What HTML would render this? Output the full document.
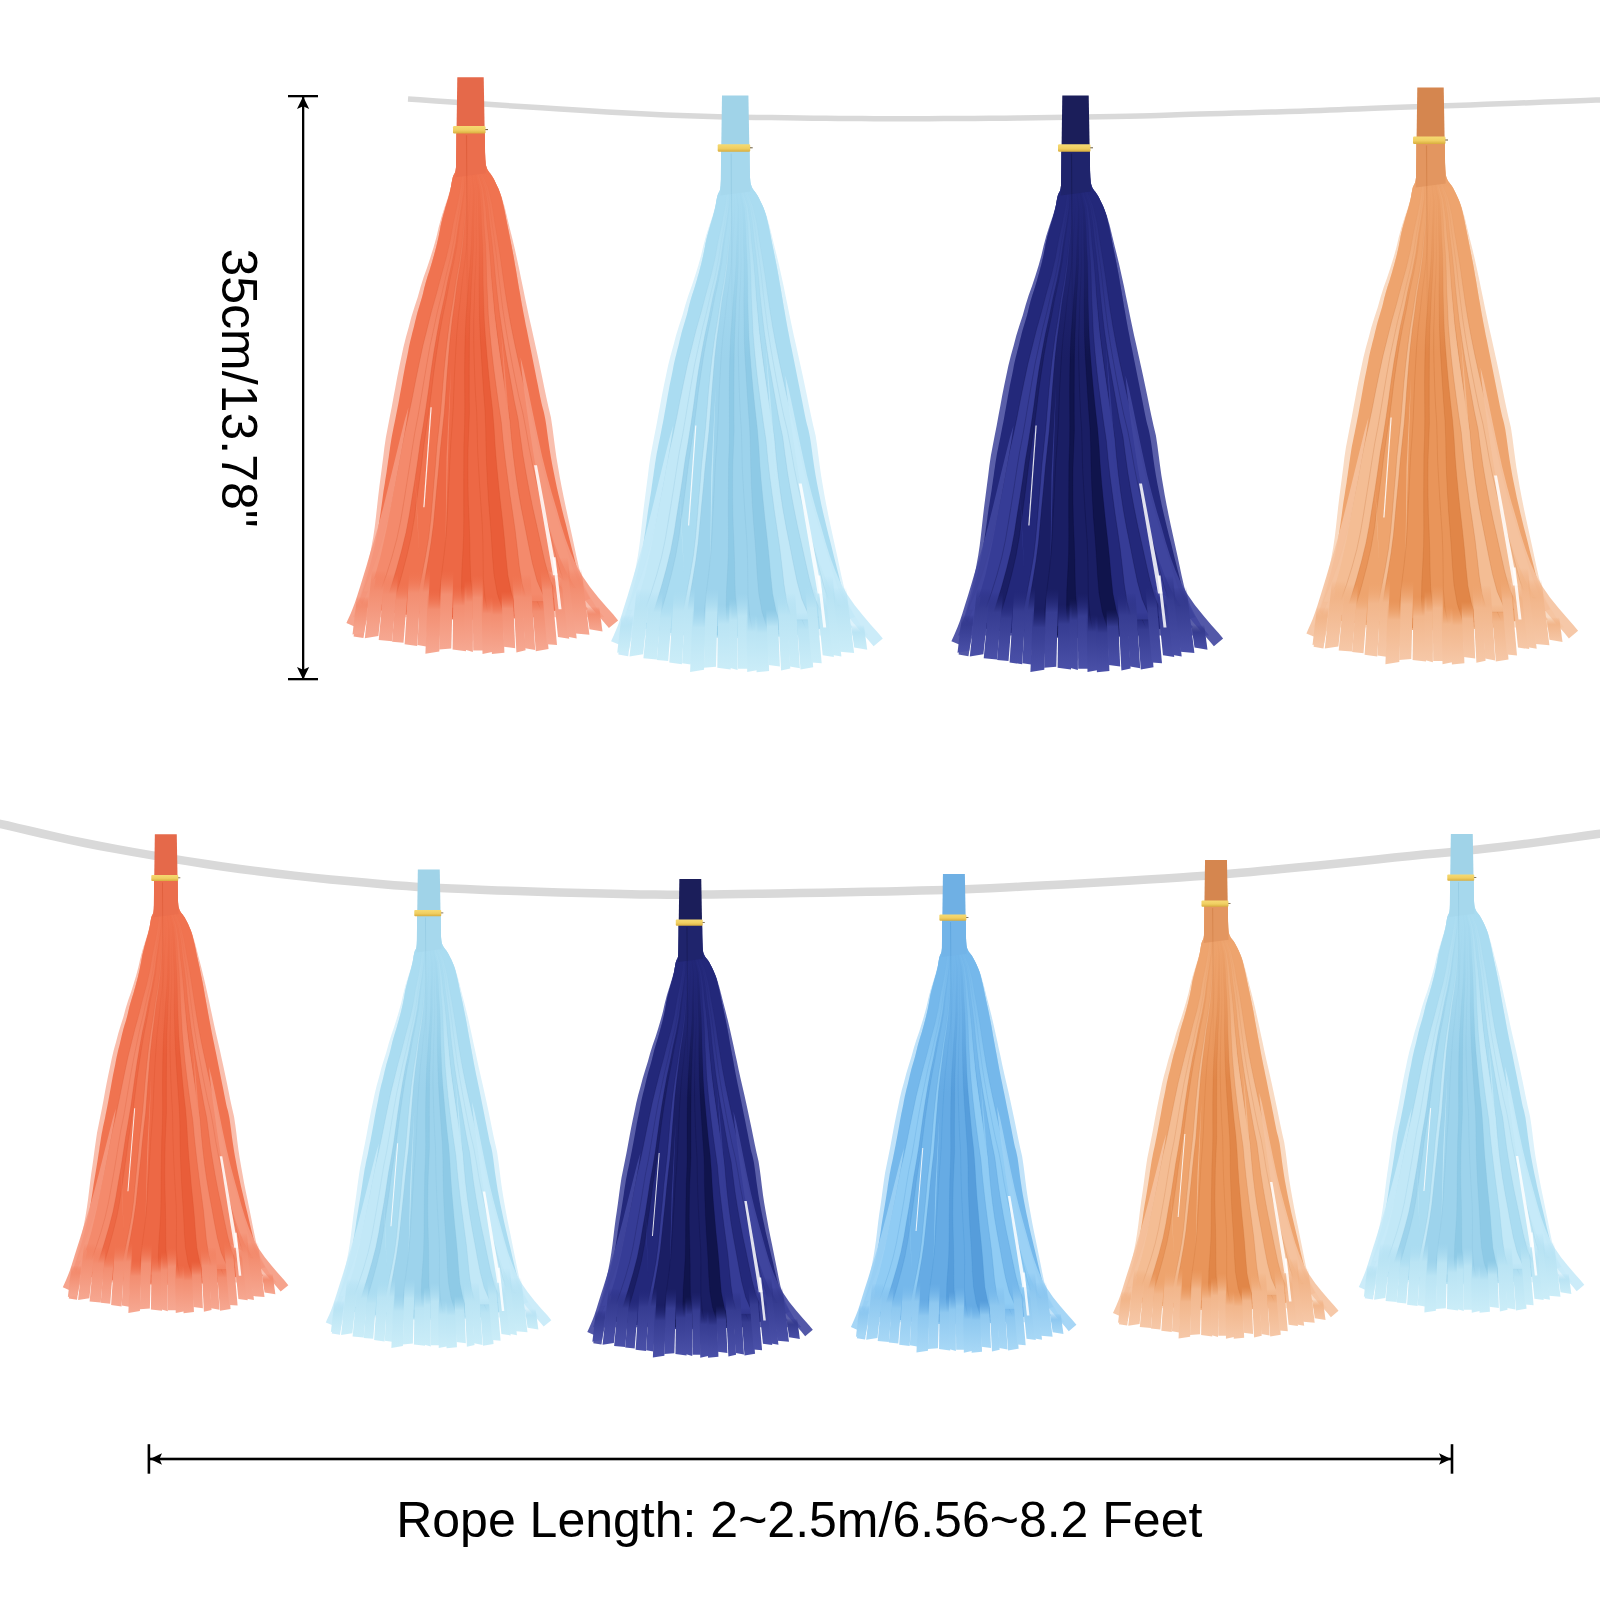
<!DOCTYPE html>
<html><head><meta charset="utf-8"><title>Tassel Garland</title><style>html,body{margin:0;padding:0;background:#fff;width:1600px;height:1600px;overflow:hidden}svg{display:block}text{font-family:"Liberation Sans",sans-serif;fill:#000}</style></head><body>
<svg width="1600" height="1600" viewBox="0 0 1600 1600">
<rect width="1600" height="1600" fill="#fff"/>
<defs>
<linearGradient id="tip0" gradientUnits="userSpaceOnUse" x1="0" y1="480" x2="0" y2="590"><stop offset="0" stop-color="#F6A892" stop-opacity="0"/><stop offset="0.6" stop-color="#F6A892" stop-opacity="0.55"/><stop offset="1" stop-color="#F6A892" stop-opacity="0.7"/></linearGradient>
<linearGradient id="tip1" gradientUnits="userSpaceOnUse" x1="0" y1="480" x2="0" y2="590"><stop offset="0" stop-color="#CBEDF8" stop-opacity="0"/><stop offset="0.6" stop-color="#CBEDF8" stop-opacity="0.55"/><stop offset="1" stop-color="#CBEDF8" stop-opacity="0.7"/></linearGradient>
<linearGradient id="tip2" gradientUnits="userSpaceOnUse" x1="0" y1="480" x2="0" y2="590"><stop offset="0" stop-color="#4A50A8" stop-opacity="0"/><stop offset="0.6" stop-color="#4A50A8" stop-opacity="0.55"/><stop offset="1" stop-color="#4A50A8" stop-opacity="0.7"/></linearGradient>
<linearGradient id="tip3" gradientUnits="userSpaceOnUse" x1="0" y1="480" x2="0" y2="590"><stop offset="0" stop-color="#F6C8A8" stop-opacity="0"/><stop offset="0.6" stop-color="#F6C8A8" stop-opacity="0.55"/><stop offset="1" stop-color="#F6C8A8" stop-opacity="0.7"/></linearGradient>
<linearGradient id="tip4" gradientUnits="userSpaceOnUse" x1="0" y1="480" x2="0" y2="590"><stop offset="0" stop-color="#F6A892" stop-opacity="0"/><stop offset="0.6" stop-color="#F6A892" stop-opacity="0.55"/><stop offset="1" stop-color="#F6A892" stop-opacity="0.7"/></linearGradient>
<linearGradient id="tip5" gradientUnits="userSpaceOnUse" x1="0" y1="480" x2="0" y2="590"><stop offset="0" stop-color="#CBEDF8" stop-opacity="0"/><stop offset="0.6" stop-color="#CBEDF8" stop-opacity="0.55"/><stop offset="1" stop-color="#CBEDF8" stop-opacity="0.7"/></linearGradient>
<linearGradient id="tip6" gradientUnits="userSpaceOnUse" x1="0" y1="480" x2="0" y2="590"><stop offset="0" stop-color="#4A50A8" stop-opacity="0"/><stop offset="0.6" stop-color="#4A50A8" stop-opacity="0.55"/><stop offset="1" stop-color="#4A50A8" stop-opacity="0.7"/></linearGradient>
<linearGradient id="tip7" gradientUnits="userSpaceOnUse" x1="0" y1="480" x2="0" y2="590"><stop offset="0" stop-color="#A8D8F6" stop-opacity="0"/><stop offset="0.6" stop-color="#A8D8F6" stop-opacity="0.55"/><stop offset="1" stop-color="#A8D8F6" stop-opacity="0.7"/></linearGradient>
<linearGradient id="tip8" gradientUnits="userSpaceOnUse" x1="0" y1="480" x2="0" y2="590"><stop offset="0" stop-color="#F6C8A8" stop-opacity="0"/><stop offset="0.6" stop-color="#F6C8A8" stop-opacity="0.55"/><stop offset="1" stop-color="#F6C8A8" stop-opacity="0.7"/></linearGradient>
<linearGradient id="tip9" gradientUnits="userSpaceOnUse" x1="0" y1="480" x2="0" y2="590"><stop offset="0" stop-color="#CBEDF8" stop-opacity="0"/><stop offset="0.6" stop-color="#CBEDF8" stop-opacity="0.55"/><stop offset="1" stop-color="#CBEDF8" stop-opacity="0.7"/></linearGradient>
<linearGradient id="end0" x1="0" y1="0" x2="0" y2="1"><stop offset="0" stop-color="#F07350" stop-opacity="0"/><stop offset="0.3" stop-color="#f38e71" stop-opacity="1"/><stop offset="1" stop-color="#F6A892" stop-opacity="1"/></linearGradient>
<linearGradient id="end1" x1="0" y1="0" x2="0" y2="1"><stop offset="0" stop-color="#AADCF1" stop-opacity="0"/><stop offset="0.3" stop-color="#bae4f4" stop-opacity="1"/><stop offset="1" stop-color="#CBEDF8" stop-opacity="1"/></linearGradient>
<linearGradient id="end2" x1="0" y1="0" x2="0" y2="1"><stop offset="0" stop-color="#23287A" stop-opacity="0"/><stop offset="0.3" stop-color="#363c91" stop-opacity="1"/><stop offset="1" stop-color="#4A50A8" stop-opacity="1"/></linearGradient>
<linearGradient id="end3" x1="0" y1="0" x2="0" y2="1"><stop offset="0" stop-color="#EEA46E" stop-opacity="0"/><stop offset="0.3" stop-color="#f2b68b" stop-opacity="1"/><stop offset="1" stop-color="#F6C8A8" stop-opacity="1"/></linearGradient>
<linearGradient id="end4" x1="0" y1="0" x2="0" y2="1"><stop offset="0" stop-color="#F07350" stop-opacity="0"/><stop offset="0.3" stop-color="#f38e71" stop-opacity="1"/><stop offset="1" stop-color="#F6A892" stop-opacity="1"/></linearGradient>
<linearGradient id="end5" x1="0" y1="0" x2="0" y2="1"><stop offset="0" stop-color="#AADCF1" stop-opacity="0"/><stop offset="0.3" stop-color="#bae4f4" stop-opacity="1"/><stop offset="1" stop-color="#CBEDF8" stop-opacity="1"/></linearGradient>
<linearGradient id="end6" x1="0" y1="0" x2="0" y2="1"><stop offset="0" stop-color="#23287A" stop-opacity="0"/><stop offset="0.3" stop-color="#363c91" stop-opacity="1"/><stop offset="1" stop-color="#4A50A8" stop-opacity="1"/></linearGradient>
<linearGradient id="end7" x1="0" y1="0" x2="0" y2="1"><stop offset="0" stop-color="#75B8EB" stop-opacity="0"/><stop offset="0.3" stop-color="#8ec8f0" stop-opacity="1"/><stop offset="1" stop-color="#A8D8F6" stop-opacity="1"/></linearGradient>
<linearGradient id="end8" x1="0" y1="0" x2="0" y2="1"><stop offset="0" stop-color="#EEA46E" stop-opacity="0"/><stop offset="0.3" stop-color="#f2b68b" stop-opacity="1"/><stop offset="1" stop-color="#F6C8A8" stop-opacity="1"/></linearGradient>
<linearGradient id="end9" x1="0" y1="0" x2="0" y2="1"><stop offset="0" stop-color="#AADCF1" stop-opacity="0"/><stop offset="0.3" stop-color="#bae4f4" stop-opacity="1"/><stop offset="1" stop-color="#CBEDF8" stop-opacity="1"/></linearGradient>
<clipPath id="tc0" clipPathUnits="userSpaceOnUse"><path d="M14.2,56 14.3,59.8 14.3,65.3 14.4,71.5 14.6,77.4 14.8,82 15.1,85.1 15.3,87.2 15.7,88.9 16.2,90.4 16.8,92 17.7,93.6 18.7,95 19.8,96.4 21,98 22.3,100 23.7,102.6 25.1,105.5 26.6,108.7 28.1,111.9 29.3,115 30.3,118 31.2,121 31.9,124 32.6,127 33.3,130 33.9,132.8 34.4,135.3 34.9,137.9 35.5,141 36.3,145 37.3,150 38.5,155.9 39.8,162.3 41.1,168.8 42.3,175 43.4,181 44.4,187 45.5,193 46.5,199 47.5,205 48.5,211 49.6,217 50.6,223 51.7,229 52.8,235 54,241 55.1,247 56.4,253 57.6,259 58.8,265 60,271 61.2,277 62.4,283 63.6,289 64.8,295 66,301.2 67.3,307.6 68.5,313.9 69.7,319.8 70.8,325 71.7,328.9 72.5,331.7 73.2,334.3 73.9,337.5 74.8,342 75.8,348.3 76.8,355.7 77.9,363.9 79.1,372.1 80.4,380 81.7,387.4 83.2,394.8 84.7,402.2 86.2,409.6 87.9,417 89.7,424.6 91.5,432.2 93.4,439.8 95.4,447.4 97.3,455 99.2,462.8 101.2,470.7 103.2,478.5 105,485.8 106.8,492 108.3,497 109.6,500.9 110.9,504.3 112.3,507.5 114,511 115.7,514.4 116.3,515.4 117.2,517 118.3,519 119.9,521.6 110,524.7 97.3,528 88.1,531.7 80,535.6 70.8,538.7 59.2,540.3 46.3,541.1 33.5,541.6 21,542.2 8.5,542.6 -4,542.6 -16.5,542.3 -29,541.6 -41.5,540.6 -54.4,539 -67.2,537 -79,535 -89.6,533.4 -99.1,531.8 -107,529 -111.4,523.7 -109.1,517.2 -107.5,512.6 -107,511 -105.8,507.2 -104.7,503.4 -103.6,499.6 -102.5,495.8 -101.5,492 -100.5,488.2 -99.5,484.4 -98.6,480.5 -97.7,476.7 -96.8,473 -96,469.4 -95.2,465.8 -94.4,462.2 -93.7,458.6 -93,455 -92.3,451.3 -91.7,447.5 -91.1,443.6 -90.6,439.8 -90,436 -89.5,432.2 -88.9,428.4 -88.4,424.5 -87.9,420.7 -87.4,417 -86.9,413.4 -86.3,409.8 -85.7,406.2 -85.2,402.6 -84.6,399 -84,395.3 -83.5,391.5 -82.9,387.6 -82.4,383.8 -81.8,380 -81.3,376.2 -80.7,372.4 -80.2,368.6 -79.6,364.8 -79,361 -78.3,357.2 -77.5,353.4 -76.8,349.6 -76,345.8 -75.2,342 -74.5,338.3 -73.8,334.8 -73.1,331.2 -72.3,327.4 -71.5,323 -70.6,317.8 -69.5,311.8 -68.4,305.7 -67.4,299.9 -66.5,295 -65.8,291.2 -65.2,288.1 -64.6,285.4 -64.1,282.8 -63.5,280 -62.9,277 -62.3,274 -61.8,271 -61.2,268 -60.5,265 -59.8,262 -59,259 -58.3,256 -57.5,253 -56.7,250 -56,247 -55.3,244 -54.5,241 -53.8,238 -53,235 -52.1,232 -51.2,229 -50.3,226 -49.4,223 -48.5,220 -47.7,217 -47,214 -46.3,211 -45.5,208 -44.7,205 -43.8,202 -42.9,199 -41.9,196 -40.9,193 -40,190 -39.1,187 -38.2,184 -37.4,181 -36.5,178 -35.7,175 -34.9,172 -34.1,169 -33.4,166 -32.7,163 -32,160 -31.4,157 -30.8,154 -30.2,151 -29.7,148 -29,145 -28.3,142 -27.5,139 -26.7,136 -25.8,133 -25,130 -24.1,127 -23.2,124 -22.3,121 -21.5,118 -20.7,115 -20,111.9 -19.4,108.8 -18.9,105.6 -18.3,102.7 -17.7,100 -17,98.1 -16.3,96.8 -15.6,95.5 -15,93.5 -14.5,90 -14.2,84.2 -14.1,76.5 -14,68.3 -14,61 -14,56Z"/>
<path d="M-7.1,58 -7.6,75.6 -8,93.1 -10.1,110.7 -13.4,128.3 -17.2,145.8 -20.3,163.4 -24.4,180.9 -29.3,198.5 -33.9,216.1 -38.9,233.6 -43.3,251.2 -47.7,268.8 -51.4,286.3 -55,303.9 -58.4,321.4 -62.1,339 -66.1,356.6 -69.5,374.1 -72.7,391.7 -76.2,409.3 -79.7,426.8 -83.4,444.4 -88,461.9 -93.6,479.5 -100.1,497.1 -107.6,514.6 -90.2,514.6 -84,497.1 -78.5,479.5 -73.7,461.9 -70,444.4 -67,426.8 -64.2,409.3 -61.4,391.7 -58.7,374.1 -55.9,356.6 -52.5,339 -49.5,321.4 -46.6,303.9 -43.6,286.3 -40.5,268.8 -36.7,251.2 -32.9,233.6 -28.5,216.1 -24.5,198.5 -20.1,180.9 -16.6,163.4 -13.9,145.8 -10.6,128.3 -7.9,110.7 -6.5,93.1 -6.3,75.6 -5.9,58Z"/>
<path d="M-6.7,58 -7.1,76.1 -7.5,94.1 -9.5,112.2 -12.9,130.2 -16.5,148.3 -19.6,166.4 -23.8,184.4 -28.7,202.5 -33,220.6 -37.8,238.6 -42,256.7 -45.8,274.7 -49.2,292.8 -52.5,310.9 -55.8,328.9 -59.4,347 -63.3,365 -66.5,383.1 -70,401.2 -73.8,419.2 -77.5,437.3 -81.9,455.3 -87.3,473.4 -93.6,491.5 -100.5,509.5 -108.6,527.6 -85.4,527.6 -79.4,509.5 -73.9,491.5 -68.9,473.4 -64.5,455.3 -61.1,437.3 -58.3,419.2 -55.4,401.2 -52.7,383.1 -50.2,365 -47.1,347 -44.3,328.9 -41.7,310.9 -39.3,292.8 -36.6,274.7 -33.5,256.7 -30.1,238.6 -26.1,220.6 -22.5,202.5 -18.3,184.4 -14.8,166.4 -12.3,148.3 -9.3,130.2 -6.6,112.2 -5.6,94.1 -5.5,76.1 -5.2,58Z"/>
<path d="M-6,58 -6.3,76.1 -6.5,94.1 -8,112.2 -11,130.2 -14.3,148.3 -17,166.3 -20.7,184.4 -25.2,202.4 -28.9,220.5 -33.1,238.5 -36.7,256.6 -40,274.6 -43,292.7 -45.8,310.8 -48.8,328.8 -52.3,346.9 -56.1,364.9 -59.3,383 -62.8,401 -66.5,419.1 -70.1,437.1 -74,455.2 -78.8,473.2 -84.1,491.3 -89.7,509.3 -95.9,527.4 -70.5,527.4 -66.5,509.3 -62.5,491.3 -58.5,473.2 -54.9,455.2 -52,437.1 -49.5,419.1 -46.7,401 -44.1,383 -41.7,364.9 -38.7,346.9 -36.2,328.8 -34,310.8 -32,292.7 -29.8,274.6 -27.4,256.6 -24.7,238.5 -21.3,220.5 -18.4,202.4 -14.7,184.4 -11.8,166.3 -9.7,148.3 -7.1,130.2 -4.8,112.2 -4.4,94.1 -4.5,76.1 -4.3,58Z"/>
<path d="M-4.9,58 -5.1,76.3 -5.1,94.6 -5.8,112.9 -8.4,131.2 -11.2,149.5 -13.5,167.8 -16.9,186 -20.9,204.3 -24.3,222.6 -28.1,240.9 -31.4,259.2 -34.2,277.5 -36.8,295.8 -39,314.1 -41.4,332.4 -44.1,350.7 -46.8,369 -49,387.3 -51.4,405.5 -53.9,423.8 -56.3,442.1 -59.5,460.4 -63.7,478.7 -68.5,497 -73.7,515.3 -79.3,533.6 -55.4,533.6 -52,515.3 -48.4,497 -44.9,478.7 -41.8,460.4 -39.7,442.1 -38.1,423.8 -36.6,405.5 -35,387.3 -33.6,369 -31.6,350.7 -29.7,332.4 -28.2,314.1 -26.7,295.8 -24.9,277.5 -22.8,259.2 -20.4,240.9 -17.4,222.6 -14.7,204.3 -11.4,186 -8.7,167.8 -6.9,149.5 -4.8,131.2 -2.9,112.9 -3.1,94.6 -3.5,76.3 -3.3,58Z"/>
<path d="M-4.2,58 -4.4,76.3 -4.2,94.6 -4.5,112.9 -6.8,131.3 -9.2,149.6 -11.1,167.9 -14,186.2 -17.4,204.5 -20.3,222.8 -23.4,241.1 -26.1,259.5 -28.4,277.8 -30.7,296.1 -32.9,314.4 -35.2,332.7 -38.2,351 -41.2,369.3 -43.7,387.7 -46.3,406 -48.7,424.3 -50.9,442.6 -53.4,460.9 -56.4,479.2 -59.6,497.5 -62.8,515.9 -65.7,534.2 -36.9,534.2 -36.6,515.9 -35.5,497.5 -33.8,479.2 -32.1,460.9 -30.8,442.6 -29.8,424.3 -28.4,406 -26.9,387.7 -25.2,369.3 -23.1,351 -21.2,332.7 -19.8,314.4 -18.6,296.1 -17.2,277.8 -15.8,259.5 -14.1,241.1 -11.9,222.8 -9.9,204.5 -7.3,186.2 -5.3,167.9 -4.1,149.6 -2.4,131.3 -1,112.9 -1.8,94.6 -2.5,76.3 -2.3,58Z"/>
<path d="M-3.1,58 -3.3,76.5 -2.7,95 -2.4,113.5 -4.1,132 -6.1,150.5 -7.7,169 -10.2,187.5 -13.3,206 -15.7,224.5 -18.3,243 -20.4,261.5 -22,280 -23.5,298.5 -24.8,317 -26.2,335.5 -28.2,354 -30.2,372.6 -31.8,391.1 -33.6,409.6 -35.3,428.1 -37,446.6 -39.4,465.1 -42.4,483.6 -45.6,502.1 -48.4,520.6 -50.6,539.1 -23.3,539.1 -23.9,520.6 -23.1,502.1 -21.4,483.6 -19.7,465.1 -18.4,446.6 -17.7,428.1 -17,409.6 -16.2,391.1 -15.4,372.6 -14.3,354 -13.2,335.5 -12.8,317 -12.3,298.5 -11.7,280 -10.9,261.5 -9.7,243 -8,224.5 -6.3,206 -4.1,187.5 -2.3,169 -1.4,150.5 -0.1,132 0.9,113.5 -0.5,95 -1.5,76.5 -1.4,58Z"/>
<path d="M-2.5,58 -2.6,76.5 -1.8,94.9 -1,113.4 -2.4,131.8 -4,150.3 -5.3,168.8 -7.5,187.2 -10.3,205.7 -12.5,224.1 -15,242.6 -16.9,261.1 -18.4,279.5 -19.7,298 -20.8,316.5 -21.7,334.9 -23.2,353.4 -24.4,371.8 -25.2,390.3 -26,408.8 -26.7,427.2 -27.5,445.7 -28.9,464.1 -31.1,482.6 -33.8,501.1 -36.2,519.5 -38,538 -8.5,538 -9.5,519.5 -9.3,501.1 -8.3,482.6 -7.4,464.1 -7.2,445.7 -7.7,427.2 -8,408.8 -8.3,390.3 -8.4,371.8 -8,353.4 -7.5,334.9 -7.6,316.5 -7.5,298 -7.1,279.5 -6.6,261.1 -5.6,242.6 -4.1,224.1 -2.7,205.7 -0.8,187.2 0.6,168.8 1.1,150.3 2,131.8 2.5,113.4 0.5,94.9 -0.6,76.5 -0.7,58Z"/>
<path d="M-1.5,58 -1.5,76.5 -0.5,95.1 0.9,113.6 0,132.1 -1.2,150.7 -2,169.2 -3.6,187.7 -5.7,206.3 -7.3,224.8 -8.9,243.4 -10.1,261.9 -10.9,280.4 -11.6,299 -12.2,317.5 -12.8,336 -14.1,354.6 -15.3,373.1 -16.2,391.6 -17,410.2 -17.5,428.7 -17.9,447.2 -18.7,465.8 -20,484.3 -21.1,502.8 -21.3,521.4 -20.1,539.9 9.7,539.9 5.6,521.4 3.5,502.8 3,484.3 2.9,465.8 2.4,447.2 1.7,428.7 1.1,410.2 0.9,391.6 0.7,373.1 1.1,354.6 1.5,336 1,317.5 0.6,299 0.4,280.4 0.3,261.9 0.5,243.4 1.2,224.8 1.9,206.3 3.1,187.7 3.9,169.2 4,150.7 4.4,132.1 4.5,113.6 1.9,95.1 0.4,76.5 0.3,58Z"/>
<path d="M-0.9,58 -0.8,76.5 0.4,95.1 2.3,113.6 1.7,132.2 0.8,150.7 0.2,169.3 -1.2,187.8 -3,206.4 -4.3,224.9 -5.7,243.4 -6.6,262 -7.1,280.5 -7.4,299.1 -7.5,317.6 -7.4,336.2 -8.1,354.7 -8.7,373.3 -8.8,391.8 -9,410.3 -8.9,428.9 -8.8,447.4 -9.4,466 -10.4,484.5 -11.5,503.1 -11.5,521.6 -10,540.2 22.4,540.2 17.7,521.6 15.3,503.1 14.5,484.5 14.1,466 13.2,447.4 11.9,428.9 10.6,410.3 9.6,391.8 8.8,373.3 8.4,354.7 8,336.2 6.8,317.6 5.9,299.1 5.2,280.5 4.7,262 4.5,243.4 4.9,224.9 5.2,206.4 6.1,187.8 6.6,169.3 6.4,150.7 6.5,132.2 6.1,113.6 3,95.1 1.3,76.5 1.1,58Z"/>
<path d="M-0.1,58 0,76.5 1.4,94.9 3.8,113.4 3.6,131.9 3.1,150.4 3,168.8 2.1,187.3 0.9,205.8 0.1,224.3 -0.7,242.7 -1.1,261.2 -1.2,279.7 -1.3,298.2 -1.3,316.6 -1.1,335.1 -1.8,353.6 -2.5,372 -2.6,390.5 -2.5,409 -2.1,427.5 -1.3,445.9 -0.7,464.4 -0.4,482.9 0.2,501.4 2.2,519.8 6,538.3 35.5,538.3 28.9,519.8 24.7,501.4 22.5,482.9 20.8,464.4 19,445.9 17,427.5 15.5,409 14.4,390.5 13.6,372 13.4,353.6 13.1,335.1 11.9,316.6 11,298.2 10.1,279.7 9.3,261.2 8.7,242.7 8.6,224.3 8.5,205.8 8.8,187.3 8.9,168.8 8.3,150.4 8,131.9 7.3,113.4 3.7,94.9 2,76.5 1.7,58Z"/>
<path d="M0.7,58 1,76.5 2.6,95 5.6,113.5 5.9,131.9 5.7,150.4 5.9,168.9 5.3,187.4 4.3,205.9 3.8,224.4 3.2,242.9 3.2,261.4 3.6,279.8 4.2,298.3 5,316.8 6.2,335.3 6.7,353.8 7.1,372.3 8.1,390.8 9.2,409.3 10.4,427.7 11.7,446.2 12.4,464.7 12.6,483.2 12.8,501.7 14.4,520.2 17.9,538.7 47.5,538.7 41.1,520.2 37.3,501.7 35.5,483.2 33.9,464.7 31.9,446.2 29.5,427.7 27.2,409.3 25.1,390.8 23.2,372.3 21.8,353.8 20.4,335.3 18.2,316.8 16.4,298.3 14.9,279.8 13.6,261.4 12.6,242.9 12.2,224.4 11.9,205.9 12,187.4 11.7,168.9 10.9,150.4 10.3,131.9 9.1,113.5 4.9,95 2.9,76.5 2.6,58Z"/>
<path d="M1.7,58 1.9,76.3 3.6,94.6 7.3,112.9 8.1,131.3 8.3,149.6 8.9,167.9 8.9,186.2 8.6,204.5 8.8,222.8 9,241.1 9.7,259.4 10.8,277.8 11.9,296.1 13.1,314.4 14.5,332.7 15.2,351 15.5,369.3 16.1,387.6 17,405.9 18.1,424.3 19.6,442.6 20.9,460.9 22,479.2 23.5,497.5 26.7,515.8 32.3,534.1 58.8,534.1 50.7,515.8 45.7,497.5 42.8,479.2 40.4,460.9 37.9,442.6 35.4,424.3 33.4,405.9 31.6,387.6 30.1,369.3 29,351 27.4,332.7 25.1,314.4 23,296.1 21,277.8 19.1,259.4 17.5,241.1 16.5,222.8 15.5,204.5 15,186.2 14.3,167.9 13,149.6 12.1,131.3 10.5,112.9 5.8,94.6 3.7,76.3 3.4,58Z"/>
<path d="M2.6,58 2.9,76.3 4.9,94.7 9.2,113 10.5,131.3 11.1,149.7 12.1,168 12.5,186.4 12.6,204.7 13.1,223 13.7,241.4 14.9,259.7 16.4,278 18.1,296.4 20,314.7 22.1,333 23.6,351.4 24.7,369.7 26.2,388 28,406.4 29.9,424.7 32,443.1 33.9,461.4 35.5,479.7 37.4,498.1 41.1,516.4 47.4,534.7 71.5,534.7 63,516.4 57.5,498.1 54.4,479.7 51.7,461.4 48.7,443.1 45.6,424.7 42.8,406.4 40.3,388 38,369.7 36.2,351.4 33.8,333 30.8,314.7 28.2,296.4 25.7,278 23.5,259.7 21.5,241.4 20.1,223 18.8,204.7 18,186.4 16.9,168 15.4,149.7 14.1,131.3 12.1,113 6.9,94.7 4.6,76.3 4.1,58Z"/>
<path d="M3.4,58 3.9,75.9 5.8,93.9 10.7,111.8 12.6,129.8 13.5,147.7 14.9,165.6 15.7,183.6 16.1,201.5 17,219.4 17.8,237.4 19.3,255.3 21.1,273.3 23.2,291.2 25.6,309.1 28.1,327.1 30.8,345 32.5,363 34.5,380.9 36.9,398.8 39.3,416.8 42,434.7 44.6,452.7 46.7,470.6 48.7,488.5 51.5,506.5 56.8,524.4 79.6,524.4 72.4,506.5 68.2,488.5 65,470.6 61.8,452.7 58.3,434.7 54.7,416.8 51.4,398.8 48.2,380.9 45.5,363 43.1,345 39.5,327.1 36.2,309.1 33.1,291.2 30.3,273.3 27.7,255.3 25.5,237.4 23.8,219.4 22.3,201.5 21.1,183.6 19.6,165.6 17.7,147.7 16.1,129.8 13.6,111.8 7.7,93.9 5.5,75.9 5,58Z"/>
<path d="M4.5,58 5,75.8 7,93.7 12.7,111.5 15.1,129.3 16.5,147.2 18.4,165 19.9,182.8 21.1,200.7 22.7,218.5 24.3,236.3 26.5,254.2 28.9,272 31.4,289.8 34,307.7 36.6,325.5 39.4,343.3 41,361.2 42.9,379 45.2,396.8 47.9,414.7 51.1,432.5 54.7,450.3 58.2,468.2 61.9,486 66.7,503.8 74.4,521.7 94.6,521.7 85.2,503.8 79.2,486 74.5,468.2 70.1,450.3 65.7,432.5 61.7,414.7 58.2,396.8 55.2,379 52.7,361.2 50.4,343.3 46.8,325.5 43.5,307.7 40.3,289.8 37.1,272 34,254.2 31.1,236.3 28.8,218.5 26.6,200.7 24.8,182.8 22.7,165 20.3,147.2 18.3,129.3 15.2,111.5 8.7,93.7 6.4,75.8 5.9,58Z"/>
<path d="M5.4,58 6,75.7 8.2,93.5 14.4,111.2 17.3,128.9 19.2,146.7 21.4,164.4 23.3,182.1 24.9,199.9 26.8,217.6 28.9,235.3 31.5,253.1 34.3,270.8 37.4,288.5 40.6,306.3 43.8,324 47.5,341.7 49.8,359.4 52.3,377.2 55.3,394.9 58.6,412.6 62.2,430.4 66.2,448.1 70.1,465.8 74.1,483.6 79,501.3 86.8,519 104.5,519 95.3,501.3 89.4,483.6 84.5,465.8 79.8,448.1 75.1,430.4 70.7,412.6 66.7,394.9 63.2,377.2 60.1,359.4 57.2,341.7 52.8,324 49,306.3 45.2,288.5 41.6,270.8 38.1,253.1 34.9,235.3 32.2,217.6 29.8,199.9 27.6,182.1 25.2,164.4 22.5,146.7 20.2,128.9 16.7,111.2 9.7,93.5 7.3,75.7 6.7,58Z"/>
<path d="M6.2,58 6.8,75.4 8.9,92.8 15.7,110.2 19.2,127.5 21.3,144.9 23.8,162.3 26.1,179.7 28,197.1 30.1,214.5 32.3,231.8 35,249.2 38,266.6 41.2,284 44.6,301.4 48.2,318.8 52.4,336.1 55.7,353.5 58.7,370.9 62.2,388.3 66.3,405.7 70.6,423.1 75.3,440.4 80,457.8 84.5,475.2 89.3,492.6 95.7,510 110.5,510 103.1,492.6 97.5,475.2 92.3,457.8 86.9,440.4 81.6,423.1 76.6,405.7 72.1,388.3 68,370.9 64.5,353.5 60.7,336.1 55.9,318.8 51.9,301.4 48,284 44.2,266.6 40.7,249.2 37.5,231.8 34.7,214.5 32.2,197.1 29.8,179.7 27.1,162.3 24.2,144.9 21.6,127.5 17.6,110.2 10.2,92.8 7.9,75.4 7.3,58Z"/>
<path d="M-4,58 -4.1,76.3 -3.8,94.5 -3.9,112.8 -6,131 -8.3,149.3 -10.2,167.5 -13,185.8 -16.4,204 -19.3,222.3 -22.4,240.6 -25,258.8 -27.2,277.1 -29.1,295.3 -30.8,313.6 -32.6,331.8 -34.9,350.1 -37.2,368.4 -39.1,386.6 -41.1,404.9 -43.2,423.1 -45.2,441.4 -47.8,459.6 -51.2,477.9 -55,496.1 -58.9,514.4 -62.8,532.7 -24.7,532.7 -24.3,514.4 -23,496.1 -21.2,477.9 -19.5,459.6 -18.6,441.4 -18.1,423.1 -17.4,404.9 -16.8,386.6 -16,368.4 -14.9,350.1 -14,331.8 -13.5,313.6 -13,295.3 -12.3,277.1 -11.3,258.8 -10,240.6 -8.1,222.3 -6.4,204 -4.2,185.8 -2.4,167.5 -1.5,149.3 -0.2,131 0.7,112.8 -0.7,94.5 -1.5,76.3 -1.5,58Z"/>
<path d="M-1.7,58 -1.7,76.3 -0.8,94.5 0.6,112.8 -0.3,131.1 -1.6,149.3 -2.4,167.6 -4,185.9 -6.1,204.1 -7.6,222.4 -9.4,240.6 -10.6,258.9 -11.5,277.2 -12.3,295.4 -13,313.7 -13.8,332 -15,350.2 -16.5,368.5 -17.5,386.8 -18.5,405 -19.3,423.3 -19.8,441.6 -20.5,459.8 -21.7,478.1 -23,496.3 -23.6,514.6 -23.1,532.9 19.8,532.9 15.5,514.6 13.1,496.3 12.1,478.1 11.3,459.8 10.2,441.6 9,423.3 8.2,405 7.6,386.8 7.3,368.5 7.5,350.2 7.2,332 6.5,313.7 5.8,295.4 5.2,277.2 4.7,258.9 4.6,240.6 4.9,222.4 5.2,204.1 6,185.9 6.3,167.6 6.1,149.3 6.2,131.1 5.8,112.8 2.7,94.5 1.2,76.3 1.1,58Z"/>
<path d="M-0,58 0.2,76.3 1.5,94.6 4.1,112.9 4.1,131.3 3.6,149.6 3.5,167.9 2.6,186.2 1.2,204.5 0.4,222.8 -0.6,241.1 -1,259.5 -1.1,277.8 -0.9,296.1 -0.5,314.4 0.1,332.7 0.3,351 0.2,369.4 0.7,387.7 1.2,406 1.9,424.3 2.7,442.6 3.1,460.9 2.8,479.2 2.4,497.6 2.9,515.9 4.9,534.2 43.3,534.2 37.8,515.9 34.6,497.6 33,479.2 31.5,460.9 29.4,442.6 27.1,424.3 25,406 23.1,387.7 21.5,369.4 20.3,351 18.8,332.7 16.9,314.4 15.3,296.1 13.9,277.8 12.7,259.5 11.8,241.1 11.6,222.8 11.3,204.5 11.4,186.2 11.2,167.9 10.4,149.6 9.9,131.3 8.8,112.9 4.6,94.6 2.8,76.3 2.5,58Z"/>
<path d="M-5.6,58 -5.9,76 -6,94 -7.3,112.1 -10.1,130.1 -13.2,148.1 -15.8,166.1 -19.3,184.2 -23.6,202.2 -27.2,220.2 -31.3,238.2 -34.7,256.3 -37.8,274.3 -40.7,292.3 -43.3,310.3 -46,328.4 -49.2,346.4 -52.7,364.4 -55.6,382.4 -58.6,400.4 -62,418.5 -65.1,436.5 -68.7,454.5 -73.2,472.5 -78.3,490.6 -83.7,508.6 -89.7,526.6 -62,526.6 -58.4,508.6 -54.7,490.6 -51.1,472.5 -47.9,454.5 -45.5,436.5 -43.4,418.5 -41.1,400.4 -39,382.4 -37,364.4 -34.4,346.4 -32.3,328.4 -30.5,310.3 -28.7,292.3 -26.8,274.3 -24.6,256.3 -22.1,238.2 -18.9,220.2 -16.2,202.2 -12.8,184.2 -10,166.1 -8.2,148.1 -5.8,130.1 -3.8,112.1 -3.7,94 -4,76 -3.8,58Z"/>
<path d="M1.8,58 2.1,76.2 3.8,94.3 7.7,112.5 8.6,130.6 9,148.8 9.8,166.9 10,185.1 9.8,203.2 10.1,221.4 10.4,239.5 11.1,257.7 12.1,275.8 13.2,294 14.3,312.1 15.5,330.3 16.4,348.4 16.5,366.6 17.2,384.7 18.3,402.9 19.6,421 21.5,439.2 23.5,457.3 25.2,475.5 27.3,493.6 30.7,511.8 36.3,529.9 69.2,529.9 60.6,511.8 55,493.6 51.3,475.5 48,457.3 44.6,439.2 41.5,421 38.9,402.9 36.7,384.7 35,366.6 33.7,348.4 31.7,330.3 29.4,312.1 27.2,294 25,275.8 23,257.7 21.1,239.5 19.8,221.4 18.5,203.2 17.7,185.1 16.5,166.9 14.9,148.8 13.7,130.6 11.7,112.5 6.5,94.3 4.4,76.2 4,58Z"/>
<path d="M4.7,58 5.2,75.5 7.1,93.1 12.9,110.6 15.6,128.1 17.1,145.7 19,163.2 20.5,180.7 21.6,198.2 23,215.8 24.5,233.3 26.5,250.8 28.8,268.4 31.4,285.9 34.2,303.4 37.2,321 40.7,338.5 43.1,356 45.5,373.5 48.3,391.1 51.5,408.6 54.9,426.1 58.4,443.7 61.8,461.2 65,478.7 68.4,496.3 73.7,513.8 95.3,513.8 88.4,496.3 83.8,478.7 79.6,461.2 75.2,443.7 70.7,426.1 66.4,408.6 62.5,391.1 58.9,373.5 55.8,356 52.6,338.5 48.3,321 44.6,303.4 41.1,285.9 37.8,268.4 34.7,250.8 31.9,233.3 29.7,215.8 27.6,198.2 25.8,180.7 23.7,163.2 21.2,145.7 19.1,128.1 15.7,110.6 9,93.1 6.8,75.5 6.3,58Z"/>
<path d="M-2.1,58 -2.1,76.2 -1.4,94.4 -0.2,112.6 -1.3,130.8 -2.8,149 -3.8,167.2 -5.7,185.4 -8.2,203.6 -10.1,221.8 -12.2,239.9 -13.8,258.1 -14.9,276.3 -15.9,294.5 -16.6,312.7 -17.3,330.9 -18.4,349.1 -19.8,367.3 -20.7,385.5 -21.5,403.7 -22.5,421.9 -23.2,440.1 -24.4,458.3 -26.3,476.5 -28.6,494.7 -30.5,512.9 -31.7,531.1 -8.1,531.1 -9,512.9 -8.7,494.7 -7.7,476.5 -6.9,458.3 -6.7,440.1 -6.8,421.9 -6.8,403.7 -6.7,385.5 -6.6,367.3 -5.9,349.1 -5.7,330.9 -5.8,312.7 -5.9,294.5 -5.7,276.3 -5.3,258.1 -4.5,239.9 -3.1,221.8 -1.9,203.6 -0.2,185.4 1,167.2 1.5,149 2.3,130.8 2.7,112.6 0.6,94.4 -0.5,76.2 -0.5,58Z"/>
</clipPath>
<clipPath id="tc1" clipPathUnits="userSpaceOnUse"><path d="M14.2,56 14.3,59.8 14.3,65.3 14.4,71.5 14.6,77.4 14.8,82 15.1,85.1 15.4,87.2 15.8,88.9 16.3,90.4 17,92 17.9,93.6 18.9,95 20.1,96.4 21.3,98 22.6,100 24,102.6 25.5,105.5 27.1,108.7 28.5,111.9 29.8,115 30.9,118 31.8,121 32.6,124 33.3,127 34,130 34.7,132.8 35.2,135.3 35.8,137.9 36.4,141 37.2,145 38.3,150 39.6,155.9 41,162.3 42.3,168.8 43.6,175 44.8,181 45.9,187 46.9,193 48,199 49.1,205 50.2,211 51.3,217 52.4,223 53.5,229 54.6,235 55.8,241 57,247 58.3,253 59.5,259 60.8,265 62,271 63.2,277 64.4,283 65.6,289 66.8,295 68,301.2 69.3,307.6 70.5,313.9 71.7,319.8 72.7,325 73.6,328.9 74.4,331.7 75.1,334.3 75.8,337.5 76.7,342 77.6,348.3 78.6,355.7 79.6,363.9 80.8,372.1 82,380 83.2,387.4 84.6,394.8 86,402.2 87.5,409.6 89.1,417 90.7,424.6 92.5,432.2 94.3,439.8 96.1,447.4 98,455 99.8,462.8 101.6,470.7 103.5,478.5 105.3,485.8 106.9,492 108.4,497 109.6,500.9 110.9,504.3 112.3,507.5 114,511 115.7,514.4 116.3,515.4 117.2,517 118.3,519 119.9,521.6 110,524.7 97.3,528 88.1,531.7 80,535.6 70.8,538.7 59.2,540.3 46.3,541.1 33.5,541.6 21,542.2 8.5,542.6 -4,542.6 -16.5,542.3 -29,541.6 -41.5,540.6 -54.4,539 -67.2,537 -79,535 -89.6,533.4 -99.1,531.8 -107,529 -111.4,523.7 -109.1,517.2 -107.5,512.6 -107,511 -105.8,507.2 -104.7,503.4 -103.6,499.6 -102.5,495.8 -101.4,492 -100.3,488.2 -99.3,484.4 -98.3,480.5 -97.3,476.7 -96.4,473 -95.5,469.4 -94.7,465.8 -93.9,462.2 -93.1,458.6 -92.3,455 -91.6,451.3 -91,447.5 -90.3,443.6 -89.7,439.8 -89.1,436 -88.5,432.2 -87.9,428.4 -87.4,424.5 -86.8,420.7 -86.2,417 -85.6,413.4 -85,409.8 -84.4,406.2 -83.8,402.6 -83.2,399 -82.6,395.3 -82,391.5 -81.4,387.6 -80.8,383.8 -80.2,380 -79.7,376.2 -79.1,372.4 -78.5,368.6 -77.9,364.8 -77.3,361 -76.5,357.2 -75.8,353.4 -75,349.6 -74.1,345.8 -73.3,342 -72.6,338.3 -71.9,334.8 -71.2,331.2 -70.4,327.4 -69.6,323 -68.6,317.8 -67.5,311.8 -66.4,305.7 -65.4,299.9 -64.5,295 -63.8,291.2 -63.2,288.1 -62.6,285.4 -62.1,282.8 -61.5,280 -60.9,277 -60.4,274 -59.8,271 -59.2,268 -58.5,265 -57.8,262 -57.1,259 -56.3,256 -55.5,253 -54.8,250 -54.1,247 -53.4,244 -52.7,241 -51.9,238 -51.2,235 -50.3,232 -49.4,229 -48.5,226 -47.6,223 -46.8,220 -46,217 -45.3,214 -44.6,211 -43.9,208 -43.1,205 -42.2,202 -41.3,199 -40.4,196 -39.4,193 -38.5,190 -37.7,187 -36.8,184 -36,181 -35.2,178 -34.4,175 -33.6,172 -32.9,169 -32.2,166 -31.5,163 -30.9,160 -30.3,157 -29.7,154 -29.2,151 -28.7,148 -28.1,145 -27.4,142 -26.6,139 -25.9,136 -25.1,133 -24.3,130 -23.4,127 -22.6,124 -21.7,121 -20.9,118 -20.2,115 -19.5,111.9 -19,108.8 -18.5,105.6 -18,102.7 -17.4,100 -16.8,98.1 -16.1,96.8 -15.4,95.5 -14.8,93.5 -14.4,90 -14.2,84.2 -14.1,76.5 -14,68.3 -14,61 -14,56Z"/>
<path d="M-7.1,58 -7.6,75.6 -7.8,93.1 -9.7,110.7 -12.7,128.3 -16.3,145.8 -19.1,163.4 -23,180.9 -27.8,198.5 -32.2,216.1 -37,233.6 -41.4,251.2 -45.7,268.8 -49.4,286.3 -53,303.9 -56.5,321.4 -60.2,339 -64.4,356.6 -67.9,374.1 -71.3,391.7 -75,409.3 -78.7,426.8 -82.6,444.4 -87.4,461.9 -93.3,479.5 -100,497.1 -107.6,514.6 -90.2,514.6 -84,497.1 -78.2,479.5 -73.2,461.9 -69.2,444.4 -66,426.8 -62.9,409.3 -59.9,391.7 -57.1,374.1 -54.2,356.6 -50.6,339 -47.6,321.4 -44.7,303.9 -41.7,286.3 -38.5,268.8 -34.8,251.2 -31.1,233.6 -26.8,216.1 -22.9,198.5 -18.7,180.9 -15.4,163.4 -13,145.8 -9.9,128.3 -7.4,110.7 -6.3,93.1 -6.3,75.6 -5.9,58Z"/>
<path d="M-6.7,58 -7.1,76.1 -7.3,94.1 -9,112.2 -12.2,130.2 -15.6,148.3 -18.4,166.4 -22.4,184.4 -27.1,202.5 -31.3,220.6 -36,238.6 -40,256.7 -43.8,274.7 -47.2,292.8 -50.5,310.9 -53.8,328.9 -57.6,347 -61.6,365 -65,383.1 -68.7,401.2 -72.7,419.2 -76.6,437.3 -81.2,455.3 -87,473.4 -93.4,491.5 -100.5,509.5 -108.6,527.6 -85.4,527.6 -79.4,509.5 -73.8,491.5 -68.5,473.4 -63.8,455.3 -60.2,437.3 -57.2,419.2 -54,401.2 -51.2,383.1 -48.5,365 -45.3,347 -42.3,328.9 -39.8,310.9 -37.3,292.8 -34.6,274.7 -31.6,256.7 -28.3,238.6 -24.4,220.6 -20.9,202.5 -16.9,184.4 -13.6,166.4 -11.4,148.3 -8.6,130.2 -6.1,112.2 -5.4,94.1 -5.5,76.1 -5.2,58Z"/>
<path d="M-6,58 -6.3,76.1 -6.3,94.1 -7.5,112.2 -10.3,130.2 -13.4,148.3 -15.8,166.3 -19.3,184.4 -23.6,202.4 -27.2,220.5 -31.3,238.5 -34.8,256.6 -38,274.6 -41,292.7 -43.8,310.8 -46.9,328.8 -50.4,346.9 -54.4,364.9 -57.8,383 -61.5,401 -65.4,419.1 -69.2,437.1 -73.4,455.2 -78.4,473.2 -84,491.3 -89.7,509.3 -95.9,527.4 -70.5,527.4 -66.5,509.3 -62.3,491.3 -58.1,473.2 -54.2,455.2 -51.1,437.1 -48.3,419.1 -45.4,401 -42.6,383 -40,364.9 -36.9,346.9 -34.2,328.8 -32,310.8 -30,292.7 -27.9,274.6 -25.5,256.6 -22.8,238.5 -19.6,220.5 -16.8,202.4 -13.3,184.4 -10.6,166.3 -8.7,148.3 -6.4,130.2 -4.4,112.2 -4.2,94.1 -4.5,76.1 -4.3,58Z"/>
<path d="M-4.9,58 -5.1,76.3 -4.9,94.6 -5.4,112.9 -7.7,131.2 -10.2,149.5 -12.3,167.8 -15.5,186 -19.3,204.3 -22.6,222.6 -26.3,240.9 -29.4,259.2 -32.2,277.5 -34.8,295.8 -37.1,314.1 -39.5,332.4 -42.3,350.7 -45.2,369 -47.5,387.3 -50.1,405.5 -52.8,423.8 -55.5,442.1 -58.9,460.4 -63.4,478.7 -68.4,497 -73.7,515.3 -79.3,533.6 -55.4,533.6 -52,515.3 -48.3,497 -44.5,478.7 -41.2,460.4 -38.8,442.1 -37.1,423.8 -35.3,405.5 -33.5,387.3 -31.9,369 -29.8,350.7 -27.8,332.4 -26.2,314.1 -24.7,295.8 -22.9,277.5 -20.9,259.2 -18.5,240.9 -15.6,222.6 -13,204.3 -9.9,186 -7.5,167.8 -5.9,149.5 -4,131.2 -2.4,112.9 -2.9,94.6 -3.5,76.3 -3.3,58Z"/>
<path d="M-4.2,58 -4.4,76.3 -4,94.6 -4,112.9 -6,131.3 -8.2,149.6 -9.9,167.9 -12.6,186.2 -15.8,204.5 -18.5,222.8 -21.5,241.1 -24.1,259.5 -26.4,277.8 -28.7,296.1 -30.9,314.4 -33.3,332.7 -36.4,351 -39.5,369.3 -42.2,387.7 -45,406 -47.6,424.3 -50,442.6 -52.8,460.9 -56.1,479.2 -59.6,497.5 -62.8,515.9 -65.7,534.2 -36.9,534.2 -36.6,515.9 -35.4,497.5 -33.5,479.2 -31.5,460.9 -30,442.6 -28.7,424.3 -27.1,406 -25.4,387.7 -23.6,369.3 -21.3,351 -19.3,332.7 -17.9,314.4 -16.6,296.1 -15.2,277.8 -13.9,259.5 -12.2,241.1 -10.1,222.8 -8.3,204.5 -5.9,186.2 -4.1,167.9 -3.1,149.6 -1.7,131.3 -0.5,112.9 -1.6,94.6 -2.5,76.3 -2.3,58Z"/>
<path d="M-3.1,58 -3.3,76.5 -2.5,95 -1.9,113.5 -3.4,132 -5.1,150.5 -6.5,169 -8.8,187.5 -11.7,206 -14,224.5 -16.4,243 -18.5,261.5 -20,280 -21.5,298.5 -22.9,317 -24.3,335.5 -26.5,354 -28.5,372.6 -30.3,391.1 -32.3,409.6 -34.2,428.1 -36.2,446.6 -38.9,465.1 -42.2,483.6 -45.6,502.1 -48.4,520.6 -50.6,539.1 -23.3,539.1 -23.9,520.6 -23.1,502.1 -21.1,483.6 -19.1,465.1 -17.7,446.6 -16.7,428.1 -15.8,409.6 -14.8,391.1 -13.8,372.6 -12.5,354 -11.3,335.5 -10.8,317 -10.3,298.5 -9.7,280 -9,261.5 -7.8,243 -6.2,224.5 -4.7,206 -2.7,187.5 -1.1,169 -0.4,150.5 0.7,132 1.4,113.5 -0.3,95 -1.5,76.5 -1.4,58Z"/>
<path d="M-2.5,58 -2.6,76.5 -1.6,94.9 -0.5,113.4 -1.6,131.8 -3,150.3 -4.1,168.8 -6.1,187.2 -8.7,205.7 -10.8,224.1 -13.1,242.6 -15,261.1 -16.4,279.5 -17.7,298 -18.8,316.5 -19.8,334.9 -21.4,353.4 -22.8,371.8 -23.8,390.3 -24.8,408.8 -25.7,427.2 -26.7,445.7 -28.4,464.1 -30.9,482.6 -33.8,501.1 -36.2,519.5 -38,538 -8.5,538 -9.5,519.5 -9.3,501.1 -8,482.6 -6.9,464.1 -6.4,445.7 -6.6,427.2 -6.8,408.8 -6.8,390.3 -6.7,371.8 -6.2,353.4 -5.6,334.9 -5.7,316.5 -5.5,298 -5.1,279.5 -4.6,261.1 -3.7,242.6 -2.3,224.1 -1.1,205.7 0.6,187.2 1.8,168.8 2.1,150.3 2.8,131.8 3,113.4 0.8,94.9 -0.6,76.5 -0.7,58Z"/>
<path d="M-1.5,58 -1.5,76.5 -0.3,95.1 1.4,113.6 0.8,132.1 -0.1,150.7 -0.8,169.2 -2.2,187.7 -4.1,206.3 -5.5,224.8 -7,243.4 -8.2,261.9 -8.9,280.4 -9.6,299 -10.3,317.5 -10.9,336 -12.4,354.6 -13.7,373.1 -14.7,391.6 -15.7,410.2 -16.5,428.7 -17.1,447.2 -18.2,465.8 -19.8,484.3 -21.1,502.8 -21.3,521.4 -20.1,539.9 9.7,539.9 5.6,521.4 3.5,502.8 3.3,484.3 3.4,465.8 3.2,447.2 2.7,428.7 2.4,410.2 2.3,391.6 2.4,373.1 2.9,354.6 3.3,336 2.9,317.5 2.6,299 2.4,280.4 2.2,261.9 2.4,243.4 3,224.8 3.5,206.3 4.5,187.7 5.1,169.2 5,150.7 5.2,132.1 5,113.6 2.1,95.1 0.4,76.5 0.3,58Z"/>
<path d="M-0.9,58 -0.8,76.5 0.6,95.1 2.8,113.6 2.5,132.2 1.8,150.7 1.4,169.3 0.2,187.8 -1.4,206.4 -2.6,224.9 -3.8,243.4 -4.7,262 -5.1,280.5 -5.4,299.1 -5.5,317.6 -5.5,336.2 -6.3,354.7 -7,373.3 -7.4,391.8 -7.7,410.3 -7.9,428.9 -8.1,447.4 -8.9,466 -10.2,484.5 -11.5,503.1 -11.5,521.6 -10,540.2 22.4,540.2 17.7,521.6 15.3,503.1 14.8,484.5 14.6,466 14,447.4 12.9,428.9 11.9,410.3 11.1,391.8 10.4,373.3 10.1,354.7 9.9,336.2 8.8,317.6 7.9,299.1 7.2,280.5 6.6,262 6.4,243.4 6.6,224.9 6.9,206.4 7.5,187.8 7.8,169.3 7.4,150.7 7.2,132.2 6.6,113.6 3.2,95.1 1.3,76.5 1.1,58Z"/>
<path d="M-0.1,58 0,76.5 1.6,94.9 4.3,113.4 4.4,131.9 4.1,150.4 4.2,168.8 3.6,187.3 2.5,205.8 1.9,224.3 1.2,242.7 0.9,261.2 0.8,279.7 0.7,298.2 0.7,316.6 0.8,335.1 -0,353.6 -0.8,372 -1.1,390.5 -1.3,409 -1,427.5 -0.5,445.9 -0.2,464.4 -0.1,482.9 0.2,501.4 2.2,519.8 6,538.3 35.5,538.3 28.9,519.8 24.7,501.4 22.8,482.9 21.3,464.4 19.7,445.9 18,427.5 16.7,409 15.8,390.5 15.2,372 15.1,353.6 14.9,335.1 13.9,316.6 13,298.2 12.1,279.7 11.2,261.2 10.6,242.7 10.4,224.3 10.1,205.8 10.3,187.3 10.1,168.8 9.3,150.4 8.8,131.9 7.8,113.4 4,94.9 2,76.5 1.7,58Z"/>
<path d="M0.7,58 1,76.5 2.8,95 6.1,113.5 6.7,131.9 6.7,150.4 7.1,168.9 6.7,187.4 5.9,205.9 5.5,224.4 5.1,242.9 5.1,261.4 5.6,279.8 6.2,298.3 7,316.8 8.1,335.3 8.4,353.8 8.8,372.3 9.5,390.8 10.4,409.3 11.4,427.7 12.5,446.2 12.9,464.7 12.8,483.2 12.8,501.7 14.4,520.2 17.9,538.7 47.5,538.7 41.1,520.2 37.3,501.7 35.7,483.2 34.4,464.7 32.7,446.2 30.5,427.7 28.4,409.3 26.5,390.8 24.8,372.3 23.6,353.8 22.3,335.3 20.1,316.8 18.4,298.3 16.9,279.8 15.5,261.4 14.5,242.9 14,224.4 13.5,205.9 13.4,187.4 13,168.9 11.9,150.4 11,131.9 9.6,113.5 5.2,95 2.9,76.5 2.6,58Z"/>
<path d="M1.7,58 1.9,76.3 3.9,94.6 7.8,112.9 8.8,131.3 9.3,149.6 10.1,167.9 10.4,186.2 10.2,204.5 10.5,222.8 10.9,241.1 11.7,259.4 12.7,277.8 13.9,296.1 15.1,314.4 16.4,332.7 17,351 17.1,369.3 17.6,387.6 18.3,405.9 19.2,424.3 20.4,442.6 21.5,460.9 22.3,479.2 23.6,497.5 26.7,515.8 32.3,534.1 58.8,534.1 50.7,515.8 45.7,497.5 43.1,479.2 41,460.9 38.8,442.6 36.5,424.3 34.7,405.9 33,387.6 31.7,369.3 30.8,351 29.3,332.7 27,314.4 25,296.1 23,277.8 21.1,259.4 19.4,241.1 18.2,222.8 17.1,204.5 16.4,186.2 15.5,167.9 14,149.6 12.8,131.3 11,112.9 6,94.6 3.7,76.3 3.4,58Z"/>
<path d="M2.6,58 2.9,76.3 5.1,94.7 9.7,113 11.2,131.3 12.1,149.7 13.3,168 13.9,186.4 14.2,204.7 14.9,223 15.6,241.4 16.8,259.7 18.4,278 20.1,296.4 21.9,314.7 24,333 25.4,351.4 26.4,369.7 27.7,388 29.3,406.4 30.9,424.7 32.8,443.1 34.5,461.4 35.8,479.7 37.4,498.1 41.1,516.4 47.4,534.7 71.5,534.7 63,516.4 57.6,498.1 54.7,479.7 52.2,461.4 49.5,443.1 46.7,424.7 44.1,406.4 41.7,388 39.7,369.7 38,351.4 35.7,333 32.8,314.7 30.2,296.4 27.7,278 25.4,259.7 23.4,241.4 21.9,223 20.4,204.7 19.5,186.4 18.2,168 16.3,149.7 14.9,131.3 12.6,113 7.1,94.7 4.6,76.3 4.1,58Z"/>
<path d="M3.4,58 3.9,75.9 6,93.9 11.2,111.8 13.3,129.8 14.5,147.7 16.1,165.6 17.1,183.6 17.7,201.5 18.7,219.4 19.7,237.4 21.3,255.3 23.1,273.3 25.2,291.2 27.5,309.1 30,327.1 32.6,345 34.2,363 36.1,380.9 38.2,398.8 40.5,416.8 42.9,434.7 45.3,452.7 47.1,470.6 48.9,488.5 51.5,506.5 56.8,524.4 79.6,524.4 72.4,506.5 68.3,488.5 65.4,470.6 62.5,452.7 59.2,434.7 55.9,416.8 52.8,398.8 49.8,380.9 47.2,363 44.9,345 41.4,327.1 38.2,309.1 35.1,291.2 32.3,273.3 29.7,255.3 27.3,237.4 25.5,219.4 23.9,201.5 22.5,183.6 20.8,165.6 18.7,147.7 16.9,129.8 14.1,111.8 7.9,93.9 5.5,75.9 5,58Z"/>
<path d="M4.5,58 5,75.8 7.2,93.7 13.1,111.5 15.8,129.3 17.5,147.2 19.6,165 21.3,182.8 22.7,200.7 24.4,218.5 26.2,236.3 28.4,254.2 30.9,272 33.4,289.8 36,307.7 38.5,325.5 41.3,343.3 42.8,361.2 44.5,379 46.6,396.8 49.1,414.7 52.1,432.5 55.4,450.3 58.6,468.2 62.1,486 66.7,503.8 74.4,521.7 94.6,521.7 85.2,503.8 79.5,486 75,468.2 70.8,450.3 66.6,432.5 62.9,414.7 59.6,396.8 56.7,379 54.4,361.2 52.2,343.3 48.7,325.5 45.5,307.7 42.3,289.8 39,272 35.9,254.2 33,236.3 30.5,218.5 28.2,200.7 26.2,182.8 23.9,165 21.3,147.2 19,129.3 15.7,111.5 8.9,93.7 6.4,75.8 5.9,58Z"/>
<path d="M5.4,58 6,75.7 8.4,93.5 14.9,111.2 18.1,128.9 20.1,146.7 22.6,164.4 24.7,182.1 26.4,199.9 28.5,217.6 30.7,235.3 33.4,253.1 36.3,270.8 39.4,288.5 42.5,306.3 45.7,324 49.3,341.7 51.6,359.4 53.9,377.2 56.7,394.9 59.8,412.6 63.2,430.4 67,448.1 70.6,465.8 74.4,483.6 79,501.3 86.8,519 104.5,519 95.3,501.3 89.7,483.6 85,465.8 80.6,448.1 76.1,430.4 71.9,412.6 68.1,394.9 64.7,377.2 61.9,359.4 59,341.7 54.8,324 51,306.3 47.2,288.5 43.6,270.8 40,253.1 36.7,235.3 34,217.6 31.3,199.9 29,182.1 26.4,164.4 23.5,146.7 20.9,128.9 17.2,111.2 9.9,93.5 7.3,75.7 6.7,58Z"/>
<path d="M6.2,58 6.8,75.4 9.1,92.8 16.1,110.2 19.9,127.5 22.3,144.9 25,162.3 27.4,179.7 29.5,197.1 31.8,214.5 34.1,231.8 36.9,249.2 40,266.6 43.2,284 46.6,301.4 50.2,318.8 54.3,336.1 57.5,353.5 60.3,370.9 63.7,388.3 67.6,405.7 71.7,423.1 76.2,440.4 80.6,457.8 84.9,475.2 89.4,492.6 95.7,510 110.5,510 103.2,492.6 97.9,475.2 92.9,457.8 87.8,440.4 82.7,423.1 77.9,405.7 73.6,388.3 69.7,370.9 66.3,353.5 62.6,336.1 57.9,318.8 53.9,301.4 50,284 46.2,266.6 42.6,249.2 39.3,231.8 36.4,214.5 33.7,197.1 31.1,179.7 28.3,162.3 25.1,144.9 22.3,127.5 18.1,110.2 10.4,92.8 7.9,75.4 7.3,58Z"/>
<path d="M-4,58 -4.1,76.3 -3.6,94.5 -3.4,112.8 -5.2,131 -7.3,149.3 -9,167.5 -11.6,185.8 -14.8,204 -17.5,222.3 -20.5,240.6 -23,258.8 -25.2,277.1 -27.1,295.3 -28.9,313.6 -30.7,331.8 -33.1,350.1 -35.5,368.4 -37.6,386.6 -39.8,404.9 -42.1,423.1 -44.4,441.4 -47.2,459.6 -50.9,477.9 -55,496.1 -58.9,514.4 -62.8,532.7 -24.7,532.7 -24.3,514.4 -22.9,496.1 -20.8,477.9 -18.9,459.6 -17.8,441.4 -17,423.1 -16.1,404.9 -15.3,386.6 -14.4,368.4 -13.1,350.1 -12.1,331.8 -11.6,313.6 -11,295.3 -10.3,277.1 -9.4,258.8 -8.1,240.6 -6.4,222.3 -4.8,204 -2.7,185.8 -1.2,167.5 -0.5,149.3 0.6,131 1.2,112.8 -0.5,94.5 -1.5,76.3 -1.5,58Z"/>
<path d="M-1.7,58 -1.7,76.3 -0.6,94.5 1.1,112.8 0.5,131.1 -0.6,149.3 -1.2,167.6 -2.6,185.9 -4.5,204.1 -5.9,222.4 -7.5,240.6 -8.7,258.9 -9.6,277.2 -10.4,295.4 -11.1,313.7 -11.8,332 -13.2,350.2 -14.8,368.5 -16,386.8 -17.2,405 -18.2,423.3 -18.9,441.6 -19.9,459.8 -21.4,478.1 -22.9,496.3 -23.6,514.6 -23.1,532.9 19.8,532.9 15.5,514.6 13.2,496.3 12.4,478.1 11.9,459.8 11,441.6 10.1,423.3 9.5,405 9.1,386.8 9,368.5 9.3,350.2 9.1,332 8.4,313.7 7.8,295.4 7.2,277.2 6.7,258.9 6.4,240.6 6.7,222.4 6.8,204.1 7.4,185.9 7.6,167.6 7.1,149.3 7,131.1 6.3,112.8 2.9,94.5 1.2,76.3 1.1,58Z"/>
<path d="M-0,58 0.2,76.3 1.7,94.6 4.6,112.9 4.8,131.3 4.6,149.6 4.7,167.9 4,186.2 2.8,204.5 2.1,222.8 1.3,241.1 0.9,259.5 0.9,277.8 1.1,296.1 1.5,314.4 2,332.7 2.1,351 1.9,369.4 2.2,387.7 2.5,406 3,424.3 3.6,442.6 3.7,460.9 3.1,479.2 2.5,497.6 2.9,515.9 4.9,534.2 43.3,534.2 37.8,515.9 34.7,497.6 33.3,479.2 32,460.9 30.3,442.6 28.2,424.3 26.3,406 24.6,387.7 23.1,369.4 22.1,351 20.7,332.7 18.8,314.4 17.3,296.1 15.9,277.8 14.6,259.5 13.7,241.1 13.3,222.8 12.9,204.5 12.9,186.2 12.4,167.9 11.4,149.6 10.6,131.3 9.3,112.9 4.9,94.6 2.8,76.3 2.5,58Z"/>
<path d="M-5.6,58 -5.9,76 -5.8,94 -6.8,112.1 -9.4,130.1 -12.2,148.1 -14.6,166.1 -17.9,184.2 -22,202.2 -25.5,220.2 -29.4,238.2 -32.8,256.3 -35.9,274.3 -38.7,292.3 -41.3,310.3 -44.1,328.4 -47.4,346.4 -51,364.4 -54,382.4 -57.3,400.4 -60.8,418.5 -64.2,436.5 -68,454.5 -72.8,472.5 -78.1,490.6 -83.7,508.6 -89.7,526.6 -62,526.6 -58.4,508.6 -54.6,490.6 -50.7,472.5 -47.2,454.5 -44.6,436.5 -42.3,418.5 -39.8,400.4 -37.5,382.4 -35.3,364.4 -32.6,346.4 -30.4,328.4 -28.5,310.3 -26.7,292.3 -24.8,274.3 -22.7,256.3 -20.2,238.2 -17.2,220.2 -14.6,202.2 -11.4,184.2 -8.8,166.1 -7.2,148.1 -5.1,130.1 -3.3,112.1 -3.5,94 -4,76 -3.8,58Z"/>
<path d="M1.8,58 2.1,76.2 4,94.3 8.1,112.5 9.4,130.6 10,148.8 11,166.9 11.4,185.1 11.4,203.2 11.9,221.4 12.2,239.5 13.1,257.7 14.1,275.8 15.2,294 16.3,312.1 17.4,330.3 18.2,348.4 18.2,366.6 18.7,384.7 19.6,402.9 20.7,421 22.4,439.2 24.1,457.3 25.6,475.5 27.4,493.6 30.7,511.8 36.3,529.9 69.2,529.9 60.6,511.8 55.1,493.6 51.6,475.5 48.6,457.3 45.5,439.2 42.6,421 40.2,402.9 38.2,384.7 36.6,366.6 35.5,348.4 33.6,330.3 31.3,312.1 29.2,294 27,275.8 24.9,257.7 23,239.5 21.6,221.4 20.1,203.2 19.1,185.1 17.7,166.9 15.9,148.8 14.4,130.6 12.2,112.5 6.7,94.3 4.4,76.2 4,58Z"/>
<path d="M4.7,58 5.2,75.5 7.3,93.1 13.4,110.6 16.3,128.1 18,145.7 20.1,163.2 21.9,180.7 23.2,198.2 24.7,215.8 26.3,233.3 28.4,250.8 30.8,268.4 33.4,285.9 36.2,303.4 39.1,321 42.5,338.5 44.8,356 47.1,373.5 49.8,391.1 52.7,408.6 55.9,426.1 59.3,443.7 62.4,461.2 65.3,478.7 68.4,496.3 73.7,513.8 95.3,513.8 88.5,496.3 84.1,478.7 80.1,461.2 76,443.7 71.7,426.1 67.7,408.6 63.9,391.1 60.5,373.5 57.6,356 54.5,338.5 50.2,321 46.6,303.4 43.1,285.9 39.7,268.4 36.6,250.8 33.7,233.3 31.4,215.8 29.2,198.2 27.2,180.7 24.8,163.2 22.2,145.7 19.8,128.1 16.2,110.6 9.2,93.1 6.8,75.5 6.3,58Z"/>
<path d="M-2.1,58 -2.1,76.2 -1.1,94.4 0.3,112.6 -0.5,130.8 -1.8,149 -2.6,167.2 -4.3,185.4 -6.6,203.6 -8.3,221.8 -10.4,239.9 -11.8,258.1 -13,276.3 -13.9,294.5 -14.7,312.7 -15.4,330.9 -16.6,349.1 -18.1,367.3 -19.1,385.5 -20.2,403.7 -21.4,421.9 -22.4,440.1 -23.8,458.3 -26,476.5 -28.5,494.7 -30.5,512.9 -31.7,531.1 -8.1,531.1 -9,512.9 -8.6,494.7 -7.3,476.5 -6.2,458.3 -5.8,440.1 -5.7,421.9 -5.5,403.7 -5.2,385.5 -4.9,367.3 -4.1,349.1 -3.8,330.9 -3.9,312.7 -3.9,294.5 -3.7,276.3 -3.3,258.1 -2.6,239.9 -1.4,221.8 -0.3,203.6 1.2,185.4 2.2,167.2 2.4,149 3.1,130.8 3.2,112.6 0.8,94.4 -0.5,76.2 -0.5,58Z"/>
</clipPath>
<linearGradient id="top0" gradientUnits="userSpaceOnUse" x1="0" y1="60" x2="0" y2="265"><stop offset="0" stop-color="#eb6e4d" stop-opacity="1"/><stop offset="0.2" stop-color="#F07350" stop-opacity="0.9"/><stop offset="0.55" stop-color="#F07350" stop-opacity="0.55"/><stop offset="1" stop-color="#F07350" stop-opacity="0"/></linearGradient>
<linearGradient id="top1" gradientUnits="userSpaceOnUse" x1="0" y1="60" x2="0" y2="265"><stop offset="0" stop-color="#a6d8ed" stop-opacity="1"/><stop offset="0.2" stop-color="#AADCF1" stop-opacity="0.9"/><stop offset="0.55" stop-color="#AADCF1" stop-opacity="0.55"/><stop offset="1" stop-color="#AADCF1" stop-opacity="0"/></linearGradient>
<linearGradient id="top2" gradientUnits="userSpaceOnUse" x1="0" y1="60" x2="0" y2="265"><stop offset="0" stop-color="#1f246c" stop-opacity="1"/><stop offset="0.2" stop-color="#23287A" stop-opacity="0.9"/><stop offset="0.55" stop-color="#23287A" stop-opacity="0.55"/><stop offset="1" stop-color="#23287A" stop-opacity="0"/></linearGradient>
<linearGradient id="top3" gradientUnits="userSpaceOnUse" x1="0" y1="60" x2="0" y2="265"><stop offset="0" stop-color="#e39660" stop-opacity="1"/><stop offset="0.2" stop-color="#EEA46E" stop-opacity="0.9"/><stop offset="0.55" stop-color="#EEA46E" stop-opacity="0.55"/><stop offset="1" stop-color="#EEA46E" stop-opacity="0"/></linearGradient>
<linearGradient id="top4" gradientUnits="userSpaceOnUse" x1="0" y1="60" x2="0" y2="265"><stop offset="0" stop-color="#eb6e4d" stop-opacity="1"/><stop offset="0.2" stop-color="#F07350" stop-opacity="0.9"/><stop offset="0.55" stop-color="#F07350" stop-opacity="0.55"/><stop offset="1" stop-color="#F07350" stop-opacity="0"/></linearGradient>
<linearGradient id="top5" gradientUnits="userSpaceOnUse" x1="0" y1="60" x2="0" y2="265"><stop offset="0" stop-color="#a6d8ed" stop-opacity="1"/><stop offset="0.2" stop-color="#AADCF1" stop-opacity="0.9"/><stop offset="0.55" stop-color="#AADCF1" stop-opacity="0.55"/><stop offset="1" stop-color="#AADCF1" stop-opacity="0"/></linearGradient>
<linearGradient id="top6" gradientUnits="userSpaceOnUse" x1="0" y1="60" x2="0" y2="265"><stop offset="0" stop-color="#1f246c" stop-opacity="1"/><stop offset="0.2" stop-color="#23287A" stop-opacity="0.9"/><stop offset="0.55" stop-color="#23287A" stop-opacity="0.55"/><stop offset="1" stop-color="#23287A" stop-opacity="0"/></linearGradient>
<linearGradient id="top7" gradientUnits="userSpaceOnUse" x1="0" y1="60" x2="0" y2="265"><stop offset="0" stop-color="#72b4e8" stop-opacity="1"/><stop offset="0.2" stop-color="#75B8EB" stop-opacity="0.9"/><stop offset="0.55" stop-color="#75B8EB" stop-opacity="0.55"/><stop offset="1" stop-color="#75B8EB" stop-opacity="0"/></linearGradient>
<linearGradient id="top8" gradientUnits="userSpaceOnUse" x1="0" y1="60" x2="0" y2="265"><stop offset="0" stop-color="#e39660" stop-opacity="1"/><stop offset="0.2" stop-color="#EEA46E" stop-opacity="0.9"/><stop offset="0.55" stop-color="#EEA46E" stop-opacity="0.55"/><stop offset="1" stop-color="#EEA46E" stop-opacity="0"/></linearGradient>
<linearGradient id="top9" gradientUnits="userSpaceOnUse" x1="0" y1="60" x2="0" y2="265"><stop offset="0" stop-color="#a6d8ed" stop-opacity="1"/><stop offset="0.2" stop-color="#AADCF1" stop-opacity="0.9"/><stop offset="0.55" stop-color="#AADCF1" stop-opacity="0.55"/><stop offset="1" stop-color="#AADCF1" stop-opacity="0"/></linearGradient>
<linearGradient id="fold0" gradientUnits="userSpaceOnUse" x1="0" y1="58" x2="0" y2="250"><stop offset="0" stop-color="#C8401A" stop-opacity="0.32"/><stop offset="1" stop-color="#C8401A" stop-opacity="0"/></linearGradient>
<linearGradient id="fold1" gradientUnits="userSpaceOnUse" x1="0" y1="58" x2="0" y2="250"><stop offset="0" stop-color="#78B5D2" stop-opacity="0.32"/><stop offset="1" stop-color="#78B5D2" stop-opacity="0"/></linearGradient>
<linearGradient id="fold2" gradientUnits="userSpaceOnUse" x1="0" y1="58" x2="0" y2="250"><stop offset="0" stop-color="#05072A" stop-opacity="0.32"/><stop offset="1" stop-color="#05072A" stop-opacity="0"/></linearGradient>
<linearGradient id="fold3" gradientUnits="userSpaceOnUse" x1="0" y1="58" x2="0" y2="250"><stop offset="0" stop-color="#B85E20" stop-opacity="0.32"/><stop offset="1" stop-color="#B85E20" stop-opacity="0"/></linearGradient>
<linearGradient id="fold4" gradientUnits="userSpaceOnUse" x1="0" y1="58" x2="0" y2="250"><stop offset="0" stop-color="#C8401A" stop-opacity="0.32"/><stop offset="1" stop-color="#C8401A" stop-opacity="0"/></linearGradient>
<linearGradient id="fold5" gradientUnits="userSpaceOnUse" x1="0" y1="58" x2="0" y2="250"><stop offset="0" stop-color="#78B5D2" stop-opacity="0.32"/><stop offset="1" stop-color="#78B5D2" stop-opacity="0"/></linearGradient>
<linearGradient id="fold6" gradientUnits="userSpaceOnUse" x1="0" y1="58" x2="0" y2="250"><stop offset="0" stop-color="#05072A" stop-opacity="0.32"/><stop offset="1" stop-color="#05072A" stop-opacity="0"/></linearGradient>
<linearGradient id="fold7" gradientUnits="userSpaceOnUse" x1="0" y1="58" x2="0" y2="250"><stop offset="0" stop-color="#3484C8" stop-opacity="0.32"/><stop offset="1" stop-color="#3484C8" stop-opacity="0"/></linearGradient>
<linearGradient id="fold8" gradientUnits="userSpaceOnUse" x1="0" y1="58" x2="0" y2="250"><stop offset="0" stop-color="#B85E20" stop-opacity="0.32"/><stop offset="1" stop-color="#B85E20" stop-opacity="0"/></linearGradient>
<linearGradient id="fold9" gradientUnits="userSpaceOnUse" x1="0" y1="58" x2="0" y2="250"><stop offset="0" stop-color="#78B5D2" stop-opacity="0.32"/><stop offset="1" stop-color="#78B5D2" stop-opacity="0"/></linearGradient>
<linearGradient id="band" x1="0" y1="0" x2="0" y2="1"><stop offset="0" stop-color="#F6DA72"/><stop offset="0.55" stop-color="#F0CF62"/><stop offset="1" stop-color="#D9AE3E"/></linearGradient>
</defs>
<path d="M408,99 L419.9,99.8 L436.1,100.9 L455.3,102.2 L476.5,103.6 L498.7,105.1 L520.7,106.5 L541.5,107.8 L560,109 L576.5,110 L592.2,111 L607.3,111.9 L622,112.8 L636.4,113.6 L650.8,114.3 L665.2,115 L680,115.6 L695.1,116.1 L710.5,116.5 L725.9,116.9 L741.2,117.2 L756.5,117.4 L771.4,117.6 L786,117.8 L800,118 L813.3,118.2 L825.9,118.3 L838.1,118.4 L850,118.5 L861.9,118.6 L874.1,118.7 L886.7,118.7 L900,118.7 L914,118.7 L928.6,118.7 L943.5,118.6 L958.8,118.5 L974.1,118.4 L989.5,118.3 L1004.9,118.2 L1020,118 L1035.4,117.8 L1051.4,117.6 L1067.6,117.3 L1083.8,117.1 L1099.4,116.8 L1114.2,116.5 L1127.9,116.3 L1140,116 L1150.1,115.8 L1158.3,115.5 L1165.1,115.3 L1171.2,115 L1177.2,114.8 L1183.6,114.6 L1191,114.3 L1200,114 L1210.7,113.7 L1222.7,113.4 L1235.4,113 L1248.8,112.7 L1262.2,112.3 L1275.5,111.9 L1288.2,111.6 L1300,111.2 L1310.7,110.8 L1320.5,110.5 L1329.7,110.1 L1338.8,109.7 L1347.9,109.3 L1357.7,108.9 L1368.2,108.5 L1380,108 L1393.2,107.5 L1407.6,107 L1422.8,106.5 L1438.5,106 L1454.4,105.4 L1470.2,104.9 L1485.5,104.3 L1500,103.8 L1514.5,103.3 L1529.6,102.7 L1544.7,102.1 L1559.5,101.5 L1573.3,101 L1585.7,100.5 L1596.1,100.1 L1604,99.8" fill="none" stroke="#D9D9D9" stroke-width="5.5"/>
<path d="M-4,823 L-4.3,822.9 L-5.5,822.6 L-7,822.3 L-8.2,822 L-8.7,821.9 L-7.8,822.1 L-5.1,822.7 L0,823.8 L7.6,825.5 L17.3,827.8 L28.7,830.5 L41.5,833.5 L55.4,836.7 L69.9,839.9 L84.9,843 L100,846 L115.6,848.9 L132.2,851.9 L149.6,854.9 L167.5,858 L185.7,860.9 L204.1,863.8 L222.2,866.5 L240,869 L257.8,871.3 L275.9,873.5 L294.3,875.6 L312.5,877.6 L330.4,879.4 L347.8,881.1 L364.4,882.6 L380,884 L394,885.2 L406.4,886.1 L417.8,886.9 L428.8,887.5 L439.9,888 L451.7,888.6 L464.9,889.1 L480,889.7 L497.5,890.4 L517.2,891.1 L538.2,891.8 L560,892.4 L581.8,893.1 L602.8,893.6 L622.5,894.1 L640,894.4 L654.9,894.6 L667.7,894.7 L679,894.7 L689.7,894.7 L700.4,894.6 L711.8,894.4 L724.8,894.2 L740,894 L758,893.8 L778.2,893.4 L800,893.1 L822.5,892.7 L845,892.3 L866.8,891.8 L887,891.4 L905,891 L920.2,890.6 L933.2,890.3 L944.6,890 L955.3,889.6 L966,889.2 L977.3,888.8 L990.1,888.2 L1005,887.5 L1022.5,886.6 L1042.2,885.6 L1063.2,884.4 L1085,883.2 L1106.8,882 L1127.8,880.7 L1147.5,879.5 L1165,878.4 L1180.1,877.4 L1193.2,876.5 L1204.9,875.7 L1215.9,874.8 L1226.8,874 L1238.2,873 L1250.8,871.9 L1265,870.6 L1281.3,869.1 L1299.4,867.3 L1318.5,865.4 L1338.1,863.4 L1357.7,861.4 L1376.6,859.4 L1394.2,857.6 L1410,856 L1423.8,854.6 L1436,853.5 L1447.2,852.4 L1457.6,851.5 L1467.6,850.5 L1477.8,849.5 L1488.5,848.3 L1500,847 L1513,845.4 L1527.5,843.6 L1542.5,841.6 L1557.6,839.5 L1572,837.6 L1585,835.8 L1595.9,834.3 L1604,833.2" fill="none" stroke="#D9D9D9" stroke-width="8.5"/>
<g transform="translate(470.5,77.2) scale(1.0)">
<path d="M22.3,100 27.2,110 31.3,120 34.2,130 36.6,140 39,150 41.5,160 43.9,170 46.1,180 48.3,190 50.3,200 52.4,210 54.4,220 56.5,230 58.6,240 60.9,250 63.1,260 65.3,270 67.5,280 69.6,290 71.7,300 73.7,310 75.8,320 78,330 80.4,340 81.9,350 83.2,360 84.5,370 85.9,380 87.6,390 89.3,400 91.2,410 93.2,420 95.3,430 97.5,440 99.7,450 101.9,460 104,470 106.1,480 108.4,490 111.1,500 114.8,510 119.8,520 125.8,530 133.7,540 -117.5,540 -114.1,530 -110.9,520 -108,510 -105.4,500 -103.1,490 -101,480 -99.1,470 -97.3,460 -95.8,450 -94.6,440 -93.5,430 -92.4,420 -91.2,410 -89.9,400 -88.6,390 -87.3,380 -86.1,370 -84.6,360 -82.7,350 -80.8,340 -78.8,330 -77,320 -75.1,310 -73.3,300 -71.3,290 -69.2,280 -67.1,270 -64.6,260 -61.8,250 -59.2,240 -56.1,230 -52.8,220 -50,210 -46.9,200 -43.3,190 -40,180 -36.9,170 -34.1,160 -31.8,150 -29.1,140 -25.9,130 -22.5,120 -19.6,110 -17.7,100Z" fill="#f9bfae"/>
<path d="M14.2,56 14.3,59.8 14.3,65.3 14.4,71.5 14.6,77.4 14.8,82 15.1,85.1 15.3,87.2 15.7,88.9 16.2,90.4 16.8,92 17.7,93.6 18.7,95 19.8,96.4 21,98 22.3,100 23.7,102.6 25.1,105.5 26.6,108.7 28.1,111.9 29.3,115 30.3,118 31.2,121 31.9,124 32.6,127 33.3,130 33.9,132.8 34.4,135.3 34.9,137.9 35.5,141 36.3,145 37.3,150 38.5,155.9 39.8,162.3 41.1,168.8 42.3,175 43.4,181 44.4,187 45.5,193 46.5,199 47.5,205 48.5,211 49.6,217 50.6,223 51.7,229 52.8,235 54,241 55.1,247 56.4,253 57.6,259 58.8,265 60,271 61.2,277 62.4,283 63.6,289 64.8,295 66,301.2 67.3,307.6 68.5,313.9 69.7,319.8 70.8,325 71.7,328.9 72.5,331.7 73.2,334.3 73.9,337.5 74.8,342 75.8,348.3 76.8,355.7 77.9,363.9 79.1,372.1 80.4,380 81.7,387.4 83.2,394.8 84.7,402.2 86.2,409.6 87.9,417 89.7,424.6 91.5,432.2 93.4,439.8 95.4,447.4 97.3,455 99.2,462.8 101.2,470.7 103.2,478.5 105,485.8 106.8,492 108.3,497 109.6,500.9 110.9,504.3 112.3,507.5 114,511 115.7,514.4 116.3,515.4 117.2,517 118.3,519 119.9,521.6 110,524.7 97.3,528 88.1,531.7 80,535.6 70.8,538.7 59.2,540.3 46.3,541.1 33.5,541.6 21,542.2 8.5,542.6 -4,542.6 -16.5,542.3 -29,541.6 -41.5,540.6 -54.4,539 -67.2,537 -79,535 -89.6,533.4 -99.1,531.8 -107,529 -111.4,523.7 -109.1,517.2 -107.5,512.6 -107,511 -105.8,507.2 -104.7,503.4 -103.6,499.6 -102.5,495.8 -101.5,492 -100.5,488.2 -99.5,484.4 -98.6,480.5 -97.7,476.7 -96.8,473 -96,469.4 -95.2,465.8 -94.4,462.2 -93.7,458.6 -93,455 -92.3,451.3 -91.7,447.5 -91.1,443.6 -90.6,439.8 -90,436 -89.5,432.2 -88.9,428.4 -88.4,424.5 -87.9,420.7 -87.4,417 -86.9,413.4 -86.3,409.8 -85.7,406.2 -85.2,402.6 -84.6,399 -84,395.3 -83.5,391.5 -82.9,387.6 -82.4,383.8 -81.8,380 -81.3,376.2 -80.7,372.4 -80.2,368.6 -79.6,364.8 -79,361 -78.3,357.2 -77.5,353.4 -76.8,349.6 -76,345.8 -75.2,342 -74.5,338.3 -73.8,334.8 -73.1,331.2 -72.3,327.4 -71.5,323 -70.6,317.8 -69.5,311.8 -68.4,305.7 -67.4,299.9 -66.5,295 -65.8,291.2 -65.2,288.1 -64.6,285.4 -64.1,282.8 -63.5,280 -62.9,277 -62.3,274 -61.8,271 -61.2,268 -60.5,265 -59.8,262 -59,259 -58.3,256 -57.5,253 -56.7,250 -56,247 -55.3,244 -54.5,241 -53.8,238 -53,235 -52.1,232 -51.2,229 -50.3,226 -49.4,223 -48.5,220 -47.7,217 -47,214 -46.3,211 -45.5,208 -44.7,205 -43.8,202 -42.9,199 -41.9,196 -40.9,193 -40,190 -39.1,187 -38.2,184 -37.4,181 -36.5,178 -35.7,175 -34.9,172 -34.1,169 -33.4,166 -32.7,163 -32,160 -31.4,157 -30.8,154 -30.2,151 -29.7,148 -29,145 -28.3,142 -27.5,139 -26.7,136 -25.8,133 -25,130 -24.1,127 -23.2,124 -22.3,121 -21.5,118 -20.7,115 -20,111.9 -19.4,108.8 -18.9,105.6 -18.3,102.7 -17.7,100 -17,98.1 -16.3,96.8 -15.6,95.5 -15,93.5 -14.5,90 -14.2,84.2 -14.1,76.5 -14,68.3 -14,61 -14,56Z" fill="#F07350"/>
<path d="M-1.7,58 -1.7,76.3 -0.8,94.5 0.6,112.8 -0.3,131.1 -1.6,149.3 -2.4,167.6 -4,185.9 -6.1,204.1 -7.6,222.4 -9.4,240.6 -10.6,258.9 -11.5,277.2 -12.3,295.4 -13,313.7 -13.8,332 -15,350.2 -16.5,368.5 -17.5,386.8 -18.5,405 -19.3,423.3 -19.8,441.6 -20.5,459.8 -21.7,478.1 -23,496.3 -23.6,514.6 -23.1,532.9 19.8,532.9 15.5,514.6 13.1,496.3 12.1,478.1 11.3,459.8 10.2,441.6 9,423.3 8.2,405 7.6,386.8 7.3,368.5 7.5,350.2 7.2,332 6.5,313.7 5.8,295.4 5.2,277.2 4.7,258.9 4.6,240.6 4.9,222.4 5.2,204.1 6,185.9 6.3,167.6 6.1,149.3 6.2,131.1 5.8,112.8 2.7,94.5 1.2,76.3 1.1,58Z" fill="#E95D39" stroke="#C8401A" stroke-width="0.9" stroke-opacity="0.22"/>
<path d="M-4,58 -4.1,76.3 -3.8,94.5 -3.9,112.8 -6,131 -8.3,149.3 -10.2,167.5 -13,185.8 -16.4,204 -19.3,222.3 -22.4,240.6 -25,258.8 -27.2,277.1 -29.1,295.3 -30.8,313.6 -32.6,331.8 -34.9,350.1 -37.2,368.4 -39.1,386.6 -41.1,404.9 -43.2,423.1 -45.2,441.4 -47.8,459.6 -51.2,477.9 -55,496.1 -58.9,514.4 -62.8,532.7 -24.7,532.7 -24.3,514.4 -23,496.1 -21.2,477.9 -19.5,459.6 -18.6,441.4 -18.1,423.1 -17.4,404.9 -16.8,386.6 -16,368.4 -14.9,350.1 -14,331.8 -13.5,313.6 -13,295.3 -12.3,277.1 -11.3,258.8 -10,240.6 -8.1,222.3 -6.4,204 -4.2,185.8 -2.4,167.5 -1.5,149.3 -0.2,131 0.7,112.8 -0.7,94.5 -1.5,76.3 -1.5,58Z" fill="#F07350" stroke="#C8401A" stroke-width="0.9" stroke-opacity="0.22"/>
<path d="M-0,58 0.2,76.3 1.5,94.6 4.1,112.9 4.1,131.3 3.6,149.6 3.5,167.9 2.6,186.2 1.2,204.5 0.4,222.8 -0.6,241.1 -1,259.5 -1.1,277.8 -0.9,296.1 -0.5,314.4 0.1,332.7 0.3,351 0.2,369.4 0.7,387.7 1.2,406 1.9,424.3 2.7,442.6 3.1,460.9 2.8,479.2 2.4,497.6 2.9,515.9 4.9,534.2 43.3,534.2 37.8,515.9 34.6,497.6 33,479.2 31.5,460.9 29.4,442.6 27.1,424.3 25,406 23.1,387.7 21.5,369.4 20.3,351 18.8,332.7 16.9,314.4 15.3,296.1 13.9,277.8 12.7,259.5 11.8,241.1 11.6,222.8 11.3,204.5 11.4,186.2 11.2,167.9 10.4,149.6 9.9,131.3 8.8,112.9 4.6,94.6 2.8,76.3 2.5,58Z" fill="#E95D39" stroke="#C8401A" stroke-width="0.9" stroke-opacity="0.22"/>
<path d="M1.8,58 2.1,76.2 3.8,94.3 7.7,112.5 8.6,130.6 9,148.8 9.8,166.9 10,185.1 9.8,203.2 10.1,221.4 10.4,239.5 11.1,257.7 12.1,275.8 13.2,294 14.3,312.1 15.5,330.3 16.4,348.4 16.5,366.6 17.2,384.7 18.3,402.9 19.6,421 21.5,439.2 23.5,457.3 25.2,475.5 27.3,493.6 30.7,511.8 36.3,529.9 69.2,529.9 60.6,511.8 55,493.6 51.3,475.5 48,457.3 44.6,439.2 41.5,421 38.9,402.9 36.7,384.7 35,366.6 33.7,348.4 31.7,330.3 29.4,312.1 27.2,294 25,275.8 23,257.7 21.1,239.5 19.8,221.4 18.5,203.2 17.7,185.1 16.5,166.9 14.9,148.8 13.7,130.6 11.7,112.5 6.5,94.3 4.4,76.2 4,58Z" fill="#ED6845" stroke="#C8401A" stroke-width="0.9" stroke-opacity="0.22"/>
<path d="M-0.9,58 -0.8,76.5 0.4,95.1 2.3,113.6 1.7,132.2 0.8,150.7 0.2,169.3 -1.2,187.8 -3,206.4 -4.3,224.9 -5.7,243.4 -6.6,262 -7.1,280.5 -7.4,299.1 -7.5,317.6 -7.4,336.2 -8.1,354.7 -8.7,373.3 -8.8,391.8 -9,410.3 -8.9,428.9 -8.8,447.4 -9.4,466 -10.4,484.5 -11.5,503.1 -11.5,521.6 -10,540.2 22.4,540.2 17.7,521.6 15.3,503.1 14.5,484.5 14.1,466 13.2,447.4 11.9,428.9 10.6,410.3 9.6,391.8 8.8,373.3 8.4,354.7 8,336.2 6.8,317.6 5.9,299.1 5.2,280.5 4.7,262 4.5,243.4 4.9,224.9 5.2,206.4 6.1,187.8 6.6,169.3 6.4,150.7 6.5,132.2 6.1,113.6 3,95.1 1.3,76.5 1.1,58Z" fill="#E95D39" stroke="#C8401A" stroke-width="0.9" stroke-opacity="0.22"/>
<path d="M-4.2,58 -4.4,76.3 -4.2,94.6 -4.5,112.9 -6.8,131.3 -9.2,149.6 -11.1,167.9 -14,186.2 -17.4,204.5 -20.3,222.8 -23.4,241.1 -26.1,259.5 -28.4,277.8 -30.7,296.1 -32.9,314.4 -35.2,332.7 -38.2,351 -41.2,369.3 -43.7,387.7 -46.3,406 -48.7,424.3 -50.9,442.6 -53.4,460.9 -56.4,479.2 -59.6,497.5 -62.8,515.9 -65.7,534.2 -36.9,534.2 -36.6,515.9 -35.5,497.5 -33.8,479.2 -32.1,460.9 -30.8,442.6 -29.8,424.3 -28.4,406 -26.9,387.7 -25.2,369.3 -23.1,351 -21.2,332.7 -19.8,314.4 -18.6,296.1 -17.2,277.8 -15.8,259.5 -14.1,241.1 -11.9,222.8 -9.9,204.5 -7.3,186.2 -5.3,167.9 -4.1,149.6 -2.4,131.3 -1,112.9 -1.8,94.6 -2.5,76.3 -2.3,58Z" fill="#F48A6C" stroke="#C8401A" stroke-width="0.9" stroke-opacity="0.22"/>
<path d="M-2.5,58 -2.6,76.5 -1.8,94.9 -1,113.4 -2.4,131.8 -4,150.3 -5.3,168.8 -7.5,187.2 -10.3,205.7 -12.5,224.1 -15,242.6 -16.9,261.1 -18.4,279.5 -19.7,298 -20.8,316.5 -21.7,334.9 -23.2,353.4 -24.4,371.8 -25.2,390.3 -26,408.8 -26.7,427.2 -27.5,445.7 -28.9,464.1 -31.1,482.6 -33.8,501.1 -36.2,519.5 -38,538 -8.5,538 -9.5,519.5 -9.3,501.1 -8.3,482.6 -7.4,464.1 -7.2,445.7 -7.7,427.2 -8,408.8 -8.3,390.3 -8.4,371.8 -8,353.4 -7.5,334.9 -7.6,316.5 -7.5,298 -7.1,279.5 -6.6,261.1 -5.6,242.6 -4.1,224.1 -2.7,205.7 -0.8,187.2 0.6,168.8 1.1,150.3 2,131.8 2.5,113.4 0.5,94.9 -0.6,76.5 -0.7,58Z" fill="#E95D39" stroke="#C8401A" stroke-width="0.9" stroke-opacity="0.22"/>
<path d="M-1.5,58 -1.5,76.5 -0.5,95.1 0.9,113.6 0,132.1 -1.2,150.7 -2,169.2 -3.6,187.7 -5.7,206.3 -7.3,224.8 -8.9,243.4 -10.1,261.9 -10.9,280.4 -11.6,299 -12.2,317.5 -12.8,336 -14.1,354.6 -15.3,373.1 -16.2,391.6 -17,410.2 -17.5,428.7 -17.9,447.2 -18.7,465.8 -20,484.3 -21.1,502.8 -21.3,521.4 -20.1,539.9 9.7,539.9 5.6,521.4 3.5,502.8 3,484.3 2.9,465.8 2.4,447.2 1.7,428.7 1.1,410.2 0.9,391.6 0.7,373.1 1.1,354.6 1.5,336 1,317.5 0.6,299 0.4,280.4 0.3,261.9 0.5,243.4 1.2,224.8 1.9,206.3 3.1,187.7 3.9,169.2 4,150.7 4.4,132.1 4.5,113.6 1.9,95.1 0.4,76.5 0.3,58Z" fill="#E95D39" stroke="#C8401A" stroke-width="0.9" stroke-opacity="0.22"/>
<path d="M-0.1,58 0,76.5 1.4,94.9 3.8,113.4 3.6,131.9 3.1,150.4 3,168.8 2.1,187.3 0.9,205.8 0.1,224.3 -0.7,242.7 -1.1,261.2 -1.2,279.7 -1.3,298.2 -1.3,316.6 -1.1,335.1 -1.8,353.6 -2.5,372 -2.6,390.5 -2.5,409 -2.1,427.5 -1.3,445.9 -0.7,464.4 -0.4,482.9 0.2,501.4 2.2,519.8 6,538.3 35.5,538.3 28.9,519.8 24.7,501.4 22.5,482.9 20.8,464.4 19,445.9 17,427.5 15.5,409 14.4,390.5 13.6,372 13.4,353.6 13.1,335.1 11.9,316.6 11,298.2 10.1,279.7 9.3,261.2 8.7,242.7 8.6,224.3 8.5,205.8 8.8,187.3 8.9,168.8 8.3,150.4 8,131.9 7.3,113.4 3.7,94.9 2,76.5 1.7,58Z" fill="#ED6845" stroke="#C8401A" stroke-width="0.9" stroke-opacity="0.22"/>
<path d="M0.7,58 1,76.5 2.6,95 5.6,113.5 5.9,131.9 5.7,150.4 5.9,168.9 5.3,187.4 4.3,205.9 3.8,224.4 3.2,242.9 3.2,261.4 3.6,279.8 4.2,298.3 5,316.8 6.2,335.3 6.7,353.8 7.1,372.3 8.1,390.8 9.2,409.3 10.4,427.7 11.7,446.2 12.4,464.7 12.6,483.2 12.8,501.7 14.4,520.2 17.9,538.7 47.5,538.7 41.1,520.2 37.3,501.7 35.5,483.2 33.9,464.7 31.9,446.2 29.5,427.7 27.2,409.3 25.1,390.8 23.2,372.3 21.8,353.8 20.4,335.3 18.2,316.8 16.4,298.3 14.9,279.8 13.6,261.4 12.6,242.9 12.2,224.4 11.9,205.9 12,187.4 11.7,168.9 10.9,150.4 10.3,131.9 9.1,113.5 4.9,95 2.9,76.5 2.6,58Z" fill="#ED6845" stroke="#C8401A" stroke-width="0.9" stroke-opacity="0.22"/>
<path d="M-5.6,58 -5.9,76 -6,94 -7.3,112.1 -10.1,130.1 -13.2,148.1 -15.8,166.1 -19.3,184.2 -23.6,202.2 -27.2,220.2 -31.3,238.2 -34.7,256.3 -37.8,274.3 -40.7,292.3 -43.3,310.3 -46,328.4 -49.2,346.4 -52.7,364.4 -55.6,382.4 -58.6,400.4 -62,418.5 -65.1,436.5 -68.7,454.5 -73.2,472.5 -78.3,490.6 -83.7,508.6 -89.7,526.6 -62,526.6 -58.4,508.6 -54.7,490.6 -51.1,472.5 -47.9,454.5 -45.5,436.5 -43.4,418.5 -41.1,400.4 -39,382.4 -37,364.4 -34.4,346.4 -32.3,328.4 -30.5,310.3 -28.7,292.3 -26.8,274.3 -24.6,256.3 -22.1,238.2 -18.9,220.2 -16.2,202.2 -12.8,184.2 -10,166.1 -8.2,148.1 -5.8,130.1 -3.8,112.1 -3.7,94 -4,76 -3.8,58Z" fill="#F07350" stroke="#C8401A" stroke-width="0.9" stroke-opacity="0.22"/>
<path d="M-6,58 -6.3,76.1 -6.5,94.1 -8,112.2 -11,130.2 -14.3,148.3 -17,166.3 -20.7,184.4 -25.2,202.4 -28.9,220.5 -33.1,238.5 -36.7,256.6 -40,274.6 -43,292.7 -45.8,310.8 -48.8,328.8 -52.3,346.9 -56.1,364.9 -59.3,383 -62.8,401 -66.5,419.1 -70.1,437.1 -74,455.2 -78.8,473.2 -84.1,491.3 -89.7,509.3 -95.9,527.4 -70.5,527.4 -66.5,509.3 -62.5,491.3 -58.5,473.2 -54.9,455.2 -52,437.1 -49.5,419.1 -46.7,401 -44.1,383 -41.7,364.9 -38.7,346.9 -36.2,328.8 -34,310.8 -32,292.7 -29.8,274.6 -27.4,256.6 -24.7,238.5 -21.3,220.5 -18.4,202.4 -14.7,184.4 -11.8,166.3 -9.7,148.3 -7.1,130.2 -4.8,112.2 -4.4,94.1 -4.5,76.1 -4.3,58Z" fill="#ED6845" stroke="#C8401A" stroke-width="0.9" stroke-opacity="0.22"/>
<path d="M-3.1,58 -3.3,76.5 -2.7,95 -2.4,113.5 -4.1,132 -6.1,150.5 -7.7,169 -10.2,187.5 -13.3,206 -15.7,224.5 -18.3,243 -20.4,261.5 -22,280 -23.5,298.5 -24.8,317 -26.2,335.5 -28.2,354 -30.2,372.6 -31.8,391.1 -33.6,409.6 -35.3,428.1 -37,446.6 -39.4,465.1 -42.4,483.6 -45.6,502.1 -48.4,520.6 -50.6,539.1 -23.3,539.1 -23.9,520.6 -23.1,502.1 -21.4,483.6 -19.7,465.1 -18.4,446.6 -17.7,428.1 -17,409.6 -16.2,391.1 -15.4,372.6 -14.3,354 -13.2,335.5 -12.8,317 -12.3,298.5 -11.7,280 -10.9,261.5 -9.7,243 -8,224.5 -6.3,206 -4.1,187.5 -2.3,169 -1.4,150.5 -0.1,132 0.9,113.5 -0.5,95 -1.5,76.5 -1.4,58Z" fill="#ED6845" stroke="#C8401A" stroke-width="0.9" stroke-opacity="0.22"/>
<path d="M1.7,58 1.9,76.3 3.6,94.6 7.3,112.9 8.1,131.3 8.3,149.6 8.9,167.9 8.9,186.2 8.6,204.5 8.8,222.8 9,241.1 9.7,259.4 10.8,277.8 11.9,296.1 13.1,314.4 14.5,332.7 15.2,351 15.5,369.3 16.1,387.6 17,405.9 18.1,424.3 19.6,442.6 20.9,460.9 22,479.2 23.5,497.5 26.7,515.8 32.3,534.1 58.8,534.1 50.7,515.8 45.7,497.5 42.8,479.2 40.4,460.9 37.9,442.6 35.4,424.3 33.4,405.9 31.6,387.6 30.1,369.3 29,351 27.4,332.7 25.1,314.4 23,296.1 21,277.8 19.1,259.4 17.5,241.1 16.5,222.8 15.5,204.5 15,186.2 14.3,167.9 13,149.6 12.1,131.3 10.5,112.9 5.8,94.6 3.7,76.3 3.4,58Z" fill="#E95D39" stroke="#C8401A" stroke-width="0.9" stroke-opacity="0.22"/>
<path d="M-6.7,58 -7.1,76.1 -7.5,94.1 -9.5,112.2 -12.9,130.2 -16.5,148.3 -19.6,166.4 -23.8,184.4 -28.7,202.5 -33,220.6 -37.8,238.6 -42,256.7 -45.8,274.7 -49.2,292.8 -52.5,310.9 -55.8,328.9 -59.4,347 -63.3,365 -66.5,383.1 -70,401.2 -73.8,419.2 -77.5,437.3 -81.9,455.3 -87.3,473.4 -93.6,491.5 -100.5,509.5 -108.6,527.6 -85.4,527.6 -79.4,509.5 -73.9,491.5 -68.9,473.4 -64.5,455.3 -61.1,437.3 -58.3,419.2 -55.4,401.2 -52.7,383.1 -50.2,365 -47.1,347 -44.3,328.9 -41.7,310.9 -39.3,292.8 -36.6,274.7 -33.5,256.7 -30.1,238.6 -26.1,220.6 -22.5,202.5 -18.3,184.4 -14.8,166.4 -12.3,148.3 -9.3,130.2 -6.6,112.2 -5.6,94.1 -5.5,76.1 -5.2,58Z" fill="#F48A6C" stroke="#C8401A" stroke-width="0.9" stroke-opacity="0.22"/>
<path d="M-4.9,58 -5.1,76.3 -5.1,94.6 -5.8,112.9 -8.4,131.2 -11.2,149.5 -13.5,167.8 -16.9,186 -20.9,204.3 -24.3,222.6 -28.1,240.9 -31.4,259.2 -34.2,277.5 -36.8,295.8 -39,314.1 -41.4,332.4 -44.1,350.7 -46.8,369 -49,387.3 -51.4,405.5 -53.9,423.8 -56.3,442.1 -59.5,460.4 -63.7,478.7 -68.5,497 -73.7,515.3 -79.3,533.6 -55.4,533.6 -52,515.3 -48.4,497 -44.9,478.7 -41.8,460.4 -39.7,442.1 -38.1,423.8 -36.6,405.5 -35,387.3 -33.6,369 -31.6,350.7 -29.7,332.4 -28.2,314.1 -26.7,295.8 -24.9,277.5 -22.8,259.2 -20.4,240.9 -17.4,222.6 -14.7,204.3 -11.4,186 -8.7,167.8 -6.9,149.5 -4.8,131.2 -2.9,112.9 -3.1,94.6 -3.5,76.3 -3.3,58Z" fill="#F07350" stroke="#C8401A" stroke-width="0.9" stroke-opacity="0.22"/>
<path d="M2.6,58 2.9,76.3 4.9,94.7 9.2,113 10.5,131.3 11.1,149.7 12.1,168 12.5,186.4 12.6,204.7 13.1,223 13.7,241.4 14.9,259.7 16.4,278 18.1,296.4 20,314.7 22.1,333 23.6,351.4 24.7,369.7 26.2,388 28,406.4 29.9,424.7 32,443.1 33.9,461.4 35.5,479.7 37.4,498.1 41.1,516.4 47.4,534.7 71.5,534.7 63,516.4 57.5,498.1 54.4,479.7 51.7,461.4 48.7,443.1 45.6,424.7 42.8,406.4 40.3,388 38,369.7 36.2,351.4 33.8,333 30.8,314.7 28.2,296.4 25.7,278 23.5,259.7 21.5,241.4 20.1,223 18.8,204.7 18,186.4 16.9,168 15.4,149.7 14.1,131.3 12.1,113 6.9,94.7 4.6,76.3 4.1,58Z" fill="#F07350" stroke="#C8401A" stroke-width="0.9" stroke-opacity="0.22"/>
<path d="M3.4,58 3.9,75.9 5.8,93.9 10.7,111.8 12.6,129.8 13.5,147.7 14.9,165.6 15.7,183.6 16.1,201.5 17,219.4 17.8,237.4 19.3,255.3 21.1,273.3 23.2,291.2 25.6,309.1 28.1,327.1 30.8,345 32.5,363 34.5,380.9 36.9,398.8 39.3,416.8 42,434.7 44.6,452.7 46.7,470.6 48.7,488.5 51.5,506.5 56.8,524.4 79.6,524.4 72.4,506.5 68.2,488.5 65,470.6 61.8,452.7 58.3,434.7 54.7,416.8 51.4,398.8 48.2,380.9 45.5,363 43.1,345 39.5,327.1 36.2,309.1 33.1,291.2 30.3,273.3 27.7,255.3 25.5,237.4 23.8,219.4 22.3,201.5 21.1,183.6 19.6,165.6 17.7,147.7 16.1,129.8 13.6,111.8 7.7,93.9 5.5,75.9 5,58Z" fill="#F48A6C" stroke="#C8401A" stroke-width="0.9" stroke-opacity="0.22"/>
<path d="M4.7,58 5.2,75.5 7.1,93.1 12.9,110.6 15.6,128.1 17.1,145.7 19,163.2 20.5,180.7 21.6,198.2 23,215.8 24.5,233.3 26.5,250.8 28.8,268.4 31.4,285.9 34.2,303.4 37.2,321 40.7,338.5 43.1,356 45.5,373.5 48.3,391.1 51.5,408.6 54.9,426.1 58.4,443.7 61.8,461.2 65,478.7 68.4,496.3 73.7,513.8 95.3,513.8 88.4,496.3 83.8,478.7 79.6,461.2 75.2,443.7 70.7,426.1 66.4,408.6 62.5,391.1 58.9,373.5 55.8,356 52.6,338.5 48.3,321 44.6,303.4 41.1,285.9 37.8,268.4 34.7,250.8 31.9,233.3 29.7,215.8 27.6,198.2 25.8,180.7 23.7,163.2 21.2,145.7 19.1,128.1 15.7,110.6 9,93.1 6.8,75.5 6.3,58Z" fill="#F07350" stroke="#C8401A" stroke-width="0.9" stroke-opacity="0.22"/>
<path d="M-2.1,58 -2.1,76.2 -1.4,94.4 -0.2,112.6 -1.3,130.8 -2.8,149 -3.8,167.2 -5.7,185.4 -8.2,203.6 -10.1,221.8 -12.2,239.9 -13.8,258.1 -14.9,276.3 -15.9,294.5 -16.6,312.7 -17.3,330.9 -18.4,349.1 -19.8,367.3 -20.7,385.5 -21.5,403.7 -22.5,421.9 -23.2,440.1 -24.4,458.3 -26.3,476.5 -28.6,494.7 -30.5,512.9 -31.7,531.1 -8.1,531.1 -9,512.9 -8.7,494.7 -7.7,476.5 -6.9,458.3 -6.7,440.1 -6.8,421.9 -6.8,403.7 -6.7,385.5 -6.6,367.3 -5.9,349.1 -5.7,330.9 -5.8,312.7 -5.9,294.5 -5.7,276.3 -5.3,258.1 -4.5,239.9 -3.1,221.8 -1.9,203.6 -0.2,185.4 1,167.2 1.5,149 2.3,130.8 2.7,112.6 0.6,94.4 -0.5,76.2 -0.5,58Z" fill="#ED6845" stroke="#C8401A" stroke-width="0.9" stroke-opacity="0.22"/>
<path d="M4.5,58 5,75.8 7,93.7 12.7,111.5 15.1,129.3 16.5,147.2 18.4,165 19.9,182.8 21.1,200.7 22.7,218.5 24.3,236.3 26.5,254.2 28.9,272 31.4,289.8 34,307.7 36.6,325.5 39.4,343.3 41,361.2 42.9,379 45.2,396.8 47.9,414.7 51.1,432.5 54.7,450.3 58.2,468.2 61.9,486 66.7,503.8 74.4,521.7 94.6,521.7 85.2,503.8 79.2,486 74.5,468.2 70.1,450.3 65.7,432.5 61.7,414.7 58.2,396.8 55.2,379 52.7,361.2 50.4,343.3 46.8,325.5 43.5,307.7 40.3,289.8 37.1,272 34,254.2 31.1,236.3 28.8,218.5 26.6,200.7 24.8,182.8 22.7,165 20.3,147.2 18.3,129.3 15.2,111.5 8.7,93.7 6.4,75.8 5.9,58Z" fill="#F07350" stroke="#C8401A" stroke-width="0.9" stroke-opacity="0.22"/>
<path d="M-7.1,58 -7.6,75.6 -8,93.1 -10.1,110.7 -13.4,128.3 -17.2,145.8 -20.3,163.4 -24.4,180.9 -29.3,198.5 -33.9,216.1 -38.9,233.6 -43.3,251.2 -47.7,268.8 -51.4,286.3 -55,303.9 -58.4,321.4 -62.1,339 -66.1,356.6 -69.5,374.1 -72.7,391.7 -76.2,409.3 -79.7,426.8 -83.4,444.4 -88,461.9 -93.6,479.5 -100.1,497.1 -107.6,514.6 -90.2,514.6 -84,497.1 -78.5,479.5 -73.7,461.9 -70,444.4 -67,426.8 -64.2,409.3 -61.4,391.7 -58.7,374.1 -55.9,356.6 -52.5,339 -49.5,321.4 -46.6,303.9 -43.6,286.3 -40.5,268.8 -36.7,251.2 -32.9,233.6 -28.5,216.1 -24.5,198.5 -20.1,180.9 -16.6,163.4 -13.9,145.8 -10.6,128.3 -7.9,110.7 -6.5,93.1 -6.3,75.6 -5.9,58Z" fill="#F48A6C" stroke="#C8401A" stroke-width="0.9" stroke-opacity="0.22"/>
<path d="M5.4,58 6,75.7 8.2,93.5 14.4,111.2 17.3,128.9 19.2,146.7 21.4,164.4 23.3,182.1 24.9,199.9 26.8,217.6 28.9,235.3 31.5,253.1 34.3,270.8 37.4,288.5 40.6,306.3 43.8,324 47.5,341.7 49.8,359.4 52.3,377.2 55.3,394.9 58.6,412.6 62.2,430.4 66.2,448.1 70.1,465.8 74.1,483.6 79,501.3 86.8,519 104.5,519 95.3,501.3 89.4,483.6 84.5,465.8 79.8,448.1 75.1,430.4 70.7,412.6 66.7,394.9 63.2,377.2 60.1,359.4 57.2,341.7 52.8,324 49,306.3 45.2,288.5 41.6,270.8 38.1,253.1 34.9,235.3 32.2,217.6 29.8,199.9 27.6,182.1 25.2,164.4 22.5,146.7 20.2,128.9 16.7,111.2 9.7,93.5 7.3,75.7 6.7,58Z" fill="#F48A6C" stroke="#C8401A" stroke-width="0.9" stroke-opacity="0.22"/>
<path d="M6.2,58 6.8,75.4 8.9,92.8 15.7,110.2 19.2,127.5 21.3,144.9 23.8,162.3 26.1,179.7 28,197.1 30.1,214.5 32.3,231.8 35,249.2 38,266.6 41.2,284 44.6,301.4 48.2,318.8 52.4,336.1 55.7,353.5 58.7,370.9 62.2,388.3 66.3,405.7 70.6,423.1 75.3,440.4 80,457.8 84.5,475.2 89.3,492.6 95.7,510 110.5,510 103.1,492.6 97.5,475.2 92.3,457.8 86.9,440.4 81.6,423.1 76.6,405.7 72.1,388.3 68,370.9 64.5,353.5 60.7,336.1 55.9,318.8 51.9,301.4 48,284 44.2,266.6 40.7,249.2 37.5,231.8 34.7,214.5 32.2,197.1 29.8,179.7 27.1,162.3 24.2,144.9 21.6,127.5 17.6,110.2 10.2,92.8 7.9,75.4 7.3,58Z" fill="#F48A6C" stroke="#C8401A" stroke-width="0.9" stroke-opacity="0.22"/>
<rect x="-170" y="56" width="340" height="210" fill="url(#top0)" clip-path="url(#tc0)"/>
<path d="M-55.5,395 -53,440 -51,480 -53.5,440Z" fill="#F48A6C" opacity="0.8"/>
<path d="M-19.5,290 -22.5,380 -25,470 -24,380Z" fill="#F48A6C" opacity="0.8"/>
<path d="M30.5,250 36,340 44,425 38.5,340Z" fill="#F48A6C" opacity="0.8"/>
<path d="M50,280 51.2,293.6 53.5,312.6 56.6,334.8 60.1,358.4 63.7,381.2 67.4,401.1 71,418.4 74.6,435.1 79,450.8 83.7,465.6 88.9,479.7 94.8,492.9 101.9,505.5 110.1,517.3 118.7,528 126.8,537.4 133.5,545 138.4,550.8 147.6,543.2 142.8,537.3 135.8,529.5 127.8,520.2 119.5,509.8 111.7,498.6 105.2,487.1 99.9,474.8 95,461.5 90.4,447.1 86.1,431.8 81.3,415.8 76.6,398.9 71.7,379.5 66.8,357.1 61.9,333.9 57.4,311.9 53.4,293.2 50,280Z" fill="#f5997f" opacity="0.9"/>
<path d="M78,494 79.6,496.7 82.2,499.9 85.4,503.5 88.7,507.3 92,511.2 94.9,514.6 97.9,518.1 101,522.2 103.9,526.4 106.7,530.4 109,533.8 110.7,536.3 117.3,531.7 115.6,529.3 113.3,525.9 110.6,521.9 107.5,517.5 104.3,513.3 101.1,509.4 97.4,505.9 93,502.7 88.6,499.7 84.5,497.1 80.9,495.1 78,494Z" fill="#f5997f" opacity="0.9"/>
<path d="M-62,330 -65.9,343.4 -70.7,362.6 -76.2,385.1 -81.9,408.6 -87.4,430.7 -92.2,448.9 -96.5,463.8 -100.7,477.1 -104.2,489.2 -107.5,500 -110.5,509.7 -113.2,518.3 -115.6,525.5 -117.8,531.4 -119.8,536.2 -121.5,540 -123,543.3 -124.1,545.8 -113.9,550.2 -112.8,547.6 -111.5,544.6 -109.7,540.6 -107.7,535.6 -105.3,529.3 -102.8,521.7 -100,513 -97,503.3 -93.7,492.3 -90.2,480.1 -87.1,466.3 -83.8,451.1 -80.1,432.3 -75.8,409.9 -71.3,386.1 -67.2,363.3 -63.9,343.8 -62,330Z" fill="#f5997f" opacity="0.9"/>
<path d="M-95,500 -97.7,504.2 -100.8,510.4 -104.2,517.8 -107.6,525.5 -110.7,532.7 -112.8,538.7 -114.1,543.7 -115.1,548 -115.8,551.7 -116.2,554.8 -116.6,557.2 -116.9,559.2 -107.1,560.8 -106.7,558.9 -106.4,556.3 -105.9,553.3 -105.2,549.8 -104.4,545.8 -103.2,541.3 -101.7,535.4 -100.1,527.9 -98.3,519.7 -96.6,511.8 -95.3,505 -95,500Z" fill="#f5997f" opacity="0.9"/>
<path d="M-113.5,519.5 -101.7,519.5 -106.3,555.3 -118,557.4Z" fill="url(#end0)"/>
<path d="M-98.5,493.3 -85,493.3 -92.1,558.9 -105.7,561Z" fill="url(#end0)"/>
<path d="M-85.6,496.7 -72.2,496.7 -78.4,564 -91.8,562.8Z" fill="url(#end0)"/>
<path d="M-73.7,504.6 -62.2,504.6 -67,565.6 -78.4,564.5Z" fill="url(#end0)"/>
<path d="M-61.1,493 -48.5,493 -53.3,568.8 -65.9,567.1Z" fill="url(#end0)"/>
<path d="M-49,491.8 -40.3,491.8 -44.3,569.2 -53.1,567.8Z" fill="url(#end0)"/>
<path d="M-42.6,513.2 -28.7,513.2 -31.2,574.3 -45.1,576.6Z" fill="url(#end0)"/>
<path d="M-29.2,493.3 -17.1,493.3 -19.2,571.3 -31.3,572.3Z" fill="url(#end0)"/>
<path d="M-17.1,509.1 -3.8,509.1 -4.5,574 -17.9,572.4Z" fill="url(#end0)"/>
<path d="M-5.9,503.4 2.5,503.4 2.4,574.7 -6,572.3Z" fill="url(#end0)"/>
<path d="M2,497.8 12.1,497.8 12.7,573.3 2.7,573.3Z" fill="url(#end0)"/>
<path d="M11,519.2 21.9,519.2 22.9,574.5 12,576.7Z" fill="url(#end0)"/>
<path d="M19.7,520.8 32.2,520.8 33.9,575.6 21.4,576.9Z" fill="url(#end0)"/>
<path d="M30.9,514.1 42.3,514.1 44.7,571 33.2,569.5Z" fill="url(#end0)"/>
<path d="M41.7,495.9 50.9,495.9 55.1,573.1 45.9,575.2Z" fill="url(#end0)"/>
<path d="M49.8,497.6 60,497.6 64.7,572.9 54.6,571Z" fill="url(#end0)"/>
<path d="M61,517 73.8,517 78,571.9 65.3,574Z" fill="url(#end0)"/>
<path d="M69.6,489.4 79.6,489.4 86.5,567.8 76.4,567Z" fill="url(#end0)"/>
<path d="M81.1,497.8 92.4,497.8 98.7,561.5 87.5,559.9Z" fill="url(#end0)"/>
<path d="M88.4,480.5 97.3,480.5 106.2,561.2 97.3,559.6Z" fill="url(#end0)"/>
<path d="M97,491.8 110.9,491.8 118.9,557.6 105,556.3Z" fill="url(#end0)"/>
<path d="M115.8,529.6 128.7,529.6 132,554.3 119,552.1Z" fill="url(#end0)"/>
<path d="M63.5,388 66.5,388 87,498 82.5,498Z" fill="#fff" opacity="0.85"/>
<path d="M82,480 85,480 91,532 88,532Z" fill="#fff" opacity="0.85"/>
<path d="M106,430 108,430 118,500 116,500Z" fill="#fff" opacity="0.85"/>
<path d="M-40,330 -38.8,330 -46,430 -47.2,430Z" fill="#fff" opacity="0.85"/>
<path d="M-13.2,0 L13.2,0 L14.2,56 L-14,56Z" fill="#E5694A"/>
<path d="M-14,55 L14.2,55 L14.8,86 L15.2,96 L-14.8,100 L-14.5,90Z" fill="#eb6e4d"/>
<path d="M-4,58 L-3.6,120 L-3.2,250" stroke="url(#fold0)" stroke-width="1.2" fill="none"/>
<rect x="-17.5" y="48.9" width="32.5" height="7.4" rx="1.2" fill="url(#band)"/>
<path d="M14.8,52.4 L17.5,52.4" stroke="#6b5a3a" stroke-width="1"/>
</g>
<g transform="translate(735.2,95.4) scale(1.0)">
<path d="M22.3,100 27.2,110 31.3,120 34.2,130 36.6,140 39,150 41.5,160 43.9,170 46.1,180 48.3,190 50.3,200 52.4,210 54.4,220 56.5,230 58.6,240 60.9,250 63.1,260 65.3,270 67.5,280 69.6,290 71.7,300 73.7,310 75.8,320 78,330 80.4,340 81.9,350 83.2,360 84.5,370 85.9,380 87.6,390 89.3,400 91.2,410 93.2,420 95.3,430 97.5,440 99.7,450 101.9,460 104,470 106.1,480 108.4,490 111.1,500 114.8,510 119.8,520 125.8,530 133.7,540 -117.5,540 -114.1,530 -110.9,520 -108,510 -105.4,500 -103.1,490 -101,480 -99.1,470 -97.3,460 -95.8,450 -94.6,440 -93.5,430 -92.4,420 -91.2,410 -89.9,400 -88.6,390 -87.3,380 -86.1,370 -84.6,360 -82.7,350 -80.8,340 -78.8,330 -77,320 -75.1,310 -73.3,300 -71.3,290 -69.2,280 -67.1,270 -64.6,260 -61.8,250 -59.2,240 -56.1,230 -52.8,220 -50,210 -46.9,200 -43.3,190 -40,180 -36.9,170 -34.1,160 -31.8,150 -29.1,140 -25.9,130 -22.5,120 -19.6,110 -17.7,100Z" fill="#ddf2fb"/>
<path d="M14.2,56 14.3,59.8 14.3,65.3 14.4,71.5 14.6,77.4 14.8,82 15.1,85.1 15.3,87.2 15.7,88.9 16.2,90.4 16.8,92 17.7,93.6 18.7,95 19.8,96.4 21,98 22.3,100 23.7,102.6 25.1,105.5 26.6,108.7 28.1,111.9 29.3,115 30.3,118 31.2,121 31.9,124 32.6,127 33.3,130 33.9,132.8 34.4,135.3 34.9,137.9 35.5,141 36.3,145 37.3,150 38.5,155.9 39.8,162.3 41.1,168.8 42.3,175 43.4,181 44.4,187 45.5,193 46.5,199 47.5,205 48.5,211 49.6,217 50.6,223 51.7,229 52.8,235 54,241 55.1,247 56.4,253 57.6,259 58.8,265 60,271 61.2,277 62.4,283 63.6,289 64.8,295 66,301.2 67.3,307.6 68.5,313.9 69.7,319.8 70.8,325 71.7,328.9 72.5,331.7 73.2,334.3 73.9,337.5 74.8,342 75.8,348.3 76.8,355.7 77.9,363.9 79.1,372.1 80.4,380 81.7,387.4 83.2,394.8 84.7,402.2 86.2,409.6 87.9,417 89.7,424.6 91.5,432.2 93.4,439.8 95.4,447.4 97.3,455 99.2,462.8 101.2,470.7 103.2,478.5 105,485.8 106.8,492 108.3,497 109.6,500.9 110.9,504.3 112.3,507.5 114,511 115.7,514.4 116.3,515.4 117.2,517 118.3,519 119.9,521.6 110,524.7 97.3,528 88.1,531.7 80,535.6 70.8,538.7 59.2,540.3 46.3,541.1 33.5,541.6 21,542.2 8.5,542.6 -4,542.6 -16.5,542.3 -29,541.6 -41.5,540.6 -54.4,539 -67.2,537 -79,535 -89.6,533.4 -99.1,531.8 -107,529 -111.4,523.7 -109.1,517.2 -107.5,512.6 -107,511 -105.8,507.2 -104.7,503.4 -103.6,499.6 -102.5,495.8 -101.5,492 -100.5,488.2 -99.5,484.4 -98.6,480.5 -97.7,476.7 -96.8,473 -96,469.4 -95.2,465.8 -94.4,462.2 -93.7,458.6 -93,455 -92.3,451.3 -91.7,447.5 -91.1,443.6 -90.6,439.8 -90,436 -89.5,432.2 -88.9,428.4 -88.4,424.5 -87.9,420.7 -87.4,417 -86.9,413.4 -86.3,409.8 -85.7,406.2 -85.2,402.6 -84.6,399 -84,395.3 -83.5,391.5 -82.9,387.6 -82.4,383.8 -81.8,380 -81.3,376.2 -80.7,372.4 -80.2,368.6 -79.6,364.8 -79,361 -78.3,357.2 -77.5,353.4 -76.8,349.6 -76,345.8 -75.2,342 -74.5,338.3 -73.8,334.8 -73.1,331.2 -72.3,327.4 -71.5,323 -70.6,317.8 -69.5,311.8 -68.4,305.7 -67.4,299.9 -66.5,295 -65.8,291.2 -65.2,288.1 -64.6,285.4 -64.1,282.8 -63.5,280 -62.9,277 -62.3,274 -61.8,271 -61.2,268 -60.5,265 -59.8,262 -59,259 -58.3,256 -57.5,253 -56.7,250 -56,247 -55.3,244 -54.5,241 -53.8,238 -53,235 -52.1,232 -51.2,229 -50.3,226 -49.4,223 -48.5,220 -47.7,217 -47,214 -46.3,211 -45.5,208 -44.7,205 -43.8,202 -42.9,199 -41.9,196 -40.9,193 -40,190 -39.1,187 -38.2,184 -37.4,181 -36.5,178 -35.7,175 -34.9,172 -34.1,169 -33.4,166 -32.7,163 -32,160 -31.4,157 -30.8,154 -30.2,151 -29.7,148 -29,145 -28.3,142 -27.5,139 -26.7,136 -25.8,133 -25,130 -24.1,127 -23.2,124 -22.3,121 -21.5,118 -20.7,115 -20,111.9 -19.4,108.8 -18.9,105.6 -18.3,102.7 -17.7,100 -17,98.1 -16.3,96.8 -15.6,95.5 -15,93.5 -14.5,90 -14.2,84.2 -14.1,76.5 -14,68.3 -14,61 -14,56Z" fill="#AADCF1"/>
<path d="M-1.7,58 -1.7,76.3 -0.8,94.5 0.6,112.8 -0.3,131.1 -1.6,149.3 -2.4,167.6 -4,185.9 -6.1,204.1 -7.6,222.4 -9.4,240.6 -10.6,258.9 -11.5,277.2 -12.3,295.4 -13,313.7 -13.8,332 -15,350.2 -16.5,368.5 -17.5,386.8 -18.5,405 -19.3,423.3 -19.8,441.6 -20.5,459.8 -21.7,478.1 -23,496.3 -23.6,514.6 -23.1,532.9 19.8,532.9 15.5,514.6 13.1,496.3 12.1,478.1 11.3,459.8 10.2,441.6 9,423.3 8.2,405 7.6,386.8 7.3,368.5 7.5,350.2 7.2,332 6.5,313.7 5.8,295.4 5.2,277.2 4.7,258.9 4.6,240.6 4.9,222.4 5.2,204.1 6,185.9 6.3,167.6 6.1,149.3 6.2,131.1 5.8,112.8 2.7,94.5 1.2,76.3 1.1,58Z" fill="#8ECAE6" stroke="#78B5D2" stroke-width="0.9" stroke-opacity="0.22"/>
<path d="M-4,58 -4.1,76.3 -3.8,94.5 -3.9,112.8 -6,131 -8.3,149.3 -10.2,167.5 -13,185.8 -16.4,204 -19.3,222.3 -22.4,240.6 -25,258.8 -27.2,277.1 -29.1,295.3 -30.8,313.6 -32.6,331.8 -34.9,350.1 -37.2,368.4 -39.1,386.6 -41.1,404.9 -43.2,423.1 -45.2,441.4 -47.8,459.6 -51.2,477.9 -55,496.1 -58.9,514.4 -62.8,532.7 -24.7,532.7 -24.3,514.4 -23,496.1 -21.2,477.9 -19.5,459.6 -18.6,441.4 -18.1,423.1 -17.4,404.9 -16.8,386.6 -16,368.4 -14.9,350.1 -14,331.8 -13.5,313.6 -13,295.3 -12.3,277.1 -11.3,258.8 -10,240.6 -8.1,222.3 -6.4,204 -4.2,185.8 -2.4,167.5 -1.5,149.3 -0.2,131 0.7,112.8 -0.7,94.5 -1.5,76.3 -1.5,58Z" fill="#AADCF1" stroke="#78B5D2" stroke-width="0.9" stroke-opacity="0.22"/>
<path d="M-0,58 0.2,76.3 1.5,94.6 4.1,112.9 4.1,131.3 3.6,149.6 3.5,167.9 2.6,186.2 1.2,204.5 0.4,222.8 -0.6,241.1 -1,259.5 -1.1,277.8 -0.9,296.1 -0.5,314.4 0.1,332.7 0.3,351 0.2,369.4 0.7,387.7 1.2,406 1.9,424.3 2.7,442.6 3.1,460.9 2.8,479.2 2.4,497.6 2.9,515.9 4.9,534.2 43.3,534.2 37.8,515.9 34.6,497.6 33,479.2 31.5,460.9 29.4,442.6 27.1,424.3 25,406 23.1,387.7 21.5,369.4 20.3,351 18.8,332.7 16.9,314.4 15.3,296.1 13.9,277.8 12.7,259.5 11.8,241.1 11.6,222.8 11.3,204.5 11.4,186.2 11.2,167.9 10.4,149.6 9.9,131.3 8.8,112.9 4.6,94.6 2.8,76.3 2.5,58Z" fill="#8ECAE6" stroke="#78B5D2" stroke-width="0.9" stroke-opacity="0.22"/>
<path d="M1.8,58 2.1,76.2 3.8,94.3 7.7,112.5 8.6,130.6 9,148.8 9.8,166.9 10,185.1 9.8,203.2 10.1,221.4 10.4,239.5 11.1,257.7 12.1,275.8 13.2,294 14.3,312.1 15.5,330.3 16.4,348.4 16.5,366.6 17.2,384.7 18.3,402.9 19.6,421 21.5,439.2 23.5,457.3 25.2,475.5 27.3,493.6 30.7,511.8 36.3,529.9 69.2,529.9 60.6,511.8 55,493.6 51.3,475.5 48,457.3 44.6,439.2 41.5,421 38.9,402.9 36.7,384.7 35,366.6 33.7,348.4 31.7,330.3 29.4,312.1 27.2,294 25,275.8 23,257.7 21.1,239.5 19.8,221.4 18.5,203.2 17.7,185.1 16.5,166.9 14.9,148.8 13.7,130.6 11.7,112.5 6.5,94.3 4.4,76.2 4,58Z" fill="#9DD3EC" stroke="#78B5D2" stroke-width="0.9" stroke-opacity="0.22"/>
<path d="M-0.9,58 -0.8,76.5 0.4,95.1 2.3,113.6 1.7,132.2 0.8,150.7 0.2,169.3 -1.2,187.8 -3,206.4 -4.3,224.9 -5.7,243.4 -6.6,262 -7.1,280.5 -7.4,299.1 -7.5,317.6 -7.4,336.2 -8.1,354.7 -8.7,373.3 -8.8,391.8 -9,410.3 -8.9,428.9 -8.8,447.4 -9.4,466 -10.4,484.5 -11.5,503.1 -11.5,521.6 -10,540.2 22.4,540.2 17.7,521.6 15.3,503.1 14.5,484.5 14.1,466 13.2,447.4 11.9,428.9 10.6,410.3 9.6,391.8 8.8,373.3 8.4,354.7 8,336.2 6.8,317.6 5.9,299.1 5.2,280.5 4.7,262 4.5,243.4 4.9,224.9 5.2,206.4 6.1,187.8 6.6,169.3 6.4,150.7 6.5,132.2 6.1,113.6 3,95.1 1.3,76.5 1.1,58Z" fill="#8ECAE6" stroke="#78B5D2" stroke-width="0.9" stroke-opacity="0.22"/>
<path d="M-4.2,58 -4.4,76.3 -4.2,94.6 -4.5,112.9 -6.8,131.3 -9.2,149.6 -11.1,167.9 -14,186.2 -17.4,204.5 -20.3,222.8 -23.4,241.1 -26.1,259.5 -28.4,277.8 -30.7,296.1 -32.9,314.4 -35.2,332.7 -38.2,351 -41.2,369.3 -43.7,387.7 -46.3,406 -48.7,424.3 -50.9,442.6 -53.4,460.9 -56.4,479.2 -59.6,497.5 -62.8,515.9 -65.7,534.2 -36.9,534.2 -36.6,515.9 -35.5,497.5 -33.8,479.2 -32.1,460.9 -30.8,442.6 -29.8,424.3 -28.4,406 -26.9,387.7 -25.2,369.3 -23.1,351 -21.2,332.7 -19.8,314.4 -18.6,296.1 -17.2,277.8 -15.8,259.5 -14.1,241.1 -11.9,222.8 -9.9,204.5 -7.3,186.2 -5.3,167.9 -4.1,149.6 -2.4,131.3 -1,112.9 -1.8,94.6 -2.5,76.3 -2.3,58Z" fill="#C2E8F7" stroke="#78B5D2" stroke-width="0.9" stroke-opacity="0.22"/>
<path d="M-2.5,58 -2.6,76.5 -1.8,94.9 -1,113.4 -2.4,131.8 -4,150.3 -5.3,168.8 -7.5,187.2 -10.3,205.7 -12.5,224.1 -15,242.6 -16.9,261.1 -18.4,279.5 -19.7,298 -20.8,316.5 -21.7,334.9 -23.2,353.4 -24.4,371.8 -25.2,390.3 -26,408.8 -26.7,427.2 -27.5,445.7 -28.9,464.1 -31.1,482.6 -33.8,501.1 -36.2,519.5 -38,538 -8.5,538 -9.5,519.5 -9.3,501.1 -8.3,482.6 -7.4,464.1 -7.2,445.7 -7.7,427.2 -8,408.8 -8.3,390.3 -8.4,371.8 -8,353.4 -7.5,334.9 -7.6,316.5 -7.5,298 -7.1,279.5 -6.6,261.1 -5.6,242.6 -4.1,224.1 -2.7,205.7 -0.8,187.2 0.6,168.8 1.1,150.3 2,131.8 2.5,113.4 0.5,94.9 -0.6,76.5 -0.7,58Z" fill="#8ECAE6" stroke="#78B5D2" stroke-width="0.9" stroke-opacity="0.22"/>
<path d="M-1.5,58 -1.5,76.5 -0.5,95.1 0.9,113.6 0,132.1 -1.2,150.7 -2,169.2 -3.6,187.7 -5.7,206.3 -7.3,224.8 -8.9,243.4 -10.1,261.9 -10.9,280.4 -11.6,299 -12.2,317.5 -12.8,336 -14.1,354.6 -15.3,373.1 -16.2,391.6 -17,410.2 -17.5,428.7 -17.9,447.2 -18.7,465.8 -20,484.3 -21.1,502.8 -21.3,521.4 -20.1,539.9 9.7,539.9 5.6,521.4 3.5,502.8 3,484.3 2.9,465.8 2.4,447.2 1.7,428.7 1.1,410.2 0.9,391.6 0.7,373.1 1.1,354.6 1.5,336 1,317.5 0.6,299 0.4,280.4 0.3,261.9 0.5,243.4 1.2,224.8 1.9,206.3 3.1,187.7 3.9,169.2 4,150.7 4.4,132.1 4.5,113.6 1.9,95.1 0.4,76.5 0.3,58Z" fill="#8ECAE6" stroke="#78B5D2" stroke-width="0.9" stroke-opacity="0.22"/>
<path d="M-0.1,58 0,76.5 1.4,94.9 3.8,113.4 3.6,131.9 3.1,150.4 3,168.8 2.1,187.3 0.9,205.8 0.1,224.3 -0.7,242.7 -1.1,261.2 -1.2,279.7 -1.3,298.2 -1.3,316.6 -1.1,335.1 -1.8,353.6 -2.5,372 -2.6,390.5 -2.5,409 -2.1,427.5 -1.3,445.9 -0.7,464.4 -0.4,482.9 0.2,501.4 2.2,519.8 6,538.3 35.5,538.3 28.9,519.8 24.7,501.4 22.5,482.9 20.8,464.4 19,445.9 17,427.5 15.5,409 14.4,390.5 13.6,372 13.4,353.6 13.1,335.1 11.9,316.6 11,298.2 10.1,279.7 9.3,261.2 8.7,242.7 8.6,224.3 8.5,205.8 8.8,187.3 8.9,168.8 8.3,150.4 8,131.9 7.3,113.4 3.7,94.9 2,76.5 1.7,58Z" fill="#9DD3EC" stroke="#78B5D2" stroke-width="0.9" stroke-opacity="0.22"/>
<path d="M0.7,58 1,76.5 2.6,95 5.6,113.5 5.9,131.9 5.7,150.4 5.9,168.9 5.3,187.4 4.3,205.9 3.8,224.4 3.2,242.9 3.2,261.4 3.6,279.8 4.2,298.3 5,316.8 6.2,335.3 6.7,353.8 7.1,372.3 8.1,390.8 9.2,409.3 10.4,427.7 11.7,446.2 12.4,464.7 12.6,483.2 12.8,501.7 14.4,520.2 17.9,538.7 47.5,538.7 41.1,520.2 37.3,501.7 35.5,483.2 33.9,464.7 31.9,446.2 29.5,427.7 27.2,409.3 25.1,390.8 23.2,372.3 21.8,353.8 20.4,335.3 18.2,316.8 16.4,298.3 14.9,279.8 13.6,261.4 12.6,242.9 12.2,224.4 11.9,205.9 12,187.4 11.7,168.9 10.9,150.4 10.3,131.9 9.1,113.5 4.9,95 2.9,76.5 2.6,58Z" fill="#9DD3EC" stroke="#78B5D2" stroke-width="0.9" stroke-opacity="0.22"/>
<path d="M-5.6,58 -5.9,76 -6,94 -7.3,112.1 -10.1,130.1 -13.2,148.1 -15.8,166.1 -19.3,184.2 -23.6,202.2 -27.2,220.2 -31.3,238.2 -34.7,256.3 -37.8,274.3 -40.7,292.3 -43.3,310.3 -46,328.4 -49.2,346.4 -52.7,364.4 -55.6,382.4 -58.6,400.4 -62,418.5 -65.1,436.5 -68.7,454.5 -73.2,472.5 -78.3,490.6 -83.7,508.6 -89.7,526.6 -62,526.6 -58.4,508.6 -54.7,490.6 -51.1,472.5 -47.9,454.5 -45.5,436.5 -43.4,418.5 -41.1,400.4 -39,382.4 -37,364.4 -34.4,346.4 -32.3,328.4 -30.5,310.3 -28.7,292.3 -26.8,274.3 -24.6,256.3 -22.1,238.2 -18.9,220.2 -16.2,202.2 -12.8,184.2 -10,166.1 -8.2,148.1 -5.8,130.1 -3.8,112.1 -3.7,94 -4,76 -3.8,58Z" fill="#AADCF1" stroke="#78B5D2" stroke-width="0.9" stroke-opacity="0.22"/>
<path d="M-6,58 -6.3,76.1 -6.5,94.1 -8,112.2 -11,130.2 -14.3,148.3 -17,166.3 -20.7,184.4 -25.2,202.4 -28.9,220.5 -33.1,238.5 -36.7,256.6 -40,274.6 -43,292.7 -45.8,310.8 -48.8,328.8 -52.3,346.9 -56.1,364.9 -59.3,383 -62.8,401 -66.5,419.1 -70.1,437.1 -74,455.2 -78.8,473.2 -84.1,491.3 -89.7,509.3 -95.9,527.4 -70.5,527.4 -66.5,509.3 -62.5,491.3 -58.5,473.2 -54.9,455.2 -52,437.1 -49.5,419.1 -46.7,401 -44.1,383 -41.7,364.9 -38.7,346.9 -36.2,328.8 -34,310.8 -32,292.7 -29.8,274.6 -27.4,256.6 -24.7,238.5 -21.3,220.5 -18.4,202.4 -14.7,184.4 -11.8,166.3 -9.7,148.3 -7.1,130.2 -4.8,112.2 -4.4,94.1 -4.5,76.1 -4.3,58Z" fill="#9DD3EC" stroke="#78B5D2" stroke-width="0.9" stroke-opacity="0.22"/>
<path d="M-3.1,58 -3.3,76.5 -2.7,95 -2.4,113.5 -4.1,132 -6.1,150.5 -7.7,169 -10.2,187.5 -13.3,206 -15.7,224.5 -18.3,243 -20.4,261.5 -22,280 -23.5,298.5 -24.8,317 -26.2,335.5 -28.2,354 -30.2,372.6 -31.8,391.1 -33.6,409.6 -35.3,428.1 -37,446.6 -39.4,465.1 -42.4,483.6 -45.6,502.1 -48.4,520.6 -50.6,539.1 -23.3,539.1 -23.9,520.6 -23.1,502.1 -21.4,483.6 -19.7,465.1 -18.4,446.6 -17.7,428.1 -17,409.6 -16.2,391.1 -15.4,372.6 -14.3,354 -13.2,335.5 -12.8,317 -12.3,298.5 -11.7,280 -10.9,261.5 -9.7,243 -8,224.5 -6.3,206 -4.1,187.5 -2.3,169 -1.4,150.5 -0.1,132 0.9,113.5 -0.5,95 -1.5,76.5 -1.4,58Z" fill="#9DD3EC" stroke="#78B5D2" stroke-width="0.9" stroke-opacity="0.22"/>
<path d="M1.7,58 1.9,76.3 3.6,94.6 7.3,112.9 8.1,131.3 8.3,149.6 8.9,167.9 8.9,186.2 8.6,204.5 8.8,222.8 9,241.1 9.7,259.4 10.8,277.8 11.9,296.1 13.1,314.4 14.5,332.7 15.2,351 15.5,369.3 16.1,387.6 17,405.9 18.1,424.3 19.6,442.6 20.9,460.9 22,479.2 23.5,497.5 26.7,515.8 32.3,534.1 58.8,534.1 50.7,515.8 45.7,497.5 42.8,479.2 40.4,460.9 37.9,442.6 35.4,424.3 33.4,405.9 31.6,387.6 30.1,369.3 29,351 27.4,332.7 25.1,314.4 23,296.1 21,277.8 19.1,259.4 17.5,241.1 16.5,222.8 15.5,204.5 15,186.2 14.3,167.9 13,149.6 12.1,131.3 10.5,112.9 5.8,94.6 3.7,76.3 3.4,58Z" fill="#8ECAE6" stroke="#78B5D2" stroke-width="0.9" stroke-opacity="0.22"/>
<path d="M-6.7,58 -7.1,76.1 -7.5,94.1 -9.5,112.2 -12.9,130.2 -16.5,148.3 -19.6,166.4 -23.8,184.4 -28.7,202.5 -33,220.6 -37.8,238.6 -42,256.7 -45.8,274.7 -49.2,292.8 -52.5,310.9 -55.8,328.9 -59.4,347 -63.3,365 -66.5,383.1 -70,401.2 -73.8,419.2 -77.5,437.3 -81.9,455.3 -87.3,473.4 -93.6,491.5 -100.5,509.5 -108.6,527.6 -85.4,527.6 -79.4,509.5 -73.9,491.5 -68.9,473.4 -64.5,455.3 -61.1,437.3 -58.3,419.2 -55.4,401.2 -52.7,383.1 -50.2,365 -47.1,347 -44.3,328.9 -41.7,310.9 -39.3,292.8 -36.6,274.7 -33.5,256.7 -30.1,238.6 -26.1,220.6 -22.5,202.5 -18.3,184.4 -14.8,166.4 -12.3,148.3 -9.3,130.2 -6.6,112.2 -5.6,94.1 -5.5,76.1 -5.2,58Z" fill="#C2E8F7" stroke="#78B5D2" stroke-width="0.9" stroke-opacity="0.22"/>
<path d="M-4.9,58 -5.1,76.3 -5.1,94.6 -5.8,112.9 -8.4,131.2 -11.2,149.5 -13.5,167.8 -16.9,186 -20.9,204.3 -24.3,222.6 -28.1,240.9 -31.4,259.2 -34.2,277.5 -36.8,295.8 -39,314.1 -41.4,332.4 -44.1,350.7 -46.8,369 -49,387.3 -51.4,405.5 -53.9,423.8 -56.3,442.1 -59.5,460.4 -63.7,478.7 -68.5,497 -73.7,515.3 -79.3,533.6 -55.4,533.6 -52,515.3 -48.4,497 -44.9,478.7 -41.8,460.4 -39.7,442.1 -38.1,423.8 -36.6,405.5 -35,387.3 -33.6,369 -31.6,350.7 -29.7,332.4 -28.2,314.1 -26.7,295.8 -24.9,277.5 -22.8,259.2 -20.4,240.9 -17.4,222.6 -14.7,204.3 -11.4,186 -8.7,167.8 -6.9,149.5 -4.8,131.2 -2.9,112.9 -3.1,94.6 -3.5,76.3 -3.3,58Z" fill="#AADCF1" stroke="#78B5D2" stroke-width="0.9" stroke-opacity="0.22"/>
<path d="M2.6,58 2.9,76.3 4.9,94.7 9.2,113 10.5,131.3 11.1,149.7 12.1,168 12.5,186.4 12.6,204.7 13.1,223 13.7,241.4 14.9,259.7 16.4,278 18.1,296.4 20,314.7 22.1,333 23.6,351.4 24.7,369.7 26.2,388 28,406.4 29.9,424.7 32,443.1 33.9,461.4 35.5,479.7 37.4,498.1 41.1,516.4 47.4,534.7 71.5,534.7 63,516.4 57.5,498.1 54.4,479.7 51.7,461.4 48.7,443.1 45.6,424.7 42.8,406.4 40.3,388 38,369.7 36.2,351.4 33.8,333 30.8,314.7 28.2,296.4 25.7,278 23.5,259.7 21.5,241.4 20.1,223 18.8,204.7 18,186.4 16.9,168 15.4,149.7 14.1,131.3 12.1,113 6.9,94.7 4.6,76.3 4.1,58Z" fill="#AADCF1" stroke="#78B5D2" stroke-width="0.9" stroke-opacity="0.22"/>
<path d="M3.4,58 3.9,75.9 5.8,93.9 10.7,111.8 12.6,129.8 13.5,147.7 14.9,165.6 15.7,183.6 16.1,201.5 17,219.4 17.8,237.4 19.3,255.3 21.1,273.3 23.2,291.2 25.6,309.1 28.1,327.1 30.8,345 32.5,363 34.5,380.9 36.9,398.8 39.3,416.8 42,434.7 44.6,452.7 46.7,470.6 48.7,488.5 51.5,506.5 56.8,524.4 79.6,524.4 72.4,506.5 68.2,488.5 65,470.6 61.8,452.7 58.3,434.7 54.7,416.8 51.4,398.8 48.2,380.9 45.5,363 43.1,345 39.5,327.1 36.2,309.1 33.1,291.2 30.3,273.3 27.7,255.3 25.5,237.4 23.8,219.4 22.3,201.5 21.1,183.6 19.6,165.6 17.7,147.7 16.1,129.8 13.6,111.8 7.7,93.9 5.5,75.9 5,58Z" fill="#C2E8F7" stroke="#78B5D2" stroke-width="0.9" stroke-opacity="0.22"/>
<path d="M4.7,58 5.2,75.5 7.1,93.1 12.9,110.6 15.6,128.1 17.1,145.7 19,163.2 20.5,180.7 21.6,198.2 23,215.8 24.5,233.3 26.5,250.8 28.8,268.4 31.4,285.9 34.2,303.4 37.2,321 40.7,338.5 43.1,356 45.5,373.5 48.3,391.1 51.5,408.6 54.9,426.1 58.4,443.7 61.8,461.2 65,478.7 68.4,496.3 73.7,513.8 95.3,513.8 88.4,496.3 83.8,478.7 79.6,461.2 75.2,443.7 70.7,426.1 66.4,408.6 62.5,391.1 58.9,373.5 55.8,356 52.6,338.5 48.3,321 44.6,303.4 41.1,285.9 37.8,268.4 34.7,250.8 31.9,233.3 29.7,215.8 27.6,198.2 25.8,180.7 23.7,163.2 21.2,145.7 19.1,128.1 15.7,110.6 9,93.1 6.8,75.5 6.3,58Z" fill="#AADCF1" stroke="#78B5D2" stroke-width="0.9" stroke-opacity="0.22"/>
<path d="M-2.1,58 -2.1,76.2 -1.4,94.4 -0.2,112.6 -1.3,130.8 -2.8,149 -3.8,167.2 -5.7,185.4 -8.2,203.6 -10.1,221.8 -12.2,239.9 -13.8,258.1 -14.9,276.3 -15.9,294.5 -16.6,312.7 -17.3,330.9 -18.4,349.1 -19.8,367.3 -20.7,385.5 -21.5,403.7 -22.5,421.9 -23.2,440.1 -24.4,458.3 -26.3,476.5 -28.6,494.7 -30.5,512.9 -31.7,531.1 -8.1,531.1 -9,512.9 -8.7,494.7 -7.7,476.5 -6.9,458.3 -6.7,440.1 -6.8,421.9 -6.8,403.7 -6.7,385.5 -6.6,367.3 -5.9,349.1 -5.7,330.9 -5.8,312.7 -5.9,294.5 -5.7,276.3 -5.3,258.1 -4.5,239.9 -3.1,221.8 -1.9,203.6 -0.2,185.4 1,167.2 1.5,149 2.3,130.8 2.7,112.6 0.6,94.4 -0.5,76.2 -0.5,58Z" fill="#9DD3EC" stroke="#78B5D2" stroke-width="0.9" stroke-opacity="0.22"/>
<path d="M4.5,58 5,75.8 7,93.7 12.7,111.5 15.1,129.3 16.5,147.2 18.4,165 19.9,182.8 21.1,200.7 22.7,218.5 24.3,236.3 26.5,254.2 28.9,272 31.4,289.8 34,307.7 36.6,325.5 39.4,343.3 41,361.2 42.9,379 45.2,396.8 47.9,414.7 51.1,432.5 54.7,450.3 58.2,468.2 61.9,486 66.7,503.8 74.4,521.7 94.6,521.7 85.2,503.8 79.2,486 74.5,468.2 70.1,450.3 65.7,432.5 61.7,414.7 58.2,396.8 55.2,379 52.7,361.2 50.4,343.3 46.8,325.5 43.5,307.7 40.3,289.8 37.1,272 34,254.2 31.1,236.3 28.8,218.5 26.6,200.7 24.8,182.8 22.7,165 20.3,147.2 18.3,129.3 15.2,111.5 8.7,93.7 6.4,75.8 5.9,58Z" fill="#AADCF1" stroke="#78B5D2" stroke-width="0.9" stroke-opacity="0.22"/>
<path d="M-7.1,58 -7.6,75.6 -8,93.1 -10.1,110.7 -13.4,128.3 -17.2,145.8 -20.3,163.4 -24.4,180.9 -29.3,198.5 -33.9,216.1 -38.9,233.6 -43.3,251.2 -47.7,268.8 -51.4,286.3 -55,303.9 -58.4,321.4 -62.1,339 -66.1,356.6 -69.5,374.1 -72.7,391.7 -76.2,409.3 -79.7,426.8 -83.4,444.4 -88,461.9 -93.6,479.5 -100.1,497.1 -107.6,514.6 -90.2,514.6 -84,497.1 -78.5,479.5 -73.7,461.9 -70,444.4 -67,426.8 -64.2,409.3 -61.4,391.7 -58.7,374.1 -55.9,356.6 -52.5,339 -49.5,321.4 -46.6,303.9 -43.6,286.3 -40.5,268.8 -36.7,251.2 -32.9,233.6 -28.5,216.1 -24.5,198.5 -20.1,180.9 -16.6,163.4 -13.9,145.8 -10.6,128.3 -7.9,110.7 -6.5,93.1 -6.3,75.6 -5.9,58Z" fill="#C2E8F7" stroke="#78B5D2" stroke-width="0.9" stroke-opacity="0.22"/>
<path d="M5.4,58 6,75.7 8.2,93.5 14.4,111.2 17.3,128.9 19.2,146.7 21.4,164.4 23.3,182.1 24.9,199.9 26.8,217.6 28.9,235.3 31.5,253.1 34.3,270.8 37.4,288.5 40.6,306.3 43.8,324 47.5,341.7 49.8,359.4 52.3,377.2 55.3,394.9 58.6,412.6 62.2,430.4 66.2,448.1 70.1,465.8 74.1,483.6 79,501.3 86.8,519 104.5,519 95.3,501.3 89.4,483.6 84.5,465.8 79.8,448.1 75.1,430.4 70.7,412.6 66.7,394.9 63.2,377.2 60.1,359.4 57.2,341.7 52.8,324 49,306.3 45.2,288.5 41.6,270.8 38.1,253.1 34.9,235.3 32.2,217.6 29.8,199.9 27.6,182.1 25.2,164.4 22.5,146.7 20.2,128.9 16.7,111.2 9.7,93.5 7.3,75.7 6.7,58Z" fill="#C2E8F7" stroke="#78B5D2" stroke-width="0.9" stroke-opacity="0.22"/>
<path d="M6.2,58 6.8,75.4 8.9,92.8 15.7,110.2 19.2,127.5 21.3,144.9 23.8,162.3 26.1,179.7 28,197.1 30.1,214.5 32.3,231.8 35,249.2 38,266.6 41.2,284 44.6,301.4 48.2,318.8 52.4,336.1 55.7,353.5 58.7,370.9 62.2,388.3 66.3,405.7 70.6,423.1 75.3,440.4 80,457.8 84.5,475.2 89.3,492.6 95.7,510 110.5,510 103.1,492.6 97.5,475.2 92.3,457.8 86.9,440.4 81.6,423.1 76.6,405.7 72.1,388.3 68,370.9 64.5,353.5 60.7,336.1 55.9,318.8 51.9,301.4 48,284 44.2,266.6 40.7,249.2 37.5,231.8 34.7,214.5 32.2,197.1 29.8,179.7 27.1,162.3 24.2,144.9 21.6,127.5 17.6,110.2 10.2,92.8 7.9,75.4 7.3,58Z" fill="#C2E8F7" stroke="#78B5D2" stroke-width="0.9" stroke-opacity="0.22"/>
<rect x="-170" y="56" width="340" height="210" fill="url(#top1)" clip-path="url(#tc0)"/>
<path d="M-55.5,395 -53,440 -51,480 -53.5,440Z" fill="#C2E8F7" opacity="0.8"/>
<path d="M-19.5,290 -22.5,380 -25,470 -24,380Z" fill="#C2E8F7" opacity="0.8"/>
<path d="M30.5,250 36,340 44,425 38.5,340Z" fill="#C2E8F7" opacity="0.8"/>
<path d="M50,280 51.2,293.6 53.5,312.6 56.6,334.8 60.1,358.4 63.7,381.2 67.4,401.1 71,418.4 74.6,435.1 79,450.8 83.7,465.6 88.9,479.7 94.8,492.9 101.9,505.5 110.1,517.3 118.7,528 126.8,537.4 133.5,545 138.4,550.8 147.6,543.2 142.8,537.3 135.8,529.5 127.8,520.2 119.5,509.8 111.7,498.6 105.2,487.1 99.9,474.8 95,461.5 90.4,447.1 86.1,431.8 81.3,415.8 76.6,398.9 71.7,379.5 66.8,357.1 61.9,333.9 57.4,311.9 53.4,293.2 50,280Z" fill="#c6eaf8" opacity="0.9"/>
<path d="M78,494 79.6,496.7 82.2,499.9 85.4,503.5 88.7,507.3 92,511.2 94.9,514.6 97.9,518.1 101,522.2 103.9,526.4 106.7,530.4 109,533.8 110.7,536.3 117.3,531.7 115.6,529.3 113.3,525.9 110.6,521.9 107.5,517.5 104.3,513.3 101.1,509.4 97.4,505.9 93,502.7 88.6,499.7 84.5,497.1 80.9,495.1 78,494Z" fill="#c6eaf8" opacity="0.9"/>
<path d="M-62,330 -65.9,343.4 -70.7,362.6 -76.2,385.1 -81.9,408.6 -87.4,430.7 -92.2,448.9 -96.5,463.8 -100.7,477.1 -104.2,489.2 -107.5,500 -110.5,509.7 -113.2,518.3 -115.6,525.5 -117.8,531.4 -119.8,536.2 -121.5,540 -123,543.3 -124.1,545.8 -113.9,550.2 -112.8,547.6 -111.5,544.6 -109.7,540.6 -107.7,535.6 -105.3,529.3 -102.8,521.7 -100,513 -97,503.3 -93.7,492.3 -90.2,480.1 -87.1,466.3 -83.8,451.1 -80.1,432.3 -75.8,409.9 -71.3,386.1 -67.2,363.3 -63.9,343.8 -62,330Z" fill="#c6eaf8" opacity="0.9"/>
<path d="M-95,500 -97.7,504.2 -100.8,510.4 -104.2,517.8 -107.6,525.5 -110.7,532.7 -112.8,538.7 -114.1,543.7 -115.1,548 -115.8,551.7 -116.2,554.8 -116.6,557.2 -116.9,559.2 -107.1,560.8 -106.7,558.9 -106.4,556.3 -105.9,553.3 -105.2,549.8 -104.4,545.8 -103.2,541.3 -101.7,535.4 -100.1,527.9 -98.3,519.7 -96.6,511.8 -95.3,505 -95,500Z" fill="#c6eaf8" opacity="0.9"/>
<path d="M-113.5,519.5 -101.7,519.5 -106.3,555.3 -118,557.4Z" fill="url(#end1)"/>
<path d="M-98.5,493.3 -85,493.3 -92.1,558.9 -105.7,561Z" fill="url(#end1)"/>
<path d="M-85.6,496.7 -72.2,496.7 -78.4,564 -91.8,562.8Z" fill="url(#end1)"/>
<path d="M-73.7,504.6 -62.2,504.6 -67,565.6 -78.4,564.5Z" fill="url(#end1)"/>
<path d="M-61.1,493 -48.5,493 -53.3,568.8 -65.9,567.1Z" fill="url(#end1)"/>
<path d="M-49,491.8 -40.3,491.8 -44.3,569.2 -53.1,567.8Z" fill="url(#end1)"/>
<path d="M-42.6,513.2 -28.7,513.2 -31.2,574.3 -45.1,576.6Z" fill="url(#end1)"/>
<path d="M-29.2,493.3 -17.1,493.3 -19.2,571.3 -31.3,572.3Z" fill="url(#end1)"/>
<path d="M-17.1,509.1 -3.8,509.1 -4.5,574 -17.9,572.4Z" fill="url(#end1)"/>
<path d="M-5.9,503.4 2.5,503.4 2.4,574.7 -6,572.3Z" fill="url(#end1)"/>
<path d="M2,497.8 12.1,497.8 12.7,573.3 2.7,573.3Z" fill="url(#end1)"/>
<path d="M11,519.2 21.9,519.2 22.9,574.5 12,576.7Z" fill="url(#end1)"/>
<path d="M19.7,520.8 32.2,520.8 33.9,575.6 21.4,576.9Z" fill="url(#end1)"/>
<path d="M30.9,514.1 42.3,514.1 44.7,571 33.2,569.5Z" fill="url(#end1)"/>
<path d="M41.7,495.9 50.9,495.9 55.1,573.1 45.9,575.2Z" fill="url(#end1)"/>
<path d="M49.8,497.6 60,497.6 64.7,572.9 54.6,571Z" fill="url(#end1)"/>
<path d="M61,517 73.8,517 78,571.9 65.3,574Z" fill="url(#end1)"/>
<path d="M69.6,489.4 79.6,489.4 86.5,567.8 76.4,567Z" fill="url(#end1)"/>
<path d="M81.1,497.8 92.4,497.8 98.7,561.5 87.5,559.9Z" fill="url(#end1)"/>
<path d="M88.4,480.5 97.3,480.5 106.2,561.2 97.3,559.6Z" fill="url(#end1)"/>
<path d="M97,491.8 110.9,491.8 118.9,557.6 105,556.3Z" fill="url(#end1)"/>
<path d="M115.8,529.6 128.7,529.6 132,554.3 119,552.1Z" fill="url(#end1)"/>
<path d="M63.5,388 66.5,388 87,498 82.5,498Z" fill="#fff" opacity="0.85"/>
<path d="M82,480 85,480 91,532 88,532Z" fill="#fff" opacity="0.85"/>
<path d="M106,430 108,430 118,500 116,500Z" fill="#fff" opacity="0.85"/>
<path d="M-40,330 -38.8,330 -46,430 -47.2,430Z" fill="#fff" opacity="0.85"/>
<path d="M-13.2,0 L13.2,0 L14.2,56 L-14,56Z" fill="#A0D3E8"/>
<path d="M-14,55 L14.2,55 L14.8,86 L15.2,96 L-14.8,100 L-14.5,90Z" fill="#a6d8ed"/>
<path d="M-4,58 L-3.6,120 L-3.2,250" stroke="url(#fold1)" stroke-width="1.2" fill="none"/>
<rect x="-17.5" y="48.9" width="32.5" height="7.4" rx="1.2" fill="url(#band)"/>
<path d="M14.8,52.4 L17.5,52.4" stroke="#6b5a3a" stroke-width="1"/>
</g>
<g transform="translate(1075.5,95.4) scale(1.0)">
<path d="M22.3,100 27.2,110 31.3,120 34.2,130 36.6,140 39,150 41.5,160 43.9,170 46.1,180 48.3,190 50.3,200 52.4,210 54.4,220 56.5,230 58.6,240 60.9,250 63.1,260 65.3,270 67.5,280 69.6,290 71.7,300 73.7,310 75.8,320 78,330 80.4,340 81.9,350 83.2,360 84.5,370 85.9,380 87.6,390 89.3,400 91.2,410 93.2,420 95.3,430 97.5,440 99.7,450 101.9,460 104,470 106.1,480 108.4,490 111.1,500 114.8,510 119.8,520 125.8,530 133.7,540 -117.5,540 -114.1,530 -110.9,520 -108,510 -105.4,500 -103.1,490 -101,480 -99.1,470 -97.3,460 -95.8,450 -94.6,440 -93.5,430 -92.4,420 -91.2,410 -89.9,400 -88.6,390 -87.3,380 -86.1,370 -84.6,360 -82.7,350 -80.8,340 -78.8,330 -77,320 -75.1,310 -73.3,300 -71.3,290 -69.2,280 -67.1,270 -64.6,260 -61.8,250 -59.2,240 -56.1,230 -52.8,220 -50,210 -46.9,200 -43.3,190 -40,180 -36.9,170 -34.1,160 -31.8,150 -29.1,140 -25.9,130 -22.5,120 -19.6,110 -17.7,100Z" fill="#5a5fa9"/>
<path d="M14.2,56 14.3,59.8 14.3,65.3 14.4,71.5 14.6,77.4 14.8,82 15.1,85.1 15.3,87.2 15.7,88.9 16.2,90.4 16.8,92 17.7,93.6 18.7,95 19.8,96.4 21,98 22.3,100 23.7,102.6 25.1,105.5 26.6,108.7 28.1,111.9 29.3,115 30.3,118 31.2,121 31.9,124 32.6,127 33.3,130 33.9,132.8 34.4,135.3 34.9,137.9 35.5,141 36.3,145 37.3,150 38.5,155.9 39.8,162.3 41.1,168.8 42.3,175 43.4,181 44.4,187 45.5,193 46.5,199 47.5,205 48.5,211 49.6,217 50.6,223 51.7,229 52.8,235 54,241 55.1,247 56.4,253 57.6,259 58.8,265 60,271 61.2,277 62.4,283 63.6,289 64.8,295 66,301.2 67.3,307.6 68.5,313.9 69.7,319.8 70.8,325 71.7,328.9 72.5,331.7 73.2,334.3 73.9,337.5 74.8,342 75.8,348.3 76.8,355.7 77.9,363.9 79.1,372.1 80.4,380 81.7,387.4 83.2,394.8 84.7,402.2 86.2,409.6 87.9,417 89.7,424.6 91.5,432.2 93.4,439.8 95.4,447.4 97.3,455 99.2,462.8 101.2,470.7 103.2,478.5 105,485.8 106.8,492 108.3,497 109.6,500.9 110.9,504.3 112.3,507.5 114,511 115.7,514.4 116.3,515.4 117.2,517 118.3,519 119.9,521.6 110,524.7 97.3,528 88.1,531.7 80,535.6 70.8,538.7 59.2,540.3 46.3,541.1 33.5,541.6 21,542.2 8.5,542.6 -4,542.6 -16.5,542.3 -29,541.6 -41.5,540.6 -54.4,539 -67.2,537 -79,535 -89.6,533.4 -99.1,531.8 -107,529 -111.4,523.7 -109.1,517.2 -107.5,512.6 -107,511 -105.8,507.2 -104.7,503.4 -103.6,499.6 -102.5,495.8 -101.5,492 -100.5,488.2 -99.5,484.4 -98.6,480.5 -97.7,476.7 -96.8,473 -96,469.4 -95.2,465.8 -94.4,462.2 -93.7,458.6 -93,455 -92.3,451.3 -91.7,447.5 -91.1,443.6 -90.6,439.8 -90,436 -89.5,432.2 -88.9,428.4 -88.4,424.5 -87.9,420.7 -87.4,417 -86.9,413.4 -86.3,409.8 -85.7,406.2 -85.2,402.6 -84.6,399 -84,395.3 -83.5,391.5 -82.9,387.6 -82.4,383.8 -81.8,380 -81.3,376.2 -80.7,372.4 -80.2,368.6 -79.6,364.8 -79,361 -78.3,357.2 -77.5,353.4 -76.8,349.6 -76,345.8 -75.2,342 -74.5,338.3 -73.8,334.8 -73.1,331.2 -72.3,327.4 -71.5,323 -70.6,317.8 -69.5,311.8 -68.4,305.7 -67.4,299.9 -66.5,295 -65.8,291.2 -65.2,288.1 -64.6,285.4 -64.1,282.8 -63.5,280 -62.9,277 -62.3,274 -61.8,271 -61.2,268 -60.5,265 -59.8,262 -59,259 -58.3,256 -57.5,253 -56.7,250 -56,247 -55.3,244 -54.5,241 -53.8,238 -53,235 -52.1,232 -51.2,229 -50.3,226 -49.4,223 -48.5,220 -47.7,217 -47,214 -46.3,211 -45.5,208 -44.7,205 -43.8,202 -42.9,199 -41.9,196 -40.9,193 -40,190 -39.1,187 -38.2,184 -37.4,181 -36.5,178 -35.7,175 -34.9,172 -34.1,169 -33.4,166 -32.7,163 -32,160 -31.4,157 -30.8,154 -30.2,151 -29.7,148 -29,145 -28.3,142 -27.5,139 -26.7,136 -25.8,133 -25,130 -24.1,127 -23.2,124 -22.3,121 -21.5,118 -20.7,115 -20,111.9 -19.4,108.8 -18.9,105.6 -18.3,102.7 -17.7,100 -17,98.1 -16.3,96.8 -15.6,95.5 -15,93.5 -14.5,90 -14.2,84.2 -14.1,76.5 -14,68.3 -14,61 -14,56Z" fill="#23287A"/>
<path d="M-1.7,58 -1.7,76.3 -0.8,94.5 0.6,112.8 -0.3,131.1 -1.6,149.3 -2.4,167.6 -4,185.9 -6.1,204.1 -7.6,222.4 -9.4,240.6 -10.6,258.9 -11.5,277.2 -12.3,295.4 -13,313.7 -13.8,332 -15,350.2 -16.5,368.5 -17.5,386.8 -18.5,405 -19.3,423.3 -19.8,441.6 -20.5,459.8 -21.7,478.1 -23,496.3 -23.6,514.6 -23.1,532.9 19.8,532.9 15.5,514.6 13.1,496.3 12.1,478.1 11.3,459.8 10.2,441.6 9,423.3 8.2,405 7.6,386.8 7.3,368.5 7.5,350.2 7.2,332 6.5,313.7 5.8,295.4 5.2,277.2 4.7,258.9 4.6,240.6 4.9,222.4 5.2,204.1 6,185.9 6.3,167.6 6.1,149.3 6.2,131.1 5.8,112.8 2.7,94.5 1.2,76.3 1.1,58Z" fill="#10144C" stroke="#05072A" stroke-width="0.9" stroke-opacity="0.22"/>
<path d="M-4,58 -4.1,76.3 -3.8,94.5 -3.9,112.8 -6,131 -8.3,149.3 -10.2,167.5 -13,185.8 -16.4,204 -19.3,222.3 -22.4,240.6 -25,258.8 -27.2,277.1 -29.1,295.3 -30.8,313.6 -32.6,331.8 -34.9,350.1 -37.2,368.4 -39.1,386.6 -41.1,404.9 -43.2,423.1 -45.2,441.4 -47.8,459.6 -51.2,477.9 -55,496.1 -58.9,514.4 -62.8,532.7 -24.7,532.7 -24.3,514.4 -23,496.1 -21.2,477.9 -19.5,459.6 -18.6,441.4 -18.1,423.1 -17.4,404.9 -16.8,386.6 -16,368.4 -14.9,350.1 -14,331.8 -13.5,313.6 -13,295.3 -12.3,277.1 -11.3,258.8 -10,240.6 -8.1,222.3 -6.4,204 -4.2,185.8 -2.4,167.5 -1.5,149.3 -0.2,131 0.7,112.8 -0.7,94.5 -1.5,76.3 -1.5,58Z" fill="#23287A" stroke="#05072A" stroke-width="0.9" stroke-opacity="0.22"/>
<path d="M-0,58 0.2,76.3 1.5,94.6 4.1,112.9 4.1,131.3 3.6,149.6 3.5,167.9 2.6,186.2 1.2,204.5 0.4,222.8 -0.6,241.1 -1,259.5 -1.1,277.8 -0.9,296.1 -0.5,314.4 0.1,332.7 0.3,351 0.2,369.4 0.7,387.7 1.2,406 1.9,424.3 2.7,442.6 3.1,460.9 2.8,479.2 2.4,497.6 2.9,515.9 4.9,534.2 43.3,534.2 37.8,515.9 34.6,497.6 33,479.2 31.5,460.9 29.4,442.6 27.1,424.3 25,406 23.1,387.7 21.5,369.4 20.3,351 18.8,332.7 16.9,314.4 15.3,296.1 13.9,277.8 12.7,259.5 11.8,241.1 11.6,222.8 11.3,204.5 11.4,186.2 11.2,167.9 10.4,149.6 9.9,131.3 8.8,112.9 4.6,94.6 2.8,76.3 2.5,58Z" fill="#10144C" stroke="#05072A" stroke-width="0.9" stroke-opacity="0.22"/>
<path d="M1.8,58 2.1,76.2 3.8,94.3 7.7,112.5 8.6,130.6 9,148.8 9.8,166.9 10,185.1 9.8,203.2 10.1,221.4 10.4,239.5 11.1,257.7 12.1,275.8 13.2,294 14.3,312.1 15.5,330.3 16.4,348.4 16.5,366.6 17.2,384.7 18.3,402.9 19.6,421 21.5,439.2 23.5,457.3 25.2,475.5 27.3,493.6 30.7,511.8 36.3,529.9 69.2,529.9 60.6,511.8 55,493.6 51.3,475.5 48,457.3 44.6,439.2 41.5,421 38.9,402.9 36.7,384.7 35,366.6 33.7,348.4 31.7,330.3 29.4,312.1 27.2,294 25,275.8 23,257.7 21.1,239.5 19.8,221.4 18.5,203.2 17.7,185.1 16.5,166.9 14.9,148.8 13.7,130.6 11.7,112.5 6.5,94.3 4.4,76.2 4,58Z" fill="#1A1E64" stroke="#05072A" stroke-width="0.9" stroke-opacity="0.22"/>
<path d="M-0.9,58 -0.8,76.5 0.4,95.1 2.3,113.6 1.7,132.2 0.8,150.7 0.2,169.3 -1.2,187.8 -3,206.4 -4.3,224.9 -5.7,243.4 -6.6,262 -7.1,280.5 -7.4,299.1 -7.5,317.6 -7.4,336.2 -8.1,354.7 -8.7,373.3 -8.8,391.8 -9,410.3 -8.9,428.9 -8.8,447.4 -9.4,466 -10.4,484.5 -11.5,503.1 -11.5,521.6 -10,540.2 22.4,540.2 17.7,521.6 15.3,503.1 14.5,484.5 14.1,466 13.2,447.4 11.9,428.9 10.6,410.3 9.6,391.8 8.8,373.3 8.4,354.7 8,336.2 6.8,317.6 5.9,299.1 5.2,280.5 4.7,262 4.5,243.4 4.9,224.9 5.2,206.4 6.1,187.8 6.6,169.3 6.4,150.7 6.5,132.2 6.1,113.6 3,95.1 1.3,76.5 1.1,58Z" fill="#10144C" stroke="#05072A" stroke-width="0.9" stroke-opacity="0.22"/>
<path d="M-4.2,58 -4.4,76.3 -4.2,94.6 -4.5,112.9 -6.8,131.3 -9.2,149.6 -11.1,167.9 -14,186.2 -17.4,204.5 -20.3,222.8 -23.4,241.1 -26.1,259.5 -28.4,277.8 -30.7,296.1 -32.9,314.4 -35.2,332.7 -38.2,351 -41.2,369.3 -43.7,387.7 -46.3,406 -48.7,424.3 -50.9,442.6 -53.4,460.9 -56.4,479.2 -59.6,497.5 -62.8,515.9 -65.7,534.2 -36.9,534.2 -36.6,515.9 -35.5,497.5 -33.8,479.2 -32.1,460.9 -30.8,442.6 -29.8,424.3 -28.4,406 -26.9,387.7 -25.2,369.3 -23.1,351 -21.2,332.7 -19.8,314.4 -18.6,296.1 -17.2,277.8 -15.8,259.5 -14.1,241.1 -11.9,222.8 -9.9,204.5 -7.3,186.2 -5.3,167.9 -4.1,149.6 -2.4,131.3 -1,112.9 -1.8,94.6 -2.5,76.3 -2.3,58Z" fill="#363C96" stroke="#05072A" stroke-width="0.9" stroke-opacity="0.22"/>
<path d="M-2.5,58 -2.6,76.5 -1.8,94.9 -1,113.4 -2.4,131.8 -4,150.3 -5.3,168.8 -7.5,187.2 -10.3,205.7 -12.5,224.1 -15,242.6 -16.9,261.1 -18.4,279.5 -19.7,298 -20.8,316.5 -21.7,334.9 -23.2,353.4 -24.4,371.8 -25.2,390.3 -26,408.8 -26.7,427.2 -27.5,445.7 -28.9,464.1 -31.1,482.6 -33.8,501.1 -36.2,519.5 -38,538 -8.5,538 -9.5,519.5 -9.3,501.1 -8.3,482.6 -7.4,464.1 -7.2,445.7 -7.7,427.2 -8,408.8 -8.3,390.3 -8.4,371.8 -8,353.4 -7.5,334.9 -7.6,316.5 -7.5,298 -7.1,279.5 -6.6,261.1 -5.6,242.6 -4.1,224.1 -2.7,205.7 -0.8,187.2 0.6,168.8 1.1,150.3 2,131.8 2.5,113.4 0.5,94.9 -0.6,76.5 -0.7,58Z" fill="#10144C" stroke="#05072A" stroke-width="0.9" stroke-opacity="0.22"/>
<path d="M-1.5,58 -1.5,76.5 -0.5,95.1 0.9,113.6 0,132.1 -1.2,150.7 -2,169.2 -3.6,187.7 -5.7,206.3 -7.3,224.8 -8.9,243.4 -10.1,261.9 -10.9,280.4 -11.6,299 -12.2,317.5 -12.8,336 -14.1,354.6 -15.3,373.1 -16.2,391.6 -17,410.2 -17.5,428.7 -17.9,447.2 -18.7,465.8 -20,484.3 -21.1,502.8 -21.3,521.4 -20.1,539.9 9.7,539.9 5.6,521.4 3.5,502.8 3,484.3 2.9,465.8 2.4,447.2 1.7,428.7 1.1,410.2 0.9,391.6 0.7,373.1 1.1,354.6 1.5,336 1,317.5 0.6,299 0.4,280.4 0.3,261.9 0.5,243.4 1.2,224.8 1.9,206.3 3.1,187.7 3.9,169.2 4,150.7 4.4,132.1 4.5,113.6 1.9,95.1 0.4,76.5 0.3,58Z" fill="#10144C" stroke="#05072A" stroke-width="0.9" stroke-opacity="0.22"/>
<path d="M-0.1,58 0,76.5 1.4,94.9 3.8,113.4 3.6,131.9 3.1,150.4 3,168.8 2.1,187.3 0.9,205.8 0.1,224.3 -0.7,242.7 -1.1,261.2 -1.2,279.7 -1.3,298.2 -1.3,316.6 -1.1,335.1 -1.8,353.6 -2.5,372 -2.6,390.5 -2.5,409 -2.1,427.5 -1.3,445.9 -0.7,464.4 -0.4,482.9 0.2,501.4 2.2,519.8 6,538.3 35.5,538.3 28.9,519.8 24.7,501.4 22.5,482.9 20.8,464.4 19,445.9 17,427.5 15.5,409 14.4,390.5 13.6,372 13.4,353.6 13.1,335.1 11.9,316.6 11,298.2 10.1,279.7 9.3,261.2 8.7,242.7 8.6,224.3 8.5,205.8 8.8,187.3 8.9,168.8 8.3,150.4 8,131.9 7.3,113.4 3.7,94.9 2,76.5 1.7,58Z" fill="#1A1E64" stroke="#05072A" stroke-width="0.9" stroke-opacity="0.22"/>
<path d="M0.7,58 1,76.5 2.6,95 5.6,113.5 5.9,131.9 5.7,150.4 5.9,168.9 5.3,187.4 4.3,205.9 3.8,224.4 3.2,242.9 3.2,261.4 3.6,279.8 4.2,298.3 5,316.8 6.2,335.3 6.7,353.8 7.1,372.3 8.1,390.8 9.2,409.3 10.4,427.7 11.7,446.2 12.4,464.7 12.6,483.2 12.8,501.7 14.4,520.2 17.9,538.7 47.5,538.7 41.1,520.2 37.3,501.7 35.5,483.2 33.9,464.7 31.9,446.2 29.5,427.7 27.2,409.3 25.1,390.8 23.2,372.3 21.8,353.8 20.4,335.3 18.2,316.8 16.4,298.3 14.9,279.8 13.6,261.4 12.6,242.9 12.2,224.4 11.9,205.9 12,187.4 11.7,168.9 10.9,150.4 10.3,131.9 9.1,113.5 4.9,95 2.9,76.5 2.6,58Z" fill="#1A1E64" stroke="#05072A" stroke-width="0.9" stroke-opacity="0.22"/>
<path d="M-5.6,58 -5.9,76 -6,94 -7.3,112.1 -10.1,130.1 -13.2,148.1 -15.8,166.1 -19.3,184.2 -23.6,202.2 -27.2,220.2 -31.3,238.2 -34.7,256.3 -37.8,274.3 -40.7,292.3 -43.3,310.3 -46,328.4 -49.2,346.4 -52.7,364.4 -55.6,382.4 -58.6,400.4 -62,418.5 -65.1,436.5 -68.7,454.5 -73.2,472.5 -78.3,490.6 -83.7,508.6 -89.7,526.6 -62,526.6 -58.4,508.6 -54.7,490.6 -51.1,472.5 -47.9,454.5 -45.5,436.5 -43.4,418.5 -41.1,400.4 -39,382.4 -37,364.4 -34.4,346.4 -32.3,328.4 -30.5,310.3 -28.7,292.3 -26.8,274.3 -24.6,256.3 -22.1,238.2 -18.9,220.2 -16.2,202.2 -12.8,184.2 -10,166.1 -8.2,148.1 -5.8,130.1 -3.8,112.1 -3.7,94 -4,76 -3.8,58Z" fill="#23287A" stroke="#05072A" stroke-width="0.9" stroke-opacity="0.22"/>
<path d="M-6,58 -6.3,76.1 -6.5,94.1 -8,112.2 -11,130.2 -14.3,148.3 -17,166.3 -20.7,184.4 -25.2,202.4 -28.9,220.5 -33.1,238.5 -36.7,256.6 -40,274.6 -43,292.7 -45.8,310.8 -48.8,328.8 -52.3,346.9 -56.1,364.9 -59.3,383 -62.8,401 -66.5,419.1 -70.1,437.1 -74,455.2 -78.8,473.2 -84.1,491.3 -89.7,509.3 -95.9,527.4 -70.5,527.4 -66.5,509.3 -62.5,491.3 -58.5,473.2 -54.9,455.2 -52,437.1 -49.5,419.1 -46.7,401 -44.1,383 -41.7,364.9 -38.7,346.9 -36.2,328.8 -34,310.8 -32,292.7 -29.8,274.6 -27.4,256.6 -24.7,238.5 -21.3,220.5 -18.4,202.4 -14.7,184.4 -11.8,166.3 -9.7,148.3 -7.1,130.2 -4.8,112.2 -4.4,94.1 -4.5,76.1 -4.3,58Z" fill="#1A1E64" stroke="#05072A" stroke-width="0.9" stroke-opacity="0.22"/>
<path d="M-3.1,58 -3.3,76.5 -2.7,95 -2.4,113.5 -4.1,132 -6.1,150.5 -7.7,169 -10.2,187.5 -13.3,206 -15.7,224.5 -18.3,243 -20.4,261.5 -22,280 -23.5,298.5 -24.8,317 -26.2,335.5 -28.2,354 -30.2,372.6 -31.8,391.1 -33.6,409.6 -35.3,428.1 -37,446.6 -39.4,465.1 -42.4,483.6 -45.6,502.1 -48.4,520.6 -50.6,539.1 -23.3,539.1 -23.9,520.6 -23.1,502.1 -21.4,483.6 -19.7,465.1 -18.4,446.6 -17.7,428.1 -17,409.6 -16.2,391.1 -15.4,372.6 -14.3,354 -13.2,335.5 -12.8,317 -12.3,298.5 -11.7,280 -10.9,261.5 -9.7,243 -8,224.5 -6.3,206 -4.1,187.5 -2.3,169 -1.4,150.5 -0.1,132 0.9,113.5 -0.5,95 -1.5,76.5 -1.4,58Z" fill="#1A1E64" stroke="#05072A" stroke-width="0.9" stroke-opacity="0.22"/>
<path d="M1.7,58 1.9,76.3 3.6,94.6 7.3,112.9 8.1,131.3 8.3,149.6 8.9,167.9 8.9,186.2 8.6,204.5 8.8,222.8 9,241.1 9.7,259.4 10.8,277.8 11.9,296.1 13.1,314.4 14.5,332.7 15.2,351 15.5,369.3 16.1,387.6 17,405.9 18.1,424.3 19.6,442.6 20.9,460.9 22,479.2 23.5,497.5 26.7,515.8 32.3,534.1 58.8,534.1 50.7,515.8 45.7,497.5 42.8,479.2 40.4,460.9 37.9,442.6 35.4,424.3 33.4,405.9 31.6,387.6 30.1,369.3 29,351 27.4,332.7 25.1,314.4 23,296.1 21,277.8 19.1,259.4 17.5,241.1 16.5,222.8 15.5,204.5 15,186.2 14.3,167.9 13,149.6 12.1,131.3 10.5,112.9 5.8,94.6 3.7,76.3 3.4,58Z" fill="#10144C" stroke="#05072A" stroke-width="0.9" stroke-opacity="0.22"/>
<path d="M-6.7,58 -7.1,76.1 -7.5,94.1 -9.5,112.2 -12.9,130.2 -16.5,148.3 -19.6,166.4 -23.8,184.4 -28.7,202.5 -33,220.6 -37.8,238.6 -42,256.7 -45.8,274.7 -49.2,292.8 -52.5,310.9 -55.8,328.9 -59.4,347 -63.3,365 -66.5,383.1 -70,401.2 -73.8,419.2 -77.5,437.3 -81.9,455.3 -87.3,473.4 -93.6,491.5 -100.5,509.5 -108.6,527.6 -85.4,527.6 -79.4,509.5 -73.9,491.5 -68.9,473.4 -64.5,455.3 -61.1,437.3 -58.3,419.2 -55.4,401.2 -52.7,383.1 -50.2,365 -47.1,347 -44.3,328.9 -41.7,310.9 -39.3,292.8 -36.6,274.7 -33.5,256.7 -30.1,238.6 -26.1,220.6 -22.5,202.5 -18.3,184.4 -14.8,166.4 -12.3,148.3 -9.3,130.2 -6.6,112.2 -5.6,94.1 -5.5,76.1 -5.2,58Z" fill="#363C96" stroke="#05072A" stroke-width="0.9" stroke-opacity="0.22"/>
<path d="M-4.9,58 -5.1,76.3 -5.1,94.6 -5.8,112.9 -8.4,131.2 -11.2,149.5 -13.5,167.8 -16.9,186 -20.9,204.3 -24.3,222.6 -28.1,240.9 -31.4,259.2 -34.2,277.5 -36.8,295.8 -39,314.1 -41.4,332.4 -44.1,350.7 -46.8,369 -49,387.3 -51.4,405.5 -53.9,423.8 -56.3,442.1 -59.5,460.4 -63.7,478.7 -68.5,497 -73.7,515.3 -79.3,533.6 -55.4,533.6 -52,515.3 -48.4,497 -44.9,478.7 -41.8,460.4 -39.7,442.1 -38.1,423.8 -36.6,405.5 -35,387.3 -33.6,369 -31.6,350.7 -29.7,332.4 -28.2,314.1 -26.7,295.8 -24.9,277.5 -22.8,259.2 -20.4,240.9 -17.4,222.6 -14.7,204.3 -11.4,186 -8.7,167.8 -6.9,149.5 -4.8,131.2 -2.9,112.9 -3.1,94.6 -3.5,76.3 -3.3,58Z" fill="#23287A" stroke="#05072A" stroke-width="0.9" stroke-opacity="0.22"/>
<path d="M2.6,58 2.9,76.3 4.9,94.7 9.2,113 10.5,131.3 11.1,149.7 12.1,168 12.5,186.4 12.6,204.7 13.1,223 13.7,241.4 14.9,259.7 16.4,278 18.1,296.4 20,314.7 22.1,333 23.6,351.4 24.7,369.7 26.2,388 28,406.4 29.9,424.7 32,443.1 33.9,461.4 35.5,479.7 37.4,498.1 41.1,516.4 47.4,534.7 71.5,534.7 63,516.4 57.5,498.1 54.4,479.7 51.7,461.4 48.7,443.1 45.6,424.7 42.8,406.4 40.3,388 38,369.7 36.2,351.4 33.8,333 30.8,314.7 28.2,296.4 25.7,278 23.5,259.7 21.5,241.4 20.1,223 18.8,204.7 18,186.4 16.9,168 15.4,149.7 14.1,131.3 12.1,113 6.9,94.7 4.6,76.3 4.1,58Z" fill="#23287A" stroke="#05072A" stroke-width="0.9" stroke-opacity="0.22"/>
<path d="M3.4,58 3.9,75.9 5.8,93.9 10.7,111.8 12.6,129.8 13.5,147.7 14.9,165.6 15.7,183.6 16.1,201.5 17,219.4 17.8,237.4 19.3,255.3 21.1,273.3 23.2,291.2 25.6,309.1 28.1,327.1 30.8,345 32.5,363 34.5,380.9 36.9,398.8 39.3,416.8 42,434.7 44.6,452.7 46.7,470.6 48.7,488.5 51.5,506.5 56.8,524.4 79.6,524.4 72.4,506.5 68.2,488.5 65,470.6 61.8,452.7 58.3,434.7 54.7,416.8 51.4,398.8 48.2,380.9 45.5,363 43.1,345 39.5,327.1 36.2,309.1 33.1,291.2 30.3,273.3 27.7,255.3 25.5,237.4 23.8,219.4 22.3,201.5 21.1,183.6 19.6,165.6 17.7,147.7 16.1,129.8 13.6,111.8 7.7,93.9 5.5,75.9 5,58Z" fill="#363C96" stroke="#05072A" stroke-width="0.9" stroke-opacity="0.22"/>
<path d="M4.7,58 5.2,75.5 7.1,93.1 12.9,110.6 15.6,128.1 17.1,145.7 19,163.2 20.5,180.7 21.6,198.2 23,215.8 24.5,233.3 26.5,250.8 28.8,268.4 31.4,285.9 34.2,303.4 37.2,321 40.7,338.5 43.1,356 45.5,373.5 48.3,391.1 51.5,408.6 54.9,426.1 58.4,443.7 61.8,461.2 65,478.7 68.4,496.3 73.7,513.8 95.3,513.8 88.4,496.3 83.8,478.7 79.6,461.2 75.2,443.7 70.7,426.1 66.4,408.6 62.5,391.1 58.9,373.5 55.8,356 52.6,338.5 48.3,321 44.6,303.4 41.1,285.9 37.8,268.4 34.7,250.8 31.9,233.3 29.7,215.8 27.6,198.2 25.8,180.7 23.7,163.2 21.2,145.7 19.1,128.1 15.7,110.6 9,93.1 6.8,75.5 6.3,58Z" fill="#23287A" stroke="#05072A" stroke-width="0.9" stroke-opacity="0.22"/>
<path d="M-2.1,58 -2.1,76.2 -1.4,94.4 -0.2,112.6 -1.3,130.8 -2.8,149 -3.8,167.2 -5.7,185.4 -8.2,203.6 -10.1,221.8 -12.2,239.9 -13.8,258.1 -14.9,276.3 -15.9,294.5 -16.6,312.7 -17.3,330.9 -18.4,349.1 -19.8,367.3 -20.7,385.5 -21.5,403.7 -22.5,421.9 -23.2,440.1 -24.4,458.3 -26.3,476.5 -28.6,494.7 -30.5,512.9 -31.7,531.1 -8.1,531.1 -9,512.9 -8.7,494.7 -7.7,476.5 -6.9,458.3 -6.7,440.1 -6.8,421.9 -6.8,403.7 -6.7,385.5 -6.6,367.3 -5.9,349.1 -5.7,330.9 -5.8,312.7 -5.9,294.5 -5.7,276.3 -5.3,258.1 -4.5,239.9 -3.1,221.8 -1.9,203.6 -0.2,185.4 1,167.2 1.5,149 2.3,130.8 2.7,112.6 0.6,94.4 -0.5,76.2 -0.5,58Z" fill="#1A1E64" stroke="#05072A" stroke-width="0.9" stroke-opacity="0.22"/>
<path d="M4.5,58 5,75.8 7,93.7 12.7,111.5 15.1,129.3 16.5,147.2 18.4,165 19.9,182.8 21.1,200.7 22.7,218.5 24.3,236.3 26.5,254.2 28.9,272 31.4,289.8 34,307.7 36.6,325.5 39.4,343.3 41,361.2 42.9,379 45.2,396.8 47.9,414.7 51.1,432.5 54.7,450.3 58.2,468.2 61.9,486 66.7,503.8 74.4,521.7 94.6,521.7 85.2,503.8 79.2,486 74.5,468.2 70.1,450.3 65.7,432.5 61.7,414.7 58.2,396.8 55.2,379 52.7,361.2 50.4,343.3 46.8,325.5 43.5,307.7 40.3,289.8 37.1,272 34,254.2 31.1,236.3 28.8,218.5 26.6,200.7 24.8,182.8 22.7,165 20.3,147.2 18.3,129.3 15.2,111.5 8.7,93.7 6.4,75.8 5.9,58Z" fill="#23287A" stroke="#05072A" stroke-width="0.9" stroke-opacity="0.22"/>
<path d="M-7.1,58 -7.6,75.6 -8,93.1 -10.1,110.7 -13.4,128.3 -17.2,145.8 -20.3,163.4 -24.4,180.9 -29.3,198.5 -33.9,216.1 -38.9,233.6 -43.3,251.2 -47.7,268.8 -51.4,286.3 -55,303.9 -58.4,321.4 -62.1,339 -66.1,356.6 -69.5,374.1 -72.7,391.7 -76.2,409.3 -79.7,426.8 -83.4,444.4 -88,461.9 -93.6,479.5 -100.1,497.1 -107.6,514.6 -90.2,514.6 -84,497.1 -78.5,479.5 -73.7,461.9 -70,444.4 -67,426.8 -64.2,409.3 -61.4,391.7 -58.7,374.1 -55.9,356.6 -52.5,339 -49.5,321.4 -46.6,303.9 -43.6,286.3 -40.5,268.8 -36.7,251.2 -32.9,233.6 -28.5,216.1 -24.5,198.5 -20.1,180.9 -16.6,163.4 -13.9,145.8 -10.6,128.3 -7.9,110.7 -6.5,93.1 -6.3,75.6 -5.9,58Z" fill="#363C96" stroke="#05072A" stroke-width="0.9" stroke-opacity="0.22"/>
<path d="M5.4,58 6,75.7 8.2,93.5 14.4,111.2 17.3,128.9 19.2,146.7 21.4,164.4 23.3,182.1 24.9,199.9 26.8,217.6 28.9,235.3 31.5,253.1 34.3,270.8 37.4,288.5 40.6,306.3 43.8,324 47.5,341.7 49.8,359.4 52.3,377.2 55.3,394.9 58.6,412.6 62.2,430.4 66.2,448.1 70.1,465.8 74.1,483.6 79,501.3 86.8,519 104.5,519 95.3,501.3 89.4,483.6 84.5,465.8 79.8,448.1 75.1,430.4 70.7,412.6 66.7,394.9 63.2,377.2 60.1,359.4 57.2,341.7 52.8,324 49,306.3 45.2,288.5 41.6,270.8 38.1,253.1 34.9,235.3 32.2,217.6 29.8,199.9 27.6,182.1 25.2,164.4 22.5,146.7 20.2,128.9 16.7,111.2 9.7,93.5 7.3,75.7 6.7,58Z" fill="#363C96" stroke="#05072A" stroke-width="0.9" stroke-opacity="0.22"/>
<path d="M6.2,58 6.8,75.4 8.9,92.8 15.7,110.2 19.2,127.5 21.3,144.9 23.8,162.3 26.1,179.7 28,197.1 30.1,214.5 32.3,231.8 35,249.2 38,266.6 41.2,284 44.6,301.4 48.2,318.8 52.4,336.1 55.7,353.5 58.7,370.9 62.2,388.3 66.3,405.7 70.6,423.1 75.3,440.4 80,457.8 84.5,475.2 89.3,492.6 95.7,510 110.5,510 103.1,492.6 97.5,475.2 92.3,457.8 86.9,440.4 81.6,423.1 76.6,405.7 72.1,388.3 68,370.9 64.5,353.5 60.7,336.1 55.9,318.8 51.9,301.4 48,284 44.2,266.6 40.7,249.2 37.5,231.8 34.7,214.5 32.2,197.1 29.8,179.7 27.1,162.3 24.2,144.9 21.6,127.5 17.6,110.2 10.2,92.8 7.9,75.4 7.3,58Z" fill="#363C96" stroke="#05072A" stroke-width="0.9" stroke-opacity="0.22"/>
<rect x="-170" y="56" width="340" height="210" fill="url(#top2)" clip-path="url(#tc0)"/>
<path d="M-55.5,395 -53,440 -51,480 -53.5,440Z" fill="#363C96" opacity="0.8"/>
<path d="M-19.5,290 -22.5,380 -25,470 -24,380Z" fill="#363C96" opacity="0.8"/>
<path d="M30.5,250 36,340 44,425 38.5,340Z" fill="#363C96" opacity="0.8"/>
<path d="M50,280 51.2,293.6 53.5,312.6 56.6,334.8 60.1,358.4 63.7,381.2 67.4,401.1 71,418.4 74.6,435.1 79,450.8 83.7,465.6 88.9,479.7 94.8,492.9 101.9,505.5 110.1,517.3 118.7,528 126.8,537.4 133.5,545 138.4,550.8 147.6,543.2 142.8,537.3 135.8,529.5 127.8,520.2 119.5,509.8 111.7,498.6 105.2,487.1 99.9,474.8 95,461.5 90.4,447.1 86.1,431.8 81.3,415.8 76.6,398.9 71.7,379.5 66.8,357.1 61.9,333.9 57.4,311.9 53.4,293.2 50,280Z" fill="#40469f" opacity="0.9"/>
<path d="M78,494 79.6,496.7 82.2,499.9 85.4,503.5 88.7,507.3 92,511.2 94.9,514.6 97.9,518.1 101,522.2 103.9,526.4 106.7,530.4 109,533.8 110.7,536.3 117.3,531.7 115.6,529.3 113.3,525.9 110.6,521.9 107.5,517.5 104.3,513.3 101.1,509.4 97.4,505.9 93,502.7 88.6,499.7 84.5,497.1 80.9,495.1 78,494Z" fill="#40469f" opacity="0.9"/>
<path d="M-62,330 -65.9,343.4 -70.7,362.6 -76.2,385.1 -81.9,408.6 -87.4,430.7 -92.2,448.9 -96.5,463.8 -100.7,477.1 -104.2,489.2 -107.5,500 -110.5,509.7 -113.2,518.3 -115.6,525.5 -117.8,531.4 -119.8,536.2 -121.5,540 -123,543.3 -124.1,545.8 -113.9,550.2 -112.8,547.6 -111.5,544.6 -109.7,540.6 -107.7,535.6 -105.3,529.3 -102.8,521.7 -100,513 -97,503.3 -93.7,492.3 -90.2,480.1 -87.1,466.3 -83.8,451.1 -80.1,432.3 -75.8,409.9 -71.3,386.1 -67.2,363.3 -63.9,343.8 -62,330Z" fill="#40469f" opacity="0.9"/>
<path d="M-95,500 -97.7,504.2 -100.8,510.4 -104.2,517.8 -107.6,525.5 -110.7,532.7 -112.8,538.7 -114.1,543.7 -115.1,548 -115.8,551.7 -116.2,554.8 -116.6,557.2 -116.9,559.2 -107.1,560.8 -106.7,558.9 -106.4,556.3 -105.9,553.3 -105.2,549.8 -104.4,545.8 -103.2,541.3 -101.7,535.4 -100.1,527.9 -98.3,519.7 -96.6,511.8 -95.3,505 -95,500Z" fill="#40469f" opacity="0.9"/>
<path d="M-113.5,519.5 -101.7,519.5 -106.3,555.3 -118,557.4Z" fill="url(#end2)"/>
<path d="M-98.5,493.3 -85,493.3 -92.1,558.9 -105.7,561Z" fill="url(#end2)"/>
<path d="M-85.6,496.7 -72.2,496.7 -78.4,564 -91.8,562.8Z" fill="url(#end2)"/>
<path d="M-73.7,504.6 -62.2,504.6 -67,565.6 -78.4,564.5Z" fill="url(#end2)"/>
<path d="M-61.1,493 -48.5,493 -53.3,568.8 -65.9,567.1Z" fill="url(#end2)"/>
<path d="M-49,491.8 -40.3,491.8 -44.3,569.2 -53.1,567.8Z" fill="url(#end2)"/>
<path d="M-42.6,513.2 -28.7,513.2 -31.2,574.3 -45.1,576.6Z" fill="url(#end2)"/>
<path d="M-29.2,493.3 -17.1,493.3 -19.2,571.3 -31.3,572.3Z" fill="url(#end2)"/>
<path d="M-17.1,509.1 -3.8,509.1 -4.5,574 -17.9,572.4Z" fill="url(#end2)"/>
<path d="M-5.9,503.4 2.5,503.4 2.4,574.7 -6,572.3Z" fill="url(#end2)"/>
<path d="M2,497.8 12.1,497.8 12.7,573.3 2.7,573.3Z" fill="url(#end2)"/>
<path d="M11,519.2 21.9,519.2 22.9,574.5 12,576.7Z" fill="url(#end2)"/>
<path d="M19.7,520.8 32.2,520.8 33.9,575.6 21.4,576.9Z" fill="url(#end2)"/>
<path d="M30.9,514.1 42.3,514.1 44.7,571 33.2,569.5Z" fill="url(#end2)"/>
<path d="M41.7,495.9 50.9,495.9 55.1,573.1 45.9,575.2Z" fill="url(#end2)"/>
<path d="M49.8,497.6 60,497.6 64.7,572.9 54.6,571Z" fill="url(#end2)"/>
<path d="M61,517 73.8,517 78,571.9 65.3,574Z" fill="url(#end2)"/>
<path d="M69.6,489.4 79.6,489.4 86.5,567.8 76.4,567Z" fill="url(#end2)"/>
<path d="M81.1,497.8 92.4,497.8 98.7,561.5 87.5,559.9Z" fill="url(#end2)"/>
<path d="M88.4,480.5 97.3,480.5 106.2,561.2 97.3,559.6Z" fill="url(#end2)"/>
<path d="M97,491.8 110.9,491.8 118.9,557.6 105,556.3Z" fill="url(#end2)"/>
<path d="M115.8,529.6 128.7,529.6 132,554.3 119,552.1Z" fill="url(#end2)"/>
<path d="M63.5,388 66.5,388 87,498 82.5,498Z" fill="#fff" opacity="0.85"/>
<path d="M82,480 85,480 91,532 88,532Z" fill="#fff" opacity="0.85"/>
<path d="M106,430 108,430 118,500 116,500Z" fill="#fff" opacity="0.85"/>
<path d="M-40,330 -38.8,330 -46,430 -47.2,430Z" fill="#fff" opacity="0.85"/>
<path d="M-13.2,0 L13.2,0 L14.2,56 L-14,56Z" fill="#1B1E5A"/>
<path d="M-14,55 L14.2,55 L14.8,86 L15.2,96 L-14.8,100 L-14.5,90Z" fill="#1f246c"/>
<path d="M-4,58 L-3.6,120 L-3.2,250" stroke="url(#fold2)" stroke-width="1.2" fill="none"/>
<rect x="-17.5" y="48.9" width="32.5" height="7.4" rx="1.2" fill="url(#band)"/>
<path d="M14.8,52.4 L17.5,52.4" stroke="#6b5a3a" stroke-width="1"/>
</g>
<g transform="translate(1430.5,87.6) scale(1.0)">
<path d="M22.3,100 27.2,110 31.3,120 34.2,130 36.6,140 39,150 41.5,160 43.9,170 46.1,180 48.3,190 50.3,200 52.4,210 54.4,220 56.5,230 58.6,240 60.9,250 63.1,260 65.3,270 67.5,280 69.6,290 71.7,300 73.7,310 75.8,320 78,330 80.4,340 81.9,350 83.2,360 84.5,370 85.9,380 87.6,390 89.3,400 91.2,410 93.2,420 95.3,430 97.5,440 99.7,450 101.9,460 104,470 106.1,480 108.4,490 111.1,500 114.8,510 119.8,520 125.8,530 133.7,540 -117.5,540 -114.1,530 -110.9,520 -108,510 -105.4,500 -103.1,490 -101,480 -99.1,470 -97.3,460 -95.8,450 -94.6,440 -93.5,430 -92.4,420 -91.2,410 -89.9,400 -88.6,390 -87.3,380 -86.1,370 -84.6,360 -82.7,350 -80.8,340 -78.8,330 -77,320 -75.1,310 -73.3,300 -71.3,290 -69.2,280 -67.1,270 -64.6,260 -61.8,250 -59.2,240 -56.1,230 -52.8,220 -50,210 -46.9,200 -43.3,190 -40,180 -36.9,170 -34.1,160 -31.8,150 -29.1,140 -25.9,130 -22.5,120 -19.6,110 -17.7,100Z" fill="#f9dbc4"/>
<path d="M14.2,56 14.3,59.8 14.3,65.3 14.4,71.5 14.6,77.4 14.8,82 15.1,85.1 15.3,87.2 15.7,88.9 16.2,90.4 16.8,92 17.7,93.6 18.7,95 19.8,96.4 21,98 22.3,100 23.7,102.6 25.1,105.5 26.6,108.7 28.1,111.9 29.3,115 30.3,118 31.2,121 31.9,124 32.6,127 33.3,130 33.9,132.8 34.4,135.3 34.9,137.9 35.5,141 36.3,145 37.3,150 38.5,155.9 39.8,162.3 41.1,168.8 42.3,175 43.4,181 44.4,187 45.5,193 46.5,199 47.5,205 48.5,211 49.6,217 50.6,223 51.7,229 52.8,235 54,241 55.1,247 56.4,253 57.6,259 58.8,265 60,271 61.2,277 62.4,283 63.6,289 64.8,295 66,301.2 67.3,307.6 68.5,313.9 69.7,319.8 70.8,325 71.7,328.9 72.5,331.7 73.2,334.3 73.9,337.5 74.8,342 75.8,348.3 76.8,355.7 77.9,363.9 79.1,372.1 80.4,380 81.7,387.4 83.2,394.8 84.7,402.2 86.2,409.6 87.9,417 89.7,424.6 91.5,432.2 93.4,439.8 95.4,447.4 97.3,455 99.2,462.8 101.2,470.7 103.2,478.5 105,485.8 106.8,492 108.3,497 109.6,500.9 110.9,504.3 112.3,507.5 114,511 115.7,514.4 116.3,515.4 117.2,517 118.3,519 119.9,521.6 110,524.7 97.3,528 88.1,531.7 80,535.6 70.8,538.7 59.2,540.3 46.3,541.1 33.5,541.6 21,542.2 8.5,542.6 -4,542.6 -16.5,542.3 -29,541.6 -41.5,540.6 -54.4,539 -67.2,537 -79,535 -89.6,533.4 -99.1,531.8 -107,529 -111.4,523.7 -109.1,517.2 -107.5,512.6 -107,511 -105.8,507.2 -104.7,503.4 -103.6,499.6 -102.5,495.8 -101.5,492 -100.5,488.2 -99.5,484.4 -98.6,480.5 -97.7,476.7 -96.8,473 -96,469.4 -95.2,465.8 -94.4,462.2 -93.7,458.6 -93,455 -92.3,451.3 -91.7,447.5 -91.1,443.6 -90.6,439.8 -90,436 -89.5,432.2 -88.9,428.4 -88.4,424.5 -87.9,420.7 -87.4,417 -86.9,413.4 -86.3,409.8 -85.7,406.2 -85.2,402.6 -84.6,399 -84,395.3 -83.5,391.5 -82.9,387.6 -82.4,383.8 -81.8,380 -81.3,376.2 -80.7,372.4 -80.2,368.6 -79.6,364.8 -79,361 -78.3,357.2 -77.5,353.4 -76.8,349.6 -76,345.8 -75.2,342 -74.5,338.3 -73.8,334.8 -73.1,331.2 -72.3,327.4 -71.5,323 -70.6,317.8 -69.5,311.8 -68.4,305.7 -67.4,299.9 -66.5,295 -65.8,291.2 -65.2,288.1 -64.6,285.4 -64.1,282.8 -63.5,280 -62.9,277 -62.3,274 -61.8,271 -61.2,268 -60.5,265 -59.8,262 -59,259 -58.3,256 -57.5,253 -56.7,250 -56,247 -55.3,244 -54.5,241 -53.8,238 -53,235 -52.1,232 -51.2,229 -50.3,226 -49.4,223 -48.5,220 -47.7,217 -47,214 -46.3,211 -45.5,208 -44.7,205 -43.8,202 -42.9,199 -41.9,196 -40.9,193 -40,190 -39.1,187 -38.2,184 -37.4,181 -36.5,178 -35.7,175 -34.9,172 -34.1,169 -33.4,166 -32.7,163 -32,160 -31.4,157 -30.8,154 -30.2,151 -29.7,148 -29,145 -28.3,142 -27.5,139 -26.7,136 -25.8,133 -25,130 -24.1,127 -23.2,124 -22.3,121 -21.5,118 -20.7,115 -20,111.9 -19.4,108.8 -18.9,105.6 -18.3,102.7 -17.7,100 -17,98.1 -16.3,96.8 -15.6,95.5 -15,93.5 -14.5,90 -14.2,84.2 -14.1,76.5 -14,68.3 -14,61 -14,56Z" fill="#EEA46E"/>
<path d="M-1.7,58 -1.7,76.3 -0.8,94.5 0.6,112.8 -0.3,131.1 -1.6,149.3 -2.4,167.6 -4,185.9 -6.1,204.1 -7.6,222.4 -9.4,240.6 -10.6,258.9 -11.5,277.2 -12.3,295.4 -13,313.7 -13.8,332 -15,350.2 -16.5,368.5 -17.5,386.8 -18.5,405 -19.3,423.3 -19.8,441.6 -20.5,459.8 -21.7,478.1 -23,496.3 -23.6,514.6 -23.1,532.9 19.8,532.9 15.5,514.6 13.1,496.3 12.1,478.1 11.3,459.8 10.2,441.6 9,423.3 8.2,405 7.6,386.8 7.3,368.5 7.5,350.2 7.2,332 6.5,313.7 5.8,295.4 5.2,277.2 4.7,258.9 4.6,240.6 4.9,222.4 5.2,204.1 6,185.9 6.3,167.6 6.1,149.3 6.2,131.1 5.8,112.8 2.7,94.5 1.2,76.3 1.1,58Z" fill="#E18648" stroke="#B85E20" stroke-width="0.9" stroke-opacity="0.22"/>
<path d="M-4,58 -4.1,76.3 -3.8,94.5 -3.9,112.8 -6,131 -8.3,149.3 -10.2,167.5 -13,185.8 -16.4,204 -19.3,222.3 -22.4,240.6 -25,258.8 -27.2,277.1 -29.1,295.3 -30.8,313.6 -32.6,331.8 -34.9,350.1 -37.2,368.4 -39.1,386.6 -41.1,404.9 -43.2,423.1 -45.2,441.4 -47.8,459.6 -51.2,477.9 -55,496.1 -58.9,514.4 -62.8,532.7 -24.7,532.7 -24.3,514.4 -23,496.1 -21.2,477.9 -19.5,459.6 -18.6,441.4 -18.1,423.1 -17.4,404.9 -16.8,386.6 -16,368.4 -14.9,350.1 -14,331.8 -13.5,313.6 -13,295.3 -12.3,277.1 -11.3,258.8 -10,240.6 -8.1,222.3 -6.4,204 -4.2,185.8 -2.4,167.5 -1.5,149.3 -0.2,131 0.7,112.8 -0.7,94.5 -1.5,76.3 -1.5,58Z" fill="#EEA46E" stroke="#B85E20" stroke-width="0.9" stroke-opacity="0.22"/>
<path d="M-0,58 0.2,76.3 1.5,94.6 4.1,112.9 4.1,131.3 3.6,149.6 3.5,167.9 2.6,186.2 1.2,204.5 0.4,222.8 -0.6,241.1 -1,259.5 -1.1,277.8 -0.9,296.1 -0.5,314.4 0.1,332.7 0.3,351 0.2,369.4 0.7,387.7 1.2,406 1.9,424.3 2.7,442.6 3.1,460.9 2.8,479.2 2.4,497.6 2.9,515.9 4.9,534.2 43.3,534.2 37.8,515.9 34.6,497.6 33,479.2 31.5,460.9 29.4,442.6 27.1,424.3 25,406 23.1,387.7 21.5,369.4 20.3,351 18.8,332.7 16.9,314.4 15.3,296.1 13.9,277.8 12.7,259.5 11.8,241.1 11.6,222.8 11.3,204.5 11.4,186.2 11.2,167.9 10.4,149.6 9.9,131.3 8.8,112.9 4.6,94.6 2.8,76.3 2.5,58Z" fill="#E18648" stroke="#B85E20" stroke-width="0.9" stroke-opacity="0.22"/>
<path d="M1.8,58 2.1,76.2 3.8,94.3 7.7,112.5 8.6,130.6 9,148.8 9.8,166.9 10,185.1 9.8,203.2 10.1,221.4 10.4,239.5 11.1,257.7 12.1,275.8 13.2,294 14.3,312.1 15.5,330.3 16.4,348.4 16.5,366.6 17.2,384.7 18.3,402.9 19.6,421 21.5,439.2 23.5,457.3 25.2,475.5 27.3,493.6 30.7,511.8 36.3,529.9 69.2,529.9 60.6,511.8 55,493.6 51.3,475.5 48,457.3 44.6,439.2 41.5,421 38.9,402.9 36.7,384.7 35,366.6 33.7,348.4 31.7,330.3 29.4,312.1 27.2,294 25,275.8 23,257.7 21.1,239.5 19.8,221.4 18.5,203.2 17.7,185.1 16.5,166.9 14.9,148.8 13.7,130.6 11.7,112.5 6.5,94.3 4.4,76.2 4,58Z" fill="#E9955A" stroke="#B85E20" stroke-width="0.9" stroke-opacity="0.22"/>
<path d="M-0.9,58 -0.8,76.5 0.4,95.1 2.3,113.6 1.7,132.2 0.8,150.7 0.2,169.3 -1.2,187.8 -3,206.4 -4.3,224.9 -5.7,243.4 -6.6,262 -7.1,280.5 -7.4,299.1 -7.5,317.6 -7.4,336.2 -8.1,354.7 -8.7,373.3 -8.8,391.8 -9,410.3 -8.9,428.9 -8.8,447.4 -9.4,466 -10.4,484.5 -11.5,503.1 -11.5,521.6 -10,540.2 22.4,540.2 17.7,521.6 15.3,503.1 14.5,484.5 14.1,466 13.2,447.4 11.9,428.9 10.6,410.3 9.6,391.8 8.8,373.3 8.4,354.7 8,336.2 6.8,317.6 5.9,299.1 5.2,280.5 4.7,262 4.5,243.4 4.9,224.9 5.2,206.4 6.1,187.8 6.6,169.3 6.4,150.7 6.5,132.2 6.1,113.6 3,95.1 1.3,76.5 1.1,58Z" fill="#E18648" stroke="#B85E20" stroke-width="0.9" stroke-opacity="0.22"/>
<path d="M-4.2,58 -4.4,76.3 -4.2,94.6 -4.5,112.9 -6.8,131.3 -9.2,149.6 -11.1,167.9 -14,186.2 -17.4,204.5 -20.3,222.8 -23.4,241.1 -26.1,259.5 -28.4,277.8 -30.7,296.1 -32.9,314.4 -35.2,332.7 -38.2,351 -41.2,369.3 -43.7,387.7 -46.3,406 -48.7,424.3 -50.9,442.6 -53.4,460.9 -56.4,479.2 -59.6,497.5 -62.8,515.9 -65.7,534.2 -36.9,534.2 -36.6,515.9 -35.5,497.5 -33.8,479.2 -32.1,460.9 -30.8,442.6 -29.8,424.3 -28.4,406 -26.9,387.7 -25.2,369.3 -23.1,351 -21.2,332.7 -19.8,314.4 -18.6,296.1 -17.2,277.8 -15.8,259.5 -14.1,241.1 -11.9,222.8 -9.9,204.5 -7.3,186.2 -5.3,167.9 -4.1,149.6 -2.4,131.3 -1,112.9 -1.8,94.6 -2.5,76.3 -2.3,58Z" fill="#F4BD94" stroke="#B85E20" stroke-width="0.9" stroke-opacity="0.22"/>
<path d="M-2.5,58 -2.6,76.5 -1.8,94.9 -1,113.4 -2.4,131.8 -4,150.3 -5.3,168.8 -7.5,187.2 -10.3,205.7 -12.5,224.1 -15,242.6 -16.9,261.1 -18.4,279.5 -19.7,298 -20.8,316.5 -21.7,334.9 -23.2,353.4 -24.4,371.8 -25.2,390.3 -26,408.8 -26.7,427.2 -27.5,445.7 -28.9,464.1 -31.1,482.6 -33.8,501.1 -36.2,519.5 -38,538 -8.5,538 -9.5,519.5 -9.3,501.1 -8.3,482.6 -7.4,464.1 -7.2,445.7 -7.7,427.2 -8,408.8 -8.3,390.3 -8.4,371.8 -8,353.4 -7.5,334.9 -7.6,316.5 -7.5,298 -7.1,279.5 -6.6,261.1 -5.6,242.6 -4.1,224.1 -2.7,205.7 -0.8,187.2 0.6,168.8 1.1,150.3 2,131.8 2.5,113.4 0.5,94.9 -0.6,76.5 -0.7,58Z" fill="#E18648" stroke="#B85E20" stroke-width="0.9" stroke-opacity="0.22"/>
<path d="M-1.5,58 -1.5,76.5 -0.5,95.1 0.9,113.6 0,132.1 -1.2,150.7 -2,169.2 -3.6,187.7 -5.7,206.3 -7.3,224.8 -8.9,243.4 -10.1,261.9 -10.9,280.4 -11.6,299 -12.2,317.5 -12.8,336 -14.1,354.6 -15.3,373.1 -16.2,391.6 -17,410.2 -17.5,428.7 -17.9,447.2 -18.7,465.8 -20,484.3 -21.1,502.8 -21.3,521.4 -20.1,539.9 9.7,539.9 5.6,521.4 3.5,502.8 3,484.3 2.9,465.8 2.4,447.2 1.7,428.7 1.1,410.2 0.9,391.6 0.7,373.1 1.1,354.6 1.5,336 1,317.5 0.6,299 0.4,280.4 0.3,261.9 0.5,243.4 1.2,224.8 1.9,206.3 3.1,187.7 3.9,169.2 4,150.7 4.4,132.1 4.5,113.6 1.9,95.1 0.4,76.5 0.3,58Z" fill="#E18648" stroke="#B85E20" stroke-width="0.9" stroke-opacity="0.22"/>
<path d="M-0.1,58 0,76.5 1.4,94.9 3.8,113.4 3.6,131.9 3.1,150.4 3,168.8 2.1,187.3 0.9,205.8 0.1,224.3 -0.7,242.7 -1.1,261.2 -1.2,279.7 -1.3,298.2 -1.3,316.6 -1.1,335.1 -1.8,353.6 -2.5,372 -2.6,390.5 -2.5,409 -2.1,427.5 -1.3,445.9 -0.7,464.4 -0.4,482.9 0.2,501.4 2.2,519.8 6,538.3 35.5,538.3 28.9,519.8 24.7,501.4 22.5,482.9 20.8,464.4 19,445.9 17,427.5 15.5,409 14.4,390.5 13.6,372 13.4,353.6 13.1,335.1 11.9,316.6 11,298.2 10.1,279.7 9.3,261.2 8.7,242.7 8.6,224.3 8.5,205.8 8.8,187.3 8.9,168.8 8.3,150.4 8,131.9 7.3,113.4 3.7,94.9 2,76.5 1.7,58Z" fill="#E9955A" stroke="#B85E20" stroke-width="0.9" stroke-opacity="0.22"/>
<path d="M0.7,58 1,76.5 2.6,95 5.6,113.5 5.9,131.9 5.7,150.4 5.9,168.9 5.3,187.4 4.3,205.9 3.8,224.4 3.2,242.9 3.2,261.4 3.6,279.8 4.2,298.3 5,316.8 6.2,335.3 6.7,353.8 7.1,372.3 8.1,390.8 9.2,409.3 10.4,427.7 11.7,446.2 12.4,464.7 12.6,483.2 12.8,501.7 14.4,520.2 17.9,538.7 47.5,538.7 41.1,520.2 37.3,501.7 35.5,483.2 33.9,464.7 31.9,446.2 29.5,427.7 27.2,409.3 25.1,390.8 23.2,372.3 21.8,353.8 20.4,335.3 18.2,316.8 16.4,298.3 14.9,279.8 13.6,261.4 12.6,242.9 12.2,224.4 11.9,205.9 12,187.4 11.7,168.9 10.9,150.4 10.3,131.9 9.1,113.5 4.9,95 2.9,76.5 2.6,58Z" fill="#E9955A" stroke="#B85E20" stroke-width="0.9" stroke-opacity="0.22"/>
<path d="M-5.6,58 -5.9,76 -6,94 -7.3,112.1 -10.1,130.1 -13.2,148.1 -15.8,166.1 -19.3,184.2 -23.6,202.2 -27.2,220.2 -31.3,238.2 -34.7,256.3 -37.8,274.3 -40.7,292.3 -43.3,310.3 -46,328.4 -49.2,346.4 -52.7,364.4 -55.6,382.4 -58.6,400.4 -62,418.5 -65.1,436.5 -68.7,454.5 -73.2,472.5 -78.3,490.6 -83.7,508.6 -89.7,526.6 -62,526.6 -58.4,508.6 -54.7,490.6 -51.1,472.5 -47.9,454.5 -45.5,436.5 -43.4,418.5 -41.1,400.4 -39,382.4 -37,364.4 -34.4,346.4 -32.3,328.4 -30.5,310.3 -28.7,292.3 -26.8,274.3 -24.6,256.3 -22.1,238.2 -18.9,220.2 -16.2,202.2 -12.8,184.2 -10,166.1 -8.2,148.1 -5.8,130.1 -3.8,112.1 -3.7,94 -4,76 -3.8,58Z" fill="#EEA46E" stroke="#B85E20" stroke-width="0.9" stroke-opacity="0.22"/>
<path d="M-6,58 -6.3,76.1 -6.5,94.1 -8,112.2 -11,130.2 -14.3,148.3 -17,166.3 -20.7,184.4 -25.2,202.4 -28.9,220.5 -33.1,238.5 -36.7,256.6 -40,274.6 -43,292.7 -45.8,310.8 -48.8,328.8 -52.3,346.9 -56.1,364.9 -59.3,383 -62.8,401 -66.5,419.1 -70.1,437.1 -74,455.2 -78.8,473.2 -84.1,491.3 -89.7,509.3 -95.9,527.4 -70.5,527.4 -66.5,509.3 -62.5,491.3 -58.5,473.2 -54.9,455.2 -52,437.1 -49.5,419.1 -46.7,401 -44.1,383 -41.7,364.9 -38.7,346.9 -36.2,328.8 -34,310.8 -32,292.7 -29.8,274.6 -27.4,256.6 -24.7,238.5 -21.3,220.5 -18.4,202.4 -14.7,184.4 -11.8,166.3 -9.7,148.3 -7.1,130.2 -4.8,112.2 -4.4,94.1 -4.5,76.1 -4.3,58Z" fill="#E9955A" stroke="#B85E20" stroke-width="0.9" stroke-opacity="0.22"/>
<path d="M-3.1,58 -3.3,76.5 -2.7,95 -2.4,113.5 -4.1,132 -6.1,150.5 -7.7,169 -10.2,187.5 -13.3,206 -15.7,224.5 -18.3,243 -20.4,261.5 -22,280 -23.5,298.5 -24.8,317 -26.2,335.5 -28.2,354 -30.2,372.6 -31.8,391.1 -33.6,409.6 -35.3,428.1 -37,446.6 -39.4,465.1 -42.4,483.6 -45.6,502.1 -48.4,520.6 -50.6,539.1 -23.3,539.1 -23.9,520.6 -23.1,502.1 -21.4,483.6 -19.7,465.1 -18.4,446.6 -17.7,428.1 -17,409.6 -16.2,391.1 -15.4,372.6 -14.3,354 -13.2,335.5 -12.8,317 -12.3,298.5 -11.7,280 -10.9,261.5 -9.7,243 -8,224.5 -6.3,206 -4.1,187.5 -2.3,169 -1.4,150.5 -0.1,132 0.9,113.5 -0.5,95 -1.5,76.5 -1.4,58Z" fill="#E9955A" stroke="#B85E20" stroke-width="0.9" stroke-opacity="0.22"/>
<path d="M1.7,58 1.9,76.3 3.6,94.6 7.3,112.9 8.1,131.3 8.3,149.6 8.9,167.9 8.9,186.2 8.6,204.5 8.8,222.8 9,241.1 9.7,259.4 10.8,277.8 11.9,296.1 13.1,314.4 14.5,332.7 15.2,351 15.5,369.3 16.1,387.6 17,405.9 18.1,424.3 19.6,442.6 20.9,460.9 22,479.2 23.5,497.5 26.7,515.8 32.3,534.1 58.8,534.1 50.7,515.8 45.7,497.5 42.8,479.2 40.4,460.9 37.9,442.6 35.4,424.3 33.4,405.9 31.6,387.6 30.1,369.3 29,351 27.4,332.7 25.1,314.4 23,296.1 21,277.8 19.1,259.4 17.5,241.1 16.5,222.8 15.5,204.5 15,186.2 14.3,167.9 13,149.6 12.1,131.3 10.5,112.9 5.8,94.6 3.7,76.3 3.4,58Z" fill="#E18648" stroke="#B85E20" stroke-width="0.9" stroke-opacity="0.22"/>
<path d="M-6.7,58 -7.1,76.1 -7.5,94.1 -9.5,112.2 -12.9,130.2 -16.5,148.3 -19.6,166.4 -23.8,184.4 -28.7,202.5 -33,220.6 -37.8,238.6 -42,256.7 -45.8,274.7 -49.2,292.8 -52.5,310.9 -55.8,328.9 -59.4,347 -63.3,365 -66.5,383.1 -70,401.2 -73.8,419.2 -77.5,437.3 -81.9,455.3 -87.3,473.4 -93.6,491.5 -100.5,509.5 -108.6,527.6 -85.4,527.6 -79.4,509.5 -73.9,491.5 -68.9,473.4 -64.5,455.3 -61.1,437.3 -58.3,419.2 -55.4,401.2 -52.7,383.1 -50.2,365 -47.1,347 -44.3,328.9 -41.7,310.9 -39.3,292.8 -36.6,274.7 -33.5,256.7 -30.1,238.6 -26.1,220.6 -22.5,202.5 -18.3,184.4 -14.8,166.4 -12.3,148.3 -9.3,130.2 -6.6,112.2 -5.6,94.1 -5.5,76.1 -5.2,58Z" fill="#F4BD94" stroke="#B85E20" stroke-width="0.9" stroke-opacity="0.22"/>
<path d="M-4.9,58 -5.1,76.3 -5.1,94.6 -5.8,112.9 -8.4,131.2 -11.2,149.5 -13.5,167.8 -16.9,186 -20.9,204.3 -24.3,222.6 -28.1,240.9 -31.4,259.2 -34.2,277.5 -36.8,295.8 -39,314.1 -41.4,332.4 -44.1,350.7 -46.8,369 -49,387.3 -51.4,405.5 -53.9,423.8 -56.3,442.1 -59.5,460.4 -63.7,478.7 -68.5,497 -73.7,515.3 -79.3,533.6 -55.4,533.6 -52,515.3 -48.4,497 -44.9,478.7 -41.8,460.4 -39.7,442.1 -38.1,423.8 -36.6,405.5 -35,387.3 -33.6,369 -31.6,350.7 -29.7,332.4 -28.2,314.1 -26.7,295.8 -24.9,277.5 -22.8,259.2 -20.4,240.9 -17.4,222.6 -14.7,204.3 -11.4,186 -8.7,167.8 -6.9,149.5 -4.8,131.2 -2.9,112.9 -3.1,94.6 -3.5,76.3 -3.3,58Z" fill="#EEA46E" stroke="#B85E20" stroke-width="0.9" stroke-opacity="0.22"/>
<path d="M2.6,58 2.9,76.3 4.9,94.7 9.2,113 10.5,131.3 11.1,149.7 12.1,168 12.5,186.4 12.6,204.7 13.1,223 13.7,241.4 14.9,259.7 16.4,278 18.1,296.4 20,314.7 22.1,333 23.6,351.4 24.7,369.7 26.2,388 28,406.4 29.9,424.7 32,443.1 33.9,461.4 35.5,479.7 37.4,498.1 41.1,516.4 47.4,534.7 71.5,534.7 63,516.4 57.5,498.1 54.4,479.7 51.7,461.4 48.7,443.1 45.6,424.7 42.8,406.4 40.3,388 38,369.7 36.2,351.4 33.8,333 30.8,314.7 28.2,296.4 25.7,278 23.5,259.7 21.5,241.4 20.1,223 18.8,204.7 18,186.4 16.9,168 15.4,149.7 14.1,131.3 12.1,113 6.9,94.7 4.6,76.3 4.1,58Z" fill="#EEA46E" stroke="#B85E20" stroke-width="0.9" stroke-opacity="0.22"/>
<path d="M3.4,58 3.9,75.9 5.8,93.9 10.7,111.8 12.6,129.8 13.5,147.7 14.9,165.6 15.7,183.6 16.1,201.5 17,219.4 17.8,237.4 19.3,255.3 21.1,273.3 23.2,291.2 25.6,309.1 28.1,327.1 30.8,345 32.5,363 34.5,380.9 36.9,398.8 39.3,416.8 42,434.7 44.6,452.7 46.7,470.6 48.7,488.5 51.5,506.5 56.8,524.4 79.6,524.4 72.4,506.5 68.2,488.5 65,470.6 61.8,452.7 58.3,434.7 54.7,416.8 51.4,398.8 48.2,380.9 45.5,363 43.1,345 39.5,327.1 36.2,309.1 33.1,291.2 30.3,273.3 27.7,255.3 25.5,237.4 23.8,219.4 22.3,201.5 21.1,183.6 19.6,165.6 17.7,147.7 16.1,129.8 13.6,111.8 7.7,93.9 5.5,75.9 5,58Z" fill="#F4BD94" stroke="#B85E20" stroke-width="0.9" stroke-opacity="0.22"/>
<path d="M4.7,58 5.2,75.5 7.1,93.1 12.9,110.6 15.6,128.1 17.1,145.7 19,163.2 20.5,180.7 21.6,198.2 23,215.8 24.5,233.3 26.5,250.8 28.8,268.4 31.4,285.9 34.2,303.4 37.2,321 40.7,338.5 43.1,356 45.5,373.5 48.3,391.1 51.5,408.6 54.9,426.1 58.4,443.7 61.8,461.2 65,478.7 68.4,496.3 73.7,513.8 95.3,513.8 88.4,496.3 83.8,478.7 79.6,461.2 75.2,443.7 70.7,426.1 66.4,408.6 62.5,391.1 58.9,373.5 55.8,356 52.6,338.5 48.3,321 44.6,303.4 41.1,285.9 37.8,268.4 34.7,250.8 31.9,233.3 29.7,215.8 27.6,198.2 25.8,180.7 23.7,163.2 21.2,145.7 19.1,128.1 15.7,110.6 9,93.1 6.8,75.5 6.3,58Z" fill="#EEA46E" stroke="#B85E20" stroke-width="0.9" stroke-opacity="0.22"/>
<path d="M-2.1,58 -2.1,76.2 -1.4,94.4 -0.2,112.6 -1.3,130.8 -2.8,149 -3.8,167.2 -5.7,185.4 -8.2,203.6 -10.1,221.8 -12.2,239.9 -13.8,258.1 -14.9,276.3 -15.9,294.5 -16.6,312.7 -17.3,330.9 -18.4,349.1 -19.8,367.3 -20.7,385.5 -21.5,403.7 -22.5,421.9 -23.2,440.1 -24.4,458.3 -26.3,476.5 -28.6,494.7 -30.5,512.9 -31.7,531.1 -8.1,531.1 -9,512.9 -8.7,494.7 -7.7,476.5 -6.9,458.3 -6.7,440.1 -6.8,421.9 -6.8,403.7 -6.7,385.5 -6.6,367.3 -5.9,349.1 -5.7,330.9 -5.8,312.7 -5.9,294.5 -5.7,276.3 -5.3,258.1 -4.5,239.9 -3.1,221.8 -1.9,203.6 -0.2,185.4 1,167.2 1.5,149 2.3,130.8 2.7,112.6 0.6,94.4 -0.5,76.2 -0.5,58Z" fill="#E9955A" stroke="#B85E20" stroke-width="0.9" stroke-opacity="0.22"/>
<path d="M4.5,58 5,75.8 7,93.7 12.7,111.5 15.1,129.3 16.5,147.2 18.4,165 19.9,182.8 21.1,200.7 22.7,218.5 24.3,236.3 26.5,254.2 28.9,272 31.4,289.8 34,307.7 36.6,325.5 39.4,343.3 41,361.2 42.9,379 45.2,396.8 47.9,414.7 51.1,432.5 54.7,450.3 58.2,468.2 61.9,486 66.7,503.8 74.4,521.7 94.6,521.7 85.2,503.8 79.2,486 74.5,468.2 70.1,450.3 65.7,432.5 61.7,414.7 58.2,396.8 55.2,379 52.7,361.2 50.4,343.3 46.8,325.5 43.5,307.7 40.3,289.8 37.1,272 34,254.2 31.1,236.3 28.8,218.5 26.6,200.7 24.8,182.8 22.7,165 20.3,147.2 18.3,129.3 15.2,111.5 8.7,93.7 6.4,75.8 5.9,58Z" fill="#EEA46E" stroke="#B85E20" stroke-width="0.9" stroke-opacity="0.22"/>
<path d="M-7.1,58 -7.6,75.6 -8,93.1 -10.1,110.7 -13.4,128.3 -17.2,145.8 -20.3,163.4 -24.4,180.9 -29.3,198.5 -33.9,216.1 -38.9,233.6 -43.3,251.2 -47.7,268.8 -51.4,286.3 -55,303.9 -58.4,321.4 -62.1,339 -66.1,356.6 -69.5,374.1 -72.7,391.7 -76.2,409.3 -79.7,426.8 -83.4,444.4 -88,461.9 -93.6,479.5 -100.1,497.1 -107.6,514.6 -90.2,514.6 -84,497.1 -78.5,479.5 -73.7,461.9 -70,444.4 -67,426.8 -64.2,409.3 -61.4,391.7 -58.7,374.1 -55.9,356.6 -52.5,339 -49.5,321.4 -46.6,303.9 -43.6,286.3 -40.5,268.8 -36.7,251.2 -32.9,233.6 -28.5,216.1 -24.5,198.5 -20.1,180.9 -16.6,163.4 -13.9,145.8 -10.6,128.3 -7.9,110.7 -6.5,93.1 -6.3,75.6 -5.9,58Z" fill="#F4BD94" stroke="#B85E20" stroke-width="0.9" stroke-opacity="0.22"/>
<path d="M5.4,58 6,75.7 8.2,93.5 14.4,111.2 17.3,128.9 19.2,146.7 21.4,164.4 23.3,182.1 24.9,199.9 26.8,217.6 28.9,235.3 31.5,253.1 34.3,270.8 37.4,288.5 40.6,306.3 43.8,324 47.5,341.7 49.8,359.4 52.3,377.2 55.3,394.9 58.6,412.6 62.2,430.4 66.2,448.1 70.1,465.8 74.1,483.6 79,501.3 86.8,519 104.5,519 95.3,501.3 89.4,483.6 84.5,465.8 79.8,448.1 75.1,430.4 70.7,412.6 66.7,394.9 63.2,377.2 60.1,359.4 57.2,341.7 52.8,324 49,306.3 45.2,288.5 41.6,270.8 38.1,253.1 34.9,235.3 32.2,217.6 29.8,199.9 27.6,182.1 25.2,164.4 22.5,146.7 20.2,128.9 16.7,111.2 9.7,93.5 7.3,75.7 6.7,58Z" fill="#F4BD94" stroke="#B85E20" stroke-width="0.9" stroke-opacity="0.22"/>
<path d="M6.2,58 6.8,75.4 8.9,92.8 15.7,110.2 19.2,127.5 21.3,144.9 23.8,162.3 26.1,179.7 28,197.1 30.1,214.5 32.3,231.8 35,249.2 38,266.6 41.2,284 44.6,301.4 48.2,318.8 52.4,336.1 55.7,353.5 58.7,370.9 62.2,388.3 66.3,405.7 70.6,423.1 75.3,440.4 80,457.8 84.5,475.2 89.3,492.6 95.7,510 110.5,510 103.1,492.6 97.5,475.2 92.3,457.8 86.9,440.4 81.6,423.1 76.6,405.7 72.1,388.3 68,370.9 64.5,353.5 60.7,336.1 55.9,318.8 51.9,301.4 48,284 44.2,266.6 40.7,249.2 37.5,231.8 34.7,214.5 32.2,197.1 29.8,179.7 27.1,162.3 24.2,144.9 21.6,127.5 17.6,110.2 10.2,92.8 7.9,75.4 7.3,58Z" fill="#F4BD94" stroke="#B85E20" stroke-width="0.9" stroke-opacity="0.22"/>
<rect x="-170" y="56" width="340" height="210" fill="url(#top3)" clip-path="url(#tc0)"/>
<path d="M-55.5,395 -53,440 -51,480 -53.5,440Z" fill="#F4BD94" opacity="0.8"/>
<path d="M-19.5,290 -22.5,380 -25,470 -24,380Z" fill="#F4BD94" opacity="0.8"/>
<path d="M30.5,250 36,340 44,425 38.5,340Z" fill="#F4BD94" opacity="0.8"/>
<path d="M50,280 51.2,293.6 53.5,312.6 56.6,334.8 60.1,358.4 63.7,381.2 67.4,401.1 71,418.4 74.6,435.1 79,450.8 83.7,465.6 88.9,479.7 94.8,492.9 101.9,505.5 110.1,517.3 118.7,528 126.8,537.4 133.5,545 138.4,550.8 147.6,543.2 142.8,537.3 135.8,529.5 127.8,520.2 119.5,509.8 111.7,498.6 105.2,487.1 99.9,474.8 95,461.5 90.4,447.1 86.1,431.8 81.3,415.8 76.6,398.9 71.7,379.5 66.8,357.1 61.9,333.9 57.4,311.9 53.4,293.2 50,280Z" fill="#f5c29e" opacity="0.9"/>
<path d="M78,494 79.6,496.7 82.2,499.9 85.4,503.5 88.7,507.3 92,511.2 94.9,514.6 97.9,518.1 101,522.2 103.9,526.4 106.7,530.4 109,533.8 110.7,536.3 117.3,531.7 115.6,529.3 113.3,525.9 110.6,521.9 107.5,517.5 104.3,513.3 101.1,509.4 97.4,505.9 93,502.7 88.6,499.7 84.5,497.1 80.9,495.1 78,494Z" fill="#f5c29e" opacity="0.9"/>
<path d="M-62,330 -65.9,343.4 -70.7,362.6 -76.2,385.1 -81.9,408.6 -87.4,430.7 -92.2,448.9 -96.5,463.8 -100.7,477.1 -104.2,489.2 -107.5,500 -110.5,509.7 -113.2,518.3 -115.6,525.5 -117.8,531.4 -119.8,536.2 -121.5,540 -123,543.3 -124.1,545.8 -113.9,550.2 -112.8,547.6 -111.5,544.6 -109.7,540.6 -107.7,535.6 -105.3,529.3 -102.8,521.7 -100,513 -97,503.3 -93.7,492.3 -90.2,480.1 -87.1,466.3 -83.8,451.1 -80.1,432.3 -75.8,409.9 -71.3,386.1 -67.2,363.3 -63.9,343.8 -62,330Z" fill="#f5c29e" opacity="0.9"/>
<path d="M-95,500 -97.7,504.2 -100.8,510.4 -104.2,517.8 -107.6,525.5 -110.7,532.7 -112.8,538.7 -114.1,543.7 -115.1,548 -115.8,551.7 -116.2,554.8 -116.6,557.2 -116.9,559.2 -107.1,560.8 -106.7,558.9 -106.4,556.3 -105.9,553.3 -105.2,549.8 -104.4,545.8 -103.2,541.3 -101.7,535.4 -100.1,527.9 -98.3,519.7 -96.6,511.8 -95.3,505 -95,500Z" fill="#f5c29e" opacity="0.9"/>
<path d="M-113.5,519.5 -101.7,519.5 -106.3,555.3 -118,557.4Z" fill="url(#end3)"/>
<path d="M-98.5,493.3 -85,493.3 -92.1,558.9 -105.7,561Z" fill="url(#end3)"/>
<path d="M-85.6,496.7 -72.2,496.7 -78.4,564 -91.8,562.8Z" fill="url(#end3)"/>
<path d="M-73.7,504.6 -62.2,504.6 -67,565.6 -78.4,564.5Z" fill="url(#end3)"/>
<path d="M-61.1,493 -48.5,493 -53.3,568.8 -65.9,567.1Z" fill="url(#end3)"/>
<path d="M-49,491.8 -40.3,491.8 -44.3,569.2 -53.1,567.8Z" fill="url(#end3)"/>
<path d="M-42.6,513.2 -28.7,513.2 -31.2,574.3 -45.1,576.6Z" fill="url(#end3)"/>
<path d="M-29.2,493.3 -17.1,493.3 -19.2,571.3 -31.3,572.3Z" fill="url(#end3)"/>
<path d="M-17.1,509.1 -3.8,509.1 -4.5,574 -17.9,572.4Z" fill="url(#end3)"/>
<path d="M-5.9,503.4 2.5,503.4 2.4,574.7 -6,572.3Z" fill="url(#end3)"/>
<path d="M2,497.8 12.1,497.8 12.7,573.3 2.7,573.3Z" fill="url(#end3)"/>
<path d="M11,519.2 21.9,519.2 22.9,574.5 12,576.7Z" fill="url(#end3)"/>
<path d="M19.7,520.8 32.2,520.8 33.9,575.6 21.4,576.9Z" fill="url(#end3)"/>
<path d="M30.9,514.1 42.3,514.1 44.7,571 33.2,569.5Z" fill="url(#end3)"/>
<path d="M41.7,495.9 50.9,495.9 55.1,573.1 45.9,575.2Z" fill="url(#end3)"/>
<path d="M49.8,497.6 60,497.6 64.7,572.9 54.6,571Z" fill="url(#end3)"/>
<path d="M61,517 73.8,517 78,571.9 65.3,574Z" fill="url(#end3)"/>
<path d="M69.6,489.4 79.6,489.4 86.5,567.8 76.4,567Z" fill="url(#end3)"/>
<path d="M81.1,497.8 92.4,497.8 98.7,561.5 87.5,559.9Z" fill="url(#end3)"/>
<path d="M88.4,480.5 97.3,480.5 106.2,561.2 97.3,559.6Z" fill="url(#end3)"/>
<path d="M97,491.8 110.9,491.8 118.9,557.6 105,556.3Z" fill="url(#end3)"/>
<path d="M115.8,529.6 128.7,529.6 132,554.3 119,552.1Z" fill="url(#end3)"/>
<path d="M63.5,388 66.5,388 87,498 82.5,498Z" fill="#fff" opacity="0.85"/>
<path d="M82,480 85,480 91,532 88,532Z" fill="#fff" opacity="0.85"/>
<path d="M106,430 108,430 118,500 116,500Z" fill="#fff" opacity="0.85"/>
<path d="M-40,330 -38.8,330 -46,430 -47.2,430Z" fill="#fff" opacity="0.85"/>
<path d="M-13.2,0 L13.2,0 L14.2,56 L-14,56Z" fill="#D5864F"/>
<path d="M-14,55 L14.2,55 L14.8,86 L15.2,96 L-14.8,100 L-14.5,90Z" fill="#e39660"/>
<path d="M-4,58 L-3.6,120 L-3.2,250" stroke="url(#fold3)" stroke-width="1.2" fill="none"/>
<rect x="-17.5" y="48.9" width="32.5" height="7.4" rx="1.2" fill="url(#band)"/>
<path d="M14.8,52.4 L17.5,52.4" stroke="#6b5a3a" stroke-width="1"/>
</g>
<g transform="translate(165.8,834.3) scale(0.83)">
<path d="M22.6,100 27.7,110 31.9,120 34.9,130 37.5,140 40,150 42.6,160 45.1,170 47.5,180 49.7,190 51.9,200 54,210 56.2,220 58.3,230 60.5,240 62.8,250 65.1,260 67.3,270 69.5,280 71.6,290 73.7,300 75.7,310 77.7,320 79.9,330 82.2,340 83.7,350 85,360 86.2,370 87.5,380 89,390 90.7,400 92.5,410 94.3,420 96.3,430 98.4,440 100.4,450 102.4,460 104.4,470 106.4,480 108.5,490 111.1,500 114.8,510 119.8,520 125.8,530 133.7,540 -117.5,540 -114.1,530 -110.9,520 -108,510 -105.4,500 -103,490 -100.7,480 -98.6,470 -96.7,460 -95.1,450 -93.7,440 -92.5,430 -91.3,420 -90,410 -88.5,400 -87.1,390 -85.8,380 -84.4,370 -82.9,360 -80.9,350 -78.9,340 -76.9,330 -75,320 -73.2,310 -71.3,300 -69.3,290 -67.2,280 -65.1,270 -62.7,260 -59.9,250 -57.3,240 -54.3,230 -51.1,220 -48.4,210 -45.3,200 -41.8,190 -38.7,180 -35.7,170 -33,160 -30.8,150 -28.2,140 -25.1,130 -21.9,120 -19.2,110 -17.4,100Z" fill="#f9bfae"/>
<path d="M14.2,56 14.3,59.8 14.3,65.3 14.4,71.5 14.6,77.4 14.8,82 15.1,85.1 15.4,87.2 15.8,88.9 16.3,90.4 17,92 17.9,93.6 18.9,95 20.1,96.4 21.3,98 22.6,100 24,102.6 25.5,105.5 27.1,108.7 28.5,111.9 29.8,115 30.9,118 31.8,121 32.6,124 33.3,127 34,130 34.7,132.8 35.2,135.3 35.8,137.9 36.4,141 37.2,145 38.3,150 39.6,155.9 41,162.3 42.3,168.8 43.6,175 44.8,181 45.9,187 46.9,193 48,199 49.1,205 50.2,211 51.3,217 52.4,223 53.5,229 54.6,235 55.8,241 57,247 58.3,253 59.5,259 60.8,265 62,271 63.2,277 64.4,283 65.6,289 66.8,295 68,301.2 69.3,307.6 70.5,313.9 71.7,319.8 72.7,325 73.6,328.9 74.4,331.7 75.1,334.3 75.8,337.5 76.7,342 77.6,348.3 78.6,355.7 79.6,363.9 80.8,372.1 82,380 83.2,387.4 84.6,394.8 86,402.2 87.5,409.6 89.1,417 90.7,424.6 92.5,432.2 94.3,439.8 96.1,447.4 98,455 99.8,462.8 101.6,470.7 103.5,478.5 105.3,485.8 106.9,492 108.4,497 109.6,500.9 110.9,504.3 112.3,507.5 114,511 115.7,514.4 116.3,515.4 117.2,517 118.3,519 119.9,521.6 110,524.7 97.3,528 88.1,531.7 80,535.6 70.8,538.7 59.2,540.3 46.3,541.1 33.5,541.6 21,542.2 8.5,542.6 -4,542.6 -16.5,542.3 -29,541.6 -41.5,540.6 -54.4,539 -67.2,537 -79,535 -89.6,533.4 -99.1,531.8 -107,529 -111.4,523.7 -109.1,517.2 -107.5,512.6 -107,511 -105.8,507.2 -104.7,503.4 -103.6,499.6 -102.5,495.8 -101.4,492 -100.3,488.2 -99.3,484.4 -98.3,480.5 -97.3,476.7 -96.4,473 -95.5,469.4 -94.7,465.8 -93.9,462.2 -93.1,458.6 -92.3,455 -91.6,451.3 -91,447.5 -90.3,443.6 -89.7,439.8 -89.1,436 -88.5,432.2 -87.9,428.4 -87.4,424.5 -86.8,420.7 -86.2,417 -85.6,413.4 -85,409.8 -84.4,406.2 -83.8,402.6 -83.2,399 -82.6,395.3 -82,391.5 -81.4,387.6 -80.8,383.8 -80.2,380 -79.7,376.2 -79.1,372.4 -78.5,368.6 -77.9,364.8 -77.3,361 -76.5,357.2 -75.8,353.4 -75,349.6 -74.1,345.8 -73.3,342 -72.6,338.3 -71.9,334.8 -71.2,331.2 -70.4,327.4 -69.6,323 -68.6,317.8 -67.5,311.8 -66.4,305.7 -65.4,299.9 -64.5,295 -63.8,291.2 -63.2,288.1 -62.6,285.4 -62.1,282.8 -61.5,280 -60.9,277 -60.4,274 -59.8,271 -59.2,268 -58.5,265 -57.8,262 -57.1,259 -56.3,256 -55.5,253 -54.8,250 -54.1,247 -53.4,244 -52.7,241 -51.9,238 -51.2,235 -50.3,232 -49.4,229 -48.5,226 -47.6,223 -46.8,220 -46,217 -45.3,214 -44.6,211 -43.9,208 -43.1,205 -42.2,202 -41.3,199 -40.4,196 -39.4,193 -38.5,190 -37.7,187 -36.8,184 -36,181 -35.2,178 -34.4,175 -33.6,172 -32.9,169 -32.2,166 -31.5,163 -30.9,160 -30.3,157 -29.7,154 -29.2,151 -28.7,148 -28.1,145 -27.4,142 -26.6,139 -25.9,136 -25.1,133 -24.3,130 -23.4,127 -22.6,124 -21.7,121 -20.9,118 -20.2,115 -19.5,111.9 -19,108.8 -18.5,105.6 -18,102.7 -17.4,100 -16.8,98.1 -16.1,96.8 -15.4,95.5 -14.8,93.5 -14.4,90 -14.2,84.2 -14.1,76.5 -14,68.3 -14,61 -14,56Z" fill="#F07350"/>
<path d="M-1.7,58 -1.7,76.3 -0.6,94.5 1.1,112.8 0.5,131.1 -0.6,149.3 -1.2,167.6 -2.6,185.9 -4.5,204.1 -5.9,222.4 -7.5,240.6 -8.7,258.9 -9.6,277.2 -10.4,295.4 -11.1,313.7 -11.8,332 -13.2,350.2 -14.8,368.5 -16,386.8 -17.2,405 -18.2,423.3 -18.9,441.6 -19.9,459.8 -21.4,478.1 -22.9,496.3 -23.6,514.6 -23.1,532.9 19.8,532.9 15.5,514.6 13.2,496.3 12.4,478.1 11.9,459.8 11,441.6 10.1,423.3 9.5,405 9.1,386.8 9,368.5 9.3,350.2 9.1,332 8.4,313.7 7.8,295.4 7.2,277.2 6.7,258.9 6.4,240.6 6.7,222.4 6.8,204.1 7.4,185.9 7.6,167.6 7.1,149.3 7,131.1 6.3,112.8 2.9,94.5 1.2,76.3 1.1,58Z" fill="#E95D39" stroke="#C8401A" stroke-width="0.9" stroke-opacity="0.22"/>
<path d="M-4,58 -4.1,76.3 -3.6,94.5 -3.4,112.8 -5.2,131 -7.3,149.3 -9,167.5 -11.6,185.8 -14.8,204 -17.5,222.3 -20.5,240.6 -23,258.8 -25.2,277.1 -27.1,295.3 -28.9,313.6 -30.7,331.8 -33.1,350.1 -35.5,368.4 -37.6,386.6 -39.8,404.9 -42.1,423.1 -44.4,441.4 -47.2,459.6 -50.9,477.9 -55,496.1 -58.9,514.4 -62.8,532.7 -24.7,532.7 -24.3,514.4 -22.9,496.1 -20.8,477.9 -18.9,459.6 -17.8,441.4 -17,423.1 -16.1,404.9 -15.3,386.6 -14.4,368.4 -13.1,350.1 -12.1,331.8 -11.6,313.6 -11,295.3 -10.3,277.1 -9.4,258.8 -8.1,240.6 -6.4,222.3 -4.8,204 -2.7,185.8 -1.2,167.5 -0.5,149.3 0.6,131 1.2,112.8 -0.5,94.5 -1.5,76.3 -1.5,58Z" fill="#F07350" stroke="#C8401A" stroke-width="0.9" stroke-opacity="0.22"/>
<path d="M-0,58 0.2,76.3 1.7,94.6 4.6,112.9 4.8,131.3 4.6,149.6 4.7,167.9 4,186.2 2.8,204.5 2.1,222.8 1.3,241.1 0.9,259.5 0.9,277.8 1.1,296.1 1.5,314.4 2,332.7 2.1,351 1.9,369.4 2.2,387.7 2.5,406 3,424.3 3.6,442.6 3.7,460.9 3.1,479.2 2.5,497.6 2.9,515.9 4.9,534.2 43.3,534.2 37.8,515.9 34.7,497.6 33.3,479.2 32,460.9 30.3,442.6 28.2,424.3 26.3,406 24.6,387.7 23.1,369.4 22.1,351 20.7,332.7 18.8,314.4 17.3,296.1 15.9,277.8 14.6,259.5 13.7,241.1 13.3,222.8 12.9,204.5 12.9,186.2 12.4,167.9 11.4,149.6 10.6,131.3 9.3,112.9 4.9,94.6 2.8,76.3 2.5,58Z" fill="#E95D39" stroke="#C8401A" stroke-width="0.9" stroke-opacity="0.22"/>
<path d="M1.8,58 2.1,76.2 4,94.3 8.1,112.5 9.4,130.6 10,148.8 11,166.9 11.4,185.1 11.4,203.2 11.9,221.4 12.2,239.5 13.1,257.7 14.1,275.8 15.2,294 16.3,312.1 17.4,330.3 18.2,348.4 18.2,366.6 18.7,384.7 19.6,402.9 20.7,421 22.4,439.2 24.1,457.3 25.6,475.5 27.4,493.6 30.7,511.8 36.3,529.9 69.2,529.9 60.6,511.8 55.1,493.6 51.6,475.5 48.6,457.3 45.5,439.2 42.6,421 40.2,402.9 38.2,384.7 36.6,366.6 35.5,348.4 33.6,330.3 31.3,312.1 29.2,294 27,275.8 24.9,257.7 23,239.5 21.6,221.4 20.1,203.2 19.1,185.1 17.7,166.9 15.9,148.8 14.4,130.6 12.2,112.5 6.7,94.3 4.4,76.2 4,58Z" fill="#ED6845" stroke="#C8401A" stroke-width="0.9" stroke-opacity="0.22"/>
<path d="M-0.9,58 -0.8,76.5 0.6,95.1 2.8,113.6 2.5,132.2 1.8,150.7 1.4,169.3 0.2,187.8 -1.4,206.4 -2.6,224.9 -3.8,243.4 -4.7,262 -5.1,280.5 -5.4,299.1 -5.5,317.6 -5.5,336.2 -6.3,354.7 -7,373.3 -7.4,391.8 -7.7,410.3 -7.9,428.9 -8.1,447.4 -8.9,466 -10.2,484.5 -11.5,503.1 -11.5,521.6 -10,540.2 22.4,540.2 17.7,521.6 15.3,503.1 14.8,484.5 14.6,466 14,447.4 12.9,428.9 11.9,410.3 11.1,391.8 10.4,373.3 10.1,354.7 9.9,336.2 8.8,317.6 7.9,299.1 7.2,280.5 6.6,262 6.4,243.4 6.6,224.9 6.9,206.4 7.5,187.8 7.8,169.3 7.4,150.7 7.2,132.2 6.6,113.6 3.2,95.1 1.3,76.5 1.1,58Z" fill="#E95D39" stroke="#C8401A" stroke-width="0.9" stroke-opacity="0.22"/>
<path d="M-4.2,58 -4.4,76.3 -4,94.6 -4,112.9 -6,131.3 -8.2,149.6 -9.9,167.9 -12.6,186.2 -15.8,204.5 -18.5,222.8 -21.5,241.1 -24.1,259.5 -26.4,277.8 -28.7,296.1 -30.9,314.4 -33.3,332.7 -36.4,351 -39.5,369.3 -42.2,387.7 -45,406 -47.6,424.3 -50,442.6 -52.8,460.9 -56.1,479.2 -59.6,497.5 -62.8,515.9 -65.7,534.2 -36.9,534.2 -36.6,515.9 -35.4,497.5 -33.5,479.2 -31.5,460.9 -30,442.6 -28.7,424.3 -27.1,406 -25.4,387.7 -23.6,369.3 -21.3,351 -19.3,332.7 -17.9,314.4 -16.6,296.1 -15.2,277.8 -13.9,259.5 -12.2,241.1 -10.1,222.8 -8.3,204.5 -5.9,186.2 -4.1,167.9 -3.1,149.6 -1.7,131.3 -0.5,112.9 -1.6,94.6 -2.5,76.3 -2.3,58Z" fill="#F48A6C" stroke="#C8401A" stroke-width="0.9" stroke-opacity="0.22"/>
<path d="M-2.5,58 -2.6,76.5 -1.6,94.9 -0.5,113.4 -1.6,131.8 -3,150.3 -4.1,168.8 -6.1,187.2 -8.7,205.7 -10.8,224.1 -13.1,242.6 -15,261.1 -16.4,279.5 -17.7,298 -18.8,316.5 -19.8,334.9 -21.4,353.4 -22.8,371.8 -23.8,390.3 -24.8,408.8 -25.7,427.2 -26.7,445.7 -28.4,464.1 -30.9,482.6 -33.8,501.1 -36.2,519.5 -38,538 -8.5,538 -9.5,519.5 -9.3,501.1 -8,482.6 -6.9,464.1 -6.4,445.7 -6.6,427.2 -6.8,408.8 -6.8,390.3 -6.7,371.8 -6.2,353.4 -5.6,334.9 -5.7,316.5 -5.5,298 -5.1,279.5 -4.6,261.1 -3.7,242.6 -2.3,224.1 -1.1,205.7 0.6,187.2 1.8,168.8 2.1,150.3 2.8,131.8 3,113.4 0.8,94.9 -0.6,76.5 -0.7,58Z" fill="#E95D39" stroke="#C8401A" stroke-width="0.9" stroke-opacity="0.22"/>
<path d="M-1.5,58 -1.5,76.5 -0.3,95.1 1.4,113.6 0.8,132.1 -0.1,150.7 -0.8,169.2 -2.2,187.7 -4.1,206.3 -5.5,224.8 -7,243.4 -8.2,261.9 -8.9,280.4 -9.6,299 -10.3,317.5 -10.9,336 -12.4,354.6 -13.7,373.1 -14.7,391.6 -15.7,410.2 -16.5,428.7 -17.1,447.2 -18.2,465.8 -19.8,484.3 -21.1,502.8 -21.3,521.4 -20.1,539.9 9.7,539.9 5.6,521.4 3.5,502.8 3.3,484.3 3.4,465.8 3.2,447.2 2.7,428.7 2.4,410.2 2.3,391.6 2.4,373.1 2.9,354.6 3.3,336 2.9,317.5 2.6,299 2.4,280.4 2.2,261.9 2.4,243.4 3,224.8 3.5,206.3 4.5,187.7 5.1,169.2 5,150.7 5.2,132.1 5,113.6 2.1,95.1 0.4,76.5 0.3,58Z" fill="#E95D39" stroke="#C8401A" stroke-width="0.9" stroke-opacity="0.22"/>
<path d="M-0.1,58 0,76.5 1.6,94.9 4.3,113.4 4.4,131.9 4.1,150.4 4.2,168.8 3.6,187.3 2.5,205.8 1.9,224.3 1.2,242.7 0.9,261.2 0.8,279.7 0.7,298.2 0.7,316.6 0.8,335.1 -0,353.6 -0.8,372 -1.1,390.5 -1.3,409 -1,427.5 -0.5,445.9 -0.2,464.4 -0.1,482.9 0.2,501.4 2.2,519.8 6,538.3 35.5,538.3 28.9,519.8 24.7,501.4 22.8,482.9 21.3,464.4 19.7,445.9 18,427.5 16.7,409 15.8,390.5 15.2,372 15.1,353.6 14.9,335.1 13.9,316.6 13,298.2 12.1,279.7 11.2,261.2 10.6,242.7 10.4,224.3 10.1,205.8 10.3,187.3 10.1,168.8 9.3,150.4 8.8,131.9 7.8,113.4 4,94.9 2,76.5 1.7,58Z" fill="#ED6845" stroke="#C8401A" stroke-width="0.9" stroke-opacity="0.22"/>
<path d="M0.7,58 1,76.5 2.8,95 6.1,113.5 6.7,131.9 6.7,150.4 7.1,168.9 6.7,187.4 5.9,205.9 5.5,224.4 5.1,242.9 5.1,261.4 5.6,279.8 6.2,298.3 7,316.8 8.1,335.3 8.4,353.8 8.8,372.3 9.5,390.8 10.4,409.3 11.4,427.7 12.5,446.2 12.9,464.7 12.8,483.2 12.8,501.7 14.4,520.2 17.9,538.7 47.5,538.7 41.1,520.2 37.3,501.7 35.7,483.2 34.4,464.7 32.7,446.2 30.5,427.7 28.4,409.3 26.5,390.8 24.8,372.3 23.6,353.8 22.3,335.3 20.1,316.8 18.4,298.3 16.9,279.8 15.5,261.4 14.5,242.9 14,224.4 13.5,205.9 13.4,187.4 13,168.9 11.9,150.4 11,131.9 9.6,113.5 5.2,95 2.9,76.5 2.6,58Z" fill="#ED6845" stroke="#C8401A" stroke-width="0.9" stroke-opacity="0.22"/>
<path d="M-5.6,58 -5.9,76 -5.8,94 -6.8,112.1 -9.4,130.1 -12.2,148.1 -14.6,166.1 -17.9,184.2 -22,202.2 -25.5,220.2 -29.4,238.2 -32.8,256.3 -35.9,274.3 -38.7,292.3 -41.3,310.3 -44.1,328.4 -47.4,346.4 -51,364.4 -54,382.4 -57.3,400.4 -60.8,418.5 -64.2,436.5 -68,454.5 -72.8,472.5 -78.1,490.6 -83.7,508.6 -89.7,526.6 -62,526.6 -58.4,508.6 -54.6,490.6 -50.7,472.5 -47.2,454.5 -44.6,436.5 -42.3,418.5 -39.8,400.4 -37.5,382.4 -35.3,364.4 -32.6,346.4 -30.4,328.4 -28.5,310.3 -26.7,292.3 -24.8,274.3 -22.7,256.3 -20.2,238.2 -17.2,220.2 -14.6,202.2 -11.4,184.2 -8.8,166.1 -7.2,148.1 -5.1,130.1 -3.3,112.1 -3.5,94 -4,76 -3.8,58Z" fill="#F07350" stroke="#C8401A" stroke-width="0.9" stroke-opacity="0.22"/>
<path d="M-6,58 -6.3,76.1 -6.3,94.1 -7.5,112.2 -10.3,130.2 -13.4,148.3 -15.8,166.3 -19.3,184.4 -23.6,202.4 -27.2,220.5 -31.3,238.5 -34.8,256.6 -38,274.6 -41,292.7 -43.8,310.8 -46.9,328.8 -50.4,346.9 -54.4,364.9 -57.8,383 -61.5,401 -65.4,419.1 -69.2,437.1 -73.4,455.2 -78.4,473.2 -84,491.3 -89.7,509.3 -95.9,527.4 -70.5,527.4 -66.5,509.3 -62.3,491.3 -58.1,473.2 -54.2,455.2 -51.1,437.1 -48.3,419.1 -45.4,401 -42.6,383 -40,364.9 -36.9,346.9 -34.2,328.8 -32,310.8 -30,292.7 -27.9,274.6 -25.5,256.6 -22.8,238.5 -19.6,220.5 -16.8,202.4 -13.3,184.4 -10.6,166.3 -8.7,148.3 -6.4,130.2 -4.4,112.2 -4.2,94.1 -4.5,76.1 -4.3,58Z" fill="#ED6845" stroke="#C8401A" stroke-width="0.9" stroke-opacity="0.22"/>
<path d="M-3.1,58 -3.3,76.5 -2.5,95 -1.9,113.5 -3.4,132 -5.1,150.5 -6.5,169 -8.8,187.5 -11.7,206 -14,224.5 -16.4,243 -18.5,261.5 -20,280 -21.5,298.5 -22.9,317 -24.3,335.5 -26.5,354 -28.5,372.6 -30.3,391.1 -32.3,409.6 -34.2,428.1 -36.2,446.6 -38.9,465.1 -42.2,483.6 -45.6,502.1 -48.4,520.6 -50.6,539.1 -23.3,539.1 -23.9,520.6 -23.1,502.1 -21.1,483.6 -19.1,465.1 -17.7,446.6 -16.7,428.1 -15.8,409.6 -14.8,391.1 -13.8,372.6 -12.5,354 -11.3,335.5 -10.8,317 -10.3,298.5 -9.7,280 -9,261.5 -7.8,243 -6.2,224.5 -4.7,206 -2.7,187.5 -1.1,169 -0.4,150.5 0.7,132 1.4,113.5 -0.3,95 -1.5,76.5 -1.4,58Z" fill="#ED6845" stroke="#C8401A" stroke-width="0.9" stroke-opacity="0.22"/>
<path d="M1.7,58 1.9,76.3 3.9,94.6 7.8,112.9 8.8,131.3 9.3,149.6 10.1,167.9 10.4,186.2 10.2,204.5 10.5,222.8 10.9,241.1 11.7,259.4 12.7,277.8 13.9,296.1 15.1,314.4 16.4,332.7 17,351 17.1,369.3 17.6,387.6 18.3,405.9 19.2,424.3 20.4,442.6 21.5,460.9 22.3,479.2 23.6,497.5 26.7,515.8 32.3,534.1 58.8,534.1 50.7,515.8 45.7,497.5 43.1,479.2 41,460.9 38.8,442.6 36.5,424.3 34.7,405.9 33,387.6 31.7,369.3 30.8,351 29.3,332.7 27,314.4 25,296.1 23,277.8 21.1,259.4 19.4,241.1 18.2,222.8 17.1,204.5 16.4,186.2 15.5,167.9 14,149.6 12.8,131.3 11,112.9 6,94.6 3.7,76.3 3.4,58Z" fill="#E95D39" stroke="#C8401A" stroke-width="0.9" stroke-opacity="0.22"/>
<path d="M-6.7,58 -7.1,76.1 -7.3,94.1 -9,112.2 -12.2,130.2 -15.6,148.3 -18.4,166.4 -22.4,184.4 -27.1,202.5 -31.3,220.6 -36,238.6 -40,256.7 -43.8,274.7 -47.2,292.8 -50.5,310.9 -53.8,328.9 -57.6,347 -61.6,365 -65,383.1 -68.7,401.2 -72.7,419.2 -76.6,437.3 -81.2,455.3 -87,473.4 -93.4,491.5 -100.5,509.5 -108.6,527.6 -85.4,527.6 -79.4,509.5 -73.8,491.5 -68.5,473.4 -63.8,455.3 -60.2,437.3 -57.2,419.2 -54,401.2 -51.2,383.1 -48.5,365 -45.3,347 -42.3,328.9 -39.8,310.9 -37.3,292.8 -34.6,274.7 -31.6,256.7 -28.3,238.6 -24.4,220.6 -20.9,202.5 -16.9,184.4 -13.6,166.4 -11.4,148.3 -8.6,130.2 -6.1,112.2 -5.4,94.1 -5.5,76.1 -5.2,58Z" fill="#F48A6C" stroke="#C8401A" stroke-width="0.9" stroke-opacity="0.22"/>
<path d="M-4.9,58 -5.1,76.3 -4.9,94.6 -5.4,112.9 -7.7,131.2 -10.2,149.5 -12.3,167.8 -15.5,186 -19.3,204.3 -22.6,222.6 -26.3,240.9 -29.4,259.2 -32.2,277.5 -34.8,295.8 -37.1,314.1 -39.5,332.4 -42.3,350.7 -45.2,369 -47.5,387.3 -50.1,405.5 -52.8,423.8 -55.5,442.1 -58.9,460.4 -63.4,478.7 -68.4,497 -73.7,515.3 -79.3,533.6 -55.4,533.6 -52,515.3 -48.3,497 -44.5,478.7 -41.2,460.4 -38.8,442.1 -37.1,423.8 -35.3,405.5 -33.5,387.3 -31.9,369 -29.8,350.7 -27.8,332.4 -26.2,314.1 -24.7,295.8 -22.9,277.5 -20.9,259.2 -18.5,240.9 -15.6,222.6 -13,204.3 -9.9,186 -7.5,167.8 -5.9,149.5 -4,131.2 -2.4,112.9 -2.9,94.6 -3.5,76.3 -3.3,58Z" fill="#F07350" stroke="#C8401A" stroke-width="0.9" stroke-opacity="0.22"/>
<path d="M2.6,58 2.9,76.3 5.1,94.7 9.7,113 11.2,131.3 12.1,149.7 13.3,168 13.9,186.4 14.2,204.7 14.9,223 15.6,241.4 16.8,259.7 18.4,278 20.1,296.4 21.9,314.7 24,333 25.4,351.4 26.4,369.7 27.7,388 29.3,406.4 30.9,424.7 32.8,443.1 34.5,461.4 35.8,479.7 37.4,498.1 41.1,516.4 47.4,534.7 71.5,534.7 63,516.4 57.6,498.1 54.7,479.7 52.2,461.4 49.5,443.1 46.7,424.7 44.1,406.4 41.7,388 39.7,369.7 38,351.4 35.7,333 32.8,314.7 30.2,296.4 27.7,278 25.4,259.7 23.4,241.4 21.9,223 20.4,204.7 19.5,186.4 18.2,168 16.3,149.7 14.9,131.3 12.6,113 7.1,94.7 4.6,76.3 4.1,58Z" fill="#F07350" stroke="#C8401A" stroke-width="0.9" stroke-opacity="0.22"/>
<path d="M3.4,58 3.9,75.9 6,93.9 11.2,111.8 13.3,129.8 14.5,147.7 16.1,165.6 17.1,183.6 17.7,201.5 18.7,219.4 19.7,237.4 21.3,255.3 23.1,273.3 25.2,291.2 27.5,309.1 30,327.1 32.6,345 34.2,363 36.1,380.9 38.2,398.8 40.5,416.8 42.9,434.7 45.3,452.7 47.1,470.6 48.9,488.5 51.5,506.5 56.8,524.4 79.6,524.4 72.4,506.5 68.3,488.5 65.4,470.6 62.5,452.7 59.2,434.7 55.9,416.8 52.8,398.8 49.8,380.9 47.2,363 44.9,345 41.4,327.1 38.2,309.1 35.1,291.2 32.3,273.3 29.7,255.3 27.3,237.4 25.5,219.4 23.9,201.5 22.5,183.6 20.8,165.6 18.7,147.7 16.9,129.8 14.1,111.8 7.9,93.9 5.5,75.9 5,58Z" fill="#F48A6C" stroke="#C8401A" stroke-width="0.9" stroke-opacity="0.22"/>
<path d="M4.7,58 5.2,75.5 7.3,93.1 13.4,110.6 16.3,128.1 18,145.7 20.1,163.2 21.9,180.7 23.2,198.2 24.7,215.8 26.3,233.3 28.4,250.8 30.8,268.4 33.4,285.9 36.2,303.4 39.1,321 42.5,338.5 44.8,356 47.1,373.5 49.8,391.1 52.7,408.6 55.9,426.1 59.3,443.7 62.4,461.2 65.3,478.7 68.4,496.3 73.7,513.8 95.3,513.8 88.5,496.3 84.1,478.7 80.1,461.2 76,443.7 71.7,426.1 67.7,408.6 63.9,391.1 60.5,373.5 57.6,356 54.5,338.5 50.2,321 46.6,303.4 43.1,285.9 39.7,268.4 36.6,250.8 33.7,233.3 31.4,215.8 29.2,198.2 27.2,180.7 24.8,163.2 22.2,145.7 19.8,128.1 16.2,110.6 9.2,93.1 6.8,75.5 6.3,58Z" fill="#F07350" stroke="#C8401A" stroke-width="0.9" stroke-opacity="0.22"/>
<path d="M-2.1,58 -2.1,76.2 -1.1,94.4 0.3,112.6 -0.5,130.8 -1.8,149 -2.6,167.2 -4.3,185.4 -6.6,203.6 -8.3,221.8 -10.4,239.9 -11.8,258.1 -13,276.3 -13.9,294.5 -14.7,312.7 -15.4,330.9 -16.6,349.1 -18.1,367.3 -19.1,385.5 -20.2,403.7 -21.4,421.9 -22.4,440.1 -23.8,458.3 -26,476.5 -28.5,494.7 -30.5,512.9 -31.7,531.1 -8.1,531.1 -9,512.9 -8.6,494.7 -7.3,476.5 -6.2,458.3 -5.8,440.1 -5.7,421.9 -5.5,403.7 -5.2,385.5 -4.9,367.3 -4.1,349.1 -3.8,330.9 -3.9,312.7 -3.9,294.5 -3.7,276.3 -3.3,258.1 -2.6,239.9 -1.4,221.8 -0.3,203.6 1.2,185.4 2.2,167.2 2.4,149 3.1,130.8 3.2,112.6 0.8,94.4 -0.5,76.2 -0.5,58Z" fill="#ED6845" stroke="#C8401A" stroke-width="0.9" stroke-opacity="0.22"/>
<path d="M4.5,58 5,75.8 7.2,93.7 13.1,111.5 15.8,129.3 17.5,147.2 19.6,165 21.3,182.8 22.7,200.7 24.4,218.5 26.2,236.3 28.4,254.2 30.9,272 33.4,289.8 36,307.7 38.5,325.5 41.3,343.3 42.8,361.2 44.5,379 46.6,396.8 49.1,414.7 52.1,432.5 55.4,450.3 58.6,468.2 62.1,486 66.7,503.8 74.4,521.7 94.6,521.7 85.2,503.8 79.5,486 75,468.2 70.8,450.3 66.6,432.5 62.9,414.7 59.6,396.8 56.7,379 54.4,361.2 52.2,343.3 48.7,325.5 45.5,307.7 42.3,289.8 39,272 35.9,254.2 33,236.3 30.5,218.5 28.2,200.7 26.2,182.8 23.9,165 21.3,147.2 19,129.3 15.7,111.5 8.9,93.7 6.4,75.8 5.9,58Z" fill="#F07350" stroke="#C8401A" stroke-width="0.9" stroke-opacity="0.22"/>
<path d="M-7.1,58 -7.6,75.6 -7.8,93.1 -9.7,110.7 -12.7,128.3 -16.3,145.8 -19.1,163.4 -23,180.9 -27.8,198.5 -32.2,216.1 -37,233.6 -41.4,251.2 -45.7,268.8 -49.4,286.3 -53,303.9 -56.5,321.4 -60.2,339 -64.4,356.6 -67.9,374.1 -71.3,391.7 -75,409.3 -78.7,426.8 -82.6,444.4 -87.4,461.9 -93.3,479.5 -100,497.1 -107.6,514.6 -90.2,514.6 -84,497.1 -78.2,479.5 -73.2,461.9 -69.2,444.4 -66,426.8 -62.9,409.3 -59.9,391.7 -57.1,374.1 -54.2,356.6 -50.6,339 -47.6,321.4 -44.7,303.9 -41.7,286.3 -38.5,268.8 -34.8,251.2 -31.1,233.6 -26.8,216.1 -22.9,198.5 -18.7,180.9 -15.4,163.4 -13,145.8 -9.9,128.3 -7.4,110.7 -6.3,93.1 -6.3,75.6 -5.9,58Z" fill="#F48A6C" stroke="#C8401A" stroke-width="0.9" stroke-opacity="0.22"/>
<path d="M5.4,58 6,75.7 8.4,93.5 14.9,111.2 18.1,128.9 20.1,146.7 22.6,164.4 24.7,182.1 26.4,199.9 28.5,217.6 30.7,235.3 33.4,253.1 36.3,270.8 39.4,288.5 42.5,306.3 45.7,324 49.3,341.7 51.6,359.4 53.9,377.2 56.7,394.9 59.8,412.6 63.2,430.4 67,448.1 70.6,465.8 74.4,483.6 79,501.3 86.8,519 104.5,519 95.3,501.3 89.7,483.6 85,465.8 80.6,448.1 76.1,430.4 71.9,412.6 68.1,394.9 64.7,377.2 61.9,359.4 59,341.7 54.8,324 51,306.3 47.2,288.5 43.6,270.8 40,253.1 36.7,235.3 34,217.6 31.3,199.9 29,182.1 26.4,164.4 23.5,146.7 20.9,128.9 17.2,111.2 9.9,93.5 7.3,75.7 6.7,58Z" fill="#F48A6C" stroke="#C8401A" stroke-width="0.9" stroke-opacity="0.22"/>
<path d="M6.2,58 6.8,75.4 9.1,92.8 16.1,110.2 19.9,127.5 22.3,144.9 25,162.3 27.4,179.7 29.5,197.1 31.8,214.5 34.1,231.8 36.9,249.2 40,266.6 43.2,284 46.6,301.4 50.2,318.8 54.3,336.1 57.5,353.5 60.3,370.9 63.7,388.3 67.6,405.7 71.7,423.1 76.2,440.4 80.6,457.8 84.9,475.2 89.4,492.6 95.7,510 110.5,510 103.2,492.6 97.9,475.2 92.9,457.8 87.8,440.4 82.7,423.1 77.9,405.7 73.6,388.3 69.7,370.9 66.3,353.5 62.6,336.1 57.9,318.8 53.9,301.4 50,284 46.2,266.6 42.6,249.2 39.3,231.8 36.4,214.5 33.7,197.1 31.1,179.7 28.3,162.3 25.1,144.9 22.3,127.5 18.1,110.2 10.4,92.8 7.9,75.4 7.3,58Z" fill="#F48A6C" stroke="#C8401A" stroke-width="0.9" stroke-opacity="0.22"/>
<rect x="-170" y="56" width="340" height="210" fill="url(#top4)" clip-path="url(#tc1)"/>
<path d="M-54.1,395 -52.1,440 -50.7,480 -52.6,440Z" fill="#F48A6C" opacity="0.8"/>
<path d="M-17.5,290 -20.9,380 -24.6,470 -22.4,380Z" fill="#F48A6C" opacity="0.8"/>
<path d="M32.4,250 37.9,340 45.1,425 40.4,340Z" fill="#F48A6C" opacity="0.8"/>
<path d="M52,280 53.2,293.6 55.5,312.6 58.5,334.8 61.8,358.4 65.3,381.2 68.8,401.1 72.1,418.4 75.5,435.1 79.7,450.8 84.2,465.6 89.2,479.7 94.9,492.9 101.9,505.5 110.1,517.3 118.7,528 126.8,537.4 133.5,545 138.4,550.8 147.6,543.2 142.8,537.3 135.8,529.5 127.8,520.2 119.5,509.8 111.7,498.6 105.4,487.1 100.3,474.8 95.5,461.5 91.2,447.1 87,431.8 82.5,415.8 78,398.9 73.3,379.5 68.5,357.1 63.8,333.9 59.4,311.9 55.4,293.2 52,280Z" fill="#f5997f" opacity="0.9"/>
<path d="M78.1,494 79.6,496.7 82.2,499.9 85.4,503.5 88.7,507.3 92,511.2 94.9,514.6 97.9,518.1 101,522.2 103.9,526.4 106.7,530.4 109,533.8 110.7,536.3 117.3,531.7 115.6,529.3 113.3,525.9 110.6,521.9 107.5,517.5 104.3,513.3 101.1,509.4 97.4,505.9 93,502.7 88.7,499.7 84.5,497.1 81,495.1 78.1,494Z" fill="#f5997f" opacity="0.9"/>
<path d="M-60.1,330 -64.1,343.4 -69,362.6 -74.7,385.1 -80.6,408.6 -86.4,430.7 -91.5,448.9 -96,463.8 -100.3,477.1 -104,489.2 -107.5,500 -110.5,509.7 -113.2,518.3 -115.6,525.5 -117.8,531.4 -119.8,536.2 -121.5,540 -123,543.3 -124.1,545.8 -113.9,550.2 -112.8,547.6 -111.5,544.6 -109.7,540.6 -107.7,535.6 -105.3,529.3 -102.8,521.7 -100,513 -97,503.3 -93.6,492.3 -89.9,480.1 -86.6,466.3 -83.1,451.1 -79.1,432.3 -74.5,409.9 -69.8,386.1 -65.5,363.3 -62,343.8 -60.1,330Z" fill="#f5997f" opacity="0.9"/>
<path d="M-95,500 -97.7,504.2 -100.8,510.4 -104.2,517.8 -107.6,525.5 -110.7,532.7 -112.8,538.7 -114.1,543.7 -115.1,548 -115.8,551.7 -116.2,554.8 -116.6,557.2 -116.9,559.2 -107.1,560.8 -106.7,558.9 -106.4,556.3 -105.9,553.3 -105.2,549.8 -104.4,545.8 -103.2,541.3 -101.7,535.4 -100.1,527.9 -98.3,519.7 -96.6,511.8 -95.3,505 -95,500Z" fill="#f5997f" opacity="0.9"/>
<path d="M-113.5,519.5 -101.7,519.5 -106.3,555.3 -118,557.4Z" fill="url(#end4)"/>
<path d="M-98.4,493.3 -84.9,493.3 -92.1,558.9 -105.7,561Z" fill="url(#end4)"/>
<path d="M-85.6,496.7 -72.2,496.7 -78.4,564 -91.8,562.8Z" fill="url(#end4)"/>
<path d="M-73.7,504.6 -62.2,504.6 -67,565.6 -78.4,564.5Z" fill="url(#end4)"/>
<path d="M-61,493 -48.4,493 -53.3,568.8 -65.9,567.1Z" fill="url(#end4)"/>
<path d="M-48.9,491.8 -40.2,491.8 -44.3,569.2 -53.1,567.8Z" fill="url(#end4)"/>
<path d="M-42.6,513.2 -28.7,513.2 -31.2,574.3 -45.1,576.6Z" fill="url(#end4)"/>
<path d="M-29.1,493.3 -17,493.3 -19.2,571.3 -31.3,572.3Z" fill="url(#end4)"/>
<path d="M-17.1,509.1 -3.8,509.1 -4.5,574 -17.9,572.4Z" fill="url(#end4)"/>
<path d="M-5.9,503.4 2.5,503.4 2.4,574.7 -6,572.3Z" fill="url(#end4)"/>
<path d="M2.1,497.8 12.1,497.8 12.7,573.3 2.7,573.3Z" fill="url(#end4)"/>
<path d="M11,519.2 21.9,519.2 22.9,574.5 12,576.7Z" fill="url(#end4)"/>
<path d="M19.7,520.8 32.2,520.8 33.9,575.6 21.4,576.9Z" fill="url(#end4)"/>
<path d="M30.9,514.1 42.3,514.1 44.7,571 33.2,569.5Z" fill="url(#end4)"/>
<path d="M41.8,495.9 51,495.9 55.1,573.1 45.9,575.2Z" fill="url(#end4)"/>
<path d="M49.9,497.6 60,497.6 64.7,572.9 54.6,571Z" fill="url(#end4)"/>
<path d="M61,517 73.8,517 78,571.9 65.3,574Z" fill="url(#end4)"/>
<path d="M69.7,489.4 79.8,489.4 86.5,567.8 76.4,567Z" fill="url(#end4)"/>
<path d="M81.1,497.8 92.4,497.8 98.7,561.5 87.5,559.9Z" fill="url(#end4)"/>
<path d="M88.7,480.5 97.6,480.5 106.2,561.2 97.3,559.6Z" fill="url(#end4)"/>
<path d="M97.1,491.8 111,491.8 118.9,557.6 105,556.3Z" fill="url(#end4)"/>
<path d="M115.8,529.6 128.7,529.6 132,554.3 119,552.1Z" fill="url(#end4)"/>
<path d="M65,388 68,388 87,498 82.5,498Z" fill="#fff" opacity="0.85"/>
<path d="M82.3,480 85.3,480 91,532 88,532Z" fill="#fff" opacity="0.85"/>
<path d="M107,430 109,430 118,500 116,500Z" fill="#fff" opacity="0.85"/>
<path d="M-38.1,330 -36.9,330 -45,430 -46.2,430Z" fill="#fff" opacity="0.85"/>
<path d="M-13.2,0 L13.2,0 L14.2,56 L-14,56Z" fill="#E5694A"/>
<path d="M-14,55 L14.2,55 L14.8,86 L15.2,96 L-14.8,100 L-14.5,90Z" fill="#eb6e4d"/>
<path d="M-4,58 L-3.6,120 L-3.2,250" stroke="url(#fold4)" stroke-width="1.2" fill="none"/>
<rect x="-17.5" y="48.9" width="32.5" height="7.4" rx="1.2" fill="url(#band)"/>
<path d="M14.8,52.4 L17.5,52.4" stroke="#6b5a3a" stroke-width="1"/>
</g>
<g transform="translate(428.8,869.4) scale(0.83)">
<path d="M22.6,100 27.7,110 31.9,120 34.9,130 37.5,140 40,150 42.6,160 45.1,170 47.5,180 49.7,190 51.9,200 54,210 56.2,220 58.3,230 60.5,240 62.8,250 65.1,260 67.3,270 69.5,280 71.6,290 73.7,300 75.7,310 77.7,320 79.9,330 82.2,340 83.7,350 85,360 86.2,370 87.5,380 89,390 90.7,400 92.5,410 94.3,420 96.3,430 98.4,440 100.4,450 102.4,460 104.4,470 106.4,480 108.5,490 111.1,500 114.8,510 119.8,520 125.8,530 133.7,540 -117.5,540 -114.1,530 -110.9,520 -108,510 -105.4,500 -103,490 -100.7,480 -98.6,470 -96.7,460 -95.1,450 -93.7,440 -92.5,430 -91.3,420 -90,410 -88.5,400 -87.1,390 -85.8,380 -84.4,370 -82.9,360 -80.9,350 -78.9,340 -76.9,330 -75,320 -73.2,310 -71.3,300 -69.3,290 -67.2,280 -65.1,270 -62.7,260 -59.9,250 -57.3,240 -54.3,230 -51.1,220 -48.4,210 -45.3,200 -41.8,190 -38.7,180 -35.7,170 -33,160 -30.8,150 -28.2,140 -25.1,130 -21.9,120 -19.2,110 -17.4,100Z" fill="#ddf2fb"/>
<path d="M14.2,56 14.3,59.8 14.3,65.3 14.4,71.5 14.6,77.4 14.8,82 15.1,85.1 15.4,87.2 15.8,88.9 16.3,90.4 17,92 17.9,93.6 18.9,95 20.1,96.4 21.3,98 22.6,100 24,102.6 25.5,105.5 27.1,108.7 28.5,111.9 29.8,115 30.9,118 31.8,121 32.6,124 33.3,127 34,130 34.7,132.8 35.2,135.3 35.8,137.9 36.4,141 37.2,145 38.3,150 39.6,155.9 41,162.3 42.3,168.8 43.6,175 44.8,181 45.9,187 46.9,193 48,199 49.1,205 50.2,211 51.3,217 52.4,223 53.5,229 54.6,235 55.8,241 57,247 58.3,253 59.5,259 60.8,265 62,271 63.2,277 64.4,283 65.6,289 66.8,295 68,301.2 69.3,307.6 70.5,313.9 71.7,319.8 72.7,325 73.6,328.9 74.4,331.7 75.1,334.3 75.8,337.5 76.7,342 77.6,348.3 78.6,355.7 79.6,363.9 80.8,372.1 82,380 83.2,387.4 84.6,394.8 86,402.2 87.5,409.6 89.1,417 90.7,424.6 92.5,432.2 94.3,439.8 96.1,447.4 98,455 99.8,462.8 101.6,470.7 103.5,478.5 105.3,485.8 106.9,492 108.4,497 109.6,500.9 110.9,504.3 112.3,507.5 114,511 115.7,514.4 116.3,515.4 117.2,517 118.3,519 119.9,521.6 110,524.7 97.3,528 88.1,531.7 80,535.6 70.8,538.7 59.2,540.3 46.3,541.1 33.5,541.6 21,542.2 8.5,542.6 -4,542.6 -16.5,542.3 -29,541.6 -41.5,540.6 -54.4,539 -67.2,537 -79,535 -89.6,533.4 -99.1,531.8 -107,529 -111.4,523.7 -109.1,517.2 -107.5,512.6 -107,511 -105.8,507.2 -104.7,503.4 -103.6,499.6 -102.5,495.8 -101.4,492 -100.3,488.2 -99.3,484.4 -98.3,480.5 -97.3,476.7 -96.4,473 -95.5,469.4 -94.7,465.8 -93.9,462.2 -93.1,458.6 -92.3,455 -91.6,451.3 -91,447.5 -90.3,443.6 -89.7,439.8 -89.1,436 -88.5,432.2 -87.9,428.4 -87.4,424.5 -86.8,420.7 -86.2,417 -85.6,413.4 -85,409.8 -84.4,406.2 -83.8,402.6 -83.2,399 -82.6,395.3 -82,391.5 -81.4,387.6 -80.8,383.8 -80.2,380 -79.7,376.2 -79.1,372.4 -78.5,368.6 -77.9,364.8 -77.3,361 -76.5,357.2 -75.8,353.4 -75,349.6 -74.1,345.8 -73.3,342 -72.6,338.3 -71.9,334.8 -71.2,331.2 -70.4,327.4 -69.6,323 -68.6,317.8 -67.5,311.8 -66.4,305.7 -65.4,299.9 -64.5,295 -63.8,291.2 -63.2,288.1 -62.6,285.4 -62.1,282.8 -61.5,280 -60.9,277 -60.4,274 -59.8,271 -59.2,268 -58.5,265 -57.8,262 -57.1,259 -56.3,256 -55.5,253 -54.8,250 -54.1,247 -53.4,244 -52.7,241 -51.9,238 -51.2,235 -50.3,232 -49.4,229 -48.5,226 -47.6,223 -46.8,220 -46,217 -45.3,214 -44.6,211 -43.9,208 -43.1,205 -42.2,202 -41.3,199 -40.4,196 -39.4,193 -38.5,190 -37.7,187 -36.8,184 -36,181 -35.2,178 -34.4,175 -33.6,172 -32.9,169 -32.2,166 -31.5,163 -30.9,160 -30.3,157 -29.7,154 -29.2,151 -28.7,148 -28.1,145 -27.4,142 -26.6,139 -25.9,136 -25.1,133 -24.3,130 -23.4,127 -22.6,124 -21.7,121 -20.9,118 -20.2,115 -19.5,111.9 -19,108.8 -18.5,105.6 -18,102.7 -17.4,100 -16.8,98.1 -16.1,96.8 -15.4,95.5 -14.8,93.5 -14.4,90 -14.2,84.2 -14.1,76.5 -14,68.3 -14,61 -14,56Z" fill="#AADCF1"/>
<path d="M-1.7,58 -1.7,76.3 -0.6,94.5 1.1,112.8 0.5,131.1 -0.6,149.3 -1.2,167.6 -2.6,185.9 -4.5,204.1 -5.9,222.4 -7.5,240.6 -8.7,258.9 -9.6,277.2 -10.4,295.4 -11.1,313.7 -11.8,332 -13.2,350.2 -14.8,368.5 -16,386.8 -17.2,405 -18.2,423.3 -18.9,441.6 -19.9,459.8 -21.4,478.1 -22.9,496.3 -23.6,514.6 -23.1,532.9 19.8,532.9 15.5,514.6 13.2,496.3 12.4,478.1 11.9,459.8 11,441.6 10.1,423.3 9.5,405 9.1,386.8 9,368.5 9.3,350.2 9.1,332 8.4,313.7 7.8,295.4 7.2,277.2 6.7,258.9 6.4,240.6 6.7,222.4 6.8,204.1 7.4,185.9 7.6,167.6 7.1,149.3 7,131.1 6.3,112.8 2.9,94.5 1.2,76.3 1.1,58Z" fill="#8ECAE6" stroke="#78B5D2" stroke-width="0.9" stroke-opacity="0.22"/>
<path d="M-4,58 -4.1,76.3 -3.6,94.5 -3.4,112.8 -5.2,131 -7.3,149.3 -9,167.5 -11.6,185.8 -14.8,204 -17.5,222.3 -20.5,240.6 -23,258.8 -25.2,277.1 -27.1,295.3 -28.9,313.6 -30.7,331.8 -33.1,350.1 -35.5,368.4 -37.6,386.6 -39.8,404.9 -42.1,423.1 -44.4,441.4 -47.2,459.6 -50.9,477.9 -55,496.1 -58.9,514.4 -62.8,532.7 -24.7,532.7 -24.3,514.4 -22.9,496.1 -20.8,477.9 -18.9,459.6 -17.8,441.4 -17,423.1 -16.1,404.9 -15.3,386.6 -14.4,368.4 -13.1,350.1 -12.1,331.8 -11.6,313.6 -11,295.3 -10.3,277.1 -9.4,258.8 -8.1,240.6 -6.4,222.3 -4.8,204 -2.7,185.8 -1.2,167.5 -0.5,149.3 0.6,131 1.2,112.8 -0.5,94.5 -1.5,76.3 -1.5,58Z" fill="#AADCF1" stroke="#78B5D2" stroke-width="0.9" stroke-opacity="0.22"/>
<path d="M-0,58 0.2,76.3 1.7,94.6 4.6,112.9 4.8,131.3 4.6,149.6 4.7,167.9 4,186.2 2.8,204.5 2.1,222.8 1.3,241.1 0.9,259.5 0.9,277.8 1.1,296.1 1.5,314.4 2,332.7 2.1,351 1.9,369.4 2.2,387.7 2.5,406 3,424.3 3.6,442.6 3.7,460.9 3.1,479.2 2.5,497.6 2.9,515.9 4.9,534.2 43.3,534.2 37.8,515.9 34.7,497.6 33.3,479.2 32,460.9 30.3,442.6 28.2,424.3 26.3,406 24.6,387.7 23.1,369.4 22.1,351 20.7,332.7 18.8,314.4 17.3,296.1 15.9,277.8 14.6,259.5 13.7,241.1 13.3,222.8 12.9,204.5 12.9,186.2 12.4,167.9 11.4,149.6 10.6,131.3 9.3,112.9 4.9,94.6 2.8,76.3 2.5,58Z" fill="#8ECAE6" stroke="#78B5D2" stroke-width="0.9" stroke-opacity="0.22"/>
<path d="M1.8,58 2.1,76.2 4,94.3 8.1,112.5 9.4,130.6 10,148.8 11,166.9 11.4,185.1 11.4,203.2 11.9,221.4 12.2,239.5 13.1,257.7 14.1,275.8 15.2,294 16.3,312.1 17.4,330.3 18.2,348.4 18.2,366.6 18.7,384.7 19.6,402.9 20.7,421 22.4,439.2 24.1,457.3 25.6,475.5 27.4,493.6 30.7,511.8 36.3,529.9 69.2,529.9 60.6,511.8 55.1,493.6 51.6,475.5 48.6,457.3 45.5,439.2 42.6,421 40.2,402.9 38.2,384.7 36.6,366.6 35.5,348.4 33.6,330.3 31.3,312.1 29.2,294 27,275.8 24.9,257.7 23,239.5 21.6,221.4 20.1,203.2 19.1,185.1 17.7,166.9 15.9,148.8 14.4,130.6 12.2,112.5 6.7,94.3 4.4,76.2 4,58Z" fill="#9DD3EC" stroke="#78B5D2" stroke-width="0.9" stroke-opacity="0.22"/>
<path d="M-0.9,58 -0.8,76.5 0.6,95.1 2.8,113.6 2.5,132.2 1.8,150.7 1.4,169.3 0.2,187.8 -1.4,206.4 -2.6,224.9 -3.8,243.4 -4.7,262 -5.1,280.5 -5.4,299.1 -5.5,317.6 -5.5,336.2 -6.3,354.7 -7,373.3 -7.4,391.8 -7.7,410.3 -7.9,428.9 -8.1,447.4 -8.9,466 -10.2,484.5 -11.5,503.1 -11.5,521.6 -10,540.2 22.4,540.2 17.7,521.6 15.3,503.1 14.8,484.5 14.6,466 14,447.4 12.9,428.9 11.9,410.3 11.1,391.8 10.4,373.3 10.1,354.7 9.9,336.2 8.8,317.6 7.9,299.1 7.2,280.5 6.6,262 6.4,243.4 6.6,224.9 6.9,206.4 7.5,187.8 7.8,169.3 7.4,150.7 7.2,132.2 6.6,113.6 3.2,95.1 1.3,76.5 1.1,58Z" fill="#8ECAE6" stroke="#78B5D2" stroke-width="0.9" stroke-opacity="0.22"/>
<path d="M-4.2,58 -4.4,76.3 -4,94.6 -4,112.9 -6,131.3 -8.2,149.6 -9.9,167.9 -12.6,186.2 -15.8,204.5 -18.5,222.8 -21.5,241.1 -24.1,259.5 -26.4,277.8 -28.7,296.1 -30.9,314.4 -33.3,332.7 -36.4,351 -39.5,369.3 -42.2,387.7 -45,406 -47.6,424.3 -50,442.6 -52.8,460.9 -56.1,479.2 -59.6,497.5 -62.8,515.9 -65.7,534.2 -36.9,534.2 -36.6,515.9 -35.4,497.5 -33.5,479.2 -31.5,460.9 -30,442.6 -28.7,424.3 -27.1,406 -25.4,387.7 -23.6,369.3 -21.3,351 -19.3,332.7 -17.9,314.4 -16.6,296.1 -15.2,277.8 -13.9,259.5 -12.2,241.1 -10.1,222.8 -8.3,204.5 -5.9,186.2 -4.1,167.9 -3.1,149.6 -1.7,131.3 -0.5,112.9 -1.6,94.6 -2.5,76.3 -2.3,58Z" fill="#C2E8F7" stroke="#78B5D2" stroke-width="0.9" stroke-opacity="0.22"/>
<path d="M-2.5,58 -2.6,76.5 -1.6,94.9 -0.5,113.4 -1.6,131.8 -3,150.3 -4.1,168.8 -6.1,187.2 -8.7,205.7 -10.8,224.1 -13.1,242.6 -15,261.1 -16.4,279.5 -17.7,298 -18.8,316.5 -19.8,334.9 -21.4,353.4 -22.8,371.8 -23.8,390.3 -24.8,408.8 -25.7,427.2 -26.7,445.7 -28.4,464.1 -30.9,482.6 -33.8,501.1 -36.2,519.5 -38,538 -8.5,538 -9.5,519.5 -9.3,501.1 -8,482.6 -6.9,464.1 -6.4,445.7 -6.6,427.2 -6.8,408.8 -6.8,390.3 -6.7,371.8 -6.2,353.4 -5.6,334.9 -5.7,316.5 -5.5,298 -5.1,279.5 -4.6,261.1 -3.7,242.6 -2.3,224.1 -1.1,205.7 0.6,187.2 1.8,168.8 2.1,150.3 2.8,131.8 3,113.4 0.8,94.9 -0.6,76.5 -0.7,58Z" fill="#8ECAE6" stroke="#78B5D2" stroke-width="0.9" stroke-opacity="0.22"/>
<path d="M-1.5,58 -1.5,76.5 -0.3,95.1 1.4,113.6 0.8,132.1 -0.1,150.7 -0.8,169.2 -2.2,187.7 -4.1,206.3 -5.5,224.8 -7,243.4 -8.2,261.9 -8.9,280.4 -9.6,299 -10.3,317.5 -10.9,336 -12.4,354.6 -13.7,373.1 -14.7,391.6 -15.7,410.2 -16.5,428.7 -17.1,447.2 -18.2,465.8 -19.8,484.3 -21.1,502.8 -21.3,521.4 -20.1,539.9 9.7,539.9 5.6,521.4 3.5,502.8 3.3,484.3 3.4,465.8 3.2,447.2 2.7,428.7 2.4,410.2 2.3,391.6 2.4,373.1 2.9,354.6 3.3,336 2.9,317.5 2.6,299 2.4,280.4 2.2,261.9 2.4,243.4 3,224.8 3.5,206.3 4.5,187.7 5.1,169.2 5,150.7 5.2,132.1 5,113.6 2.1,95.1 0.4,76.5 0.3,58Z" fill="#8ECAE6" stroke="#78B5D2" stroke-width="0.9" stroke-opacity="0.22"/>
<path d="M-0.1,58 0,76.5 1.6,94.9 4.3,113.4 4.4,131.9 4.1,150.4 4.2,168.8 3.6,187.3 2.5,205.8 1.9,224.3 1.2,242.7 0.9,261.2 0.8,279.7 0.7,298.2 0.7,316.6 0.8,335.1 -0,353.6 -0.8,372 -1.1,390.5 -1.3,409 -1,427.5 -0.5,445.9 -0.2,464.4 -0.1,482.9 0.2,501.4 2.2,519.8 6,538.3 35.5,538.3 28.9,519.8 24.7,501.4 22.8,482.9 21.3,464.4 19.7,445.9 18,427.5 16.7,409 15.8,390.5 15.2,372 15.1,353.6 14.9,335.1 13.9,316.6 13,298.2 12.1,279.7 11.2,261.2 10.6,242.7 10.4,224.3 10.1,205.8 10.3,187.3 10.1,168.8 9.3,150.4 8.8,131.9 7.8,113.4 4,94.9 2,76.5 1.7,58Z" fill="#9DD3EC" stroke="#78B5D2" stroke-width="0.9" stroke-opacity="0.22"/>
<path d="M0.7,58 1,76.5 2.8,95 6.1,113.5 6.7,131.9 6.7,150.4 7.1,168.9 6.7,187.4 5.9,205.9 5.5,224.4 5.1,242.9 5.1,261.4 5.6,279.8 6.2,298.3 7,316.8 8.1,335.3 8.4,353.8 8.8,372.3 9.5,390.8 10.4,409.3 11.4,427.7 12.5,446.2 12.9,464.7 12.8,483.2 12.8,501.7 14.4,520.2 17.9,538.7 47.5,538.7 41.1,520.2 37.3,501.7 35.7,483.2 34.4,464.7 32.7,446.2 30.5,427.7 28.4,409.3 26.5,390.8 24.8,372.3 23.6,353.8 22.3,335.3 20.1,316.8 18.4,298.3 16.9,279.8 15.5,261.4 14.5,242.9 14,224.4 13.5,205.9 13.4,187.4 13,168.9 11.9,150.4 11,131.9 9.6,113.5 5.2,95 2.9,76.5 2.6,58Z" fill="#9DD3EC" stroke="#78B5D2" stroke-width="0.9" stroke-opacity="0.22"/>
<path d="M-5.6,58 -5.9,76 -5.8,94 -6.8,112.1 -9.4,130.1 -12.2,148.1 -14.6,166.1 -17.9,184.2 -22,202.2 -25.5,220.2 -29.4,238.2 -32.8,256.3 -35.9,274.3 -38.7,292.3 -41.3,310.3 -44.1,328.4 -47.4,346.4 -51,364.4 -54,382.4 -57.3,400.4 -60.8,418.5 -64.2,436.5 -68,454.5 -72.8,472.5 -78.1,490.6 -83.7,508.6 -89.7,526.6 -62,526.6 -58.4,508.6 -54.6,490.6 -50.7,472.5 -47.2,454.5 -44.6,436.5 -42.3,418.5 -39.8,400.4 -37.5,382.4 -35.3,364.4 -32.6,346.4 -30.4,328.4 -28.5,310.3 -26.7,292.3 -24.8,274.3 -22.7,256.3 -20.2,238.2 -17.2,220.2 -14.6,202.2 -11.4,184.2 -8.8,166.1 -7.2,148.1 -5.1,130.1 -3.3,112.1 -3.5,94 -4,76 -3.8,58Z" fill="#AADCF1" stroke="#78B5D2" stroke-width="0.9" stroke-opacity="0.22"/>
<path d="M-6,58 -6.3,76.1 -6.3,94.1 -7.5,112.2 -10.3,130.2 -13.4,148.3 -15.8,166.3 -19.3,184.4 -23.6,202.4 -27.2,220.5 -31.3,238.5 -34.8,256.6 -38,274.6 -41,292.7 -43.8,310.8 -46.9,328.8 -50.4,346.9 -54.4,364.9 -57.8,383 -61.5,401 -65.4,419.1 -69.2,437.1 -73.4,455.2 -78.4,473.2 -84,491.3 -89.7,509.3 -95.9,527.4 -70.5,527.4 -66.5,509.3 -62.3,491.3 -58.1,473.2 -54.2,455.2 -51.1,437.1 -48.3,419.1 -45.4,401 -42.6,383 -40,364.9 -36.9,346.9 -34.2,328.8 -32,310.8 -30,292.7 -27.9,274.6 -25.5,256.6 -22.8,238.5 -19.6,220.5 -16.8,202.4 -13.3,184.4 -10.6,166.3 -8.7,148.3 -6.4,130.2 -4.4,112.2 -4.2,94.1 -4.5,76.1 -4.3,58Z" fill="#9DD3EC" stroke="#78B5D2" stroke-width="0.9" stroke-opacity="0.22"/>
<path d="M-3.1,58 -3.3,76.5 -2.5,95 -1.9,113.5 -3.4,132 -5.1,150.5 -6.5,169 -8.8,187.5 -11.7,206 -14,224.5 -16.4,243 -18.5,261.5 -20,280 -21.5,298.5 -22.9,317 -24.3,335.5 -26.5,354 -28.5,372.6 -30.3,391.1 -32.3,409.6 -34.2,428.1 -36.2,446.6 -38.9,465.1 -42.2,483.6 -45.6,502.1 -48.4,520.6 -50.6,539.1 -23.3,539.1 -23.9,520.6 -23.1,502.1 -21.1,483.6 -19.1,465.1 -17.7,446.6 -16.7,428.1 -15.8,409.6 -14.8,391.1 -13.8,372.6 -12.5,354 -11.3,335.5 -10.8,317 -10.3,298.5 -9.7,280 -9,261.5 -7.8,243 -6.2,224.5 -4.7,206 -2.7,187.5 -1.1,169 -0.4,150.5 0.7,132 1.4,113.5 -0.3,95 -1.5,76.5 -1.4,58Z" fill="#9DD3EC" stroke="#78B5D2" stroke-width="0.9" stroke-opacity="0.22"/>
<path d="M1.7,58 1.9,76.3 3.9,94.6 7.8,112.9 8.8,131.3 9.3,149.6 10.1,167.9 10.4,186.2 10.2,204.5 10.5,222.8 10.9,241.1 11.7,259.4 12.7,277.8 13.9,296.1 15.1,314.4 16.4,332.7 17,351 17.1,369.3 17.6,387.6 18.3,405.9 19.2,424.3 20.4,442.6 21.5,460.9 22.3,479.2 23.6,497.5 26.7,515.8 32.3,534.1 58.8,534.1 50.7,515.8 45.7,497.5 43.1,479.2 41,460.9 38.8,442.6 36.5,424.3 34.7,405.9 33,387.6 31.7,369.3 30.8,351 29.3,332.7 27,314.4 25,296.1 23,277.8 21.1,259.4 19.4,241.1 18.2,222.8 17.1,204.5 16.4,186.2 15.5,167.9 14,149.6 12.8,131.3 11,112.9 6,94.6 3.7,76.3 3.4,58Z" fill="#8ECAE6" stroke="#78B5D2" stroke-width="0.9" stroke-opacity="0.22"/>
<path d="M-6.7,58 -7.1,76.1 -7.3,94.1 -9,112.2 -12.2,130.2 -15.6,148.3 -18.4,166.4 -22.4,184.4 -27.1,202.5 -31.3,220.6 -36,238.6 -40,256.7 -43.8,274.7 -47.2,292.8 -50.5,310.9 -53.8,328.9 -57.6,347 -61.6,365 -65,383.1 -68.7,401.2 -72.7,419.2 -76.6,437.3 -81.2,455.3 -87,473.4 -93.4,491.5 -100.5,509.5 -108.6,527.6 -85.4,527.6 -79.4,509.5 -73.8,491.5 -68.5,473.4 -63.8,455.3 -60.2,437.3 -57.2,419.2 -54,401.2 -51.2,383.1 -48.5,365 -45.3,347 -42.3,328.9 -39.8,310.9 -37.3,292.8 -34.6,274.7 -31.6,256.7 -28.3,238.6 -24.4,220.6 -20.9,202.5 -16.9,184.4 -13.6,166.4 -11.4,148.3 -8.6,130.2 -6.1,112.2 -5.4,94.1 -5.5,76.1 -5.2,58Z" fill="#C2E8F7" stroke="#78B5D2" stroke-width="0.9" stroke-opacity="0.22"/>
<path d="M-4.9,58 -5.1,76.3 -4.9,94.6 -5.4,112.9 -7.7,131.2 -10.2,149.5 -12.3,167.8 -15.5,186 -19.3,204.3 -22.6,222.6 -26.3,240.9 -29.4,259.2 -32.2,277.5 -34.8,295.8 -37.1,314.1 -39.5,332.4 -42.3,350.7 -45.2,369 -47.5,387.3 -50.1,405.5 -52.8,423.8 -55.5,442.1 -58.9,460.4 -63.4,478.7 -68.4,497 -73.7,515.3 -79.3,533.6 -55.4,533.6 -52,515.3 -48.3,497 -44.5,478.7 -41.2,460.4 -38.8,442.1 -37.1,423.8 -35.3,405.5 -33.5,387.3 -31.9,369 -29.8,350.7 -27.8,332.4 -26.2,314.1 -24.7,295.8 -22.9,277.5 -20.9,259.2 -18.5,240.9 -15.6,222.6 -13,204.3 -9.9,186 -7.5,167.8 -5.9,149.5 -4,131.2 -2.4,112.9 -2.9,94.6 -3.5,76.3 -3.3,58Z" fill="#AADCF1" stroke="#78B5D2" stroke-width="0.9" stroke-opacity="0.22"/>
<path d="M2.6,58 2.9,76.3 5.1,94.7 9.7,113 11.2,131.3 12.1,149.7 13.3,168 13.9,186.4 14.2,204.7 14.9,223 15.6,241.4 16.8,259.7 18.4,278 20.1,296.4 21.9,314.7 24,333 25.4,351.4 26.4,369.7 27.7,388 29.3,406.4 30.9,424.7 32.8,443.1 34.5,461.4 35.8,479.7 37.4,498.1 41.1,516.4 47.4,534.7 71.5,534.7 63,516.4 57.6,498.1 54.7,479.7 52.2,461.4 49.5,443.1 46.7,424.7 44.1,406.4 41.7,388 39.7,369.7 38,351.4 35.7,333 32.8,314.7 30.2,296.4 27.7,278 25.4,259.7 23.4,241.4 21.9,223 20.4,204.7 19.5,186.4 18.2,168 16.3,149.7 14.9,131.3 12.6,113 7.1,94.7 4.6,76.3 4.1,58Z" fill="#AADCF1" stroke="#78B5D2" stroke-width="0.9" stroke-opacity="0.22"/>
<path d="M3.4,58 3.9,75.9 6,93.9 11.2,111.8 13.3,129.8 14.5,147.7 16.1,165.6 17.1,183.6 17.7,201.5 18.7,219.4 19.7,237.4 21.3,255.3 23.1,273.3 25.2,291.2 27.5,309.1 30,327.1 32.6,345 34.2,363 36.1,380.9 38.2,398.8 40.5,416.8 42.9,434.7 45.3,452.7 47.1,470.6 48.9,488.5 51.5,506.5 56.8,524.4 79.6,524.4 72.4,506.5 68.3,488.5 65.4,470.6 62.5,452.7 59.2,434.7 55.9,416.8 52.8,398.8 49.8,380.9 47.2,363 44.9,345 41.4,327.1 38.2,309.1 35.1,291.2 32.3,273.3 29.7,255.3 27.3,237.4 25.5,219.4 23.9,201.5 22.5,183.6 20.8,165.6 18.7,147.7 16.9,129.8 14.1,111.8 7.9,93.9 5.5,75.9 5,58Z" fill="#C2E8F7" stroke="#78B5D2" stroke-width="0.9" stroke-opacity="0.22"/>
<path d="M4.7,58 5.2,75.5 7.3,93.1 13.4,110.6 16.3,128.1 18,145.7 20.1,163.2 21.9,180.7 23.2,198.2 24.7,215.8 26.3,233.3 28.4,250.8 30.8,268.4 33.4,285.9 36.2,303.4 39.1,321 42.5,338.5 44.8,356 47.1,373.5 49.8,391.1 52.7,408.6 55.9,426.1 59.3,443.7 62.4,461.2 65.3,478.7 68.4,496.3 73.7,513.8 95.3,513.8 88.5,496.3 84.1,478.7 80.1,461.2 76,443.7 71.7,426.1 67.7,408.6 63.9,391.1 60.5,373.5 57.6,356 54.5,338.5 50.2,321 46.6,303.4 43.1,285.9 39.7,268.4 36.6,250.8 33.7,233.3 31.4,215.8 29.2,198.2 27.2,180.7 24.8,163.2 22.2,145.7 19.8,128.1 16.2,110.6 9.2,93.1 6.8,75.5 6.3,58Z" fill="#AADCF1" stroke="#78B5D2" stroke-width="0.9" stroke-opacity="0.22"/>
<path d="M-2.1,58 -2.1,76.2 -1.1,94.4 0.3,112.6 -0.5,130.8 -1.8,149 -2.6,167.2 -4.3,185.4 -6.6,203.6 -8.3,221.8 -10.4,239.9 -11.8,258.1 -13,276.3 -13.9,294.5 -14.7,312.7 -15.4,330.9 -16.6,349.1 -18.1,367.3 -19.1,385.5 -20.2,403.7 -21.4,421.9 -22.4,440.1 -23.8,458.3 -26,476.5 -28.5,494.7 -30.5,512.9 -31.7,531.1 -8.1,531.1 -9,512.9 -8.6,494.7 -7.3,476.5 -6.2,458.3 -5.8,440.1 -5.7,421.9 -5.5,403.7 -5.2,385.5 -4.9,367.3 -4.1,349.1 -3.8,330.9 -3.9,312.7 -3.9,294.5 -3.7,276.3 -3.3,258.1 -2.6,239.9 -1.4,221.8 -0.3,203.6 1.2,185.4 2.2,167.2 2.4,149 3.1,130.8 3.2,112.6 0.8,94.4 -0.5,76.2 -0.5,58Z" fill="#9DD3EC" stroke="#78B5D2" stroke-width="0.9" stroke-opacity="0.22"/>
<path d="M4.5,58 5,75.8 7.2,93.7 13.1,111.5 15.8,129.3 17.5,147.2 19.6,165 21.3,182.8 22.7,200.7 24.4,218.5 26.2,236.3 28.4,254.2 30.9,272 33.4,289.8 36,307.7 38.5,325.5 41.3,343.3 42.8,361.2 44.5,379 46.6,396.8 49.1,414.7 52.1,432.5 55.4,450.3 58.6,468.2 62.1,486 66.7,503.8 74.4,521.7 94.6,521.7 85.2,503.8 79.5,486 75,468.2 70.8,450.3 66.6,432.5 62.9,414.7 59.6,396.8 56.7,379 54.4,361.2 52.2,343.3 48.7,325.5 45.5,307.7 42.3,289.8 39,272 35.9,254.2 33,236.3 30.5,218.5 28.2,200.7 26.2,182.8 23.9,165 21.3,147.2 19,129.3 15.7,111.5 8.9,93.7 6.4,75.8 5.9,58Z" fill="#AADCF1" stroke="#78B5D2" stroke-width="0.9" stroke-opacity="0.22"/>
<path d="M-7.1,58 -7.6,75.6 -7.8,93.1 -9.7,110.7 -12.7,128.3 -16.3,145.8 -19.1,163.4 -23,180.9 -27.8,198.5 -32.2,216.1 -37,233.6 -41.4,251.2 -45.7,268.8 -49.4,286.3 -53,303.9 -56.5,321.4 -60.2,339 -64.4,356.6 -67.9,374.1 -71.3,391.7 -75,409.3 -78.7,426.8 -82.6,444.4 -87.4,461.9 -93.3,479.5 -100,497.1 -107.6,514.6 -90.2,514.6 -84,497.1 -78.2,479.5 -73.2,461.9 -69.2,444.4 -66,426.8 -62.9,409.3 -59.9,391.7 -57.1,374.1 -54.2,356.6 -50.6,339 -47.6,321.4 -44.7,303.9 -41.7,286.3 -38.5,268.8 -34.8,251.2 -31.1,233.6 -26.8,216.1 -22.9,198.5 -18.7,180.9 -15.4,163.4 -13,145.8 -9.9,128.3 -7.4,110.7 -6.3,93.1 -6.3,75.6 -5.9,58Z" fill="#C2E8F7" stroke="#78B5D2" stroke-width="0.9" stroke-opacity="0.22"/>
<path d="M5.4,58 6,75.7 8.4,93.5 14.9,111.2 18.1,128.9 20.1,146.7 22.6,164.4 24.7,182.1 26.4,199.9 28.5,217.6 30.7,235.3 33.4,253.1 36.3,270.8 39.4,288.5 42.5,306.3 45.7,324 49.3,341.7 51.6,359.4 53.9,377.2 56.7,394.9 59.8,412.6 63.2,430.4 67,448.1 70.6,465.8 74.4,483.6 79,501.3 86.8,519 104.5,519 95.3,501.3 89.7,483.6 85,465.8 80.6,448.1 76.1,430.4 71.9,412.6 68.1,394.9 64.7,377.2 61.9,359.4 59,341.7 54.8,324 51,306.3 47.2,288.5 43.6,270.8 40,253.1 36.7,235.3 34,217.6 31.3,199.9 29,182.1 26.4,164.4 23.5,146.7 20.9,128.9 17.2,111.2 9.9,93.5 7.3,75.7 6.7,58Z" fill="#C2E8F7" stroke="#78B5D2" stroke-width="0.9" stroke-opacity="0.22"/>
<path d="M6.2,58 6.8,75.4 9.1,92.8 16.1,110.2 19.9,127.5 22.3,144.9 25,162.3 27.4,179.7 29.5,197.1 31.8,214.5 34.1,231.8 36.9,249.2 40,266.6 43.2,284 46.6,301.4 50.2,318.8 54.3,336.1 57.5,353.5 60.3,370.9 63.7,388.3 67.6,405.7 71.7,423.1 76.2,440.4 80.6,457.8 84.9,475.2 89.4,492.6 95.7,510 110.5,510 103.2,492.6 97.9,475.2 92.9,457.8 87.8,440.4 82.7,423.1 77.9,405.7 73.6,388.3 69.7,370.9 66.3,353.5 62.6,336.1 57.9,318.8 53.9,301.4 50,284 46.2,266.6 42.6,249.2 39.3,231.8 36.4,214.5 33.7,197.1 31.1,179.7 28.3,162.3 25.1,144.9 22.3,127.5 18.1,110.2 10.4,92.8 7.9,75.4 7.3,58Z" fill="#C2E8F7" stroke="#78B5D2" stroke-width="0.9" stroke-opacity="0.22"/>
<rect x="-170" y="56" width="340" height="210" fill="url(#top5)" clip-path="url(#tc1)"/>
<path d="M-54.1,395 -52.1,440 -50.7,480 -52.6,440Z" fill="#C2E8F7" opacity="0.8"/>
<path d="M-17.5,290 -20.9,380 -24.6,470 -22.4,380Z" fill="#C2E8F7" opacity="0.8"/>
<path d="M32.4,250 37.9,340 45.1,425 40.4,340Z" fill="#C2E8F7" opacity="0.8"/>
<path d="M52,280 53.2,293.6 55.5,312.6 58.5,334.8 61.8,358.4 65.3,381.2 68.8,401.1 72.1,418.4 75.5,435.1 79.7,450.8 84.2,465.6 89.2,479.7 94.9,492.9 101.9,505.5 110.1,517.3 118.7,528 126.8,537.4 133.5,545 138.4,550.8 147.6,543.2 142.8,537.3 135.8,529.5 127.8,520.2 119.5,509.8 111.7,498.6 105.4,487.1 100.3,474.8 95.5,461.5 91.2,447.1 87,431.8 82.5,415.8 78,398.9 73.3,379.5 68.5,357.1 63.8,333.9 59.4,311.9 55.4,293.2 52,280Z" fill="#c6eaf8" opacity="0.9"/>
<path d="M78.1,494 79.6,496.7 82.2,499.9 85.4,503.5 88.7,507.3 92,511.2 94.9,514.6 97.9,518.1 101,522.2 103.9,526.4 106.7,530.4 109,533.8 110.7,536.3 117.3,531.7 115.6,529.3 113.3,525.9 110.6,521.9 107.5,517.5 104.3,513.3 101.1,509.4 97.4,505.9 93,502.7 88.7,499.7 84.5,497.1 81,495.1 78.1,494Z" fill="#c6eaf8" opacity="0.9"/>
<path d="M-60.1,330 -64.1,343.4 -69,362.6 -74.7,385.1 -80.6,408.6 -86.4,430.7 -91.5,448.9 -96,463.8 -100.3,477.1 -104,489.2 -107.5,500 -110.5,509.7 -113.2,518.3 -115.6,525.5 -117.8,531.4 -119.8,536.2 -121.5,540 -123,543.3 -124.1,545.8 -113.9,550.2 -112.8,547.6 -111.5,544.6 -109.7,540.6 -107.7,535.6 -105.3,529.3 -102.8,521.7 -100,513 -97,503.3 -93.6,492.3 -89.9,480.1 -86.6,466.3 -83.1,451.1 -79.1,432.3 -74.5,409.9 -69.8,386.1 -65.5,363.3 -62,343.8 -60.1,330Z" fill="#c6eaf8" opacity="0.9"/>
<path d="M-95,500 -97.7,504.2 -100.8,510.4 -104.2,517.8 -107.6,525.5 -110.7,532.7 -112.8,538.7 -114.1,543.7 -115.1,548 -115.8,551.7 -116.2,554.8 -116.6,557.2 -116.9,559.2 -107.1,560.8 -106.7,558.9 -106.4,556.3 -105.9,553.3 -105.2,549.8 -104.4,545.8 -103.2,541.3 -101.7,535.4 -100.1,527.9 -98.3,519.7 -96.6,511.8 -95.3,505 -95,500Z" fill="#c6eaf8" opacity="0.9"/>
<path d="M-113.5,519.5 -101.7,519.5 -106.3,555.3 -118,557.4Z" fill="url(#end5)"/>
<path d="M-98.4,493.3 -84.9,493.3 -92.1,558.9 -105.7,561Z" fill="url(#end5)"/>
<path d="M-85.6,496.7 -72.2,496.7 -78.4,564 -91.8,562.8Z" fill="url(#end5)"/>
<path d="M-73.7,504.6 -62.2,504.6 -67,565.6 -78.4,564.5Z" fill="url(#end5)"/>
<path d="M-61,493 -48.4,493 -53.3,568.8 -65.9,567.1Z" fill="url(#end5)"/>
<path d="M-48.9,491.8 -40.2,491.8 -44.3,569.2 -53.1,567.8Z" fill="url(#end5)"/>
<path d="M-42.6,513.2 -28.7,513.2 -31.2,574.3 -45.1,576.6Z" fill="url(#end5)"/>
<path d="M-29.1,493.3 -17,493.3 -19.2,571.3 -31.3,572.3Z" fill="url(#end5)"/>
<path d="M-17.1,509.1 -3.8,509.1 -4.5,574 -17.9,572.4Z" fill="url(#end5)"/>
<path d="M-5.9,503.4 2.5,503.4 2.4,574.7 -6,572.3Z" fill="url(#end5)"/>
<path d="M2.1,497.8 12.1,497.8 12.7,573.3 2.7,573.3Z" fill="url(#end5)"/>
<path d="M11,519.2 21.9,519.2 22.9,574.5 12,576.7Z" fill="url(#end5)"/>
<path d="M19.7,520.8 32.2,520.8 33.9,575.6 21.4,576.9Z" fill="url(#end5)"/>
<path d="M30.9,514.1 42.3,514.1 44.7,571 33.2,569.5Z" fill="url(#end5)"/>
<path d="M41.8,495.9 51,495.9 55.1,573.1 45.9,575.2Z" fill="url(#end5)"/>
<path d="M49.9,497.6 60,497.6 64.7,572.9 54.6,571Z" fill="url(#end5)"/>
<path d="M61,517 73.8,517 78,571.9 65.3,574Z" fill="url(#end5)"/>
<path d="M69.7,489.4 79.8,489.4 86.5,567.8 76.4,567Z" fill="url(#end5)"/>
<path d="M81.1,497.8 92.4,497.8 98.7,561.5 87.5,559.9Z" fill="url(#end5)"/>
<path d="M88.7,480.5 97.6,480.5 106.2,561.2 97.3,559.6Z" fill="url(#end5)"/>
<path d="M97.1,491.8 111,491.8 118.9,557.6 105,556.3Z" fill="url(#end5)"/>
<path d="M115.8,529.6 128.7,529.6 132,554.3 119,552.1Z" fill="url(#end5)"/>
<path d="M65,388 68,388 87,498 82.5,498Z" fill="#fff" opacity="0.85"/>
<path d="M82.3,480 85.3,480 91,532 88,532Z" fill="#fff" opacity="0.85"/>
<path d="M107,430 109,430 118,500 116,500Z" fill="#fff" opacity="0.85"/>
<path d="M-38.1,330 -36.9,330 -45,430 -46.2,430Z" fill="#fff" opacity="0.85"/>
<path d="M-13.2,0 L13.2,0 L14.2,56 L-14,56Z" fill="#A0D3E8"/>
<path d="M-14,55 L14.2,55 L14.8,86 L15.2,96 L-14.8,100 L-14.5,90Z" fill="#a6d8ed"/>
<path d="M-4,58 L-3.6,120 L-3.2,250" stroke="url(#fold5)" stroke-width="1.2" fill="none"/>
<rect x="-17.5" y="48.9" width="32.5" height="7.4" rx="1.2" fill="url(#band)"/>
<path d="M14.8,52.4 L17.5,52.4" stroke="#6b5a3a" stroke-width="1"/>
</g>
<g transform="translate(690.3,879) scale(0.83)">
<path d="M22.6,100 27.7,110 31.9,120 34.9,130 37.5,140 40,150 42.6,160 45.1,170 47.5,180 49.7,190 51.9,200 54,210 56.2,220 58.3,230 60.5,240 62.8,250 65.1,260 67.3,270 69.5,280 71.6,290 73.7,300 75.7,310 77.7,320 79.9,330 82.2,340 83.7,350 85,360 86.2,370 87.5,380 89,390 90.7,400 92.5,410 94.3,420 96.3,430 98.4,440 100.4,450 102.4,460 104.4,470 106.4,480 108.5,490 111.1,500 114.8,510 119.8,520 125.8,530 133.7,540 -117.5,540 -114.1,530 -110.9,520 -108,510 -105.4,500 -103,490 -100.7,480 -98.6,470 -96.7,460 -95.1,450 -93.7,440 -92.5,430 -91.3,420 -90,410 -88.5,400 -87.1,390 -85.8,380 -84.4,370 -82.9,360 -80.9,350 -78.9,340 -76.9,330 -75,320 -73.2,310 -71.3,300 -69.3,290 -67.2,280 -65.1,270 -62.7,260 -59.9,250 -57.3,240 -54.3,230 -51.1,220 -48.4,210 -45.3,200 -41.8,190 -38.7,180 -35.7,170 -33,160 -30.8,150 -28.2,140 -25.1,130 -21.9,120 -19.2,110 -17.4,100Z" fill="#5a5fa9"/>
<path d="M14.2,56 14.3,59.8 14.3,65.3 14.4,71.5 14.6,77.4 14.8,82 15.1,85.1 15.4,87.2 15.8,88.9 16.3,90.4 17,92 17.9,93.6 18.9,95 20.1,96.4 21.3,98 22.6,100 24,102.6 25.5,105.5 27.1,108.7 28.5,111.9 29.8,115 30.9,118 31.8,121 32.6,124 33.3,127 34,130 34.7,132.8 35.2,135.3 35.8,137.9 36.4,141 37.2,145 38.3,150 39.6,155.9 41,162.3 42.3,168.8 43.6,175 44.8,181 45.9,187 46.9,193 48,199 49.1,205 50.2,211 51.3,217 52.4,223 53.5,229 54.6,235 55.8,241 57,247 58.3,253 59.5,259 60.8,265 62,271 63.2,277 64.4,283 65.6,289 66.8,295 68,301.2 69.3,307.6 70.5,313.9 71.7,319.8 72.7,325 73.6,328.9 74.4,331.7 75.1,334.3 75.8,337.5 76.7,342 77.6,348.3 78.6,355.7 79.6,363.9 80.8,372.1 82,380 83.2,387.4 84.6,394.8 86,402.2 87.5,409.6 89.1,417 90.7,424.6 92.5,432.2 94.3,439.8 96.1,447.4 98,455 99.8,462.8 101.6,470.7 103.5,478.5 105.3,485.8 106.9,492 108.4,497 109.6,500.9 110.9,504.3 112.3,507.5 114,511 115.7,514.4 116.3,515.4 117.2,517 118.3,519 119.9,521.6 110,524.7 97.3,528 88.1,531.7 80,535.6 70.8,538.7 59.2,540.3 46.3,541.1 33.5,541.6 21,542.2 8.5,542.6 -4,542.6 -16.5,542.3 -29,541.6 -41.5,540.6 -54.4,539 -67.2,537 -79,535 -89.6,533.4 -99.1,531.8 -107,529 -111.4,523.7 -109.1,517.2 -107.5,512.6 -107,511 -105.8,507.2 -104.7,503.4 -103.6,499.6 -102.5,495.8 -101.4,492 -100.3,488.2 -99.3,484.4 -98.3,480.5 -97.3,476.7 -96.4,473 -95.5,469.4 -94.7,465.8 -93.9,462.2 -93.1,458.6 -92.3,455 -91.6,451.3 -91,447.5 -90.3,443.6 -89.7,439.8 -89.1,436 -88.5,432.2 -87.9,428.4 -87.4,424.5 -86.8,420.7 -86.2,417 -85.6,413.4 -85,409.8 -84.4,406.2 -83.8,402.6 -83.2,399 -82.6,395.3 -82,391.5 -81.4,387.6 -80.8,383.8 -80.2,380 -79.7,376.2 -79.1,372.4 -78.5,368.6 -77.9,364.8 -77.3,361 -76.5,357.2 -75.8,353.4 -75,349.6 -74.1,345.8 -73.3,342 -72.6,338.3 -71.9,334.8 -71.2,331.2 -70.4,327.4 -69.6,323 -68.6,317.8 -67.5,311.8 -66.4,305.7 -65.4,299.9 -64.5,295 -63.8,291.2 -63.2,288.1 -62.6,285.4 -62.1,282.8 -61.5,280 -60.9,277 -60.4,274 -59.8,271 -59.2,268 -58.5,265 -57.8,262 -57.1,259 -56.3,256 -55.5,253 -54.8,250 -54.1,247 -53.4,244 -52.7,241 -51.9,238 -51.2,235 -50.3,232 -49.4,229 -48.5,226 -47.6,223 -46.8,220 -46,217 -45.3,214 -44.6,211 -43.9,208 -43.1,205 -42.2,202 -41.3,199 -40.4,196 -39.4,193 -38.5,190 -37.7,187 -36.8,184 -36,181 -35.2,178 -34.4,175 -33.6,172 -32.9,169 -32.2,166 -31.5,163 -30.9,160 -30.3,157 -29.7,154 -29.2,151 -28.7,148 -28.1,145 -27.4,142 -26.6,139 -25.9,136 -25.1,133 -24.3,130 -23.4,127 -22.6,124 -21.7,121 -20.9,118 -20.2,115 -19.5,111.9 -19,108.8 -18.5,105.6 -18,102.7 -17.4,100 -16.8,98.1 -16.1,96.8 -15.4,95.5 -14.8,93.5 -14.4,90 -14.2,84.2 -14.1,76.5 -14,68.3 -14,61 -14,56Z" fill="#23287A"/>
<path d="M-1.7,58 -1.7,76.3 -0.6,94.5 1.1,112.8 0.5,131.1 -0.6,149.3 -1.2,167.6 -2.6,185.9 -4.5,204.1 -5.9,222.4 -7.5,240.6 -8.7,258.9 -9.6,277.2 -10.4,295.4 -11.1,313.7 -11.8,332 -13.2,350.2 -14.8,368.5 -16,386.8 -17.2,405 -18.2,423.3 -18.9,441.6 -19.9,459.8 -21.4,478.1 -22.9,496.3 -23.6,514.6 -23.1,532.9 19.8,532.9 15.5,514.6 13.2,496.3 12.4,478.1 11.9,459.8 11,441.6 10.1,423.3 9.5,405 9.1,386.8 9,368.5 9.3,350.2 9.1,332 8.4,313.7 7.8,295.4 7.2,277.2 6.7,258.9 6.4,240.6 6.7,222.4 6.8,204.1 7.4,185.9 7.6,167.6 7.1,149.3 7,131.1 6.3,112.8 2.9,94.5 1.2,76.3 1.1,58Z" fill="#10144C" stroke="#05072A" stroke-width="0.9" stroke-opacity="0.22"/>
<path d="M-4,58 -4.1,76.3 -3.6,94.5 -3.4,112.8 -5.2,131 -7.3,149.3 -9,167.5 -11.6,185.8 -14.8,204 -17.5,222.3 -20.5,240.6 -23,258.8 -25.2,277.1 -27.1,295.3 -28.9,313.6 -30.7,331.8 -33.1,350.1 -35.5,368.4 -37.6,386.6 -39.8,404.9 -42.1,423.1 -44.4,441.4 -47.2,459.6 -50.9,477.9 -55,496.1 -58.9,514.4 -62.8,532.7 -24.7,532.7 -24.3,514.4 -22.9,496.1 -20.8,477.9 -18.9,459.6 -17.8,441.4 -17,423.1 -16.1,404.9 -15.3,386.6 -14.4,368.4 -13.1,350.1 -12.1,331.8 -11.6,313.6 -11,295.3 -10.3,277.1 -9.4,258.8 -8.1,240.6 -6.4,222.3 -4.8,204 -2.7,185.8 -1.2,167.5 -0.5,149.3 0.6,131 1.2,112.8 -0.5,94.5 -1.5,76.3 -1.5,58Z" fill="#23287A" stroke="#05072A" stroke-width="0.9" stroke-opacity="0.22"/>
<path d="M-0,58 0.2,76.3 1.7,94.6 4.6,112.9 4.8,131.3 4.6,149.6 4.7,167.9 4,186.2 2.8,204.5 2.1,222.8 1.3,241.1 0.9,259.5 0.9,277.8 1.1,296.1 1.5,314.4 2,332.7 2.1,351 1.9,369.4 2.2,387.7 2.5,406 3,424.3 3.6,442.6 3.7,460.9 3.1,479.2 2.5,497.6 2.9,515.9 4.9,534.2 43.3,534.2 37.8,515.9 34.7,497.6 33.3,479.2 32,460.9 30.3,442.6 28.2,424.3 26.3,406 24.6,387.7 23.1,369.4 22.1,351 20.7,332.7 18.8,314.4 17.3,296.1 15.9,277.8 14.6,259.5 13.7,241.1 13.3,222.8 12.9,204.5 12.9,186.2 12.4,167.9 11.4,149.6 10.6,131.3 9.3,112.9 4.9,94.6 2.8,76.3 2.5,58Z" fill="#10144C" stroke="#05072A" stroke-width="0.9" stroke-opacity="0.22"/>
<path d="M1.8,58 2.1,76.2 4,94.3 8.1,112.5 9.4,130.6 10,148.8 11,166.9 11.4,185.1 11.4,203.2 11.9,221.4 12.2,239.5 13.1,257.7 14.1,275.8 15.2,294 16.3,312.1 17.4,330.3 18.2,348.4 18.2,366.6 18.7,384.7 19.6,402.9 20.7,421 22.4,439.2 24.1,457.3 25.6,475.5 27.4,493.6 30.7,511.8 36.3,529.9 69.2,529.9 60.6,511.8 55.1,493.6 51.6,475.5 48.6,457.3 45.5,439.2 42.6,421 40.2,402.9 38.2,384.7 36.6,366.6 35.5,348.4 33.6,330.3 31.3,312.1 29.2,294 27,275.8 24.9,257.7 23,239.5 21.6,221.4 20.1,203.2 19.1,185.1 17.7,166.9 15.9,148.8 14.4,130.6 12.2,112.5 6.7,94.3 4.4,76.2 4,58Z" fill="#1A1E64" stroke="#05072A" stroke-width="0.9" stroke-opacity="0.22"/>
<path d="M-0.9,58 -0.8,76.5 0.6,95.1 2.8,113.6 2.5,132.2 1.8,150.7 1.4,169.3 0.2,187.8 -1.4,206.4 -2.6,224.9 -3.8,243.4 -4.7,262 -5.1,280.5 -5.4,299.1 -5.5,317.6 -5.5,336.2 -6.3,354.7 -7,373.3 -7.4,391.8 -7.7,410.3 -7.9,428.9 -8.1,447.4 -8.9,466 -10.2,484.5 -11.5,503.1 -11.5,521.6 -10,540.2 22.4,540.2 17.7,521.6 15.3,503.1 14.8,484.5 14.6,466 14,447.4 12.9,428.9 11.9,410.3 11.1,391.8 10.4,373.3 10.1,354.7 9.9,336.2 8.8,317.6 7.9,299.1 7.2,280.5 6.6,262 6.4,243.4 6.6,224.9 6.9,206.4 7.5,187.8 7.8,169.3 7.4,150.7 7.2,132.2 6.6,113.6 3.2,95.1 1.3,76.5 1.1,58Z" fill="#10144C" stroke="#05072A" stroke-width="0.9" stroke-opacity="0.22"/>
<path d="M-4.2,58 -4.4,76.3 -4,94.6 -4,112.9 -6,131.3 -8.2,149.6 -9.9,167.9 -12.6,186.2 -15.8,204.5 -18.5,222.8 -21.5,241.1 -24.1,259.5 -26.4,277.8 -28.7,296.1 -30.9,314.4 -33.3,332.7 -36.4,351 -39.5,369.3 -42.2,387.7 -45,406 -47.6,424.3 -50,442.6 -52.8,460.9 -56.1,479.2 -59.6,497.5 -62.8,515.9 -65.7,534.2 -36.9,534.2 -36.6,515.9 -35.4,497.5 -33.5,479.2 -31.5,460.9 -30,442.6 -28.7,424.3 -27.1,406 -25.4,387.7 -23.6,369.3 -21.3,351 -19.3,332.7 -17.9,314.4 -16.6,296.1 -15.2,277.8 -13.9,259.5 -12.2,241.1 -10.1,222.8 -8.3,204.5 -5.9,186.2 -4.1,167.9 -3.1,149.6 -1.7,131.3 -0.5,112.9 -1.6,94.6 -2.5,76.3 -2.3,58Z" fill="#363C96" stroke="#05072A" stroke-width="0.9" stroke-opacity="0.22"/>
<path d="M-2.5,58 -2.6,76.5 -1.6,94.9 -0.5,113.4 -1.6,131.8 -3,150.3 -4.1,168.8 -6.1,187.2 -8.7,205.7 -10.8,224.1 -13.1,242.6 -15,261.1 -16.4,279.5 -17.7,298 -18.8,316.5 -19.8,334.9 -21.4,353.4 -22.8,371.8 -23.8,390.3 -24.8,408.8 -25.7,427.2 -26.7,445.7 -28.4,464.1 -30.9,482.6 -33.8,501.1 -36.2,519.5 -38,538 -8.5,538 -9.5,519.5 -9.3,501.1 -8,482.6 -6.9,464.1 -6.4,445.7 -6.6,427.2 -6.8,408.8 -6.8,390.3 -6.7,371.8 -6.2,353.4 -5.6,334.9 -5.7,316.5 -5.5,298 -5.1,279.5 -4.6,261.1 -3.7,242.6 -2.3,224.1 -1.1,205.7 0.6,187.2 1.8,168.8 2.1,150.3 2.8,131.8 3,113.4 0.8,94.9 -0.6,76.5 -0.7,58Z" fill="#10144C" stroke="#05072A" stroke-width="0.9" stroke-opacity="0.22"/>
<path d="M-1.5,58 -1.5,76.5 -0.3,95.1 1.4,113.6 0.8,132.1 -0.1,150.7 -0.8,169.2 -2.2,187.7 -4.1,206.3 -5.5,224.8 -7,243.4 -8.2,261.9 -8.9,280.4 -9.6,299 -10.3,317.5 -10.9,336 -12.4,354.6 -13.7,373.1 -14.7,391.6 -15.7,410.2 -16.5,428.7 -17.1,447.2 -18.2,465.8 -19.8,484.3 -21.1,502.8 -21.3,521.4 -20.1,539.9 9.7,539.9 5.6,521.4 3.5,502.8 3.3,484.3 3.4,465.8 3.2,447.2 2.7,428.7 2.4,410.2 2.3,391.6 2.4,373.1 2.9,354.6 3.3,336 2.9,317.5 2.6,299 2.4,280.4 2.2,261.9 2.4,243.4 3,224.8 3.5,206.3 4.5,187.7 5.1,169.2 5,150.7 5.2,132.1 5,113.6 2.1,95.1 0.4,76.5 0.3,58Z" fill="#10144C" stroke="#05072A" stroke-width="0.9" stroke-opacity="0.22"/>
<path d="M-0.1,58 0,76.5 1.6,94.9 4.3,113.4 4.4,131.9 4.1,150.4 4.2,168.8 3.6,187.3 2.5,205.8 1.9,224.3 1.2,242.7 0.9,261.2 0.8,279.7 0.7,298.2 0.7,316.6 0.8,335.1 -0,353.6 -0.8,372 -1.1,390.5 -1.3,409 -1,427.5 -0.5,445.9 -0.2,464.4 -0.1,482.9 0.2,501.4 2.2,519.8 6,538.3 35.5,538.3 28.9,519.8 24.7,501.4 22.8,482.9 21.3,464.4 19.7,445.9 18,427.5 16.7,409 15.8,390.5 15.2,372 15.1,353.6 14.9,335.1 13.9,316.6 13,298.2 12.1,279.7 11.2,261.2 10.6,242.7 10.4,224.3 10.1,205.8 10.3,187.3 10.1,168.8 9.3,150.4 8.8,131.9 7.8,113.4 4,94.9 2,76.5 1.7,58Z" fill="#1A1E64" stroke="#05072A" stroke-width="0.9" stroke-opacity="0.22"/>
<path d="M0.7,58 1,76.5 2.8,95 6.1,113.5 6.7,131.9 6.7,150.4 7.1,168.9 6.7,187.4 5.9,205.9 5.5,224.4 5.1,242.9 5.1,261.4 5.6,279.8 6.2,298.3 7,316.8 8.1,335.3 8.4,353.8 8.8,372.3 9.5,390.8 10.4,409.3 11.4,427.7 12.5,446.2 12.9,464.7 12.8,483.2 12.8,501.7 14.4,520.2 17.9,538.7 47.5,538.7 41.1,520.2 37.3,501.7 35.7,483.2 34.4,464.7 32.7,446.2 30.5,427.7 28.4,409.3 26.5,390.8 24.8,372.3 23.6,353.8 22.3,335.3 20.1,316.8 18.4,298.3 16.9,279.8 15.5,261.4 14.5,242.9 14,224.4 13.5,205.9 13.4,187.4 13,168.9 11.9,150.4 11,131.9 9.6,113.5 5.2,95 2.9,76.5 2.6,58Z" fill="#1A1E64" stroke="#05072A" stroke-width="0.9" stroke-opacity="0.22"/>
<path d="M-5.6,58 -5.9,76 -5.8,94 -6.8,112.1 -9.4,130.1 -12.2,148.1 -14.6,166.1 -17.9,184.2 -22,202.2 -25.5,220.2 -29.4,238.2 -32.8,256.3 -35.9,274.3 -38.7,292.3 -41.3,310.3 -44.1,328.4 -47.4,346.4 -51,364.4 -54,382.4 -57.3,400.4 -60.8,418.5 -64.2,436.5 -68,454.5 -72.8,472.5 -78.1,490.6 -83.7,508.6 -89.7,526.6 -62,526.6 -58.4,508.6 -54.6,490.6 -50.7,472.5 -47.2,454.5 -44.6,436.5 -42.3,418.5 -39.8,400.4 -37.5,382.4 -35.3,364.4 -32.6,346.4 -30.4,328.4 -28.5,310.3 -26.7,292.3 -24.8,274.3 -22.7,256.3 -20.2,238.2 -17.2,220.2 -14.6,202.2 -11.4,184.2 -8.8,166.1 -7.2,148.1 -5.1,130.1 -3.3,112.1 -3.5,94 -4,76 -3.8,58Z" fill="#23287A" stroke="#05072A" stroke-width="0.9" stroke-opacity="0.22"/>
<path d="M-6,58 -6.3,76.1 -6.3,94.1 -7.5,112.2 -10.3,130.2 -13.4,148.3 -15.8,166.3 -19.3,184.4 -23.6,202.4 -27.2,220.5 -31.3,238.5 -34.8,256.6 -38,274.6 -41,292.7 -43.8,310.8 -46.9,328.8 -50.4,346.9 -54.4,364.9 -57.8,383 -61.5,401 -65.4,419.1 -69.2,437.1 -73.4,455.2 -78.4,473.2 -84,491.3 -89.7,509.3 -95.9,527.4 -70.5,527.4 -66.5,509.3 -62.3,491.3 -58.1,473.2 -54.2,455.2 -51.1,437.1 -48.3,419.1 -45.4,401 -42.6,383 -40,364.9 -36.9,346.9 -34.2,328.8 -32,310.8 -30,292.7 -27.9,274.6 -25.5,256.6 -22.8,238.5 -19.6,220.5 -16.8,202.4 -13.3,184.4 -10.6,166.3 -8.7,148.3 -6.4,130.2 -4.4,112.2 -4.2,94.1 -4.5,76.1 -4.3,58Z" fill="#1A1E64" stroke="#05072A" stroke-width="0.9" stroke-opacity="0.22"/>
<path d="M-3.1,58 -3.3,76.5 -2.5,95 -1.9,113.5 -3.4,132 -5.1,150.5 -6.5,169 -8.8,187.5 -11.7,206 -14,224.5 -16.4,243 -18.5,261.5 -20,280 -21.5,298.5 -22.9,317 -24.3,335.5 -26.5,354 -28.5,372.6 -30.3,391.1 -32.3,409.6 -34.2,428.1 -36.2,446.6 -38.9,465.1 -42.2,483.6 -45.6,502.1 -48.4,520.6 -50.6,539.1 -23.3,539.1 -23.9,520.6 -23.1,502.1 -21.1,483.6 -19.1,465.1 -17.7,446.6 -16.7,428.1 -15.8,409.6 -14.8,391.1 -13.8,372.6 -12.5,354 -11.3,335.5 -10.8,317 -10.3,298.5 -9.7,280 -9,261.5 -7.8,243 -6.2,224.5 -4.7,206 -2.7,187.5 -1.1,169 -0.4,150.5 0.7,132 1.4,113.5 -0.3,95 -1.5,76.5 -1.4,58Z" fill="#1A1E64" stroke="#05072A" stroke-width="0.9" stroke-opacity="0.22"/>
<path d="M1.7,58 1.9,76.3 3.9,94.6 7.8,112.9 8.8,131.3 9.3,149.6 10.1,167.9 10.4,186.2 10.2,204.5 10.5,222.8 10.9,241.1 11.7,259.4 12.7,277.8 13.9,296.1 15.1,314.4 16.4,332.7 17,351 17.1,369.3 17.6,387.6 18.3,405.9 19.2,424.3 20.4,442.6 21.5,460.9 22.3,479.2 23.6,497.5 26.7,515.8 32.3,534.1 58.8,534.1 50.7,515.8 45.7,497.5 43.1,479.2 41,460.9 38.8,442.6 36.5,424.3 34.7,405.9 33,387.6 31.7,369.3 30.8,351 29.3,332.7 27,314.4 25,296.1 23,277.8 21.1,259.4 19.4,241.1 18.2,222.8 17.1,204.5 16.4,186.2 15.5,167.9 14,149.6 12.8,131.3 11,112.9 6,94.6 3.7,76.3 3.4,58Z" fill="#10144C" stroke="#05072A" stroke-width="0.9" stroke-opacity="0.22"/>
<path d="M-6.7,58 -7.1,76.1 -7.3,94.1 -9,112.2 -12.2,130.2 -15.6,148.3 -18.4,166.4 -22.4,184.4 -27.1,202.5 -31.3,220.6 -36,238.6 -40,256.7 -43.8,274.7 -47.2,292.8 -50.5,310.9 -53.8,328.9 -57.6,347 -61.6,365 -65,383.1 -68.7,401.2 -72.7,419.2 -76.6,437.3 -81.2,455.3 -87,473.4 -93.4,491.5 -100.5,509.5 -108.6,527.6 -85.4,527.6 -79.4,509.5 -73.8,491.5 -68.5,473.4 -63.8,455.3 -60.2,437.3 -57.2,419.2 -54,401.2 -51.2,383.1 -48.5,365 -45.3,347 -42.3,328.9 -39.8,310.9 -37.3,292.8 -34.6,274.7 -31.6,256.7 -28.3,238.6 -24.4,220.6 -20.9,202.5 -16.9,184.4 -13.6,166.4 -11.4,148.3 -8.6,130.2 -6.1,112.2 -5.4,94.1 -5.5,76.1 -5.2,58Z" fill="#363C96" stroke="#05072A" stroke-width="0.9" stroke-opacity="0.22"/>
<path d="M-4.9,58 -5.1,76.3 -4.9,94.6 -5.4,112.9 -7.7,131.2 -10.2,149.5 -12.3,167.8 -15.5,186 -19.3,204.3 -22.6,222.6 -26.3,240.9 -29.4,259.2 -32.2,277.5 -34.8,295.8 -37.1,314.1 -39.5,332.4 -42.3,350.7 -45.2,369 -47.5,387.3 -50.1,405.5 -52.8,423.8 -55.5,442.1 -58.9,460.4 -63.4,478.7 -68.4,497 -73.7,515.3 -79.3,533.6 -55.4,533.6 -52,515.3 -48.3,497 -44.5,478.7 -41.2,460.4 -38.8,442.1 -37.1,423.8 -35.3,405.5 -33.5,387.3 -31.9,369 -29.8,350.7 -27.8,332.4 -26.2,314.1 -24.7,295.8 -22.9,277.5 -20.9,259.2 -18.5,240.9 -15.6,222.6 -13,204.3 -9.9,186 -7.5,167.8 -5.9,149.5 -4,131.2 -2.4,112.9 -2.9,94.6 -3.5,76.3 -3.3,58Z" fill="#23287A" stroke="#05072A" stroke-width="0.9" stroke-opacity="0.22"/>
<path d="M2.6,58 2.9,76.3 5.1,94.7 9.7,113 11.2,131.3 12.1,149.7 13.3,168 13.9,186.4 14.2,204.7 14.9,223 15.6,241.4 16.8,259.7 18.4,278 20.1,296.4 21.9,314.7 24,333 25.4,351.4 26.4,369.7 27.7,388 29.3,406.4 30.9,424.7 32.8,443.1 34.5,461.4 35.8,479.7 37.4,498.1 41.1,516.4 47.4,534.7 71.5,534.7 63,516.4 57.6,498.1 54.7,479.7 52.2,461.4 49.5,443.1 46.7,424.7 44.1,406.4 41.7,388 39.7,369.7 38,351.4 35.7,333 32.8,314.7 30.2,296.4 27.7,278 25.4,259.7 23.4,241.4 21.9,223 20.4,204.7 19.5,186.4 18.2,168 16.3,149.7 14.9,131.3 12.6,113 7.1,94.7 4.6,76.3 4.1,58Z" fill="#23287A" stroke="#05072A" stroke-width="0.9" stroke-opacity="0.22"/>
<path d="M3.4,58 3.9,75.9 6,93.9 11.2,111.8 13.3,129.8 14.5,147.7 16.1,165.6 17.1,183.6 17.7,201.5 18.7,219.4 19.7,237.4 21.3,255.3 23.1,273.3 25.2,291.2 27.5,309.1 30,327.1 32.6,345 34.2,363 36.1,380.9 38.2,398.8 40.5,416.8 42.9,434.7 45.3,452.7 47.1,470.6 48.9,488.5 51.5,506.5 56.8,524.4 79.6,524.4 72.4,506.5 68.3,488.5 65.4,470.6 62.5,452.7 59.2,434.7 55.9,416.8 52.8,398.8 49.8,380.9 47.2,363 44.9,345 41.4,327.1 38.2,309.1 35.1,291.2 32.3,273.3 29.7,255.3 27.3,237.4 25.5,219.4 23.9,201.5 22.5,183.6 20.8,165.6 18.7,147.7 16.9,129.8 14.1,111.8 7.9,93.9 5.5,75.9 5,58Z" fill="#363C96" stroke="#05072A" stroke-width="0.9" stroke-opacity="0.22"/>
<path d="M4.7,58 5.2,75.5 7.3,93.1 13.4,110.6 16.3,128.1 18,145.7 20.1,163.2 21.9,180.7 23.2,198.2 24.7,215.8 26.3,233.3 28.4,250.8 30.8,268.4 33.4,285.9 36.2,303.4 39.1,321 42.5,338.5 44.8,356 47.1,373.5 49.8,391.1 52.7,408.6 55.9,426.1 59.3,443.7 62.4,461.2 65.3,478.7 68.4,496.3 73.7,513.8 95.3,513.8 88.5,496.3 84.1,478.7 80.1,461.2 76,443.7 71.7,426.1 67.7,408.6 63.9,391.1 60.5,373.5 57.6,356 54.5,338.5 50.2,321 46.6,303.4 43.1,285.9 39.7,268.4 36.6,250.8 33.7,233.3 31.4,215.8 29.2,198.2 27.2,180.7 24.8,163.2 22.2,145.7 19.8,128.1 16.2,110.6 9.2,93.1 6.8,75.5 6.3,58Z" fill="#23287A" stroke="#05072A" stroke-width="0.9" stroke-opacity="0.22"/>
<path d="M-2.1,58 -2.1,76.2 -1.1,94.4 0.3,112.6 -0.5,130.8 -1.8,149 -2.6,167.2 -4.3,185.4 -6.6,203.6 -8.3,221.8 -10.4,239.9 -11.8,258.1 -13,276.3 -13.9,294.5 -14.7,312.7 -15.4,330.9 -16.6,349.1 -18.1,367.3 -19.1,385.5 -20.2,403.7 -21.4,421.9 -22.4,440.1 -23.8,458.3 -26,476.5 -28.5,494.7 -30.5,512.9 -31.7,531.1 -8.1,531.1 -9,512.9 -8.6,494.7 -7.3,476.5 -6.2,458.3 -5.8,440.1 -5.7,421.9 -5.5,403.7 -5.2,385.5 -4.9,367.3 -4.1,349.1 -3.8,330.9 -3.9,312.7 -3.9,294.5 -3.7,276.3 -3.3,258.1 -2.6,239.9 -1.4,221.8 -0.3,203.6 1.2,185.4 2.2,167.2 2.4,149 3.1,130.8 3.2,112.6 0.8,94.4 -0.5,76.2 -0.5,58Z" fill="#1A1E64" stroke="#05072A" stroke-width="0.9" stroke-opacity="0.22"/>
<path d="M4.5,58 5,75.8 7.2,93.7 13.1,111.5 15.8,129.3 17.5,147.2 19.6,165 21.3,182.8 22.7,200.7 24.4,218.5 26.2,236.3 28.4,254.2 30.9,272 33.4,289.8 36,307.7 38.5,325.5 41.3,343.3 42.8,361.2 44.5,379 46.6,396.8 49.1,414.7 52.1,432.5 55.4,450.3 58.6,468.2 62.1,486 66.7,503.8 74.4,521.7 94.6,521.7 85.2,503.8 79.5,486 75,468.2 70.8,450.3 66.6,432.5 62.9,414.7 59.6,396.8 56.7,379 54.4,361.2 52.2,343.3 48.7,325.5 45.5,307.7 42.3,289.8 39,272 35.9,254.2 33,236.3 30.5,218.5 28.2,200.7 26.2,182.8 23.9,165 21.3,147.2 19,129.3 15.7,111.5 8.9,93.7 6.4,75.8 5.9,58Z" fill="#23287A" stroke="#05072A" stroke-width="0.9" stroke-opacity="0.22"/>
<path d="M-7.1,58 -7.6,75.6 -7.8,93.1 -9.7,110.7 -12.7,128.3 -16.3,145.8 -19.1,163.4 -23,180.9 -27.8,198.5 -32.2,216.1 -37,233.6 -41.4,251.2 -45.7,268.8 -49.4,286.3 -53,303.9 -56.5,321.4 -60.2,339 -64.4,356.6 -67.9,374.1 -71.3,391.7 -75,409.3 -78.7,426.8 -82.6,444.4 -87.4,461.9 -93.3,479.5 -100,497.1 -107.6,514.6 -90.2,514.6 -84,497.1 -78.2,479.5 -73.2,461.9 -69.2,444.4 -66,426.8 -62.9,409.3 -59.9,391.7 -57.1,374.1 -54.2,356.6 -50.6,339 -47.6,321.4 -44.7,303.9 -41.7,286.3 -38.5,268.8 -34.8,251.2 -31.1,233.6 -26.8,216.1 -22.9,198.5 -18.7,180.9 -15.4,163.4 -13,145.8 -9.9,128.3 -7.4,110.7 -6.3,93.1 -6.3,75.6 -5.9,58Z" fill="#363C96" stroke="#05072A" stroke-width="0.9" stroke-opacity="0.22"/>
<path d="M5.4,58 6,75.7 8.4,93.5 14.9,111.2 18.1,128.9 20.1,146.7 22.6,164.4 24.7,182.1 26.4,199.9 28.5,217.6 30.7,235.3 33.4,253.1 36.3,270.8 39.4,288.5 42.5,306.3 45.7,324 49.3,341.7 51.6,359.4 53.9,377.2 56.7,394.9 59.8,412.6 63.2,430.4 67,448.1 70.6,465.8 74.4,483.6 79,501.3 86.8,519 104.5,519 95.3,501.3 89.7,483.6 85,465.8 80.6,448.1 76.1,430.4 71.9,412.6 68.1,394.9 64.7,377.2 61.9,359.4 59,341.7 54.8,324 51,306.3 47.2,288.5 43.6,270.8 40,253.1 36.7,235.3 34,217.6 31.3,199.9 29,182.1 26.4,164.4 23.5,146.7 20.9,128.9 17.2,111.2 9.9,93.5 7.3,75.7 6.7,58Z" fill="#363C96" stroke="#05072A" stroke-width="0.9" stroke-opacity="0.22"/>
<path d="M6.2,58 6.8,75.4 9.1,92.8 16.1,110.2 19.9,127.5 22.3,144.9 25,162.3 27.4,179.7 29.5,197.1 31.8,214.5 34.1,231.8 36.9,249.2 40,266.6 43.2,284 46.6,301.4 50.2,318.8 54.3,336.1 57.5,353.5 60.3,370.9 63.7,388.3 67.6,405.7 71.7,423.1 76.2,440.4 80.6,457.8 84.9,475.2 89.4,492.6 95.7,510 110.5,510 103.2,492.6 97.9,475.2 92.9,457.8 87.8,440.4 82.7,423.1 77.9,405.7 73.6,388.3 69.7,370.9 66.3,353.5 62.6,336.1 57.9,318.8 53.9,301.4 50,284 46.2,266.6 42.6,249.2 39.3,231.8 36.4,214.5 33.7,197.1 31.1,179.7 28.3,162.3 25.1,144.9 22.3,127.5 18.1,110.2 10.4,92.8 7.9,75.4 7.3,58Z" fill="#363C96" stroke="#05072A" stroke-width="0.9" stroke-opacity="0.22"/>
<rect x="-170" y="56" width="340" height="210" fill="url(#top6)" clip-path="url(#tc1)"/>
<path d="M-54.1,395 -52.1,440 -50.7,480 -52.6,440Z" fill="#363C96" opacity="0.8"/>
<path d="M-17.5,290 -20.9,380 -24.6,470 -22.4,380Z" fill="#363C96" opacity="0.8"/>
<path d="M32.4,250 37.9,340 45.1,425 40.4,340Z" fill="#363C96" opacity="0.8"/>
<path d="M52,280 53.2,293.6 55.5,312.6 58.5,334.8 61.8,358.4 65.3,381.2 68.8,401.1 72.1,418.4 75.5,435.1 79.7,450.8 84.2,465.6 89.2,479.7 94.9,492.9 101.9,505.5 110.1,517.3 118.7,528 126.8,537.4 133.5,545 138.4,550.8 147.6,543.2 142.8,537.3 135.8,529.5 127.8,520.2 119.5,509.8 111.7,498.6 105.4,487.1 100.3,474.8 95.5,461.5 91.2,447.1 87,431.8 82.5,415.8 78,398.9 73.3,379.5 68.5,357.1 63.8,333.9 59.4,311.9 55.4,293.2 52,280Z" fill="#40469f" opacity="0.9"/>
<path d="M78.1,494 79.6,496.7 82.2,499.9 85.4,503.5 88.7,507.3 92,511.2 94.9,514.6 97.9,518.1 101,522.2 103.9,526.4 106.7,530.4 109,533.8 110.7,536.3 117.3,531.7 115.6,529.3 113.3,525.9 110.6,521.9 107.5,517.5 104.3,513.3 101.1,509.4 97.4,505.9 93,502.7 88.7,499.7 84.5,497.1 81,495.1 78.1,494Z" fill="#40469f" opacity="0.9"/>
<path d="M-60.1,330 -64.1,343.4 -69,362.6 -74.7,385.1 -80.6,408.6 -86.4,430.7 -91.5,448.9 -96,463.8 -100.3,477.1 -104,489.2 -107.5,500 -110.5,509.7 -113.2,518.3 -115.6,525.5 -117.8,531.4 -119.8,536.2 -121.5,540 -123,543.3 -124.1,545.8 -113.9,550.2 -112.8,547.6 -111.5,544.6 -109.7,540.6 -107.7,535.6 -105.3,529.3 -102.8,521.7 -100,513 -97,503.3 -93.6,492.3 -89.9,480.1 -86.6,466.3 -83.1,451.1 -79.1,432.3 -74.5,409.9 -69.8,386.1 -65.5,363.3 -62,343.8 -60.1,330Z" fill="#40469f" opacity="0.9"/>
<path d="M-95,500 -97.7,504.2 -100.8,510.4 -104.2,517.8 -107.6,525.5 -110.7,532.7 -112.8,538.7 -114.1,543.7 -115.1,548 -115.8,551.7 -116.2,554.8 -116.6,557.2 -116.9,559.2 -107.1,560.8 -106.7,558.9 -106.4,556.3 -105.9,553.3 -105.2,549.8 -104.4,545.8 -103.2,541.3 -101.7,535.4 -100.1,527.9 -98.3,519.7 -96.6,511.8 -95.3,505 -95,500Z" fill="#40469f" opacity="0.9"/>
<path d="M-113.5,519.5 -101.7,519.5 -106.3,555.3 -118,557.4Z" fill="url(#end6)"/>
<path d="M-98.4,493.3 -84.9,493.3 -92.1,558.9 -105.7,561Z" fill="url(#end6)"/>
<path d="M-85.6,496.7 -72.2,496.7 -78.4,564 -91.8,562.8Z" fill="url(#end6)"/>
<path d="M-73.7,504.6 -62.2,504.6 -67,565.6 -78.4,564.5Z" fill="url(#end6)"/>
<path d="M-61,493 -48.4,493 -53.3,568.8 -65.9,567.1Z" fill="url(#end6)"/>
<path d="M-48.9,491.8 -40.2,491.8 -44.3,569.2 -53.1,567.8Z" fill="url(#end6)"/>
<path d="M-42.6,513.2 -28.7,513.2 -31.2,574.3 -45.1,576.6Z" fill="url(#end6)"/>
<path d="M-29.1,493.3 -17,493.3 -19.2,571.3 -31.3,572.3Z" fill="url(#end6)"/>
<path d="M-17.1,509.1 -3.8,509.1 -4.5,574 -17.9,572.4Z" fill="url(#end6)"/>
<path d="M-5.9,503.4 2.5,503.4 2.4,574.7 -6,572.3Z" fill="url(#end6)"/>
<path d="M2.1,497.8 12.1,497.8 12.7,573.3 2.7,573.3Z" fill="url(#end6)"/>
<path d="M11,519.2 21.9,519.2 22.9,574.5 12,576.7Z" fill="url(#end6)"/>
<path d="M19.7,520.8 32.2,520.8 33.9,575.6 21.4,576.9Z" fill="url(#end6)"/>
<path d="M30.9,514.1 42.3,514.1 44.7,571 33.2,569.5Z" fill="url(#end6)"/>
<path d="M41.8,495.9 51,495.9 55.1,573.1 45.9,575.2Z" fill="url(#end6)"/>
<path d="M49.9,497.6 60,497.6 64.7,572.9 54.6,571Z" fill="url(#end6)"/>
<path d="M61,517 73.8,517 78,571.9 65.3,574Z" fill="url(#end6)"/>
<path d="M69.7,489.4 79.8,489.4 86.5,567.8 76.4,567Z" fill="url(#end6)"/>
<path d="M81.1,497.8 92.4,497.8 98.7,561.5 87.5,559.9Z" fill="url(#end6)"/>
<path d="M88.7,480.5 97.6,480.5 106.2,561.2 97.3,559.6Z" fill="url(#end6)"/>
<path d="M97.1,491.8 111,491.8 118.9,557.6 105,556.3Z" fill="url(#end6)"/>
<path d="M115.8,529.6 128.7,529.6 132,554.3 119,552.1Z" fill="url(#end6)"/>
<path d="M65,388 68,388 87,498 82.5,498Z" fill="#fff" opacity="0.85"/>
<path d="M82.3,480 85.3,480 91,532 88,532Z" fill="#fff" opacity="0.85"/>
<path d="M107,430 109,430 118,500 116,500Z" fill="#fff" opacity="0.85"/>
<path d="M-38.1,330 -36.9,330 -45,430 -46.2,430Z" fill="#fff" opacity="0.85"/>
<path d="M-13.2,0 L13.2,0 L14.2,56 L-14,56Z" fill="#1B1E5A"/>
<path d="M-14,55 L14.2,55 L14.8,86 L15.2,96 L-14.8,100 L-14.5,90Z" fill="#1f246c"/>
<path d="M-4,58 L-3.6,120 L-3.2,250" stroke="url(#fold6)" stroke-width="1.2" fill="none"/>
<rect x="-17.5" y="48.9" width="32.5" height="7.4" rx="1.2" fill="url(#band)"/>
<path d="M14.8,52.4 L17.5,52.4" stroke="#6b5a3a" stroke-width="1"/>
</g>
<g transform="translate(953.9,874) scale(0.83)">
<path d="M22.6,100 27.7,110 31.9,120 34.9,130 37.5,140 40,150 42.6,160 45.1,170 47.5,180 49.7,190 51.9,200 54,210 56.2,220 58.3,230 60.5,240 62.8,250 65.1,260 67.3,270 69.5,280 71.6,290 73.7,300 75.7,310 77.7,320 79.9,330 82.2,340 83.7,350 85,360 86.2,370 87.5,380 89,390 90.7,400 92.5,410 94.3,420 96.3,430 98.4,440 100.4,450 102.4,460 104.4,470 106.4,480 108.5,490 111.1,500 114.8,510 119.8,520 125.8,530 133.7,540 -117.5,540 -114.1,530 -110.9,520 -108,510 -105.4,500 -103,490 -100.7,480 -98.6,470 -96.7,460 -95.1,450 -93.7,440 -92.5,430 -91.3,420 -90,410 -88.5,400 -87.1,390 -85.8,380 -84.4,370 -82.9,360 -80.9,350 -78.9,340 -76.9,330 -75,320 -73.2,310 -71.3,300 -69.3,290 -67.2,280 -65.1,270 -62.7,260 -59.9,250 -57.3,240 -54.3,230 -51.1,220 -48.4,210 -45.3,200 -41.8,190 -38.7,180 -35.7,170 -33,160 -30.8,150 -28.2,140 -25.1,130 -21.9,120 -19.2,110 -17.4,100Z" fill="#c2e3f9"/>
<path d="M14.2,56 14.3,59.8 14.3,65.3 14.4,71.5 14.6,77.4 14.8,82 15.1,85.1 15.4,87.2 15.8,88.9 16.3,90.4 17,92 17.9,93.6 18.9,95 20.1,96.4 21.3,98 22.6,100 24,102.6 25.5,105.5 27.1,108.7 28.5,111.9 29.8,115 30.9,118 31.8,121 32.6,124 33.3,127 34,130 34.7,132.8 35.2,135.3 35.8,137.9 36.4,141 37.2,145 38.3,150 39.6,155.9 41,162.3 42.3,168.8 43.6,175 44.8,181 45.9,187 46.9,193 48,199 49.1,205 50.2,211 51.3,217 52.4,223 53.5,229 54.6,235 55.8,241 57,247 58.3,253 59.5,259 60.8,265 62,271 63.2,277 64.4,283 65.6,289 66.8,295 68,301.2 69.3,307.6 70.5,313.9 71.7,319.8 72.7,325 73.6,328.9 74.4,331.7 75.1,334.3 75.8,337.5 76.7,342 77.6,348.3 78.6,355.7 79.6,363.9 80.8,372.1 82,380 83.2,387.4 84.6,394.8 86,402.2 87.5,409.6 89.1,417 90.7,424.6 92.5,432.2 94.3,439.8 96.1,447.4 98,455 99.8,462.8 101.6,470.7 103.5,478.5 105.3,485.8 106.9,492 108.4,497 109.6,500.9 110.9,504.3 112.3,507.5 114,511 115.7,514.4 116.3,515.4 117.2,517 118.3,519 119.9,521.6 110,524.7 97.3,528 88.1,531.7 80,535.6 70.8,538.7 59.2,540.3 46.3,541.1 33.5,541.6 21,542.2 8.5,542.6 -4,542.6 -16.5,542.3 -29,541.6 -41.5,540.6 -54.4,539 -67.2,537 -79,535 -89.6,533.4 -99.1,531.8 -107,529 -111.4,523.7 -109.1,517.2 -107.5,512.6 -107,511 -105.8,507.2 -104.7,503.4 -103.6,499.6 -102.5,495.8 -101.4,492 -100.3,488.2 -99.3,484.4 -98.3,480.5 -97.3,476.7 -96.4,473 -95.5,469.4 -94.7,465.8 -93.9,462.2 -93.1,458.6 -92.3,455 -91.6,451.3 -91,447.5 -90.3,443.6 -89.7,439.8 -89.1,436 -88.5,432.2 -87.9,428.4 -87.4,424.5 -86.8,420.7 -86.2,417 -85.6,413.4 -85,409.8 -84.4,406.2 -83.8,402.6 -83.2,399 -82.6,395.3 -82,391.5 -81.4,387.6 -80.8,383.8 -80.2,380 -79.7,376.2 -79.1,372.4 -78.5,368.6 -77.9,364.8 -77.3,361 -76.5,357.2 -75.8,353.4 -75,349.6 -74.1,345.8 -73.3,342 -72.6,338.3 -71.9,334.8 -71.2,331.2 -70.4,327.4 -69.6,323 -68.6,317.8 -67.5,311.8 -66.4,305.7 -65.4,299.9 -64.5,295 -63.8,291.2 -63.2,288.1 -62.6,285.4 -62.1,282.8 -61.5,280 -60.9,277 -60.4,274 -59.8,271 -59.2,268 -58.5,265 -57.8,262 -57.1,259 -56.3,256 -55.5,253 -54.8,250 -54.1,247 -53.4,244 -52.7,241 -51.9,238 -51.2,235 -50.3,232 -49.4,229 -48.5,226 -47.6,223 -46.8,220 -46,217 -45.3,214 -44.6,211 -43.9,208 -43.1,205 -42.2,202 -41.3,199 -40.4,196 -39.4,193 -38.5,190 -37.7,187 -36.8,184 -36,181 -35.2,178 -34.4,175 -33.6,172 -32.9,169 -32.2,166 -31.5,163 -30.9,160 -30.3,157 -29.7,154 -29.2,151 -28.7,148 -28.1,145 -27.4,142 -26.6,139 -25.9,136 -25.1,133 -24.3,130 -23.4,127 -22.6,124 -21.7,121 -20.9,118 -20.2,115 -19.5,111.9 -19,108.8 -18.5,105.6 -18,102.7 -17.4,100 -16.8,98.1 -16.1,96.8 -15.4,95.5 -14.8,93.5 -14.4,90 -14.2,84.2 -14.1,76.5 -14,68.3 -14,61 -14,56Z" fill="#75B8EB"/>
<path d="M-1.7,58 -1.7,76.3 -0.6,94.5 1.1,112.8 0.5,131.1 -0.6,149.3 -1.2,167.6 -2.6,185.9 -4.5,204.1 -5.9,222.4 -7.5,240.6 -8.7,258.9 -9.6,277.2 -10.4,295.4 -11.1,313.7 -11.8,332 -13.2,350.2 -14.8,368.5 -16,386.8 -17.2,405 -18.2,423.3 -18.9,441.6 -19.9,459.8 -21.4,478.1 -22.9,496.3 -23.6,514.6 -23.1,532.9 19.8,532.9 15.5,514.6 13.2,496.3 12.4,478.1 11.9,459.8 11,441.6 10.1,423.3 9.5,405 9.1,386.8 9,368.5 9.3,350.2 9.1,332 8.4,313.7 7.8,295.4 7.2,277.2 6.7,258.9 6.4,240.6 6.7,222.4 6.8,204.1 7.4,185.9 7.6,167.6 7.1,149.3 7,131.1 6.3,112.8 2.9,94.5 1.2,76.3 1.1,58Z" fill="#569DDB" stroke="#3484C8" stroke-width="0.9" stroke-opacity="0.22"/>
<path d="M-4,58 -4.1,76.3 -3.6,94.5 -3.4,112.8 -5.2,131 -7.3,149.3 -9,167.5 -11.6,185.8 -14.8,204 -17.5,222.3 -20.5,240.6 -23,258.8 -25.2,277.1 -27.1,295.3 -28.9,313.6 -30.7,331.8 -33.1,350.1 -35.5,368.4 -37.6,386.6 -39.8,404.9 -42.1,423.1 -44.4,441.4 -47.2,459.6 -50.9,477.9 -55,496.1 -58.9,514.4 -62.8,532.7 -24.7,532.7 -24.3,514.4 -22.9,496.1 -20.8,477.9 -18.9,459.6 -17.8,441.4 -17,423.1 -16.1,404.9 -15.3,386.6 -14.4,368.4 -13.1,350.1 -12.1,331.8 -11.6,313.6 -11,295.3 -10.3,277.1 -9.4,258.8 -8.1,240.6 -6.4,222.3 -4.8,204 -2.7,185.8 -1.2,167.5 -0.5,149.3 0.6,131 1.2,112.8 -0.5,94.5 -1.5,76.3 -1.5,58Z" fill="#75B8EB" stroke="#3484C8" stroke-width="0.9" stroke-opacity="0.22"/>
<path d="M-0,58 0.2,76.3 1.7,94.6 4.6,112.9 4.8,131.3 4.6,149.6 4.7,167.9 4,186.2 2.8,204.5 2.1,222.8 1.3,241.1 0.9,259.5 0.9,277.8 1.1,296.1 1.5,314.4 2,332.7 2.1,351 1.9,369.4 2.2,387.7 2.5,406 3,424.3 3.6,442.6 3.7,460.9 3.1,479.2 2.5,497.6 2.9,515.9 4.9,534.2 43.3,534.2 37.8,515.9 34.7,497.6 33.3,479.2 32,460.9 30.3,442.6 28.2,424.3 26.3,406 24.6,387.7 23.1,369.4 22.1,351 20.7,332.7 18.8,314.4 17.3,296.1 15.9,277.8 14.6,259.5 13.7,241.1 13.3,222.8 12.9,204.5 12.9,186.2 12.4,167.9 11.4,149.6 10.6,131.3 9.3,112.9 4.9,94.6 2.8,76.3 2.5,58Z" fill="#569DDB" stroke="#3484C8" stroke-width="0.9" stroke-opacity="0.22"/>
<path d="M1.8,58 2.1,76.2 4,94.3 8.1,112.5 9.4,130.6 10,148.8 11,166.9 11.4,185.1 11.4,203.2 11.9,221.4 12.2,239.5 13.1,257.7 14.1,275.8 15.2,294 16.3,312.1 17.4,330.3 18.2,348.4 18.2,366.6 18.7,384.7 19.6,402.9 20.7,421 22.4,439.2 24.1,457.3 25.6,475.5 27.4,493.6 30.7,511.8 36.3,529.9 69.2,529.9 60.6,511.8 55.1,493.6 51.6,475.5 48.6,457.3 45.5,439.2 42.6,421 40.2,402.9 38.2,384.7 36.6,366.6 35.5,348.4 33.6,330.3 31.3,312.1 29.2,294 27,275.8 24.9,257.7 23,239.5 21.6,221.4 20.1,203.2 19.1,185.1 17.7,166.9 15.9,148.8 14.4,130.6 12.2,112.5 6.7,94.3 4.4,76.2 4,58Z" fill="#66ABE4" stroke="#3484C8" stroke-width="0.9" stroke-opacity="0.22"/>
<path d="M-0.9,58 -0.8,76.5 0.6,95.1 2.8,113.6 2.5,132.2 1.8,150.7 1.4,169.3 0.2,187.8 -1.4,206.4 -2.6,224.9 -3.8,243.4 -4.7,262 -5.1,280.5 -5.4,299.1 -5.5,317.6 -5.5,336.2 -6.3,354.7 -7,373.3 -7.4,391.8 -7.7,410.3 -7.9,428.9 -8.1,447.4 -8.9,466 -10.2,484.5 -11.5,503.1 -11.5,521.6 -10,540.2 22.4,540.2 17.7,521.6 15.3,503.1 14.8,484.5 14.6,466 14,447.4 12.9,428.9 11.9,410.3 11.1,391.8 10.4,373.3 10.1,354.7 9.9,336.2 8.8,317.6 7.9,299.1 7.2,280.5 6.6,262 6.4,243.4 6.6,224.9 6.9,206.4 7.5,187.8 7.8,169.3 7.4,150.7 7.2,132.2 6.6,113.6 3.2,95.1 1.3,76.5 1.1,58Z" fill="#569DDB" stroke="#3484C8" stroke-width="0.9" stroke-opacity="0.22"/>
<path d="M-4.2,58 -4.4,76.3 -4,94.6 -4,112.9 -6,131.3 -8.2,149.6 -9.9,167.9 -12.6,186.2 -15.8,204.5 -18.5,222.8 -21.5,241.1 -24.1,259.5 -26.4,277.8 -28.7,296.1 -30.9,314.4 -33.3,332.7 -36.4,351 -39.5,369.3 -42.2,387.7 -45,406 -47.6,424.3 -50,442.6 -52.8,460.9 -56.1,479.2 -59.6,497.5 -62.8,515.9 -65.7,534.2 -36.9,534.2 -36.6,515.9 -35.4,497.5 -33.5,479.2 -31.5,460.9 -30,442.6 -28.7,424.3 -27.1,406 -25.4,387.7 -23.6,369.3 -21.3,351 -19.3,332.7 -17.9,314.4 -16.6,296.1 -15.2,277.8 -13.9,259.5 -12.2,241.1 -10.1,222.8 -8.3,204.5 -5.9,186.2 -4.1,167.9 -3.1,149.6 -1.7,131.3 -0.5,112.9 -1.6,94.6 -2.5,76.3 -2.3,58Z" fill="#90CCF4" stroke="#3484C8" stroke-width="0.9" stroke-opacity="0.22"/>
<path d="M-2.5,58 -2.6,76.5 -1.6,94.9 -0.5,113.4 -1.6,131.8 -3,150.3 -4.1,168.8 -6.1,187.2 -8.7,205.7 -10.8,224.1 -13.1,242.6 -15,261.1 -16.4,279.5 -17.7,298 -18.8,316.5 -19.8,334.9 -21.4,353.4 -22.8,371.8 -23.8,390.3 -24.8,408.8 -25.7,427.2 -26.7,445.7 -28.4,464.1 -30.9,482.6 -33.8,501.1 -36.2,519.5 -38,538 -8.5,538 -9.5,519.5 -9.3,501.1 -8,482.6 -6.9,464.1 -6.4,445.7 -6.6,427.2 -6.8,408.8 -6.8,390.3 -6.7,371.8 -6.2,353.4 -5.6,334.9 -5.7,316.5 -5.5,298 -5.1,279.5 -4.6,261.1 -3.7,242.6 -2.3,224.1 -1.1,205.7 0.6,187.2 1.8,168.8 2.1,150.3 2.8,131.8 3,113.4 0.8,94.9 -0.6,76.5 -0.7,58Z" fill="#569DDB" stroke="#3484C8" stroke-width="0.9" stroke-opacity="0.22"/>
<path d="M-1.5,58 -1.5,76.5 -0.3,95.1 1.4,113.6 0.8,132.1 -0.1,150.7 -0.8,169.2 -2.2,187.7 -4.1,206.3 -5.5,224.8 -7,243.4 -8.2,261.9 -8.9,280.4 -9.6,299 -10.3,317.5 -10.9,336 -12.4,354.6 -13.7,373.1 -14.7,391.6 -15.7,410.2 -16.5,428.7 -17.1,447.2 -18.2,465.8 -19.8,484.3 -21.1,502.8 -21.3,521.4 -20.1,539.9 9.7,539.9 5.6,521.4 3.5,502.8 3.3,484.3 3.4,465.8 3.2,447.2 2.7,428.7 2.4,410.2 2.3,391.6 2.4,373.1 2.9,354.6 3.3,336 2.9,317.5 2.6,299 2.4,280.4 2.2,261.9 2.4,243.4 3,224.8 3.5,206.3 4.5,187.7 5.1,169.2 5,150.7 5.2,132.1 5,113.6 2.1,95.1 0.4,76.5 0.3,58Z" fill="#569DDB" stroke="#3484C8" stroke-width="0.9" stroke-opacity="0.22"/>
<path d="M-0.1,58 0,76.5 1.6,94.9 4.3,113.4 4.4,131.9 4.1,150.4 4.2,168.8 3.6,187.3 2.5,205.8 1.9,224.3 1.2,242.7 0.9,261.2 0.8,279.7 0.7,298.2 0.7,316.6 0.8,335.1 -0,353.6 -0.8,372 -1.1,390.5 -1.3,409 -1,427.5 -0.5,445.9 -0.2,464.4 -0.1,482.9 0.2,501.4 2.2,519.8 6,538.3 35.5,538.3 28.9,519.8 24.7,501.4 22.8,482.9 21.3,464.4 19.7,445.9 18,427.5 16.7,409 15.8,390.5 15.2,372 15.1,353.6 14.9,335.1 13.9,316.6 13,298.2 12.1,279.7 11.2,261.2 10.6,242.7 10.4,224.3 10.1,205.8 10.3,187.3 10.1,168.8 9.3,150.4 8.8,131.9 7.8,113.4 4,94.9 2,76.5 1.7,58Z" fill="#66ABE4" stroke="#3484C8" stroke-width="0.9" stroke-opacity="0.22"/>
<path d="M0.7,58 1,76.5 2.8,95 6.1,113.5 6.7,131.9 6.7,150.4 7.1,168.9 6.7,187.4 5.9,205.9 5.5,224.4 5.1,242.9 5.1,261.4 5.6,279.8 6.2,298.3 7,316.8 8.1,335.3 8.4,353.8 8.8,372.3 9.5,390.8 10.4,409.3 11.4,427.7 12.5,446.2 12.9,464.7 12.8,483.2 12.8,501.7 14.4,520.2 17.9,538.7 47.5,538.7 41.1,520.2 37.3,501.7 35.7,483.2 34.4,464.7 32.7,446.2 30.5,427.7 28.4,409.3 26.5,390.8 24.8,372.3 23.6,353.8 22.3,335.3 20.1,316.8 18.4,298.3 16.9,279.8 15.5,261.4 14.5,242.9 14,224.4 13.5,205.9 13.4,187.4 13,168.9 11.9,150.4 11,131.9 9.6,113.5 5.2,95 2.9,76.5 2.6,58Z" fill="#66ABE4" stroke="#3484C8" stroke-width="0.9" stroke-opacity="0.22"/>
<path d="M-5.6,58 -5.9,76 -5.8,94 -6.8,112.1 -9.4,130.1 -12.2,148.1 -14.6,166.1 -17.9,184.2 -22,202.2 -25.5,220.2 -29.4,238.2 -32.8,256.3 -35.9,274.3 -38.7,292.3 -41.3,310.3 -44.1,328.4 -47.4,346.4 -51,364.4 -54,382.4 -57.3,400.4 -60.8,418.5 -64.2,436.5 -68,454.5 -72.8,472.5 -78.1,490.6 -83.7,508.6 -89.7,526.6 -62,526.6 -58.4,508.6 -54.6,490.6 -50.7,472.5 -47.2,454.5 -44.6,436.5 -42.3,418.5 -39.8,400.4 -37.5,382.4 -35.3,364.4 -32.6,346.4 -30.4,328.4 -28.5,310.3 -26.7,292.3 -24.8,274.3 -22.7,256.3 -20.2,238.2 -17.2,220.2 -14.6,202.2 -11.4,184.2 -8.8,166.1 -7.2,148.1 -5.1,130.1 -3.3,112.1 -3.5,94 -4,76 -3.8,58Z" fill="#75B8EB" stroke="#3484C8" stroke-width="0.9" stroke-opacity="0.22"/>
<path d="M-6,58 -6.3,76.1 -6.3,94.1 -7.5,112.2 -10.3,130.2 -13.4,148.3 -15.8,166.3 -19.3,184.4 -23.6,202.4 -27.2,220.5 -31.3,238.5 -34.8,256.6 -38,274.6 -41,292.7 -43.8,310.8 -46.9,328.8 -50.4,346.9 -54.4,364.9 -57.8,383 -61.5,401 -65.4,419.1 -69.2,437.1 -73.4,455.2 -78.4,473.2 -84,491.3 -89.7,509.3 -95.9,527.4 -70.5,527.4 -66.5,509.3 -62.3,491.3 -58.1,473.2 -54.2,455.2 -51.1,437.1 -48.3,419.1 -45.4,401 -42.6,383 -40,364.9 -36.9,346.9 -34.2,328.8 -32,310.8 -30,292.7 -27.9,274.6 -25.5,256.6 -22.8,238.5 -19.6,220.5 -16.8,202.4 -13.3,184.4 -10.6,166.3 -8.7,148.3 -6.4,130.2 -4.4,112.2 -4.2,94.1 -4.5,76.1 -4.3,58Z" fill="#66ABE4" stroke="#3484C8" stroke-width="0.9" stroke-opacity="0.22"/>
<path d="M-3.1,58 -3.3,76.5 -2.5,95 -1.9,113.5 -3.4,132 -5.1,150.5 -6.5,169 -8.8,187.5 -11.7,206 -14,224.5 -16.4,243 -18.5,261.5 -20,280 -21.5,298.5 -22.9,317 -24.3,335.5 -26.5,354 -28.5,372.6 -30.3,391.1 -32.3,409.6 -34.2,428.1 -36.2,446.6 -38.9,465.1 -42.2,483.6 -45.6,502.1 -48.4,520.6 -50.6,539.1 -23.3,539.1 -23.9,520.6 -23.1,502.1 -21.1,483.6 -19.1,465.1 -17.7,446.6 -16.7,428.1 -15.8,409.6 -14.8,391.1 -13.8,372.6 -12.5,354 -11.3,335.5 -10.8,317 -10.3,298.5 -9.7,280 -9,261.5 -7.8,243 -6.2,224.5 -4.7,206 -2.7,187.5 -1.1,169 -0.4,150.5 0.7,132 1.4,113.5 -0.3,95 -1.5,76.5 -1.4,58Z" fill="#66ABE4" stroke="#3484C8" stroke-width="0.9" stroke-opacity="0.22"/>
<path d="M1.7,58 1.9,76.3 3.9,94.6 7.8,112.9 8.8,131.3 9.3,149.6 10.1,167.9 10.4,186.2 10.2,204.5 10.5,222.8 10.9,241.1 11.7,259.4 12.7,277.8 13.9,296.1 15.1,314.4 16.4,332.7 17,351 17.1,369.3 17.6,387.6 18.3,405.9 19.2,424.3 20.4,442.6 21.5,460.9 22.3,479.2 23.6,497.5 26.7,515.8 32.3,534.1 58.8,534.1 50.7,515.8 45.7,497.5 43.1,479.2 41,460.9 38.8,442.6 36.5,424.3 34.7,405.9 33,387.6 31.7,369.3 30.8,351 29.3,332.7 27,314.4 25,296.1 23,277.8 21.1,259.4 19.4,241.1 18.2,222.8 17.1,204.5 16.4,186.2 15.5,167.9 14,149.6 12.8,131.3 11,112.9 6,94.6 3.7,76.3 3.4,58Z" fill="#569DDB" stroke="#3484C8" stroke-width="0.9" stroke-opacity="0.22"/>
<path d="M-6.7,58 -7.1,76.1 -7.3,94.1 -9,112.2 -12.2,130.2 -15.6,148.3 -18.4,166.4 -22.4,184.4 -27.1,202.5 -31.3,220.6 -36,238.6 -40,256.7 -43.8,274.7 -47.2,292.8 -50.5,310.9 -53.8,328.9 -57.6,347 -61.6,365 -65,383.1 -68.7,401.2 -72.7,419.2 -76.6,437.3 -81.2,455.3 -87,473.4 -93.4,491.5 -100.5,509.5 -108.6,527.6 -85.4,527.6 -79.4,509.5 -73.8,491.5 -68.5,473.4 -63.8,455.3 -60.2,437.3 -57.2,419.2 -54,401.2 -51.2,383.1 -48.5,365 -45.3,347 -42.3,328.9 -39.8,310.9 -37.3,292.8 -34.6,274.7 -31.6,256.7 -28.3,238.6 -24.4,220.6 -20.9,202.5 -16.9,184.4 -13.6,166.4 -11.4,148.3 -8.6,130.2 -6.1,112.2 -5.4,94.1 -5.5,76.1 -5.2,58Z" fill="#90CCF4" stroke="#3484C8" stroke-width="0.9" stroke-opacity="0.22"/>
<path d="M-4.9,58 -5.1,76.3 -4.9,94.6 -5.4,112.9 -7.7,131.2 -10.2,149.5 -12.3,167.8 -15.5,186 -19.3,204.3 -22.6,222.6 -26.3,240.9 -29.4,259.2 -32.2,277.5 -34.8,295.8 -37.1,314.1 -39.5,332.4 -42.3,350.7 -45.2,369 -47.5,387.3 -50.1,405.5 -52.8,423.8 -55.5,442.1 -58.9,460.4 -63.4,478.7 -68.4,497 -73.7,515.3 -79.3,533.6 -55.4,533.6 -52,515.3 -48.3,497 -44.5,478.7 -41.2,460.4 -38.8,442.1 -37.1,423.8 -35.3,405.5 -33.5,387.3 -31.9,369 -29.8,350.7 -27.8,332.4 -26.2,314.1 -24.7,295.8 -22.9,277.5 -20.9,259.2 -18.5,240.9 -15.6,222.6 -13,204.3 -9.9,186 -7.5,167.8 -5.9,149.5 -4,131.2 -2.4,112.9 -2.9,94.6 -3.5,76.3 -3.3,58Z" fill="#75B8EB" stroke="#3484C8" stroke-width="0.9" stroke-opacity="0.22"/>
<path d="M2.6,58 2.9,76.3 5.1,94.7 9.7,113 11.2,131.3 12.1,149.7 13.3,168 13.9,186.4 14.2,204.7 14.9,223 15.6,241.4 16.8,259.7 18.4,278 20.1,296.4 21.9,314.7 24,333 25.4,351.4 26.4,369.7 27.7,388 29.3,406.4 30.9,424.7 32.8,443.1 34.5,461.4 35.8,479.7 37.4,498.1 41.1,516.4 47.4,534.7 71.5,534.7 63,516.4 57.6,498.1 54.7,479.7 52.2,461.4 49.5,443.1 46.7,424.7 44.1,406.4 41.7,388 39.7,369.7 38,351.4 35.7,333 32.8,314.7 30.2,296.4 27.7,278 25.4,259.7 23.4,241.4 21.9,223 20.4,204.7 19.5,186.4 18.2,168 16.3,149.7 14.9,131.3 12.6,113 7.1,94.7 4.6,76.3 4.1,58Z" fill="#75B8EB" stroke="#3484C8" stroke-width="0.9" stroke-opacity="0.22"/>
<path d="M3.4,58 3.9,75.9 6,93.9 11.2,111.8 13.3,129.8 14.5,147.7 16.1,165.6 17.1,183.6 17.7,201.5 18.7,219.4 19.7,237.4 21.3,255.3 23.1,273.3 25.2,291.2 27.5,309.1 30,327.1 32.6,345 34.2,363 36.1,380.9 38.2,398.8 40.5,416.8 42.9,434.7 45.3,452.7 47.1,470.6 48.9,488.5 51.5,506.5 56.8,524.4 79.6,524.4 72.4,506.5 68.3,488.5 65.4,470.6 62.5,452.7 59.2,434.7 55.9,416.8 52.8,398.8 49.8,380.9 47.2,363 44.9,345 41.4,327.1 38.2,309.1 35.1,291.2 32.3,273.3 29.7,255.3 27.3,237.4 25.5,219.4 23.9,201.5 22.5,183.6 20.8,165.6 18.7,147.7 16.9,129.8 14.1,111.8 7.9,93.9 5.5,75.9 5,58Z" fill="#90CCF4" stroke="#3484C8" stroke-width="0.9" stroke-opacity="0.22"/>
<path d="M4.7,58 5.2,75.5 7.3,93.1 13.4,110.6 16.3,128.1 18,145.7 20.1,163.2 21.9,180.7 23.2,198.2 24.7,215.8 26.3,233.3 28.4,250.8 30.8,268.4 33.4,285.9 36.2,303.4 39.1,321 42.5,338.5 44.8,356 47.1,373.5 49.8,391.1 52.7,408.6 55.9,426.1 59.3,443.7 62.4,461.2 65.3,478.7 68.4,496.3 73.7,513.8 95.3,513.8 88.5,496.3 84.1,478.7 80.1,461.2 76,443.7 71.7,426.1 67.7,408.6 63.9,391.1 60.5,373.5 57.6,356 54.5,338.5 50.2,321 46.6,303.4 43.1,285.9 39.7,268.4 36.6,250.8 33.7,233.3 31.4,215.8 29.2,198.2 27.2,180.7 24.8,163.2 22.2,145.7 19.8,128.1 16.2,110.6 9.2,93.1 6.8,75.5 6.3,58Z" fill="#75B8EB" stroke="#3484C8" stroke-width="0.9" stroke-opacity="0.22"/>
<path d="M-2.1,58 -2.1,76.2 -1.1,94.4 0.3,112.6 -0.5,130.8 -1.8,149 -2.6,167.2 -4.3,185.4 -6.6,203.6 -8.3,221.8 -10.4,239.9 -11.8,258.1 -13,276.3 -13.9,294.5 -14.7,312.7 -15.4,330.9 -16.6,349.1 -18.1,367.3 -19.1,385.5 -20.2,403.7 -21.4,421.9 -22.4,440.1 -23.8,458.3 -26,476.5 -28.5,494.7 -30.5,512.9 -31.7,531.1 -8.1,531.1 -9,512.9 -8.6,494.7 -7.3,476.5 -6.2,458.3 -5.8,440.1 -5.7,421.9 -5.5,403.7 -5.2,385.5 -4.9,367.3 -4.1,349.1 -3.8,330.9 -3.9,312.7 -3.9,294.5 -3.7,276.3 -3.3,258.1 -2.6,239.9 -1.4,221.8 -0.3,203.6 1.2,185.4 2.2,167.2 2.4,149 3.1,130.8 3.2,112.6 0.8,94.4 -0.5,76.2 -0.5,58Z" fill="#66ABE4" stroke="#3484C8" stroke-width="0.9" stroke-opacity="0.22"/>
<path d="M4.5,58 5,75.8 7.2,93.7 13.1,111.5 15.8,129.3 17.5,147.2 19.6,165 21.3,182.8 22.7,200.7 24.4,218.5 26.2,236.3 28.4,254.2 30.9,272 33.4,289.8 36,307.7 38.5,325.5 41.3,343.3 42.8,361.2 44.5,379 46.6,396.8 49.1,414.7 52.1,432.5 55.4,450.3 58.6,468.2 62.1,486 66.7,503.8 74.4,521.7 94.6,521.7 85.2,503.8 79.5,486 75,468.2 70.8,450.3 66.6,432.5 62.9,414.7 59.6,396.8 56.7,379 54.4,361.2 52.2,343.3 48.7,325.5 45.5,307.7 42.3,289.8 39,272 35.9,254.2 33,236.3 30.5,218.5 28.2,200.7 26.2,182.8 23.9,165 21.3,147.2 19,129.3 15.7,111.5 8.9,93.7 6.4,75.8 5.9,58Z" fill="#75B8EB" stroke="#3484C8" stroke-width="0.9" stroke-opacity="0.22"/>
<path d="M-7.1,58 -7.6,75.6 -7.8,93.1 -9.7,110.7 -12.7,128.3 -16.3,145.8 -19.1,163.4 -23,180.9 -27.8,198.5 -32.2,216.1 -37,233.6 -41.4,251.2 -45.7,268.8 -49.4,286.3 -53,303.9 -56.5,321.4 -60.2,339 -64.4,356.6 -67.9,374.1 -71.3,391.7 -75,409.3 -78.7,426.8 -82.6,444.4 -87.4,461.9 -93.3,479.5 -100,497.1 -107.6,514.6 -90.2,514.6 -84,497.1 -78.2,479.5 -73.2,461.9 -69.2,444.4 -66,426.8 -62.9,409.3 -59.9,391.7 -57.1,374.1 -54.2,356.6 -50.6,339 -47.6,321.4 -44.7,303.9 -41.7,286.3 -38.5,268.8 -34.8,251.2 -31.1,233.6 -26.8,216.1 -22.9,198.5 -18.7,180.9 -15.4,163.4 -13,145.8 -9.9,128.3 -7.4,110.7 -6.3,93.1 -6.3,75.6 -5.9,58Z" fill="#90CCF4" stroke="#3484C8" stroke-width="0.9" stroke-opacity="0.22"/>
<path d="M5.4,58 6,75.7 8.4,93.5 14.9,111.2 18.1,128.9 20.1,146.7 22.6,164.4 24.7,182.1 26.4,199.9 28.5,217.6 30.7,235.3 33.4,253.1 36.3,270.8 39.4,288.5 42.5,306.3 45.7,324 49.3,341.7 51.6,359.4 53.9,377.2 56.7,394.9 59.8,412.6 63.2,430.4 67,448.1 70.6,465.8 74.4,483.6 79,501.3 86.8,519 104.5,519 95.3,501.3 89.7,483.6 85,465.8 80.6,448.1 76.1,430.4 71.9,412.6 68.1,394.9 64.7,377.2 61.9,359.4 59,341.7 54.8,324 51,306.3 47.2,288.5 43.6,270.8 40,253.1 36.7,235.3 34,217.6 31.3,199.9 29,182.1 26.4,164.4 23.5,146.7 20.9,128.9 17.2,111.2 9.9,93.5 7.3,75.7 6.7,58Z" fill="#90CCF4" stroke="#3484C8" stroke-width="0.9" stroke-opacity="0.22"/>
<path d="M6.2,58 6.8,75.4 9.1,92.8 16.1,110.2 19.9,127.5 22.3,144.9 25,162.3 27.4,179.7 29.5,197.1 31.8,214.5 34.1,231.8 36.9,249.2 40,266.6 43.2,284 46.6,301.4 50.2,318.8 54.3,336.1 57.5,353.5 60.3,370.9 63.7,388.3 67.6,405.7 71.7,423.1 76.2,440.4 80.6,457.8 84.9,475.2 89.4,492.6 95.7,510 110.5,510 103.2,492.6 97.9,475.2 92.9,457.8 87.8,440.4 82.7,423.1 77.9,405.7 73.6,388.3 69.7,370.9 66.3,353.5 62.6,336.1 57.9,318.8 53.9,301.4 50,284 46.2,266.6 42.6,249.2 39.3,231.8 36.4,214.5 33.7,197.1 31.1,179.7 28.3,162.3 25.1,144.9 22.3,127.5 18.1,110.2 10.4,92.8 7.9,75.4 7.3,58Z" fill="#90CCF4" stroke="#3484C8" stroke-width="0.9" stroke-opacity="0.22"/>
<rect x="-170" y="56" width="340" height="210" fill="url(#top7)" clip-path="url(#tc1)"/>
<path d="M-54.1,395 -52.1,440 -50.7,480 -52.6,440Z" fill="#90CCF4" opacity="0.8"/>
<path d="M-17.5,290 -20.9,380 -24.6,470 -22.4,380Z" fill="#90CCF4" opacity="0.8"/>
<path d="M32.4,250 37.9,340 45.1,425 40.4,340Z" fill="#90CCF4" opacity="0.8"/>
<path d="M52,280 53.2,293.6 55.5,312.6 58.5,334.8 61.8,358.4 65.3,381.2 68.8,401.1 72.1,418.4 75.5,435.1 79.7,450.8 84.2,465.6 89.2,479.7 94.9,492.9 101.9,505.5 110.1,517.3 118.7,528 126.8,537.4 133.5,545 138.4,550.8 147.6,543.2 142.8,537.3 135.8,529.5 127.8,520.2 119.5,509.8 111.7,498.6 105.4,487.1 100.3,474.8 95.5,461.5 91.2,447.1 87,431.8 82.5,415.8 78,398.9 73.3,379.5 68.5,357.1 63.8,333.9 59.4,311.9 55.4,293.2 52,280Z" fill="#9cd2f5" opacity="0.9"/>
<path d="M78.1,494 79.6,496.7 82.2,499.9 85.4,503.5 88.7,507.3 92,511.2 94.9,514.6 97.9,518.1 101,522.2 103.9,526.4 106.7,530.4 109,533.8 110.7,536.3 117.3,531.7 115.6,529.3 113.3,525.9 110.6,521.9 107.5,517.5 104.3,513.3 101.1,509.4 97.4,505.9 93,502.7 88.7,499.7 84.5,497.1 81,495.1 78.1,494Z" fill="#9cd2f5" opacity="0.9"/>
<path d="M-60.1,330 -64.1,343.4 -69,362.6 -74.7,385.1 -80.6,408.6 -86.4,430.7 -91.5,448.9 -96,463.8 -100.3,477.1 -104,489.2 -107.5,500 -110.5,509.7 -113.2,518.3 -115.6,525.5 -117.8,531.4 -119.8,536.2 -121.5,540 -123,543.3 -124.1,545.8 -113.9,550.2 -112.8,547.6 -111.5,544.6 -109.7,540.6 -107.7,535.6 -105.3,529.3 -102.8,521.7 -100,513 -97,503.3 -93.6,492.3 -89.9,480.1 -86.6,466.3 -83.1,451.1 -79.1,432.3 -74.5,409.9 -69.8,386.1 -65.5,363.3 -62,343.8 -60.1,330Z" fill="#9cd2f5" opacity="0.9"/>
<path d="M-95,500 -97.7,504.2 -100.8,510.4 -104.2,517.8 -107.6,525.5 -110.7,532.7 -112.8,538.7 -114.1,543.7 -115.1,548 -115.8,551.7 -116.2,554.8 -116.6,557.2 -116.9,559.2 -107.1,560.8 -106.7,558.9 -106.4,556.3 -105.9,553.3 -105.2,549.8 -104.4,545.8 -103.2,541.3 -101.7,535.4 -100.1,527.9 -98.3,519.7 -96.6,511.8 -95.3,505 -95,500Z" fill="#9cd2f5" opacity="0.9"/>
<path d="M-113.5,519.5 -101.7,519.5 -106.3,555.3 -118,557.4Z" fill="url(#end7)"/>
<path d="M-98.4,493.3 -84.9,493.3 -92.1,558.9 -105.7,561Z" fill="url(#end7)"/>
<path d="M-85.6,496.7 -72.2,496.7 -78.4,564 -91.8,562.8Z" fill="url(#end7)"/>
<path d="M-73.7,504.6 -62.2,504.6 -67,565.6 -78.4,564.5Z" fill="url(#end7)"/>
<path d="M-61,493 -48.4,493 -53.3,568.8 -65.9,567.1Z" fill="url(#end7)"/>
<path d="M-48.9,491.8 -40.2,491.8 -44.3,569.2 -53.1,567.8Z" fill="url(#end7)"/>
<path d="M-42.6,513.2 -28.7,513.2 -31.2,574.3 -45.1,576.6Z" fill="url(#end7)"/>
<path d="M-29.1,493.3 -17,493.3 -19.2,571.3 -31.3,572.3Z" fill="url(#end7)"/>
<path d="M-17.1,509.1 -3.8,509.1 -4.5,574 -17.9,572.4Z" fill="url(#end7)"/>
<path d="M-5.9,503.4 2.5,503.4 2.4,574.7 -6,572.3Z" fill="url(#end7)"/>
<path d="M2.1,497.8 12.1,497.8 12.7,573.3 2.7,573.3Z" fill="url(#end7)"/>
<path d="M11,519.2 21.9,519.2 22.9,574.5 12,576.7Z" fill="url(#end7)"/>
<path d="M19.7,520.8 32.2,520.8 33.9,575.6 21.4,576.9Z" fill="url(#end7)"/>
<path d="M30.9,514.1 42.3,514.1 44.7,571 33.2,569.5Z" fill="url(#end7)"/>
<path d="M41.8,495.9 51,495.9 55.1,573.1 45.9,575.2Z" fill="url(#end7)"/>
<path d="M49.9,497.6 60,497.6 64.7,572.9 54.6,571Z" fill="url(#end7)"/>
<path d="M61,517 73.8,517 78,571.9 65.3,574Z" fill="url(#end7)"/>
<path d="M69.7,489.4 79.8,489.4 86.5,567.8 76.4,567Z" fill="url(#end7)"/>
<path d="M81.1,497.8 92.4,497.8 98.7,561.5 87.5,559.9Z" fill="url(#end7)"/>
<path d="M88.7,480.5 97.6,480.5 106.2,561.2 97.3,559.6Z" fill="url(#end7)"/>
<path d="M97.1,491.8 111,491.8 118.9,557.6 105,556.3Z" fill="url(#end7)"/>
<path d="M115.8,529.6 128.7,529.6 132,554.3 119,552.1Z" fill="url(#end7)"/>
<path d="M65,388 68,388 87,498 82.5,498Z" fill="#fff" opacity="0.85"/>
<path d="M82.3,480 85.3,480 91,532 88,532Z" fill="#fff" opacity="0.85"/>
<path d="M107,430 109,430 118,500 116,500Z" fill="#fff" opacity="0.85"/>
<path d="M-38.1,330 -36.9,330 -45,430 -46.2,430Z" fill="#fff" opacity="0.85"/>
<path d="M-13.2,0 L13.2,0 L14.2,56 L-14,56Z" fill="#6FB0E4"/>
<path d="M-14,55 L14.2,55 L14.8,86 L15.2,96 L-14.8,100 L-14.5,90Z" fill="#72b4e8"/>
<path d="M-4,58 L-3.6,120 L-3.2,250" stroke="url(#fold7)" stroke-width="1.2" fill="none"/>
<rect x="-17.5" y="48.9" width="32.5" height="7.4" rx="1.2" fill="url(#band)"/>
<path d="M14.8,52.4 L17.5,52.4" stroke="#6b5a3a" stroke-width="1"/>
</g>
<g transform="translate(1216,860) scale(0.83)">
<path d="M22.6,100 27.7,110 31.9,120 34.9,130 37.5,140 40,150 42.6,160 45.1,170 47.5,180 49.7,190 51.9,200 54,210 56.2,220 58.3,230 60.5,240 62.8,250 65.1,260 67.3,270 69.5,280 71.6,290 73.7,300 75.7,310 77.7,320 79.9,330 82.2,340 83.7,350 85,360 86.2,370 87.5,380 89,390 90.7,400 92.5,410 94.3,420 96.3,430 98.4,440 100.4,450 102.4,460 104.4,470 106.4,480 108.5,490 111.1,500 114.8,510 119.8,520 125.8,530 133.7,540 -117.5,540 -114.1,530 -110.9,520 -108,510 -105.4,500 -103,490 -100.7,480 -98.6,470 -96.7,460 -95.1,450 -93.7,440 -92.5,430 -91.3,420 -90,410 -88.5,400 -87.1,390 -85.8,380 -84.4,370 -82.9,360 -80.9,350 -78.9,340 -76.9,330 -75,320 -73.2,310 -71.3,300 -69.3,290 -67.2,280 -65.1,270 -62.7,260 -59.9,250 -57.3,240 -54.3,230 -51.1,220 -48.4,210 -45.3,200 -41.8,190 -38.7,180 -35.7,170 -33,160 -30.8,150 -28.2,140 -25.1,130 -21.9,120 -19.2,110 -17.4,100Z" fill="#f9dbc4"/>
<path d="M14.2,56 14.3,59.8 14.3,65.3 14.4,71.5 14.6,77.4 14.8,82 15.1,85.1 15.4,87.2 15.8,88.9 16.3,90.4 17,92 17.9,93.6 18.9,95 20.1,96.4 21.3,98 22.6,100 24,102.6 25.5,105.5 27.1,108.7 28.5,111.9 29.8,115 30.9,118 31.8,121 32.6,124 33.3,127 34,130 34.7,132.8 35.2,135.3 35.8,137.9 36.4,141 37.2,145 38.3,150 39.6,155.9 41,162.3 42.3,168.8 43.6,175 44.8,181 45.9,187 46.9,193 48,199 49.1,205 50.2,211 51.3,217 52.4,223 53.5,229 54.6,235 55.8,241 57,247 58.3,253 59.5,259 60.8,265 62,271 63.2,277 64.4,283 65.6,289 66.8,295 68,301.2 69.3,307.6 70.5,313.9 71.7,319.8 72.7,325 73.6,328.9 74.4,331.7 75.1,334.3 75.8,337.5 76.7,342 77.6,348.3 78.6,355.7 79.6,363.9 80.8,372.1 82,380 83.2,387.4 84.6,394.8 86,402.2 87.5,409.6 89.1,417 90.7,424.6 92.5,432.2 94.3,439.8 96.1,447.4 98,455 99.8,462.8 101.6,470.7 103.5,478.5 105.3,485.8 106.9,492 108.4,497 109.6,500.9 110.9,504.3 112.3,507.5 114,511 115.7,514.4 116.3,515.4 117.2,517 118.3,519 119.9,521.6 110,524.7 97.3,528 88.1,531.7 80,535.6 70.8,538.7 59.2,540.3 46.3,541.1 33.5,541.6 21,542.2 8.5,542.6 -4,542.6 -16.5,542.3 -29,541.6 -41.5,540.6 -54.4,539 -67.2,537 -79,535 -89.6,533.4 -99.1,531.8 -107,529 -111.4,523.7 -109.1,517.2 -107.5,512.6 -107,511 -105.8,507.2 -104.7,503.4 -103.6,499.6 -102.5,495.8 -101.4,492 -100.3,488.2 -99.3,484.4 -98.3,480.5 -97.3,476.7 -96.4,473 -95.5,469.4 -94.7,465.8 -93.9,462.2 -93.1,458.6 -92.3,455 -91.6,451.3 -91,447.5 -90.3,443.6 -89.7,439.8 -89.1,436 -88.5,432.2 -87.9,428.4 -87.4,424.5 -86.8,420.7 -86.2,417 -85.6,413.4 -85,409.8 -84.4,406.2 -83.8,402.6 -83.2,399 -82.6,395.3 -82,391.5 -81.4,387.6 -80.8,383.8 -80.2,380 -79.7,376.2 -79.1,372.4 -78.5,368.6 -77.9,364.8 -77.3,361 -76.5,357.2 -75.8,353.4 -75,349.6 -74.1,345.8 -73.3,342 -72.6,338.3 -71.9,334.8 -71.2,331.2 -70.4,327.4 -69.6,323 -68.6,317.8 -67.5,311.8 -66.4,305.7 -65.4,299.9 -64.5,295 -63.8,291.2 -63.2,288.1 -62.6,285.4 -62.1,282.8 -61.5,280 -60.9,277 -60.4,274 -59.8,271 -59.2,268 -58.5,265 -57.8,262 -57.1,259 -56.3,256 -55.5,253 -54.8,250 -54.1,247 -53.4,244 -52.7,241 -51.9,238 -51.2,235 -50.3,232 -49.4,229 -48.5,226 -47.6,223 -46.8,220 -46,217 -45.3,214 -44.6,211 -43.9,208 -43.1,205 -42.2,202 -41.3,199 -40.4,196 -39.4,193 -38.5,190 -37.7,187 -36.8,184 -36,181 -35.2,178 -34.4,175 -33.6,172 -32.9,169 -32.2,166 -31.5,163 -30.9,160 -30.3,157 -29.7,154 -29.2,151 -28.7,148 -28.1,145 -27.4,142 -26.6,139 -25.9,136 -25.1,133 -24.3,130 -23.4,127 -22.6,124 -21.7,121 -20.9,118 -20.2,115 -19.5,111.9 -19,108.8 -18.5,105.6 -18,102.7 -17.4,100 -16.8,98.1 -16.1,96.8 -15.4,95.5 -14.8,93.5 -14.4,90 -14.2,84.2 -14.1,76.5 -14,68.3 -14,61 -14,56Z" fill="#EEA46E"/>
<path d="M-1.7,58 -1.7,76.3 -0.6,94.5 1.1,112.8 0.5,131.1 -0.6,149.3 -1.2,167.6 -2.6,185.9 -4.5,204.1 -5.9,222.4 -7.5,240.6 -8.7,258.9 -9.6,277.2 -10.4,295.4 -11.1,313.7 -11.8,332 -13.2,350.2 -14.8,368.5 -16,386.8 -17.2,405 -18.2,423.3 -18.9,441.6 -19.9,459.8 -21.4,478.1 -22.9,496.3 -23.6,514.6 -23.1,532.9 19.8,532.9 15.5,514.6 13.2,496.3 12.4,478.1 11.9,459.8 11,441.6 10.1,423.3 9.5,405 9.1,386.8 9,368.5 9.3,350.2 9.1,332 8.4,313.7 7.8,295.4 7.2,277.2 6.7,258.9 6.4,240.6 6.7,222.4 6.8,204.1 7.4,185.9 7.6,167.6 7.1,149.3 7,131.1 6.3,112.8 2.9,94.5 1.2,76.3 1.1,58Z" fill="#E18648" stroke="#B85E20" stroke-width="0.9" stroke-opacity="0.22"/>
<path d="M-4,58 -4.1,76.3 -3.6,94.5 -3.4,112.8 -5.2,131 -7.3,149.3 -9,167.5 -11.6,185.8 -14.8,204 -17.5,222.3 -20.5,240.6 -23,258.8 -25.2,277.1 -27.1,295.3 -28.9,313.6 -30.7,331.8 -33.1,350.1 -35.5,368.4 -37.6,386.6 -39.8,404.9 -42.1,423.1 -44.4,441.4 -47.2,459.6 -50.9,477.9 -55,496.1 -58.9,514.4 -62.8,532.7 -24.7,532.7 -24.3,514.4 -22.9,496.1 -20.8,477.9 -18.9,459.6 -17.8,441.4 -17,423.1 -16.1,404.9 -15.3,386.6 -14.4,368.4 -13.1,350.1 -12.1,331.8 -11.6,313.6 -11,295.3 -10.3,277.1 -9.4,258.8 -8.1,240.6 -6.4,222.3 -4.8,204 -2.7,185.8 -1.2,167.5 -0.5,149.3 0.6,131 1.2,112.8 -0.5,94.5 -1.5,76.3 -1.5,58Z" fill="#EEA46E" stroke="#B85E20" stroke-width="0.9" stroke-opacity="0.22"/>
<path d="M-0,58 0.2,76.3 1.7,94.6 4.6,112.9 4.8,131.3 4.6,149.6 4.7,167.9 4,186.2 2.8,204.5 2.1,222.8 1.3,241.1 0.9,259.5 0.9,277.8 1.1,296.1 1.5,314.4 2,332.7 2.1,351 1.9,369.4 2.2,387.7 2.5,406 3,424.3 3.6,442.6 3.7,460.9 3.1,479.2 2.5,497.6 2.9,515.9 4.9,534.2 43.3,534.2 37.8,515.9 34.7,497.6 33.3,479.2 32,460.9 30.3,442.6 28.2,424.3 26.3,406 24.6,387.7 23.1,369.4 22.1,351 20.7,332.7 18.8,314.4 17.3,296.1 15.9,277.8 14.6,259.5 13.7,241.1 13.3,222.8 12.9,204.5 12.9,186.2 12.4,167.9 11.4,149.6 10.6,131.3 9.3,112.9 4.9,94.6 2.8,76.3 2.5,58Z" fill="#E18648" stroke="#B85E20" stroke-width="0.9" stroke-opacity="0.22"/>
<path d="M1.8,58 2.1,76.2 4,94.3 8.1,112.5 9.4,130.6 10,148.8 11,166.9 11.4,185.1 11.4,203.2 11.9,221.4 12.2,239.5 13.1,257.7 14.1,275.8 15.2,294 16.3,312.1 17.4,330.3 18.2,348.4 18.2,366.6 18.7,384.7 19.6,402.9 20.7,421 22.4,439.2 24.1,457.3 25.6,475.5 27.4,493.6 30.7,511.8 36.3,529.9 69.2,529.9 60.6,511.8 55.1,493.6 51.6,475.5 48.6,457.3 45.5,439.2 42.6,421 40.2,402.9 38.2,384.7 36.6,366.6 35.5,348.4 33.6,330.3 31.3,312.1 29.2,294 27,275.8 24.9,257.7 23,239.5 21.6,221.4 20.1,203.2 19.1,185.1 17.7,166.9 15.9,148.8 14.4,130.6 12.2,112.5 6.7,94.3 4.4,76.2 4,58Z" fill="#E9955A" stroke="#B85E20" stroke-width="0.9" stroke-opacity="0.22"/>
<path d="M-0.9,58 -0.8,76.5 0.6,95.1 2.8,113.6 2.5,132.2 1.8,150.7 1.4,169.3 0.2,187.8 -1.4,206.4 -2.6,224.9 -3.8,243.4 -4.7,262 -5.1,280.5 -5.4,299.1 -5.5,317.6 -5.5,336.2 -6.3,354.7 -7,373.3 -7.4,391.8 -7.7,410.3 -7.9,428.9 -8.1,447.4 -8.9,466 -10.2,484.5 -11.5,503.1 -11.5,521.6 -10,540.2 22.4,540.2 17.7,521.6 15.3,503.1 14.8,484.5 14.6,466 14,447.4 12.9,428.9 11.9,410.3 11.1,391.8 10.4,373.3 10.1,354.7 9.9,336.2 8.8,317.6 7.9,299.1 7.2,280.5 6.6,262 6.4,243.4 6.6,224.9 6.9,206.4 7.5,187.8 7.8,169.3 7.4,150.7 7.2,132.2 6.6,113.6 3.2,95.1 1.3,76.5 1.1,58Z" fill="#E18648" stroke="#B85E20" stroke-width="0.9" stroke-opacity="0.22"/>
<path d="M-4.2,58 -4.4,76.3 -4,94.6 -4,112.9 -6,131.3 -8.2,149.6 -9.9,167.9 -12.6,186.2 -15.8,204.5 -18.5,222.8 -21.5,241.1 -24.1,259.5 -26.4,277.8 -28.7,296.1 -30.9,314.4 -33.3,332.7 -36.4,351 -39.5,369.3 -42.2,387.7 -45,406 -47.6,424.3 -50,442.6 -52.8,460.9 -56.1,479.2 -59.6,497.5 -62.8,515.9 -65.7,534.2 -36.9,534.2 -36.6,515.9 -35.4,497.5 -33.5,479.2 -31.5,460.9 -30,442.6 -28.7,424.3 -27.1,406 -25.4,387.7 -23.6,369.3 -21.3,351 -19.3,332.7 -17.9,314.4 -16.6,296.1 -15.2,277.8 -13.9,259.5 -12.2,241.1 -10.1,222.8 -8.3,204.5 -5.9,186.2 -4.1,167.9 -3.1,149.6 -1.7,131.3 -0.5,112.9 -1.6,94.6 -2.5,76.3 -2.3,58Z" fill="#F4BD94" stroke="#B85E20" stroke-width="0.9" stroke-opacity="0.22"/>
<path d="M-2.5,58 -2.6,76.5 -1.6,94.9 -0.5,113.4 -1.6,131.8 -3,150.3 -4.1,168.8 -6.1,187.2 -8.7,205.7 -10.8,224.1 -13.1,242.6 -15,261.1 -16.4,279.5 -17.7,298 -18.8,316.5 -19.8,334.9 -21.4,353.4 -22.8,371.8 -23.8,390.3 -24.8,408.8 -25.7,427.2 -26.7,445.7 -28.4,464.1 -30.9,482.6 -33.8,501.1 -36.2,519.5 -38,538 -8.5,538 -9.5,519.5 -9.3,501.1 -8,482.6 -6.9,464.1 -6.4,445.7 -6.6,427.2 -6.8,408.8 -6.8,390.3 -6.7,371.8 -6.2,353.4 -5.6,334.9 -5.7,316.5 -5.5,298 -5.1,279.5 -4.6,261.1 -3.7,242.6 -2.3,224.1 -1.1,205.7 0.6,187.2 1.8,168.8 2.1,150.3 2.8,131.8 3,113.4 0.8,94.9 -0.6,76.5 -0.7,58Z" fill="#E18648" stroke="#B85E20" stroke-width="0.9" stroke-opacity="0.22"/>
<path d="M-1.5,58 -1.5,76.5 -0.3,95.1 1.4,113.6 0.8,132.1 -0.1,150.7 -0.8,169.2 -2.2,187.7 -4.1,206.3 -5.5,224.8 -7,243.4 -8.2,261.9 -8.9,280.4 -9.6,299 -10.3,317.5 -10.9,336 -12.4,354.6 -13.7,373.1 -14.7,391.6 -15.7,410.2 -16.5,428.7 -17.1,447.2 -18.2,465.8 -19.8,484.3 -21.1,502.8 -21.3,521.4 -20.1,539.9 9.7,539.9 5.6,521.4 3.5,502.8 3.3,484.3 3.4,465.8 3.2,447.2 2.7,428.7 2.4,410.2 2.3,391.6 2.4,373.1 2.9,354.6 3.3,336 2.9,317.5 2.6,299 2.4,280.4 2.2,261.9 2.4,243.4 3,224.8 3.5,206.3 4.5,187.7 5.1,169.2 5,150.7 5.2,132.1 5,113.6 2.1,95.1 0.4,76.5 0.3,58Z" fill="#E18648" stroke="#B85E20" stroke-width="0.9" stroke-opacity="0.22"/>
<path d="M-0.1,58 0,76.5 1.6,94.9 4.3,113.4 4.4,131.9 4.1,150.4 4.2,168.8 3.6,187.3 2.5,205.8 1.9,224.3 1.2,242.7 0.9,261.2 0.8,279.7 0.7,298.2 0.7,316.6 0.8,335.1 -0,353.6 -0.8,372 -1.1,390.5 -1.3,409 -1,427.5 -0.5,445.9 -0.2,464.4 -0.1,482.9 0.2,501.4 2.2,519.8 6,538.3 35.5,538.3 28.9,519.8 24.7,501.4 22.8,482.9 21.3,464.4 19.7,445.9 18,427.5 16.7,409 15.8,390.5 15.2,372 15.1,353.6 14.9,335.1 13.9,316.6 13,298.2 12.1,279.7 11.2,261.2 10.6,242.7 10.4,224.3 10.1,205.8 10.3,187.3 10.1,168.8 9.3,150.4 8.8,131.9 7.8,113.4 4,94.9 2,76.5 1.7,58Z" fill="#E9955A" stroke="#B85E20" stroke-width="0.9" stroke-opacity="0.22"/>
<path d="M0.7,58 1,76.5 2.8,95 6.1,113.5 6.7,131.9 6.7,150.4 7.1,168.9 6.7,187.4 5.9,205.9 5.5,224.4 5.1,242.9 5.1,261.4 5.6,279.8 6.2,298.3 7,316.8 8.1,335.3 8.4,353.8 8.8,372.3 9.5,390.8 10.4,409.3 11.4,427.7 12.5,446.2 12.9,464.7 12.8,483.2 12.8,501.7 14.4,520.2 17.9,538.7 47.5,538.7 41.1,520.2 37.3,501.7 35.7,483.2 34.4,464.7 32.7,446.2 30.5,427.7 28.4,409.3 26.5,390.8 24.8,372.3 23.6,353.8 22.3,335.3 20.1,316.8 18.4,298.3 16.9,279.8 15.5,261.4 14.5,242.9 14,224.4 13.5,205.9 13.4,187.4 13,168.9 11.9,150.4 11,131.9 9.6,113.5 5.2,95 2.9,76.5 2.6,58Z" fill="#E9955A" stroke="#B85E20" stroke-width="0.9" stroke-opacity="0.22"/>
<path d="M-5.6,58 -5.9,76 -5.8,94 -6.8,112.1 -9.4,130.1 -12.2,148.1 -14.6,166.1 -17.9,184.2 -22,202.2 -25.5,220.2 -29.4,238.2 -32.8,256.3 -35.9,274.3 -38.7,292.3 -41.3,310.3 -44.1,328.4 -47.4,346.4 -51,364.4 -54,382.4 -57.3,400.4 -60.8,418.5 -64.2,436.5 -68,454.5 -72.8,472.5 -78.1,490.6 -83.7,508.6 -89.7,526.6 -62,526.6 -58.4,508.6 -54.6,490.6 -50.7,472.5 -47.2,454.5 -44.6,436.5 -42.3,418.5 -39.8,400.4 -37.5,382.4 -35.3,364.4 -32.6,346.4 -30.4,328.4 -28.5,310.3 -26.7,292.3 -24.8,274.3 -22.7,256.3 -20.2,238.2 -17.2,220.2 -14.6,202.2 -11.4,184.2 -8.8,166.1 -7.2,148.1 -5.1,130.1 -3.3,112.1 -3.5,94 -4,76 -3.8,58Z" fill="#EEA46E" stroke="#B85E20" stroke-width="0.9" stroke-opacity="0.22"/>
<path d="M-6,58 -6.3,76.1 -6.3,94.1 -7.5,112.2 -10.3,130.2 -13.4,148.3 -15.8,166.3 -19.3,184.4 -23.6,202.4 -27.2,220.5 -31.3,238.5 -34.8,256.6 -38,274.6 -41,292.7 -43.8,310.8 -46.9,328.8 -50.4,346.9 -54.4,364.9 -57.8,383 -61.5,401 -65.4,419.1 -69.2,437.1 -73.4,455.2 -78.4,473.2 -84,491.3 -89.7,509.3 -95.9,527.4 -70.5,527.4 -66.5,509.3 -62.3,491.3 -58.1,473.2 -54.2,455.2 -51.1,437.1 -48.3,419.1 -45.4,401 -42.6,383 -40,364.9 -36.9,346.9 -34.2,328.8 -32,310.8 -30,292.7 -27.9,274.6 -25.5,256.6 -22.8,238.5 -19.6,220.5 -16.8,202.4 -13.3,184.4 -10.6,166.3 -8.7,148.3 -6.4,130.2 -4.4,112.2 -4.2,94.1 -4.5,76.1 -4.3,58Z" fill="#E9955A" stroke="#B85E20" stroke-width="0.9" stroke-opacity="0.22"/>
<path d="M-3.1,58 -3.3,76.5 -2.5,95 -1.9,113.5 -3.4,132 -5.1,150.5 -6.5,169 -8.8,187.5 -11.7,206 -14,224.5 -16.4,243 -18.5,261.5 -20,280 -21.5,298.5 -22.9,317 -24.3,335.5 -26.5,354 -28.5,372.6 -30.3,391.1 -32.3,409.6 -34.2,428.1 -36.2,446.6 -38.9,465.1 -42.2,483.6 -45.6,502.1 -48.4,520.6 -50.6,539.1 -23.3,539.1 -23.9,520.6 -23.1,502.1 -21.1,483.6 -19.1,465.1 -17.7,446.6 -16.7,428.1 -15.8,409.6 -14.8,391.1 -13.8,372.6 -12.5,354 -11.3,335.5 -10.8,317 -10.3,298.5 -9.7,280 -9,261.5 -7.8,243 -6.2,224.5 -4.7,206 -2.7,187.5 -1.1,169 -0.4,150.5 0.7,132 1.4,113.5 -0.3,95 -1.5,76.5 -1.4,58Z" fill="#E9955A" stroke="#B85E20" stroke-width="0.9" stroke-opacity="0.22"/>
<path d="M1.7,58 1.9,76.3 3.9,94.6 7.8,112.9 8.8,131.3 9.3,149.6 10.1,167.9 10.4,186.2 10.2,204.5 10.5,222.8 10.9,241.1 11.7,259.4 12.7,277.8 13.9,296.1 15.1,314.4 16.4,332.7 17,351 17.1,369.3 17.6,387.6 18.3,405.9 19.2,424.3 20.4,442.6 21.5,460.9 22.3,479.2 23.6,497.5 26.7,515.8 32.3,534.1 58.8,534.1 50.7,515.8 45.7,497.5 43.1,479.2 41,460.9 38.8,442.6 36.5,424.3 34.7,405.9 33,387.6 31.7,369.3 30.8,351 29.3,332.7 27,314.4 25,296.1 23,277.8 21.1,259.4 19.4,241.1 18.2,222.8 17.1,204.5 16.4,186.2 15.5,167.9 14,149.6 12.8,131.3 11,112.9 6,94.6 3.7,76.3 3.4,58Z" fill="#E18648" stroke="#B85E20" stroke-width="0.9" stroke-opacity="0.22"/>
<path d="M-6.7,58 -7.1,76.1 -7.3,94.1 -9,112.2 -12.2,130.2 -15.6,148.3 -18.4,166.4 -22.4,184.4 -27.1,202.5 -31.3,220.6 -36,238.6 -40,256.7 -43.8,274.7 -47.2,292.8 -50.5,310.9 -53.8,328.9 -57.6,347 -61.6,365 -65,383.1 -68.7,401.2 -72.7,419.2 -76.6,437.3 -81.2,455.3 -87,473.4 -93.4,491.5 -100.5,509.5 -108.6,527.6 -85.4,527.6 -79.4,509.5 -73.8,491.5 -68.5,473.4 -63.8,455.3 -60.2,437.3 -57.2,419.2 -54,401.2 -51.2,383.1 -48.5,365 -45.3,347 -42.3,328.9 -39.8,310.9 -37.3,292.8 -34.6,274.7 -31.6,256.7 -28.3,238.6 -24.4,220.6 -20.9,202.5 -16.9,184.4 -13.6,166.4 -11.4,148.3 -8.6,130.2 -6.1,112.2 -5.4,94.1 -5.5,76.1 -5.2,58Z" fill="#F4BD94" stroke="#B85E20" stroke-width="0.9" stroke-opacity="0.22"/>
<path d="M-4.9,58 -5.1,76.3 -4.9,94.6 -5.4,112.9 -7.7,131.2 -10.2,149.5 -12.3,167.8 -15.5,186 -19.3,204.3 -22.6,222.6 -26.3,240.9 -29.4,259.2 -32.2,277.5 -34.8,295.8 -37.1,314.1 -39.5,332.4 -42.3,350.7 -45.2,369 -47.5,387.3 -50.1,405.5 -52.8,423.8 -55.5,442.1 -58.9,460.4 -63.4,478.7 -68.4,497 -73.7,515.3 -79.3,533.6 -55.4,533.6 -52,515.3 -48.3,497 -44.5,478.7 -41.2,460.4 -38.8,442.1 -37.1,423.8 -35.3,405.5 -33.5,387.3 -31.9,369 -29.8,350.7 -27.8,332.4 -26.2,314.1 -24.7,295.8 -22.9,277.5 -20.9,259.2 -18.5,240.9 -15.6,222.6 -13,204.3 -9.9,186 -7.5,167.8 -5.9,149.5 -4,131.2 -2.4,112.9 -2.9,94.6 -3.5,76.3 -3.3,58Z" fill="#EEA46E" stroke="#B85E20" stroke-width="0.9" stroke-opacity="0.22"/>
<path d="M2.6,58 2.9,76.3 5.1,94.7 9.7,113 11.2,131.3 12.1,149.7 13.3,168 13.9,186.4 14.2,204.7 14.9,223 15.6,241.4 16.8,259.7 18.4,278 20.1,296.4 21.9,314.7 24,333 25.4,351.4 26.4,369.7 27.7,388 29.3,406.4 30.9,424.7 32.8,443.1 34.5,461.4 35.8,479.7 37.4,498.1 41.1,516.4 47.4,534.7 71.5,534.7 63,516.4 57.6,498.1 54.7,479.7 52.2,461.4 49.5,443.1 46.7,424.7 44.1,406.4 41.7,388 39.7,369.7 38,351.4 35.7,333 32.8,314.7 30.2,296.4 27.7,278 25.4,259.7 23.4,241.4 21.9,223 20.4,204.7 19.5,186.4 18.2,168 16.3,149.7 14.9,131.3 12.6,113 7.1,94.7 4.6,76.3 4.1,58Z" fill="#EEA46E" stroke="#B85E20" stroke-width="0.9" stroke-opacity="0.22"/>
<path d="M3.4,58 3.9,75.9 6,93.9 11.2,111.8 13.3,129.8 14.5,147.7 16.1,165.6 17.1,183.6 17.7,201.5 18.7,219.4 19.7,237.4 21.3,255.3 23.1,273.3 25.2,291.2 27.5,309.1 30,327.1 32.6,345 34.2,363 36.1,380.9 38.2,398.8 40.5,416.8 42.9,434.7 45.3,452.7 47.1,470.6 48.9,488.5 51.5,506.5 56.8,524.4 79.6,524.4 72.4,506.5 68.3,488.5 65.4,470.6 62.5,452.7 59.2,434.7 55.9,416.8 52.8,398.8 49.8,380.9 47.2,363 44.9,345 41.4,327.1 38.2,309.1 35.1,291.2 32.3,273.3 29.7,255.3 27.3,237.4 25.5,219.4 23.9,201.5 22.5,183.6 20.8,165.6 18.7,147.7 16.9,129.8 14.1,111.8 7.9,93.9 5.5,75.9 5,58Z" fill="#F4BD94" stroke="#B85E20" stroke-width="0.9" stroke-opacity="0.22"/>
<path d="M4.7,58 5.2,75.5 7.3,93.1 13.4,110.6 16.3,128.1 18,145.7 20.1,163.2 21.9,180.7 23.2,198.2 24.7,215.8 26.3,233.3 28.4,250.8 30.8,268.4 33.4,285.9 36.2,303.4 39.1,321 42.5,338.5 44.8,356 47.1,373.5 49.8,391.1 52.7,408.6 55.9,426.1 59.3,443.7 62.4,461.2 65.3,478.7 68.4,496.3 73.7,513.8 95.3,513.8 88.5,496.3 84.1,478.7 80.1,461.2 76,443.7 71.7,426.1 67.7,408.6 63.9,391.1 60.5,373.5 57.6,356 54.5,338.5 50.2,321 46.6,303.4 43.1,285.9 39.7,268.4 36.6,250.8 33.7,233.3 31.4,215.8 29.2,198.2 27.2,180.7 24.8,163.2 22.2,145.7 19.8,128.1 16.2,110.6 9.2,93.1 6.8,75.5 6.3,58Z" fill="#EEA46E" stroke="#B85E20" stroke-width="0.9" stroke-opacity="0.22"/>
<path d="M-2.1,58 -2.1,76.2 -1.1,94.4 0.3,112.6 -0.5,130.8 -1.8,149 -2.6,167.2 -4.3,185.4 -6.6,203.6 -8.3,221.8 -10.4,239.9 -11.8,258.1 -13,276.3 -13.9,294.5 -14.7,312.7 -15.4,330.9 -16.6,349.1 -18.1,367.3 -19.1,385.5 -20.2,403.7 -21.4,421.9 -22.4,440.1 -23.8,458.3 -26,476.5 -28.5,494.7 -30.5,512.9 -31.7,531.1 -8.1,531.1 -9,512.9 -8.6,494.7 -7.3,476.5 -6.2,458.3 -5.8,440.1 -5.7,421.9 -5.5,403.7 -5.2,385.5 -4.9,367.3 -4.1,349.1 -3.8,330.9 -3.9,312.7 -3.9,294.5 -3.7,276.3 -3.3,258.1 -2.6,239.9 -1.4,221.8 -0.3,203.6 1.2,185.4 2.2,167.2 2.4,149 3.1,130.8 3.2,112.6 0.8,94.4 -0.5,76.2 -0.5,58Z" fill="#E9955A" stroke="#B85E20" stroke-width="0.9" stroke-opacity="0.22"/>
<path d="M4.5,58 5,75.8 7.2,93.7 13.1,111.5 15.8,129.3 17.5,147.2 19.6,165 21.3,182.8 22.7,200.7 24.4,218.5 26.2,236.3 28.4,254.2 30.9,272 33.4,289.8 36,307.7 38.5,325.5 41.3,343.3 42.8,361.2 44.5,379 46.6,396.8 49.1,414.7 52.1,432.5 55.4,450.3 58.6,468.2 62.1,486 66.7,503.8 74.4,521.7 94.6,521.7 85.2,503.8 79.5,486 75,468.2 70.8,450.3 66.6,432.5 62.9,414.7 59.6,396.8 56.7,379 54.4,361.2 52.2,343.3 48.7,325.5 45.5,307.7 42.3,289.8 39,272 35.9,254.2 33,236.3 30.5,218.5 28.2,200.7 26.2,182.8 23.9,165 21.3,147.2 19,129.3 15.7,111.5 8.9,93.7 6.4,75.8 5.9,58Z" fill="#EEA46E" stroke="#B85E20" stroke-width="0.9" stroke-opacity="0.22"/>
<path d="M-7.1,58 -7.6,75.6 -7.8,93.1 -9.7,110.7 -12.7,128.3 -16.3,145.8 -19.1,163.4 -23,180.9 -27.8,198.5 -32.2,216.1 -37,233.6 -41.4,251.2 -45.7,268.8 -49.4,286.3 -53,303.9 -56.5,321.4 -60.2,339 -64.4,356.6 -67.9,374.1 -71.3,391.7 -75,409.3 -78.7,426.8 -82.6,444.4 -87.4,461.9 -93.3,479.5 -100,497.1 -107.6,514.6 -90.2,514.6 -84,497.1 -78.2,479.5 -73.2,461.9 -69.2,444.4 -66,426.8 -62.9,409.3 -59.9,391.7 -57.1,374.1 -54.2,356.6 -50.6,339 -47.6,321.4 -44.7,303.9 -41.7,286.3 -38.5,268.8 -34.8,251.2 -31.1,233.6 -26.8,216.1 -22.9,198.5 -18.7,180.9 -15.4,163.4 -13,145.8 -9.9,128.3 -7.4,110.7 -6.3,93.1 -6.3,75.6 -5.9,58Z" fill="#F4BD94" stroke="#B85E20" stroke-width="0.9" stroke-opacity="0.22"/>
<path d="M5.4,58 6,75.7 8.4,93.5 14.9,111.2 18.1,128.9 20.1,146.7 22.6,164.4 24.7,182.1 26.4,199.9 28.5,217.6 30.7,235.3 33.4,253.1 36.3,270.8 39.4,288.5 42.5,306.3 45.7,324 49.3,341.7 51.6,359.4 53.9,377.2 56.7,394.9 59.8,412.6 63.2,430.4 67,448.1 70.6,465.8 74.4,483.6 79,501.3 86.8,519 104.5,519 95.3,501.3 89.7,483.6 85,465.8 80.6,448.1 76.1,430.4 71.9,412.6 68.1,394.9 64.7,377.2 61.9,359.4 59,341.7 54.8,324 51,306.3 47.2,288.5 43.6,270.8 40,253.1 36.7,235.3 34,217.6 31.3,199.9 29,182.1 26.4,164.4 23.5,146.7 20.9,128.9 17.2,111.2 9.9,93.5 7.3,75.7 6.7,58Z" fill="#F4BD94" stroke="#B85E20" stroke-width="0.9" stroke-opacity="0.22"/>
<path d="M6.2,58 6.8,75.4 9.1,92.8 16.1,110.2 19.9,127.5 22.3,144.9 25,162.3 27.4,179.7 29.5,197.1 31.8,214.5 34.1,231.8 36.9,249.2 40,266.6 43.2,284 46.6,301.4 50.2,318.8 54.3,336.1 57.5,353.5 60.3,370.9 63.7,388.3 67.6,405.7 71.7,423.1 76.2,440.4 80.6,457.8 84.9,475.2 89.4,492.6 95.7,510 110.5,510 103.2,492.6 97.9,475.2 92.9,457.8 87.8,440.4 82.7,423.1 77.9,405.7 73.6,388.3 69.7,370.9 66.3,353.5 62.6,336.1 57.9,318.8 53.9,301.4 50,284 46.2,266.6 42.6,249.2 39.3,231.8 36.4,214.5 33.7,197.1 31.1,179.7 28.3,162.3 25.1,144.9 22.3,127.5 18.1,110.2 10.4,92.8 7.9,75.4 7.3,58Z" fill="#F4BD94" stroke="#B85E20" stroke-width="0.9" stroke-opacity="0.22"/>
<rect x="-170" y="56" width="340" height="210" fill="url(#top8)" clip-path="url(#tc1)"/>
<path d="M-54.1,395 -52.1,440 -50.7,480 -52.6,440Z" fill="#F4BD94" opacity="0.8"/>
<path d="M-17.5,290 -20.9,380 -24.6,470 -22.4,380Z" fill="#F4BD94" opacity="0.8"/>
<path d="M32.4,250 37.9,340 45.1,425 40.4,340Z" fill="#F4BD94" opacity="0.8"/>
<path d="M52,280 53.2,293.6 55.5,312.6 58.5,334.8 61.8,358.4 65.3,381.2 68.8,401.1 72.1,418.4 75.5,435.1 79.7,450.8 84.2,465.6 89.2,479.7 94.9,492.9 101.9,505.5 110.1,517.3 118.7,528 126.8,537.4 133.5,545 138.4,550.8 147.6,543.2 142.8,537.3 135.8,529.5 127.8,520.2 119.5,509.8 111.7,498.6 105.4,487.1 100.3,474.8 95.5,461.5 91.2,447.1 87,431.8 82.5,415.8 78,398.9 73.3,379.5 68.5,357.1 63.8,333.9 59.4,311.9 55.4,293.2 52,280Z" fill="#f5c29e" opacity="0.9"/>
<path d="M78.1,494 79.6,496.7 82.2,499.9 85.4,503.5 88.7,507.3 92,511.2 94.9,514.6 97.9,518.1 101,522.2 103.9,526.4 106.7,530.4 109,533.8 110.7,536.3 117.3,531.7 115.6,529.3 113.3,525.9 110.6,521.9 107.5,517.5 104.3,513.3 101.1,509.4 97.4,505.9 93,502.7 88.7,499.7 84.5,497.1 81,495.1 78.1,494Z" fill="#f5c29e" opacity="0.9"/>
<path d="M-60.1,330 -64.1,343.4 -69,362.6 -74.7,385.1 -80.6,408.6 -86.4,430.7 -91.5,448.9 -96,463.8 -100.3,477.1 -104,489.2 -107.5,500 -110.5,509.7 -113.2,518.3 -115.6,525.5 -117.8,531.4 -119.8,536.2 -121.5,540 -123,543.3 -124.1,545.8 -113.9,550.2 -112.8,547.6 -111.5,544.6 -109.7,540.6 -107.7,535.6 -105.3,529.3 -102.8,521.7 -100,513 -97,503.3 -93.6,492.3 -89.9,480.1 -86.6,466.3 -83.1,451.1 -79.1,432.3 -74.5,409.9 -69.8,386.1 -65.5,363.3 -62,343.8 -60.1,330Z" fill="#f5c29e" opacity="0.9"/>
<path d="M-95,500 -97.7,504.2 -100.8,510.4 -104.2,517.8 -107.6,525.5 -110.7,532.7 -112.8,538.7 -114.1,543.7 -115.1,548 -115.8,551.7 -116.2,554.8 -116.6,557.2 -116.9,559.2 -107.1,560.8 -106.7,558.9 -106.4,556.3 -105.9,553.3 -105.2,549.8 -104.4,545.8 -103.2,541.3 -101.7,535.4 -100.1,527.9 -98.3,519.7 -96.6,511.8 -95.3,505 -95,500Z" fill="#f5c29e" opacity="0.9"/>
<path d="M-113.5,519.5 -101.7,519.5 -106.3,555.3 -118,557.4Z" fill="url(#end8)"/>
<path d="M-98.4,493.3 -84.9,493.3 -92.1,558.9 -105.7,561Z" fill="url(#end8)"/>
<path d="M-85.6,496.7 -72.2,496.7 -78.4,564 -91.8,562.8Z" fill="url(#end8)"/>
<path d="M-73.7,504.6 -62.2,504.6 -67,565.6 -78.4,564.5Z" fill="url(#end8)"/>
<path d="M-61,493 -48.4,493 -53.3,568.8 -65.9,567.1Z" fill="url(#end8)"/>
<path d="M-48.9,491.8 -40.2,491.8 -44.3,569.2 -53.1,567.8Z" fill="url(#end8)"/>
<path d="M-42.6,513.2 -28.7,513.2 -31.2,574.3 -45.1,576.6Z" fill="url(#end8)"/>
<path d="M-29.1,493.3 -17,493.3 -19.2,571.3 -31.3,572.3Z" fill="url(#end8)"/>
<path d="M-17.1,509.1 -3.8,509.1 -4.5,574 -17.9,572.4Z" fill="url(#end8)"/>
<path d="M-5.9,503.4 2.5,503.4 2.4,574.7 -6,572.3Z" fill="url(#end8)"/>
<path d="M2.1,497.8 12.1,497.8 12.7,573.3 2.7,573.3Z" fill="url(#end8)"/>
<path d="M11,519.2 21.9,519.2 22.9,574.5 12,576.7Z" fill="url(#end8)"/>
<path d="M19.7,520.8 32.2,520.8 33.9,575.6 21.4,576.9Z" fill="url(#end8)"/>
<path d="M30.9,514.1 42.3,514.1 44.7,571 33.2,569.5Z" fill="url(#end8)"/>
<path d="M41.8,495.9 51,495.9 55.1,573.1 45.9,575.2Z" fill="url(#end8)"/>
<path d="M49.9,497.6 60,497.6 64.7,572.9 54.6,571Z" fill="url(#end8)"/>
<path d="M61,517 73.8,517 78,571.9 65.3,574Z" fill="url(#end8)"/>
<path d="M69.7,489.4 79.8,489.4 86.5,567.8 76.4,567Z" fill="url(#end8)"/>
<path d="M81.1,497.8 92.4,497.8 98.7,561.5 87.5,559.9Z" fill="url(#end8)"/>
<path d="M88.7,480.5 97.6,480.5 106.2,561.2 97.3,559.6Z" fill="url(#end8)"/>
<path d="M97.1,491.8 111,491.8 118.9,557.6 105,556.3Z" fill="url(#end8)"/>
<path d="M115.8,529.6 128.7,529.6 132,554.3 119,552.1Z" fill="url(#end8)"/>
<path d="M65,388 68,388 87,498 82.5,498Z" fill="#fff" opacity="0.85"/>
<path d="M82.3,480 85.3,480 91,532 88,532Z" fill="#fff" opacity="0.85"/>
<path d="M107,430 109,430 118,500 116,500Z" fill="#fff" opacity="0.85"/>
<path d="M-38.1,330 -36.9,330 -45,430 -46.2,430Z" fill="#fff" opacity="0.85"/>
<path d="M-13.2,0 L13.2,0 L14.2,56 L-14,56Z" fill="#D5864F"/>
<path d="M-14,55 L14.2,55 L14.8,86 L15.2,96 L-14.8,100 L-14.5,90Z" fill="#e39660"/>
<path d="M-4,58 L-3.6,120 L-3.2,250" stroke="url(#fold8)" stroke-width="1.2" fill="none"/>
<rect x="-17.5" y="48.9" width="32.5" height="7.4" rx="1.2" fill="url(#band)"/>
<path d="M14.8,52.4 L17.5,52.4" stroke="#6b5a3a" stroke-width="1"/>
</g>
<g transform="translate(1461.8,834) scale(0.83)">
<path d="M22.6,100 27.7,110 31.9,120 34.9,130 37.5,140 40,150 42.6,160 45.1,170 47.5,180 49.7,190 51.9,200 54,210 56.2,220 58.3,230 60.5,240 62.8,250 65.1,260 67.3,270 69.5,280 71.6,290 73.7,300 75.7,310 77.7,320 79.9,330 82.2,340 83.7,350 85,360 86.2,370 87.5,380 89,390 90.7,400 92.5,410 94.3,420 96.3,430 98.4,440 100.4,450 102.4,460 104.4,470 106.4,480 108.5,490 111.1,500 114.8,510 119.8,520 125.8,530 133.7,540 -117.5,540 -114.1,530 -110.9,520 -108,510 -105.4,500 -103,490 -100.7,480 -98.6,470 -96.7,460 -95.1,450 -93.7,440 -92.5,430 -91.3,420 -90,410 -88.5,400 -87.1,390 -85.8,380 -84.4,370 -82.9,360 -80.9,350 -78.9,340 -76.9,330 -75,320 -73.2,310 -71.3,300 -69.3,290 -67.2,280 -65.1,270 -62.7,260 -59.9,250 -57.3,240 -54.3,230 -51.1,220 -48.4,210 -45.3,200 -41.8,190 -38.7,180 -35.7,170 -33,160 -30.8,150 -28.2,140 -25.1,130 -21.9,120 -19.2,110 -17.4,100Z" fill="#ddf2fb"/>
<path d="M14.2,56 14.3,59.8 14.3,65.3 14.4,71.5 14.6,77.4 14.8,82 15.1,85.1 15.4,87.2 15.8,88.9 16.3,90.4 17,92 17.9,93.6 18.9,95 20.1,96.4 21.3,98 22.6,100 24,102.6 25.5,105.5 27.1,108.7 28.5,111.9 29.8,115 30.9,118 31.8,121 32.6,124 33.3,127 34,130 34.7,132.8 35.2,135.3 35.8,137.9 36.4,141 37.2,145 38.3,150 39.6,155.9 41,162.3 42.3,168.8 43.6,175 44.8,181 45.9,187 46.9,193 48,199 49.1,205 50.2,211 51.3,217 52.4,223 53.5,229 54.6,235 55.8,241 57,247 58.3,253 59.5,259 60.8,265 62,271 63.2,277 64.4,283 65.6,289 66.8,295 68,301.2 69.3,307.6 70.5,313.9 71.7,319.8 72.7,325 73.6,328.9 74.4,331.7 75.1,334.3 75.8,337.5 76.7,342 77.6,348.3 78.6,355.7 79.6,363.9 80.8,372.1 82,380 83.2,387.4 84.6,394.8 86,402.2 87.5,409.6 89.1,417 90.7,424.6 92.5,432.2 94.3,439.8 96.1,447.4 98,455 99.8,462.8 101.6,470.7 103.5,478.5 105.3,485.8 106.9,492 108.4,497 109.6,500.9 110.9,504.3 112.3,507.5 114,511 115.7,514.4 116.3,515.4 117.2,517 118.3,519 119.9,521.6 110,524.7 97.3,528 88.1,531.7 80,535.6 70.8,538.7 59.2,540.3 46.3,541.1 33.5,541.6 21,542.2 8.5,542.6 -4,542.6 -16.5,542.3 -29,541.6 -41.5,540.6 -54.4,539 -67.2,537 -79,535 -89.6,533.4 -99.1,531.8 -107,529 -111.4,523.7 -109.1,517.2 -107.5,512.6 -107,511 -105.8,507.2 -104.7,503.4 -103.6,499.6 -102.5,495.8 -101.4,492 -100.3,488.2 -99.3,484.4 -98.3,480.5 -97.3,476.7 -96.4,473 -95.5,469.4 -94.7,465.8 -93.9,462.2 -93.1,458.6 -92.3,455 -91.6,451.3 -91,447.5 -90.3,443.6 -89.7,439.8 -89.1,436 -88.5,432.2 -87.9,428.4 -87.4,424.5 -86.8,420.7 -86.2,417 -85.6,413.4 -85,409.8 -84.4,406.2 -83.8,402.6 -83.2,399 -82.6,395.3 -82,391.5 -81.4,387.6 -80.8,383.8 -80.2,380 -79.7,376.2 -79.1,372.4 -78.5,368.6 -77.9,364.8 -77.3,361 -76.5,357.2 -75.8,353.4 -75,349.6 -74.1,345.8 -73.3,342 -72.6,338.3 -71.9,334.8 -71.2,331.2 -70.4,327.4 -69.6,323 -68.6,317.8 -67.5,311.8 -66.4,305.7 -65.4,299.9 -64.5,295 -63.8,291.2 -63.2,288.1 -62.6,285.4 -62.1,282.8 -61.5,280 -60.9,277 -60.4,274 -59.8,271 -59.2,268 -58.5,265 -57.8,262 -57.1,259 -56.3,256 -55.5,253 -54.8,250 -54.1,247 -53.4,244 -52.7,241 -51.9,238 -51.2,235 -50.3,232 -49.4,229 -48.5,226 -47.6,223 -46.8,220 -46,217 -45.3,214 -44.6,211 -43.9,208 -43.1,205 -42.2,202 -41.3,199 -40.4,196 -39.4,193 -38.5,190 -37.7,187 -36.8,184 -36,181 -35.2,178 -34.4,175 -33.6,172 -32.9,169 -32.2,166 -31.5,163 -30.9,160 -30.3,157 -29.7,154 -29.2,151 -28.7,148 -28.1,145 -27.4,142 -26.6,139 -25.9,136 -25.1,133 -24.3,130 -23.4,127 -22.6,124 -21.7,121 -20.9,118 -20.2,115 -19.5,111.9 -19,108.8 -18.5,105.6 -18,102.7 -17.4,100 -16.8,98.1 -16.1,96.8 -15.4,95.5 -14.8,93.5 -14.4,90 -14.2,84.2 -14.1,76.5 -14,68.3 -14,61 -14,56Z" fill="#AADCF1"/>
<path d="M-1.7,58 -1.7,76.3 -0.6,94.5 1.1,112.8 0.5,131.1 -0.6,149.3 -1.2,167.6 -2.6,185.9 -4.5,204.1 -5.9,222.4 -7.5,240.6 -8.7,258.9 -9.6,277.2 -10.4,295.4 -11.1,313.7 -11.8,332 -13.2,350.2 -14.8,368.5 -16,386.8 -17.2,405 -18.2,423.3 -18.9,441.6 -19.9,459.8 -21.4,478.1 -22.9,496.3 -23.6,514.6 -23.1,532.9 19.8,532.9 15.5,514.6 13.2,496.3 12.4,478.1 11.9,459.8 11,441.6 10.1,423.3 9.5,405 9.1,386.8 9,368.5 9.3,350.2 9.1,332 8.4,313.7 7.8,295.4 7.2,277.2 6.7,258.9 6.4,240.6 6.7,222.4 6.8,204.1 7.4,185.9 7.6,167.6 7.1,149.3 7,131.1 6.3,112.8 2.9,94.5 1.2,76.3 1.1,58Z" fill="#8ECAE6" stroke="#78B5D2" stroke-width="0.9" stroke-opacity="0.22"/>
<path d="M-4,58 -4.1,76.3 -3.6,94.5 -3.4,112.8 -5.2,131 -7.3,149.3 -9,167.5 -11.6,185.8 -14.8,204 -17.5,222.3 -20.5,240.6 -23,258.8 -25.2,277.1 -27.1,295.3 -28.9,313.6 -30.7,331.8 -33.1,350.1 -35.5,368.4 -37.6,386.6 -39.8,404.9 -42.1,423.1 -44.4,441.4 -47.2,459.6 -50.9,477.9 -55,496.1 -58.9,514.4 -62.8,532.7 -24.7,532.7 -24.3,514.4 -22.9,496.1 -20.8,477.9 -18.9,459.6 -17.8,441.4 -17,423.1 -16.1,404.9 -15.3,386.6 -14.4,368.4 -13.1,350.1 -12.1,331.8 -11.6,313.6 -11,295.3 -10.3,277.1 -9.4,258.8 -8.1,240.6 -6.4,222.3 -4.8,204 -2.7,185.8 -1.2,167.5 -0.5,149.3 0.6,131 1.2,112.8 -0.5,94.5 -1.5,76.3 -1.5,58Z" fill="#AADCF1" stroke="#78B5D2" stroke-width="0.9" stroke-opacity="0.22"/>
<path d="M-0,58 0.2,76.3 1.7,94.6 4.6,112.9 4.8,131.3 4.6,149.6 4.7,167.9 4,186.2 2.8,204.5 2.1,222.8 1.3,241.1 0.9,259.5 0.9,277.8 1.1,296.1 1.5,314.4 2,332.7 2.1,351 1.9,369.4 2.2,387.7 2.5,406 3,424.3 3.6,442.6 3.7,460.9 3.1,479.2 2.5,497.6 2.9,515.9 4.9,534.2 43.3,534.2 37.8,515.9 34.7,497.6 33.3,479.2 32,460.9 30.3,442.6 28.2,424.3 26.3,406 24.6,387.7 23.1,369.4 22.1,351 20.7,332.7 18.8,314.4 17.3,296.1 15.9,277.8 14.6,259.5 13.7,241.1 13.3,222.8 12.9,204.5 12.9,186.2 12.4,167.9 11.4,149.6 10.6,131.3 9.3,112.9 4.9,94.6 2.8,76.3 2.5,58Z" fill="#8ECAE6" stroke="#78B5D2" stroke-width="0.9" stroke-opacity="0.22"/>
<path d="M1.8,58 2.1,76.2 4,94.3 8.1,112.5 9.4,130.6 10,148.8 11,166.9 11.4,185.1 11.4,203.2 11.9,221.4 12.2,239.5 13.1,257.7 14.1,275.8 15.2,294 16.3,312.1 17.4,330.3 18.2,348.4 18.2,366.6 18.7,384.7 19.6,402.9 20.7,421 22.4,439.2 24.1,457.3 25.6,475.5 27.4,493.6 30.7,511.8 36.3,529.9 69.2,529.9 60.6,511.8 55.1,493.6 51.6,475.5 48.6,457.3 45.5,439.2 42.6,421 40.2,402.9 38.2,384.7 36.6,366.6 35.5,348.4 33.6,330.3 31.3,312.1 29.2,294 27,275.8 24.9,257.7 23,239.5 21.6,221.4 20.1,203.2 19.1,185.1 17.7,166.9 15.9,148.8 14.4,130.6 12.2,112.5 6.7,94.3 4.4,76.2 4,58Z" fill="#9DD3EC" stroke="#78B5D2" stroke-width="0.9" stroke-opacity="0.22"/>
<path d="M-0.9,58 -0.8,76.5 0.6,95.1 2.8,113.6 2.5,132.2 1.8,150.7 1.4,169.3 0.2,187.8 -1.4,206.4 -2.6,224.9 -3.8,243.4 -4.7,262 -5.1,280.5 -5.4,299.1 -5.5,317.6 -5.5,336.2 -6.3,354.7 -7,373.3 -7.4,391.8 -7.7,410.3 -7.9,428.9 -8.1,447.4 -8.9,466 -10.2,484.5 -11.5,503.1 -11.5,521.6 -10,540.2 22.4,540.2 17.7,521.6 15.3,503.1 14.8,484.5 14.6,466 14,447.4 12.9,428.9 11.9,410.3 11.1,391.8 10.4,373.3 10.1,354.7 9.9,336.2 8.8,317.6 7.9,299.1 7.2,280.5 6.6,262 6.4,243.4 6.6,224.9 6.9,206.4 7.5,187.8 7.8,169.3 7.4,150.7 7.2,132.2 6.6,113.6 3.2,95.1 1.3,76.5 1.1,58Z" fill="#8ECAE6" stroke="#78B5D2" stroke-width="0.9" stroke-opacity="0.22"/>
<path d="M-4.2,58 -4.4,76.3 -4,94.6 -4,112.9 -6,131.3 -8.2,149.6 -9.9,167.9 -12.6,186.2 -15.8,204.5 -18.5,222.8 -21.5,241.1 -24.1,259.5 -26.4,277.8 -28.7,296.1 -30.9,314.4 -33.3,332.7 -36.4,351 -39.5,369.3 -42.2,387.7 -45,406 -47.6,424.3 -50,442.6 -52.8,460.9 -56.1,479.2 -59.6,497.5 -62.8,515.9 -65.7,534.2 -36.9,534.2 -36.6,515.9 -35.4,497.5 -33.5,479.2 -31.5,460.9 -30,442.6 -28.7,424.3 -27.1,406 -25.4,387.7 -23.6,369.3 -21.3,351 -19.3,332.7 -17.9,314.4 -16.6,296.1 -15.2,277.8 -13.9,259.5 -12.2,241.1 -10.1,222.8 -8.3,204.5 -5.9,186.2 -4.1,167.9 -3.1,149.6 -1.7,131.3 -0.5,112.9 -1.6,94.6 -2.5,76.3 -2.3,58Z" fill="#C2E8F7" stroke="#78B5D2" stroke-width="0.9" stroke-opacity="0.22"/>
<path d="M-2.5,58 -2.6,76.5 -1.6,94.9 -0.5,113.4 -1.6,131.8 -3,150.3 -4.1,168.8 -6.1,187.2 -8.7,205.7 -10.8,224.1 -13.1,242.6 -15,261.1 -16.4,279.5 -17.7,298 -18.8,316.5 -19.8,334.9 -21.4,353.4 -22.8,371.8 -23.8,390.3 -24.8,408.8 -25.7,427.2 -26.7,445.7 -28.4,464.1 -30.9,482.6 -33.8,501.1 -36.2,519.5 -38,538 -8.5,538 -9.5,519.5 -9.3,501.1 -8,482.6 -6.9,464.1 -6.4,445.7 -6.6,427.2 -6.8,408.8 -6.8,390.3 -6.7,371.8 -6.2,353.4 -5.6,334.9 -5.7,316.5 -5.5,298 -5.1,279.5 -4.6,261.1 -3.7,242.6 -2.3,224.1 -1.1,205.7 0.6,187.2 1.8,168.8 2.1,150.3 2.8,131.8 3,113.4 0.8,94.9 -0.6,76.5 -0.7,58Z" fill="#8ECAE6" stroke="#78B5D2" stroke-width="0.9" stroke-opacity="0.22"/>
<path d="M-1.5,58 -1.5,76.5 -0.3,95.1 1.4,113.6 0.8,132.1 -0.1,150.7 -0.8,169.2 -2.2,187.7 -4.1,206.3 -5.5,224.8 -7,243.4 -8.2,261.9 -8.9,280.4 -9.6,299 -10.3,317.5 -10.9,336 -12.4,354.6 -13.7,373.1 -14.7,391.6 -15.7,410.2 -16.5,428.7 -17.1,447.2 -18.2,465.8 -19.8,484.3 -21.1,502.8 -21.3,521.4 -20.1,539.9 9.7,539.9 5.6,521.4 3.5,502.8 3.3,484.3 3.4,465.8 3.2,447.2 2.7,428.7 2.4,410.2 2.3,391.6 2.4,373.1 2.9,354.6 3.3,336 2.9,317.5 2.6,299 2.4,280.4 2.2,261.9 2.4,243.4 3,224.8 3.5,206.3 4.5,187.7 5.1,169.2 5,150.7 5.2,132.1 5,113.6 2.1,95.1 0.4,76.5 0.3,58Z" fill="#8ECAE6" stroke="#78B5D2" stroke-width="0.9" stroke-opacity="0.22"/>
<path d="M-0.1,58 0,76.5 1.6,94.9 4.3,113.4 4.4,131.9 4.1,150.4 4.2,168.8 3.6,187.3 2.5,205.8 1.9,224.3 1.2,242.7 0.9,261.2 0.8,279.7 0.7,298.2 0.7,316.6 0.8,335.1 -0,353.6 -0.8,372 -1.1,390.5 -1.3,409 -1,427.5 -0.5,445.9 -0.2,464.4 -0.1,482.9 0.2,501.4 2.2,519.8 6,538.3 35.5,538.3 28.9,519.8 24.7,501.4 22.8,482.9 21.3,464.4 19.7,445.9 18,427.5 16.7,409 15.8,390.5 15.2,372 15.1,353.6 14.9,335.1 13.9,316.6 13,298.2 12.1,279.7 11.2,261.2 10.6,242.7 10.4,224.3 10.1,205.8 10.3,187.3 10.1,168.8 9.3,150.4 8.8,131.9 7.8,113.4 4,94.9 2,76.5 1.7,58Z" fill="#9DD3EC" stroke="#78B5D2" stroke-width="0.9" stroke-opacity="0.22"/>
<path d="M0.7,58 1,76.5 2.8,95 6.1,113.5 6.7,131.9 6.7,150.4 7.1,168.9 6.7,187.4 5.9,205.9 5.5,224.4 5.1,242.9 5.1,261.4 5.6,279.8 6.2,298.3 7,316.8 8.1,335.3 8.4,353.8 8.8,372.3 9.5,390.8 10.4,409.3 11.4,427.7 12.5,446.2 12.9,464.7 12.8,483.2 12.8,501.7 14.4,520.2 17.9,538.7 47.5,538.7 41.1,520.2 37.3,501.7 35.7,483.2 34.4,464.7 32.7,446.2 30.5,427.7 28.4,409.3 26.5,390.8 24.8,372.3 23.6,353.8 22.3,335.3 20.1,316.8 18.4,298.3 16.9,279.8 15.5,261.4 14.5,242.9 14,224.4 13.5,205.9 13.4,187.4 13,168.9 11.9,150.4 11,131.9 9.6,113.5 5.2,95 2.9,76.5 2.6,58Z" fill="#9DD3EC" stroke="#78B5D2" stroke-width="0.9" stroke-opacity="0.22"/>
<path d="M-5.6,58 -5.9,76 -5.8,94 -6.8,112.1 -9.4,130.1 -12.2,148.1 -14.6,166.1 -17.9,184.2 -22,202.2 -25.5,220.2 -29.4,238.2 -32.8,256.3 -35.9,274.3 -38.7,292.3 -41.3,310.3 -44.1,328.4 -47.4,346.4 -51,364.4 -54,382.4 -57.3,400.4 -60.8,418.5 -64.2,436.5 -68,454.5 -72.8,472.5 -78.1,490.6 -83.7,508.6 -89.7,526.6 -62,526.6 -58.4,508.6 -54.6,490.6 -50.7,472.5 -47.2,454.5 -44.6,436.5 -42.3,418.5 -39.8,400.4 -37.5,382.4 -35.3,364.4 -32.6,346.4 -30.4,328.4 -28.5,310.3 -26.7,292.3 -24.8,274.3 -22.7,256.3 -20.2,238.2 -17.2,220.2 -14.6,202.2 -11.4,184.2 -8.8,166.1 -7.2,148.1 -5.1,130.1 -3.3,112.1 -3.5,94 -4,76 -3.8,58Z" fill="#AADCF1" stroke="#78B5D2" stroke-width="0.9" stroke-opacity="0.22"/>
<path d="M-6,58 -6.3,76.1 -6.3,94.1 -7.5,112.2 -10.3,130.2 -13.4,148.3 -15.8,166.3 -19.3,184.4 -23.6,202.4 -27.2,220.5 -31.3,238.5 -34.8,256.6 -38,274.6 -41,292.7 -43.8,310.8 -46.9,328.8 -50.4,346.9 -54.4,364.9 -57.8,383 -61.5,401 -65.4,419.1 -69.2,437.1 -73.4,455.2 -78.4,473.2 -84,491.3 -89.7,509.3 -95.9,527.4 -70.5,527.4 -66.5,509.3 -62.3,491.3 -58.1,473.2 -54.2,455.2 -51.1,437.1 -48.3,419.1 -45.4,401 -42.6,383 -40,364.9 -36.9,346.9 -34.2,328.8 -32,310.8 -30,292.7 -27.9,274.6 -25.5,256.6 -22.8,238.5 -19.6,220.5 -16.8,202.4 -13.3,184.4 -10.6,166.3 -8.7,148.3 -6.4,130.2 -4.4,112.2 -4.2,94.1 -4.5,76.1 -4.3,58Z" fill="#9DD3EC" stroke="#78B5D2" stroke-width="0.9" stroke-opacity="0.22"/>
<path d="M-3.1,58 -3.3,76.5 -2.5,95 -1.9,113.5 -3.4,132 -5.1,150.5 -6.5,169 -8.8,187.5 -11.7,206 -14,224.5 -16.4,243 -18.5,261.5 -20,280 -21.5,298.5 -22.9,317 -24.3,335.5 -26.5,354 -28.5,372.6 -30.3,391.1 -32.3,409.6 -34.2,428.1 -36.2,446.6 -38.9,465.1 -42.2,483.6 -45.6,502.1 -48.4,520.6 -50.6,539.1 -23.3,539.1 -23.9,520.6 -23.1,502.1 -21.1,483.6 -19.1,465.1 -17.7,446.6 -16.7,428.1 -15.8,409.6 -14.8,391.1 -13.8,372.6 -12.5,354 -11.3,335.5 -10.8,317 -10.3,298.5 -9.7,280 -9,261.5 -7.8,243 -6.2,224.5 -4.7,206 -2.7,187.5 -1.1,169 -0.4,150.5 0.7,132 1.4,113.5 -0.3,95 -1.5,76.5 -1.4,58Z" fill="#9DD3EC" stroke="#78B5D2" stroke-width="0.9" stroke-opacity="0.22"/>
<path d="M1.7,58 1.9,76.3 3.9,94.6 7.8,112.9 8.8,131.3 9.3,149.6 10.1,167.9 10.4,186.2 10.2,204.5 10.5,222.8 10.9,241.1 11.7,259.4 12.7,277.8 13.9,296.1 15.1,314.4 16.4,332.7 17,351 17.1,369.3 17.6,387.6 18.3,405.9 19.2,424.3 20.4,442.6 21.5,460.9 22.3,479.2 23.6,497.5 26.7,515.8 32.3,534.1 58.8,534.1 50.7,515.8 45.7,497.5 43.1,479.2 41,460.9 38.8,442.6 36.5,424.3 34.7,405.9 33,387.6 31.7,369.3 30.8,351 29.3,332.7 27,314.4 25,296.1 23,277.8 21.1,259.4 19.4,241.1 18.2,222.8 17.1,204.5 16.4,186.2 15.5,167.9 14,149.6 12.8,131.3 11,112.9 6,94.6 3.7,76.3 3.4,58Z" fill="#8ECAE6" stroke="#78B5D2" stroke-width="0.9" stroke-opacity="0.22"/>
<path d="M-6.7,58 -7.1,76.1 -7.3,94.1 -9,112.2 -12.2,130.2 -15.6,148.3 -18.4,166.4 -22.4,184.4 -27.1,202.5 -31.3,220.6 -36,238.6 -40,256.7 -43.8,274.7 -47.2,292.8 -50.5,310.9 -53.8,328.9 -57.6,347 -61.6,365 -65,383.1 -68.7,401.2 -72.7,419.2 -76.6,437.3 -81.2,455.3 -87,473.4 -93.4,491.5 -100.5,509.5 -108.6,527.6 -85.4,527.6 -79.4,509.5 -73.8,491.5 -68.5,473.4 -63.8,455.3 -60.2,437.3 -57.2,419.2 -54,401.2 -51.2,383.1 -48.5,365 -45.3,347 -42.3,328.9 -39.8,310.9 -37.3,292.8 -34.6,274.7 -31.6,256.7 -28.3,238.6 -24.4,220.6 -20.9,202.5 -16.9,184.4 -13.6,166.4 -11.4,148.3 -8.6,130.2 -6.1,112.2 -5.4,94.1 -5.5,76.1 -5.2,58Z" fill="#C2E8F7" stroke="#78B5D2" stroke-width="0.9" stroke-opacity="0.22"/>
<path d="M-4.9,58 -5.1,76.3 -4.9,94.6 -5.4,112.9 -7.7,131.2 -10.2,149.5 -12.3,167.8 -15.5,186 -19.3,204.3 -22.6,222.6 -26.3,240.9 -29.4,259.2 -32.2,277.5 -34.8,295.8 -37.1,314.1 -39.5,332.4 -42.3,350.7 -45.2,369 -47.5,387.3 -50.1,405.5 -52.8,423.8 -55.5,442.1 -58.9,460.4 -63.4,478.7 -68.4,497 -73.7,515.3 -79.3,533.6 -55.4,533.6 -52,515.3 -48.3,497 -44.5,478.7 -41.2,460.4 -38.8,442.1 -37.1,423.8 -35.3,405.5 -33.5,387.3 -31.9,369 -29.8,350.7 -27.8,332.4 -26.2,314.1 -24.7,295.8 -22.9,277.5 -20.9,259.2 -18.5,240.9 -15.6,222.6 -13,204.3 -9.9,186 -7.5,167.8 -5.9,149.5 -4,131.2 -2.4,112.9 -2.9,94.6 -3.5,76.3 -3.3,58Z" fill="#AADCF1" stroke="#78B5D2" stroke-width="0.9" stroke-opacity="0.22"/>
<path d="M2.6,58 2.9,76.3 5.1,94.7 9.7,113 11.2,131.3 12.1,149.7 13.3,168 13.9,186.4 14.2,204.7 14.9,223 15.6,241.4 16.8,259.7 18.4,278 20.1,296.4 21.9,314.7 24,333 25.4,351.4 26.4,369.7 27.7,388 29.3,406.4 30.9,424.7 32.8,443.1 34.5,461.4 35.8,479.7 37.4,498.1 41.1,516.4 47.4,534.7 71.5,534.7 63,516.4 57.6,498.1 54.7,479.7 52.2,461.4 49.5,443.1 46.7,424.7 44.1,406.4 41.7,388 39.7,369.7 38,351.4 35.7,333 32.8,314.7 30.2,296.4 27.7,278 25.4,259.7 23.4,241.4 21.9,223 20.4,204.7 19.5,186.4 18.2,168 16.3,149.7 14.9,131.3 12.6,113 7.1,94.7 4.6,76.3 4.1,58Z" fill="#AADCF1" stroke="#78B5D2" stroke-width="0.9" stroke-opacity="0.22"/>
<path d="M3.4,58 3.9,75.9 6,93.9 11.2,111.8 13.3,129.8 14.5,147.7 16.1,165.6 17.1,183.6 17.7,201.5 18.7,219.4 19.7,237.4 21.3,255.3 23.1,273.3 25.2,291.2 27.5,309.1 30,327.1 32.6,345 34.2,363 36.1,380.9 38.2,398.8 40.5,416.8 42.9,434.7 45.3,452.7 47.1,470.6 48.9,488.5 51.5,506.5 56.8,524.4 79.6,524.4 72.4,506.5 68.3,488.5 65.4,470.6 62.5,452.7 59.2,434.7 55.9,416.8 52.8,398.8 49.8,380.9 47.2,363 44.9,345 41.4,327.1 38.2,309.1 35.1,291.2 32.3,273.3 29.7,255.3 27.3,237.4 25.5,219.4 23.9,201.5 22.5,183.6 20.8,165.6 18.7,147.7 16.9,129.8 14.1,111.8 7.9,93.9 5.5,75.9 5,58Z" fill="#C2E8F7" stroke="#78B5D2" stroke-width="0.9" stroke-opacity="0.22"/>
<path d="M4.7,58 5.2,75.5 7.3,93.1 13.4,110.6 16.3,128.1 18,145.7 20.1,163.2 21.9,180.7 23.2,198.2 24.7,215.8 26.3,233.3 28.4,250.8 30.8,268.4 33.4,285.9 36.2,303.4 39.1,321 42.5,338.5 44.8,356 47.1,373.5 49.8,391.1 52.7,408.6 55.9,426.1 59.3,443.7 62.4,461.2 65.3,478.7 68.4,496.3 73.7,513.8 95.3,513.8 88.5,496.3 84.1,478.7 80.1,461.2 76,443.7 71.7,426.1 67.7,408.6 63.9,391.1 60.5,373.5 57.6,356 54.5,338.5 50.2,321 46.6,303.4 43.1,285.9 39.7,268.4 36.6,250.8 33.7,233.3 31.4,215.8 29.2,198.2 27.2,180.7 24.8,163.2 22.2,145.7 19.8,128.1 16.2,110.6 9.2,93.1 6.8,75.5 6.3,58Z" fill="#AADCF1" stroke="#78B5D2" stroke-width="0.9" stroke-opacity="0.22"/>
<path d="M-2.1,58 -2.1,76.2 -1.1,94.4 0.3,112.6 -0.5,130.8 -1.8,149 -2.6,167.2 -4.3,185.4 -6.6,203.6 -8.3,221.8 -10.4,239.9 -11.8,258.1 -13,276.3 -13.9,294.5 -14.7,312.7 -15.4,330.9 -16.6,349.1 -18.1,367.3 -19.1,385.5 -20.2,403.7 -21.4,421.9 -22.4,440.1 -23.8,458.3 -26,476.5 -28.5,494.7 -30.5,512.9 -31.7,531.1 -8.1,531.1 -9,512.9 -8.6,494.7 -7.3,476.5 -6.2,458.3 -5.8,440.1 -5.7,421.9 -5.5,403.7 -5.2,385.5 -4.9,367.3 -4.1,349.1 -3.8,330.9 -3.9,312.7 -3.9,294.5 -3.7,276.3 -3.3,258.1 -2.6,239.9 -1.4,221.8 -0.3,203.6 1.2,185.4 2.2,167.2 2.4,149 3.1,130.8 3.2,112.6 0.8,94.4 -0.5,76.2 -0.5,58Z" fill="#9DD3EC" stroke="#78B5D2" stroke-width="0.9" stroke-opacity="0.22"/>
<path d="M4.5,58 5,75.8 7.2,93.7 13.1,111.5 15.8,129.3 17.5,147.2 19.6,165 21.3,182.8 22.7,200.7 24.4,218.5 26.2,236.3 28.4,254.2 30.9,272 33.4,289.8 36,307.7 38.5,325.5 41.3,343.3 42.8,361.2 44.5,379 46.6,396.8 49.1,414.7 52.1,432.5 55.4,450.3 58.6,468.2 62.1,486 66.7,503.8 74.4,521.7 94.6,521.7 85.2,503.8 79.5,486 75,468.2 70.8,450.3 66.6,432.5 62.9,414.7 59.6,396.8 56.7,379 54.4,361.2 52.2,343.3 48.7,325.5 45.5,307.7 42.3,289.8 39,272 35.9,254.2 33,236.3 30.5,218.5 28.2,200.7 26.2,182.8 23.9,165 21.3,147.2 19,129.3 15.7,111.5 8.9,93.7 6.4,75.8 5.9,58Z" fill="#AADCF1" stroke="#78B5D2" stroke-width="0.9" stroke-opacity="0.22"/>
<path d="M-7.1,58 -7.6,75.6 -7.8,93.1 -9.7,110.7 -12.7,128.3 -16.3,145.8 -19.1,163.4 -23,180.9 -27.8,198.5 -32.2,216.1 -37,233.6 -41.4,251.2 -45.7,268.8 -49.4,286.3 -53,303.9 -56.5,321.4 -60.2,339 -64.4,356.6 -67.9,374.1 -71.3,391.7 -75,409.3 -78.7,426.8 -82.6,444.4 -87.4,461.9 -93.3,479.5 -100,497.1 -107.6,514.6 -90.2,514.6 -84,497.1 -78.2,479.5 -73.2,461.9 -69.2,444.4 -66,426.8 -62.9,409.3 -59.9,391.7 -57.1,374.1 -54.2,356.6 -50.6,339 -47.6,321.4 -44.7,303.9 -41.7,286.3 -38.5,268.8 -34.8,251.2 -31.1,233.6 -26.8,216.1 -22.9,198.5 -18.7,180.9 -15.4,163.4 -13,145.8 -9.9,128.3 -7.4,110.7 -6.3,93.1 -6.3,75.6 -5.9,58Z" fill="#C2E8F7" stroke="#78B5D2" stroke-width="0.9" stroke-opacity="0.22"/>
<path d="M5.4,58 6,75.7 8.4,93.5 14.9,111.2 18.1,128.9 20.1,146.7 22.6,164.4 24.7,182.1 26.4,199.9 28.5,217.6 30.7,235.3 33.4,253.1 36.3,270.8 39.4,288.5 42.5,306.3 45.7,324 49.3,341.7 51.6,359.4 53.9,377.2 56.7,394.9 59.8,412.6 63.2,430.4 67,448.1 70.6,465.8 74.4,483.6 79,501.3 86.8,519 104.5,519 95.3,501.3 89.7,483.6 85,465.8 80.6,448.1 76.1,430.4 71.9,412.6 68.1,394.9 64.7,377.2 61.9,359.4 59,341.7 54.8,324 51,306.3 47.2,288.5 43.6,270.8 40,253.1 36.7,235.3 34,217.6 31.3,199.9 29,182.1 26.4,164.4 23.5,146.7 20.9,128.9 17.2,111.2 9.9,93.5 7.3,75.7 6.7,58Z" fill="#C2E8F7" stroke="#78B5D2" stroke-width="0.9" stroke-opacity="0.22"/>
<path d="M6.2,58 6.8,75.4 9.1,92.8 16.1,110.2 19.9,127.5 22.3,144.9 25,162.3 27.4,179.7 29.5,197.1 31.8,214.5 34.1,231.8 36.9,249.2 40,266.6 43.2,284 46.6,301.4 50.2,318.8 54.3,336.1 57.5,353.5 60.3,370.9 63.7,388.3 67.6,405.7 71.7,423.1 76.2,440.4 80.6,457.8 84.9,475.2 89.4,492.6 95.7,510 110.5,510 103.2,492.6 97.9,475.2 92.9,457.8 87.8,440.4 82.7,423.1 77.9,405.7 73.6,388.3 69.7,370.9 66.3,353.5 62.6,336.1 57.9,318.8 53.9,301.4 50,284 46.2,266.6 42.6,249.2 39.3,231.8 36.4,214.5 33.7,197.1 31.1,179.7 28.3,162.3 25.1,144.9 22.3,127.5 18.1,110.2 10.4,92.8 7.9,75.4 7.3,58Z" fill="#C2E8F7" stroke="#78B5D2" stroke-width="0.9" stroke-opacity="0.22"/>
<rect x="-170" y="56" width="340" height="210" fill="url(#top9)" clip-path="url(#tc1)"/>
<path d="M-54.1,395 -52.1,440 -50.7,480 -52.6,440Z" fill="#C2E8F7" opacity="0.8"/>
<path d="M-17.5,290 -20.9,380 -24.6,470 -22.4,380Z" fill="#C2E8F7" opacity="0.8"/>
<path d="M32.4,250 37.9,340 45.1,425 40.4,340Z" fill="#C2E8F7" opacity="0.8"/>
<path d="M52,280 53.2,293.6 55.5,312.6 58.5,334.8 61.8,358.4 65.3,381.2 68.8,401.1 72.1,418.4 75.5,435.1 79.7,450.8 84.2,465.6 89.2,479.7 94.9,492.9 101.9,505.5 110.1,517.3 118.7,528 126.8,537.4 133.5,545 138.4,550.8 147.6,543.2 142.8,537.3 135.8,529.5 127.8,520.2 119.5,509.8 111.7,498.6 105.4,487.1 100.3,474.8 95.5,461.5 91.2,447.1 87,431.8 82.5,415.8 78,398.9 73.3,379.5 68.5,357.1 63.8,333.9 59.4,311.9 55.4,293.2 52,280Z" fill="#c6eaf8" opacity="0.9"/>
<path d="M78.1,494 79.6,496.7 82.2,499.9 85.4,503.5 88.7,507.3 92,511.2 94.9,514.6 97.9,518.1 101,522.2 103.9,526.4 106.7,530.4 109,533.8 110.7,536.3 117.3,531.7 115.6,529.3 113.3,525.9 110.6,521.9 107.5,517.5 104.3,513.3 101.1,509.4 97.4,505.9 93,502.7 88.7,499.7 84.5,497.1 81,495.1 78.1,494Z" fill="#c6eaf8" opacity="0.9"/>
<path d="M-60.1,330 -64.1,343.4 -69,362.6 -74.7,385.1 -80.6,408.6 -86.4,430.7 -91.5,448.9 -96,463.8 -100.3,477.1 -104,489.2 -107.5,500 -110.5,509.7 -113.2,518.3 -115.6,525.5 -117.8,531.4 -119.8,536.2 -121.5,540 -123,543.3 -124.1,545.8 -113.9,550.2 -112.8,547.6 -111.5,544.6 -109.7,540.6 -107.7,535.6 -105.3,529.3 -102.8,521.7 -100,513 -97,503.3 -93.6,492.3 -89.9,480.1 -86.6,466.3 -83.1,451.1 -79.1,432.3 -74.5,409.9 -69.8,386.1 -65.5,363.3 -62,343.8 -60.1,330Z" fill="#c6eaf8" opacity="0.9"/>
<path d="M-95,500 -97.7,504.2 -100.8,510.4 -104.2,517.8 -107.6,525.5 -110.7,532.7 -112.8,538.7 -114.1,543.7 -115.1,548 -115.8,551.7 -116.2,554.8 -116.6,557.2 -116.9,559.2 -107.1,560.8 -106.7,558.9 -106.4,556.3 -105.9,553.3 -105.2,549.8 -104.4,545.8 -103.2,541.3 -101.7,535.4 -100.1,527.9 -98.3,519.7 -96.6,511.8 -95.3,505 -95,500Z" fill="#c6eaf8" opacity="0.9"/>
<path d="M-113.5,519.5 -101.7,519.5 -106.3,555.3 -118,557.4Z" fill="url(#end9)"/>
<path d="M-98.4,493.3 -84.9,493.3 -92.1,558.9 -105.7,561Z" fill="url(#end9)"/>
<path d="M-85.6,496.7 -72.2,496.7 -78.4,564 -91.8,562.8Z" fill="url(#end9)"/>
<path d="M-73.7,504.6 -62.2,504.6 -67,565.6 -78.4,564.5Z" fill="url(#end9)"/>
<path d="M-61,493 -48.4,493 -53.3,568.8 -65.9,567.1Z" fill="url(#end9)"/>
<path d="M-48.9,491.8 -40.2,491.8 -44.3,569.2 -53.1,567.8Z" fill="url(#end9)"/>
<path d="M-42.6,513.2 -28.7,513.2 -31.2,574.3 -45.1,576.6Z" fill="url(#end9)"/>
<path d="M-29.1,493.3 -17,493.3 -19.2,571.3 -31.3,572.3Z" fill="url(#end9)"/>
<path d="M-17.1,509.1 -3.8,509.1 -4.5,574 -17.9,572.4Z" fill="url(#end9)"/>
<path d="M-5.9,503.4 2.5,503.4 2.4,574.7 -6,572.3Z" fill="url(#end9)"/>
<path d="M2.1,497.8 12.1,497.8 12.7,573.3 2.7,573.3Z" fill="url(#end9)"/>
<path d="M11,519.2 21.9,519.2 22.9,574.5 12,576.7Z" fill="url(#end9)"/>
<path d="M19.7,520.8 32.2,520.8 33.9,575.6 21.4,576.9Z" fill="url(#end9)"/>
<path d="M30.9,514.1 42.3,514.1 44.7,571 33.2,569.5Z" fill="url(#end9)"/>
<path d="M41.8,495.9 51,495.9 55.1,573.1 45.9,575.2Z" fill="url(#end9)"/>
<path d="M49.9,497.6 60,497.6 64.7,572.9 54.6,571Z" fill="url(#end9)"/>
<path d="M61,517 73.8,517 78,571.9 65.3,574Z" fill="url(#end9)"/>
<path d="M69.7,489.4 79.8,489.4 86.5,567.8 76.4,567Z" fill="url(#end9)"/>
<path d="M81.1,497.8 92.4,497.8 98.7,561.5 87.5,559.9Z" fill="url(#end9)"/>
<path d="M88.7,480.5 97.6,480.5 106.2,561.2 97.3,559.6Z" fill="url(#end9)"/>
<path d="M97.1,491.8 111,491.8 118.9,557.6 105,556.3Z" fill="url(#end9)"/>
<path d="M115.8,529.6 128.7,529.6 132,554.3 119,552.1Z" fill="url(#end9)"/>
<path d="M65,388 68,388 87,498 82.5,498Z" fill="#fff" opacity="0.85"/>
<path d="M82.3,480 85.3,480 91,532 88,532Z" fill="#fff" opacity="0.85"/>
<path d="M107,430 109,430 118,500 116,500Z" fill="#fff" opacity="0.85"/>
<path d="M-38.1,330 -36.9,330 -45,430 -46.2,430Z" fill="#fff" opacity="0.85"/>
<path d="M-13.2,0 L13.2,0 L14.2,56 L-14,56Z" fill="#A0D3E8"/>
<path d="M-14,55 L14.2,55 L14.8,86 L15.2,96 L-14.8,100 L-14.5,90Z" fill="#a6d8ed"/>
<path d="M-4,58 L-3.6,120 L-3.2,250" stroke="url(#fold9)" stroke-width="1.2" fill="none"/>
<rect x="-17.5" y="48.9" width="32.5" height="7.4" rx="1.2" fill="url(#band)"/>
<path d="M14.8,52.4 L17.5,52.4" stroke="#6b5a3a" stroke-width="1"/>
</g>
<g fill="#000" stroke="none">
<rect x="302" y="97" width="2.3" height="581"/>
<rect x="288" y="95" width="30" height="2.3"/>
<rect x="288" y="678" width="30" height="2.3"/>
<path d="M303.1,96.5 L309.2,109 L303.1,106.2 L297,109Z"/>
<path d="M303.1,679.5 L309.2,667 L303.1,669.8 L297,667Z"/>
<rect x="149" y="1457.7" width="1303" height="2.6"/>
<rect x="147.6" y="1444.2" width="2.6" height="29.5"/>
<rect x="1450.7" y="1444.2" width="2.6" height="29.5"/>
<path d="M150,1459 L162,1453.2 L159.4,1459 L162,1464.8Z"/>
<path d="M1451,1459 L1439,1453.2 L1441.6,1459 L1439,1464.8Z"/>
</g>
<text x="396.2" y="1537.2" font-size="50">Rope Length: 2~2.5m/6.56~8.2 Feet</text>
<text transform="translate(221.5,248.5) rotate(90)" font-size="50">35cm/13.78"</text>
</svg></body></html>
